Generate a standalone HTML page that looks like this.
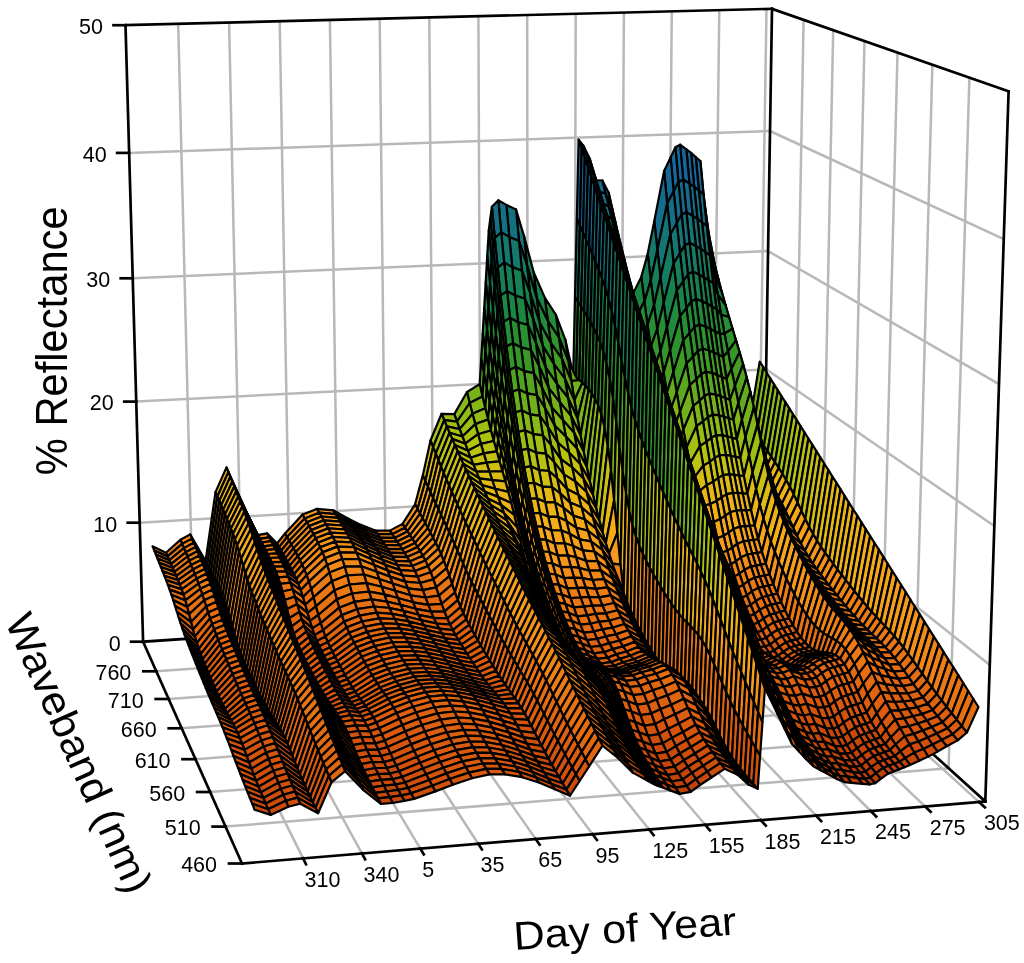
<!DOCTYPE html>
<html><head><meta charset="utf-8"><style>
html,body{margin:0;padding:0;background:#fff;}
svg{display:block}
.g{stroke:#b8b8b8;stroke-width:2.5}
.k{stroke:#000;stroke-width:2.7;stroke-linecap:square}
path{stroke:#000;stroke-width:2.2;stroke-linejoin:round}
.t{font-family:"Liberation Sans",Arial,sans-serif;font-size:21.5px;fill:#000}
.T{font-family:"Liberation Sans",Arial,sans-serif;font-size:100px;fill:#000}
.c0{fill:#7eb619}.c1{fill:#cfbf11}.c2{fill:#bec30f}.c3{fill:#7bb419}.c4{fill:#359727}.c5{fill:#18824c}.c6{fill:#147675}.c7{fill:#146b93}.c8{fill:#146998}.c9{fill:#14689a}.c10{fill:#14689b}.c11{fill:#14679d}.c12{fill:#14689c}.c13{fill:#146997}.c14{fill:#146e8c}.c15{fill:#14796c}.c16{fill:#178053}.c17{fill:#1b8643}.c18{fill:#1c8642}.c19{fill:#18824d}.c20{fill:#14796b}.c21{fill:#147084}.c22{fill:#146c91}.c23{fill:#146999}.c24{fill:#1466a0}.c25{fill:#1465a3}.c26{fill:#2a9032}.c27{fill:#4ba123}.c28{fill:#2e932d}.c29{fill:#248c39}.c30{fill:#198348}.c31{fill:#157b63}.c32{fill:#147479}.c33{fill:#147280}.c34{fill:#147184}.c35{fill:#14727e}.c36{fill:#147576}.c37{fill:#177f56}.c38{fill:#1c8643}.c39{fill:#298f33}.c40{fill:#3b9a26}.c41{fill:#5da91f}.c42{fill:#79b31a}.c43{fill:#87b917}.c44{fill:#9cbf13}.c45{fill:#a7c012}.c46{fill:#d6bd12}.c47{fill:#f5ac19}.c48{fill:#f5961c}.c49{fill:#ef8316}.c50{fill:#ed7f15}.c51{fill:#ef8517}.c52{fill:#f28e19}.c53{fill:#f6981c}.c54{fill:#f69b1b}.c55{fill:#f69b1c}.c56{fill:#f4921a}.c57{fill:#ee8015}.c58{fill:#f69e1b}.c59{fill:#eab615}.c60{fill:#e8b715}.c61{fill:#f6a11b}.c62{fill:#f08617}.c63{fill:#ed7e15}.c64{fill:#ec7a14}.c65{fill:#83b718}.c66{fill:#d4be12}.c67{fill:#c5c110}.c68{fill:#409c25}.c69{fill:#1b8544}.c70{fill:#157a66}.c71{fill:#14727f}.c72{fill:#146f87}.c73{fill:#146f8a}.c74{fill:#146d8f}.c75{fill:#146e8d}.c76{fill:#147086}.c77{fill:#147577}.c78{fill:#177f57}.c79{fill:#1d8741}.c80{fill:#278e36}.c81{fill:#268d37}.c82{fill:#167d5e}.c83{fill:#14737b}.c84{fill:#146f89}.c85{fill:#146a96}.c86{fill:#157a68}.c87{fill:#2b9131}.c88{fill:#5ea91f}.c89{fill:#429d25}.c90{fill:#2f942c}.c91{fill:#238c39}.c92{fill:#18824e}.c93{fill:#14786f}.c94{fill:#157969}.c95{fill:#167c61}.c96{fill:#278e35}.c97{fill:#329628}.c98{fill:#4fa322}.c99{fill:#6daf1c}.c100{fill:#85b817}.c101{fill:#91bc15}.c102{fill:#a3c012}.c103{fill:#adc111}.c104{fill:#dcbc13}.c105{fill:#f5aa19}.c106{fill:#f5941b}.c107{fill:#ef8216}.c108{fill:#ef8417}.c109{fill:#f28d19}.c110{fill:#f6971c}.c111{fill:#f69a1c}.c112{fill:#ee7f15}.c113{fill:#f69d1b}.c114{fill:#ebb516}.c115{fill:#e9b715}.c116{fill:#f6a01b}.c117{fill:#f08517}.c118{fill:#ed7d15}.c119{fill:#eb7a14}.c120{fill:#d9bc12}.c121{fill:#cbc011}.c122{fill:#8bba16}.c123{fill:#20893e}.c124{fill:#147772}.c125{fill:#14747a}.c126{fill:#147771}.c127{fill:#157c62}.c128{fill:#288f34}.c129{fill:#319529}.c130{fill:#2f942b}.c131{fill:#147673}.c132{fill:#147181}.c133{fill:#146b92}.c134{fill:#14699a}.c135{fill:#157b64}.c136{fill:#2c9130}.c137{fill:#70b01c}.c138{fill:#5ca820}.c139{fill:#439e25}.c140{fill:#2e932c}.c141{fill:#20893d}.c142{fill:#178055}.c143{fill:#177f58}.c144{fill:#178054}.c145{fill:#329629}.c146{fill:#49a023}.c147{fill:#62ab1e}.c148{fill:#7cb519}.c149{fill:#92bc15}.c150{fill:#a9c012}.c151{fill:#b3c210}.c152{fill:#e2ba13}.c153{fill:#f5a81a}.c154{fill:#f4931b}.c155{fill:#ee8216}.c156{fill:#ef8416}.c157{fill:#f28c19}.c158{fill:#f4911a}.c159{fill:#ee8116}.c160{fill:#f69c1b}.c161{fill:#ecb416}.c162{fill:#f69f1b}.c163{fill:#ed7c14}.c164{fill:#eb7914}.c165{fill:#ddbb13}.c166{fill:#d2be12}.c167{fill:#93bd15}.c168{fill:#55a621}.c169{fill:#258d38}.c170{fill:#198349}.c171{fill:#167d5c}.c172{fill:#167d5f}.c173{fill:#167e5b}.c174{fill:#349728}.c175{fill:#4aa123}.c176{fill:#419d25}.c177{fill:#2d932e}.c178{fill:#198447}.c179{fill:#146d8d}.c180{fill:#146b94}.c181{fill:#2d922e}.c182{fill:#76b21a}.c183{fill:#73b11b}.c184{fill:#2c922f}.c185{fill:#218a3d}.c186{fill:#228a3b}.c187{fill:#5faa1f}.c188{fill:#74b21b}.c189{fill:#8aba16}.c190{fill:#9ebf13}.c191{fill:#afc111}.c192{fill:#b9c210}.c193{fill:#e6b914}.c194{fill:#f5a61a}.c195{fill:#f5961b}.c196{fill:#f6991c}.c197{fill:#f3901a}.c198{fill:#edb316}.c199{fill:#ed7d14}.c200{fill:#ec7b14}.c201{fill:#ea7813}.c202{fill:#90bc15}.c203{fill:#d8bc12}.c204{fill:#9bbf13}.c205{fill:#19834a}.c206{fill:#18814f}.c207{fill:#198446}.c208{fill:#63ab1e}.c209{fill:#57a621}.c210{fill:#399927}.c211{fill:#1f883f}.c212{fill:#167c60}.c213{fill:#147478}.c214{fill:#146a97}.c215{fill:#167d5d}.c216{fill:#89b917}.c217{fill:#3e9b26}.c218{fill:#299033}.c219{fill:#4da223}.c220{fill:#63ac1e}.c221{fill:#84b818}.c222{fill:#98be14}.c223{fill:#abc111}.c224{fill:#b2c210}.c225{fill:#b5c210}.c226{fill:#f5a41a}.c227{fill:#f38f1a}.c228{fill:#ec7c14}.c229{fill:#f18b18}.c230{fill:#f5951b}.c231{fill:#eeb217}.c232{fill:#ea7713}.c233{fill:#94bd14}.c234{fill:#debb13}.c235{fill:#a4c012}.c236{fill:#69ae1d}.c237{fill:#248c38}.c238{fill:#238b3a}.c239{fill:#228a3c}.c240{fill:#258d37}.c241{fill:#68ad1d}.c242{fill:#7ab41a}.c243{fill:#6baf1d}.c244{fill:#14796a}.c245{fill:#146c90}.c246{fill:#177e59}.c247{fill:#81b718}.c248{fill:#9fbf13}.c249{fill:#88b917}.c250{fill:#59a720}.c251{fill:#339628}.c252{fill:#389927}.c253{fill:#66ad1e}.c254{fill:#86b817}.c255{fill:#b8c210}.c256{fill:#bcc30f}.c257{fill:#bbc30f}.c258{fill:#c4c210}.c259{fill:#f5a21a}.c260{fill:#f18a18}.c261{fill:#f38e19}.c262{fill:#efb117}.c263{fill:#99be14}.c264{fill:#e4b914}.c265{fill:#acc111}.c266{fill:#72b11b}.c267{fill:#30952a}.c268{fill:#30942b}.c269{fill:#2d932d}.c270{fill:#31952a}.c271{fill:#3f9c25}.c272{fill:#7fb619}.c273{fill:#8fbb15}.c274{fill:#7eb519}.c275{fill:#2b9130}.c276{fill:#18814e}.c277{fill:#146e8a}.c278{fill:#177f55}.c279{fill:#b6c210}.c280{fill:#9dbf13}.c281{fill:#71b11b}.c282{fill:#5ca920}.c283{fill:#55a521}.c284{fill:#53a521}.c285{fill:#8fbc15}.c286{fill:#a5c012}.c287{fill:#c3c210}.c288{fill:#c6c110}.c289{fill:#c1c20f}.c290{fill:#c9c010}.c291{fill:#ecb316}.c292{fill:#f18918}.c293{fill:#f0b017}.c294{fill:#e97613}.c295{fill:#e8b815}.c296{fill:#369827}.c297{fill:#459e24}.c298{fill:#48a024}.c299{fill:#439d25}.c300{fill:#5aa820}.c301{fill:#7db519}.c302{fill:#6caf1c}.c303{fill:#167e5a}.c304{fill:#147085}.c305{fill:#147182}.c306{fill:#188151}.c307{fill:#8ebb16}.c308{fill:#b4c210}.c309{fill:#a0bf13}.c310{fill:#6fb01c}.c311{fill:#6aae1d}.c312{fill:#75b21b}.c313{fill:#80b618}.c314{fill:#a6c012}.c315{fill:#c7c110}.c316{fill:#cebf11}.c317{fill:#f18818}.c318{fill:#f1b018}.c319{fill:#e97513}.c320{fill:#ebb416}.c321{fill:#bdc30f}.c322{fill:#4ca223}.c323{fill:#5ba820}.c324{fill:#5eaa1f}.c325{fill:#65ac1e}.c326{fill:#3d9b26}.c327{fill:#1e8840}.c328{fill:#147770}.c329{fill:#14737d}.c330{fill:#3c9a26}.c331{fill:#97be14}.c332{fill:#dfbb13}.c333{fill:#c8c010}.c334{fill:#b7c210}.c335{fill:#8dbb16}.c336{fill:#82b718}.c337{fill:#81b618}.c338{fill:#8cba16}.c339{fill:#96be14}.c340{fill:#c0c30f}.c341{fill:#d1be11}.c342{fill:#d8bd12}.c343{fill:#ccc011}.c344{fill:#f08817}.c345{fill:#f08717}.c346{fill:#f2ae18}.c347{fill:#e87413}.c348{fill:#76b31a}.c349{fill:#78b31a}.c350{fill:#c2c210}.c351{fill:#d0be11}.c352{fill:#15796a}.c353{fill:#147578}.c354{fill:#469f24}.c355{fill:#eab515}.c356{fill:#dbbc13}.c357{fill:#d2be11}.c358{fill:#e3ba14}.c359{fill:#f2af18}.c360{fill:#f3911a}.c361{fill:#f3ad18}.c362{fill:#e87313}.c363{fill:#aec111}.c364{fill:#f0b117}.c365{fill:#9abf13}.c366{fill:#67ad1d}.c367{fill:#c2c20f}.c368{fill:#d7bd12}.c369{fill:#58a720}.c370{fill:#288e35}.c371{fill:#1a8545}.c372{fill:#14737c}.c373{fill:#54a521}.c374{fill:#cdbf11}.c375{fill:#b1c111}.c376{fill:#e5b914}.c377{fill:#f4ad19}.c378{fill:#f28b18}.c379{fill:#f38f19}.c380{fill:#f3ae18}.c381{fill:#e77212}.c382{fill:#a8c012}.c383{fill:#e7b814}.c384{fill:#1e883f}.c385{fill:#68ae1d}.c386{fill:#e1ba13}.c387{fill:#cac010}.c388{fill:#cac011}.c389{fill:#dabc13}.c390{fill:#f5ab19}.c391{fill:#e77312}.c392{fill:#e67012}.c393{fill:#bac30f}.c394{fill:#87b817}.c395{fill:#b0c111}.c396{fill:#c8c110}.c397{fill:#c4c110}.c398{fill:#157b65}.c399{fill:#f5a31a}.c400{fill:#f4ac19}.c401{fill:#f1af18}.c402{fill:#e7b914}.c403{fill:#f5a919}.c404{fill:#e66f12}.c405{fill:#f08818}.c406{fill:#f5a71a}.c407{fill:#e77112}.c408{fill:#e56e12}.c409{fill:#c0c20f}.c410{fill:#e0ba13}.c411{fill:#188150}.c412{fill:#14786d}.c413{fill:#e56f12}.c414{fill:#eb7814}.c415{fill:#e36b11}.c416{fill:#e46d11}.c417{fill:#f5a51a}.c418{fill:#e46c11}.c419{fill:#b2c111}.c420{fill:#e0bb13}.c421{fill:#f6a21b}.c422{fill:#449e24}.c423{fill:#18834a}.c424{fill:#157a67}.c425{fill:#e36a11}.c426{fill:#e16710}.c427{fill:#e26911}.c428{fill:#e46b11}.c429{fill:#e9b615}.c430{fill:#60aa1f}.c431{fill:#e16610}.c432{fill:#e87513}.c433{fill:#df6210}.c434{fill:#e06510}.c435{fill:#efb217}.c436{fill:#dabc12}.c437{fill:#188152}.c438{fill:#f4931a}.c439{fill:#df6310}.c440{fill:#dd5f0f}.c441{fill:#e16810}.c442{fill:#64ac1e}.c443{fill:#e56d12}.c444{fill:#de610f}.c445{fill:#e06410}.c446{fill:#e26811}.c447{fill:#db5c0e}.c448{fill:#dd600f}.c449{fill:#e06610}.c450{fill:#df6410}.c451{fill:#da5a0e}.c452{fill:#dc5e0f}.c453{fill:#de620f}.c454{fill:#e2ba14}.c455{fill:#ee8016}.c456{fill:#77b31a}.c457{fill:#299032}.c458{fill:#d9590e}.c459{fill:#dc5d0f}.c460{fill:#a1bf13}.c461{fill:#d8580d}.c462{fill:#50a322}.c463{fill:#258c38}.c464{fill:#aac111}.c465{fill:#d7570d}.c466{fill:#da5b0e}.c467{fill:#db5b0e}.c468{fill:#e67112}.c469{fill:#e26a11}.c470{fill:#228b3b}.c471{fill:#f28b19}.c472{fill:#d6560d}.c473{fill:#268e36}.c474{fill:#319629}.c475{fill:#bac210}.c476{fill:#4ca123}.c477{fill:#3a9926}.c478{fill:#d5550d}.c479{fill:#d3530c}.c480{fill:#d8580e}.c481{fill:#95be14}.c482{fill:#d2520c}.c483{fill:#de600f}.c484{fill:#d4540c}.c485{fill:#4aa023}.c486{fill:#3a9a26}.c487{fill:#d1510b}.c488{fill:#dcbb13}.c489{fill:#d0500b}.c490{fill:#dc5f0f}.c491{fill:#db5d0e}.c492{fill:#9abe14}.c493{fill:#4ea222}.c494{fill:#a2bf13}.c495{fill:#ccbf11}.c496{fill:#ea7613}.c497{fill:#f4941b}.c498{fill:#d5bd12}.c499{fill:#d4bd12}.c500{fill:#d1510c}.c501{fill:#cd4d0a}.c502{fill:#f5971c}.c503{fill:#cc4c0a}.c504{fill:#ce4e0b}.c505{fill:#cb4b0a}.c506{fill:#c84809}.c507{fill:#c94909}.c508{fill:#cf4f0b}.c509{fill:#cd4d0b}.c510{fill:#ca4a0a}.c511{fill:#c74709}.c512{fill:#c44408}.c513{fill:#c14208}.c514{fill:#c54508}.c515{fill:#c64608}.c516{fill:#c14308}.c517{fill:#be4108}.c518{fill:#c24308}.c519{fill:#c34408}.c520{fill:#c64609}.c521{fill:#bf4208}.c522{fill:#bc4007}.c523{fill:#bd4007}.c524{fill:#c04208}.c525{fill:#c34308}.c526{fill:#be4107}.c527{fill:#bb3f07}.c528{fill:#bb4007}.c529{fill:#ba3f07}.c530{fill:#b93e07}.c531{fill:#bf4108}
</style></head><body>
<svg width="1024" height="963" viewBox="0 0 1024 963">
<rect width="1024" height="963" fill="#fff"/>
<line class="g" x1="193.6" y1="638.3" x2="178.2" y2="23.9"/>
<line class="g" x1="303.1" y1="858.4" x2="193.6" y2="638.3"/>
<line class="g" x1="242.3" y1="635.0" x2="229.1" y2="22.6"/>
<line class="g" x1="361.9" y1="853.4" x2="242.3" y2="635.0"/>
<line class="g" x1="290.6" y1="631.7" x2="279.7" y2="21.3"/>
<line class="g" x1="420.3" y1="848.6" x2="290.6" y2="631.7"/>
<line class="g" x1="338.7" y1="628.4" x2="329.9" y2="20.0"/>
<line class="g" x1="478.2" y1="843.7" x2="338.7" y2="628.4"/>
<line class="g" x1="386.4" y1="625.2" x2="379.7" y2="18.8"/>
<line class="g" x1="535.6" y1="838.9" x2="386.4" y2="625.2"/>
<line class="g" x1="433.8" y1="622.0" x2="429.3" y2="17.5"/>
<line class="g" x1="592.6" y1="834.2" x2="433.8" y2="622.0"/>
<line class="g" x1="480.9" y1="618.8" x2="478.4" y2="16.2"/>
<line class="g" x1="649.1" y1="829.5" x2="480.9" y2="618.8"/>
<line class="g" x1="527.7" y1="615.7" x2="527.2" y2="15.0"/>
<line class="g" x1="705.2" y1="824.8" x2="527.7" y2="615.7"/>
<line class="g" x1="574.2" y1="612.5" x2="575.7" y2="13.8"/>
<line class="g" x1="760.8" y1="820.2" x2="574.2" y2="612.5"/>
<line class="g" x1="620.3" y1="609.4" x2="623.9" y2="12.6"/>
<line class="g" x1="816.0" y1="815.5" x2="620.3" y2="609.4"/>
<line class="g" x1="666.2" y1="606.3" x2="671.8" y2="11.3"/>
<line class="g" x1="870.7" y1="811.0" x2="666.2" y2="606.3"/>
<line class="g" x1="711.8" y1="603.2" x2="719.3" y2="10.1"/>
<line class="g" x1="925.0" y1="806.4" x2="711.8" y2="603.2"/>
<line class="g" x1="757.1" y1="600.1" x2="766.5" y2="8.9"/>
<line class="g" x1="978.9" y1="801.9" x2="757.1" y2="600.1"/>
<line class="g" x1="948.6" y1="768.2" x2="969.4" y2="77.6"/>
<line class="g" x1="913.9" y1="736.8" x2="932.4" y2="64.7"/>
<line class="g" x1="881.0" y1="707.1" x2="897.5" y2="52.5"/>
<line class="g" x1="849.9" y1="679.0" x2="864.5" y2="41.0"/>
<line class="g" x1="820.4" y1="652.3" x2="833.2" y2="30.1"/>
<line class="g" x1="792.4" y1="626.9" x2="803.6" y2="19.8"/>
<line class="g" x1="225.6" y1="826.6" x2="948.6" y2="768.2"/>
<line class="g" x1="210.1" y1="792.0" x2="913.9" y2="736.8"/>
<line class="g" x1="195.5" y1="759.2" x2="881.0" y2="707.1"/>
<line class="g" x1="181.7" y1="728.3" x2="849.9" y2="679.0"/>
<line class="g" x1="168.7" y1="699.0" x2="820.4" y2="652.3"/>
<line class="g" x1="156.3" y1="671.3" x2="792.4" y2="626.9"/>
<line class="g" x1="139.7" y1="522.7" x2="764.2" y2="485.5"/>
<line class="g" x1="989.8" y1="665.1" x2="764.2" y2="485.5"/>
<line class="g" x1="136.2" y1="401.6" x2="766.1" y2="369.3"/>
<line class="g" x1="994.3" y1="526.0" x2="766.1" y2="369.3"/>
<line class="g" x1="132.7" y1="278.3" x2="768.1" y2="251.1"/>
<line class="g" x1="999.0" y1="384.1" x2="768.1" y2="251.1"/>
<line class="g" x1="129.1" y1="152.9" x2="770.0" y2="131.0"/>
<line class="g" x1="1003.8" y1="239.2" x2="770.0" y2="131.0"/>
<line class="k" x1="143.1" y1="641.7" x2="125.5" y2="25.2"/>
<line class="k" x1="125.5" y1="25.2" x2="772.0" y2="8.8"/>
<line class="k" x1="772.0" y1="8.8" x2="1008.6" y2="91.3"/>
<line class="k" x1="1008.6" y1="91.3" x2="985.3" y2="801.4"/>
<line class="k" x1="762.4" y1="599.8" x2="772.0" y2="8.8"/>
<line class="k" x1="242.0" y1="863.5" x2="985.3" y2="801.4"/>
<line class="k" x1="242.0" y1="863.5" x2="143.1" y2="641.7"/>
<line class="k" x1="143.1" y1="641.7" x2="762.4" y2="599.8"/>
<line class="k" x1="985.3" y1="801.4" x2="762.4" y2="599.8"/>
<path class="c0" d="M753.1 429.6L763.3 367.2L759.7 361.6L749.5 424.1Z"/>
<path class="c1" d="M745.2 443.4L753.1 429.6L749.5 424.1L741.7 437.3Z"/>
<path class="c2" d="M736.4 418.5L745.2 443.4L741.7 437.3L732.9 411.4Z"/>
<path class="c3" d="M729.3 372.8L736.4 418.5L732.9 411.4L725.8 363.9Z"/>
<path class="c4" d="M722.2 324.5L729.3 372.8L725.8 363.9L718.8 313.5Z"/>
<path class="c5" d="M715.2 267.0L722.2 324.5L718.8 313.5L711.8 253.5Z"/>
<path class="c6" d="M707.8 228.9L715.2 267.0L711.8 253.5L704.6 204.5Z"/>
<path class="c7" d="M703.5 194.4L707.8 228.9L704.6 204.5L700.4 161.1Z"/>
<path class="c8" d="M698.9 190.7L703.5 194.4L700.4 161.1L695.7 157.0Z"/>
<path class="c9" d="M694.2 186.9L698.9 190.7L695.7 157.0L691.1 152.9Z"/>
<path class="c10" d="M689.5 183.6L694.2 186.9L691.1 152.9L686.4 149.4Z"/>
<path class="c11" d="M683.2 179.5L689.5 183.6L686.4 149.4L680.1 144.7Z"/>
<path class="c11" d="M678.5 182.1L683.2 179.5L680.1 144.7L675.4 147.3Z"/>
<path class="c12" d="M673.7 191.3L678.5 182.1L675.4 147.3L670.6 157.4Z"/>
<path class="c13" d="M667.2 203.6L673.7 191.3L670.6 157.4L664.1 170.9Z"/>
<path class="c14" d="M657.4 249.9L667.2 203.6L664.1 170.9L654.3 221.0Z"/>
<path class="c15" d="M650.8 280.4L657.4 249.9L654.3 221.0L647.7 253.8Z"/>
<path class="c16" d="M644.4 301.6L650.8 280.4L647.7 253.8L641.3 276.9Z"/>
<path class="c17" d="M636.4 316.1L644.4 301.6L641.3 276.9L633.3 292.9Z"/>
<path class="c18" d="M630.2 300.9L636.4 316.1L633.3 292.9L627.1 280.0Z"/>
<path class="c19" d="M624.0 285.5L630.2 300.9L627.1 280.0L620.9 267.0Z"/>
<path class="c20" d="M618.0 240.7L624.0 285.5L620.9 267.0L614.8 223.8Z"/>
<path class="c21" d="M611.8 206.7L618.0 240.7L614.8 223.8L608.6 192.4Z"/>
<path class="c22" d="M605.5 193.6L611.8 206.7L608.6 192.4L602.4 180.5Z"/>
<path class="c7" d="M599.1 191.9L605.5 193.6L602.4 180.5L596.0 180.3Z"/>
<path class="c23" d="M592.8 169.0L599.1 191.9L596.0 180.3L589.7 158.5Z"/>
<path class="c24" d="M586.5 154.9L592.8 169.0L589.7 158.5L583.4 145.7Z"/>
<path class="c25" d="M581.7 148.8L586.5 154.9L583.4 145.7L578.6 139.7Z"/>
<path class="c12" d="M579.9 225.8L581.7 148.8L578.6 139.7L576.8 218.8Z"/>
<path class="c20" d="M578.0 301.9L579.9 225.8L576.8 218.8L575.0 297.1Z"/>
<path class="c26" d="M576.2 377.2L578.0 301.9L575.0 297.1L573.2 374.6Z"/>
<path class="c27" d="M568.4 361.0L576.2 377.2L573.2 374.6L565.4 339.8Z"/>
<path class="c28" d="M558.9 337.3L568.4 361.0L565.4 339.8L555.9 314.8Z"/>
<path class="c29" d="M547.8 320.9L558.9 337.3L555.9 314.8L544.8 297.6Z"/>
<path class="c30" d="M536.7 298.1L547.8 320.9L544.8 297.6L533.7 272.2Z"/>
<path class="c31" d="M527.0 265.3L536.7 298.1L533.7 272.2L524.1 236.2Z"/>
<path class="c32" d="M519.0 241.0L527.0 265.3L524.1 236.2L516.0 209.4Z"/>
<path class="c33" d="M509.3 236.9L519.0 241.0L516.0 209.4L506.4 204.9Z"/>
<path class="c34" d="M501.2 232.4L509.3 236.9L506.4 204.9L498.3 200.3Z"/>
<path class="c34" d="M494.8 238.1L501.2 232.4L498.3 200.3L491.9 206.7Z"/>
<path class="c35" d="M493.2 248.9L494.8 238.1L491.9 206.7L490.3 218.4Z"/>
<path class="c36" d="M491.7 259.6L493.2 248.9L490.3 218.4L488.8 230.1Z"/>
<path class="c20" d="M490.1 283.7L491.7 259.6L488.8 230.1L487.2 256.2Z"/>
<path class="c37" d="M488.6 307.7L490.1 283.7L487.2 256.2L485.7 282.2Z"/>
<path class="c38" d="M487.1 329.7L488.6 307.7L485.7 282.2L484.2 308.1Z"/>
<path class="c39" d="M485.5 351.7L487.1 329.7L484.2 308.1L482.7 333.5Z"/>
<path class="c40" d="M484.0 373.9L485.5 351.7L482.7 333.5L481.2 358.9Z"/>
<path class="c41" d="M482.5 396.4L484.0 373.9L481.2 358.9L479.7 384.1Z"/>
<path class="c42" d="M469.7 403.0L482.5 396.4L479.7 384.1L467.0 392.0Z"/>
<path class="c43" d="M457.0 421.7L469.7 403.0L467.0 392.0L454.3 414.1Z"/>
<path class="c44" d="M444.2 420.1L457.0 421.7L454.3 414.1L441.5 413.8Z"/>
<path class="c45" d="M433.1 447.1L444.2 420.1L441.5 413.8L430.5 440.5Z"/>
<path class="c46" d="M425.4 481.1L433.1 447.1L430.5 440.5L422.8 475.4Z"/>
<path class="c47" d="M417.6 509.0L425.4 481.1L422.8 475.4L415.1 504.3Z"/>
<path class="c48" d="M405.0 527.7L417.6 509.0L415.1 504.3L402.5 523.9Z"/>
<path class="c49" d="M392.2 534.2L405.0 527.7L402.5 523.9L389.8 530.6Z"/>
<path class="c50" d="M377.7 534.0L392.2 534.2L389.8 530.6L375.3 530.5Z"/>
<path class="c51" d="M363.2 528.4L377.7 534.0L375.3 530.5L360.8 524.9Z"/>
<path class="c52" d="M350.2 522.0L363.2 528.4L360.8 524.9L347.9 518.4Z"/>
<path class="c53" d="M335.5 514.1L350.2 522.0L347.9 518.4L333.2 510.3Z"/>
<path class="c54" d="M319.2 512.7L335.5 514.1L333.2 510.3L317.0 508.9Z"/>
<path class="c55" d="M304.7 518.4L319.2 512.7L317.0 508.9L302.6 514.5Z"/>
<path class="c56" d="M287.1 537.1L304.7 518.4L302.6 514.5L285.0 533.5Z"/>
<path class="c50" d="M279.1 547.1L287.1 537.1L285.0 533.5L277.1 543.4Z"/>
<path class="c57" d="M269.2 537.3L279.1 547.1L277.1 543.4L267.1 533.3Z"/>
<path class="c49" d="M259.4 538.8L269.2 537.3L267.1 533.3L257.4 535.1Z"/>
<path class="c58" d="M244.0 506.8L259.4 538.8L257.4 535.1L242.0 502.6Z"/>
<path class="c59" d="M228.4 472.1L244.0 506.8L242.0 502.6L226.5 467.4Z"/>
<path class="c60" d="M217.4 496.5L228.4 472.1L226.5 467.4L215.5 492.1Z"/>
<path class="c61" d="M207.4 564.6L217.4 496.5L215.5 492.1L205.6 561.0Z"/>
<path class="c57" d="M192.0 538.6L207.4 564.6L205.6 561.0L190.2 534.4Z"/>
<path class="c62" d="M182.2 543.9L192.0 538.6L190.2 534.4L180.4 539.8Z"/>
<path class="c63" d="M167.6 556.4L182.2 543.9L180.4 539.8L165.9 552.7Z"/>
<path class="c64" d="M154.2 550.4L167.6 556.4L165.9 552.7L152.5 546.3Z"/>
<path class="c65" d="M756.7 435.0L766.9 373.0L763.3 367.2L753.1 429.6Z"/>
<path class="c66" d="M748.8 449.3L756.7 435.0L753.1 429.6L745.2 443.4Z"/>
<path class="c67" d="M739.9 425.5L748.8 449.3L745.2 443.4L736.4 418.5Z"/>
<path class="c65" d="M732.8 381.5L739.9 425.5L736.4 418.5L729.3 372.8Z"/>
<path class="c68" d="M725.7 335.1L732.8 381.5L729.3 372.8L722.2 324.5Z"/>
<path class="c69" d="M718.6 280.1L725.7 335.1L722.2 324.5L715.2 267.0Z"/>
<path class="c70" d="M711.1 252.1L718.6 280.1L715.2 267.0L707.8 228.9Z"/>
<path class="c71" d="M706.7 225.8L711.1 252.1L707.8 228.9L703.5 194.4Z"/>
<path class="c72" d="M702.0 222.3L706.7 225.8L703.5 194.4L698.9 190.7Z"/>
<path class="c73" d="M697.4 218.8L702.0 222.3L698.9 190.7L694.2 186.9Z"/>
<path class="c14" d="M692.7 215.9L697.4 218.8L694.2 186.9L689.5 183.6Z"/>
<path class="c74" d="M686.4 212.2L692.7 215.9L689.5 183.6L683.2 179.5Z"/>
<path class="c74" d="M681.6 214.7L686.4 212.2L683.2 179.5L678.5 182.1Z"/>
<path class="c75" d="M676.8 223.2L681.6 214.7L678.5 182.1L673.7 191.3Z"/>
<path class="c76" d="M670.4 234.3L676.8 223.2L673.7 191.3L667.2 203.6Z"/>
<path class="c77" d="M660.5 277.3L670.4 234.3L667.2 203.6L657.4 249.9Z"/>
<path class="c78" d="M654.0 305.4L660.5 277.3L657.4 249.9L650.8 280.4Z"/>
<path class="c79" d="M647.5 324.9L654.0 305.4L650.8 280.4L644.4 301.6Z"/>
<path class="c80" d="M639.6 338.0L647.5 324.9L644.4 301.6L636.4 316.1Z"/>
<path class="c81" d="M633.4 320.8L639.6 338.0L636.4 316.1L630.2 300.9Z"/>
<path class="c79" d="M627.2 303.1L633.4 320.8L630.2 300.9L624.0 285.5Z"/>
<path class="c82" d="M621.1 257.0L627.2 303.1L624.0 285.5L618.0 240.7Z"/>
<path class="c83" d="M615.0 220.6L621.1 257.0L618.0 240.7L611.8 206.7Z"/>
<path class="c84" d="M608.7 206.5L615.0 220.6L611.8 206.7L605.5 193.6Z"/>
<path class="c75" d="M602.3 203.3L608.7 206.5L605.5 193.6L599.1 191.9Z"/>
<path class="c85" d="M596.0 179.5L602.3 203.3L599.1 191.9L592.8 169.0Z"/>
<path class="c11" d="M589.6 164.2L596.0 179.5L592.8 169.0L586.5 154.9Z"/>
<path class="c24" d="M584.8 158.0L589.6 164.2L586.5 154.9L581.7 148.8Z"/>
<path class="c23" d="M583.0 232.8L584.8 158.0L581.7 148.8L579.9 225.8Z"/>
<path class="c86" d="M581.1 306.8L583.0 232.8L579.9 225.8L578.0 301.9Z"/>
<path class="c87" d="M579.3 380.0L581.1 306.8L578.0 301.9L576.2 377.2Z"/>
<path class="c88" d="M571.4 381.1L579.3 380.0L576.2 377.2L568.4 361.0Z"/>
<path class="c89" d="M561.9 358.6L571.4 381.1L568.4 361.0L558.9 337.3Z"/>
<path class="c90" d="M550.8 343.0L561.9 358.6L558.9 337.3L547.8 320.9Z"/>
<path class="c91" d="M539.6 322.5L550.8 343.0L547.8 320.9L536.7 298.1Z"/>
<path class="c92" d="M530.0 292.7L539.6 322.5L536.7 298.1L527.0 265.3Z"/>
<path class="c31" d="M521.9 270.7L530.0 292.7L527.0 265.3L519.0 241.0Z"/>
<path class="c20" d="M512.3 267.1L521.9 270.7L519.0 241.0L509.3 236.9Z"/>
<path class="c93" d="M504.2 262.7L512.3 267.1L509.3 236.9L501.2 232.4Z"/>
<path class="c93" d="M497.7 267.7L504.2 262.7L501.2 232.4L494.8 238.1Z"/>
<path class="c94" d="M496.1 277.6L497.7 267.7L494.8 238.1L493.2 248.9Z"/>
<path class="c95" d="M494.6 287.5L496.1 277.6L493.2 248.9L491.7 259.6Z"/>
<path class="c37" d="M493.0 309.7L494.6 287.5L491.7 259.6L490.1 283.7Z"/>
<path class="c17" d="M491.5 331.8L493.0 309.7L490.1 283.7L488.6 307.7Z"/>
<path class="c96" d="M489.9 350.2L491.5 331.8L488.6 307.7L487.1 329.7Z"/>
<path class="c97" d="M488.4 368.9L489.9 350.2L487.1 329.7L485.5 351.7Z"/>
<path class="c98" d="M486.8 388.2L488.4 368.9L485.5 351.7L484.0 373.9Z"/>
<path class="c99" d="M485.3 408.2L486.8 388.2L484.0 373.9L482.5 396.4Z"/>
<path class="c100" d="M472.5 413.7L485.3 408.2L482.5 396.4L469.7 403.0Z"/>
<path class="c101" d="M459.7 429.1L472.5 413.7L469.7 403.0L457.0 421.7Z"/>
<path class="c102" d="M446.8 426.4L459.7 429.1L457.0 421.7L444.2 420.1Z"/>
<path class="c103" d="M435.8 453.7L446.8 426.4L444.2 420.1L433.1 447.1Z"/>
<path class="c104" d="M428.0 486.9L435.8 453.7L433.1 447.1L425.4 481.1Z"/>
<path class="c105" d="M420.1 513.7L428.0 486.9L425.4 481.1L417.6 509.0Z"/>
<path class="c106" d="M407.4 531.4L420.1 513.7L417.6 509.0L405.0 527.7Z"/>
<path class="c107" d="M394.6 537.9L407.4 531.4L405.0 527.7L392.2 534.2Z"/>
<path class="c63" d="M380.1 537.7L394.6 537.9L392.2 534.2L377.7 534.0Z"/>
<path class="c108" d="M365.5 532.1L380.1 537.7L377.7 534.0L363.2 528.4Z"/>
<path class="c109" d="M352.5 525.7L365.5 532.1L363.2 528.4L350.2 522.0Z"/>
<path class="c110" d="M337.8 517.8L352.5 525.7L350.2 522.0L335.5 514.1Z"/>
<path class="c55" d="M321.5 516.5L337.8 517.8L335.5 514.1L319.2 512.7Z"/>
<path class="c111" d="M306.9 522.2L321.5 516.5L319.2 512.7L304.7 518.4Z"/>
<path class="c56" d="M289.2 540.8L306.9 522.2L304.7 518.4L287.1 537.1Z"/>
<path class="c50" d="M281.2 550.7L289.2 540.8L287.1 537.1L279.1 547.1Z"/>
<path class="c112" d="M271.2 541.2L281.2 550.7L279.1 547.1L269.2 537.3Z"/>
<path class="c107" d="M261.4 542.5L271.2 541.2L269.2 537.3L259.4 538.8Z"/>
<path class="c113" d="M245.9 511.0L261.4 542.5L259.4 538.8L244.0 506.8Z"/>
<path class="c114" d="M230.3 476.9L245.9 511.0L244.0 506.8L228.4 472.1Z"/>
<path class="c115" d="M219.3 500.9L230.3 476.9L228.4 472.1L217.4 496.5Z"/>
<path class="c116" d="M209.3 568.2L219.3 500.9L217.4 496.5L207.4 564.6Z"/>
<path class="c50" d="M193.8 542.7L209.3 568.2L207.4 564.6L192.0 538.6Z"/>
<path class="c117" d="M183.9 548.1L193.8 542.7L192.0 538.6L182.2 543.9Z"/>
<path class="c118" d="M169.3 560.2L183.9 548.1L182.2 543.9L167.6 556.4Z"/>
<path class="c119" d="M155.9 554.5L169.3 560.2L167.6 556.4L154.2 550.4Z"/>
<path class="c43" d="M760.3 440.5L770.5 378.7L766.9 373.0L756.7 435.0Z"/>
<path class="c120" d="M752.3 455.2L760.3 440.5L756.7 435.0L748.8 449.3Z"/>
<path class="c121" d="M743.4 432.4L752.3 455.2L748.8 449.3L739.9 425.5Z"/>
<path class="c122" d="M736.3 390.0L743.4 432.4L739.9 425.5L732.8 381.5Z"/>
<path class="c27" d="M729.1 345.5L736.3 390.0L732.8 381.5L725.7 335.1Z"/>
<path class="c123" d="M722.0 292.7L729.1 345.5L725.7 335.1L718.6 280.1Z"/>
<path class="c78" d="M714.4 274.1L722.0 292.7L718.6 280.1L711.1 252.1Z"/>
<path class="c15" d="M709.9 255.3L714.4 274.1L711.1 252.1L706.7 225.8Z"/>
<path class="c124" d="M705.3 252.1L709.9 255.3L706.7 225.8L702.0 222.3Z"/>
<path class="c6" d="M700.6 248.9L705.3 252.1L702.0 222.3L697.4 218.8Z"/>
<path class="c77" d="M695.9 246.1L700.6 248.9L697.4 218.8L692.7 215.9Z"/>
<path class="c32" d="M689.6 242.9L695.9 246.1L692.7 215.9L686.4 212.2Z"/>
<path class="c125" d="M684.8 245.4L689.6 242.9L686.4 212.2L681.6 214.7Z"/>
<path class="c77" d="M680.0 253.2L684.8 245.4L681.6 214.7L676.8 223.2Z"/>
<path class="c126" d="M673.6 263.3L680.0 253.2L676.8 223.2L670.4 234.3Z"/>
<path class="c127" d="M663.7 303.1L673.6 263.3L670.4 234.3L660.5 277.3Z"/>
<path class="c17" d="M657.2 329.1L663.7 303.1L660.5 277.3L654.0 305.4Z"/>
<path class="c128" d="M650.7 347.0L657.2 329.1L654.0 305.4L647.5 324.9Z"/>
<path class="c129" d="M642.7 358.8L650.7 347.0L647.5 324.9L639.6 338.0Z"/>
<path class="c130" d="M636.5 339.7L642.7 358.8L639.6 338.0L633.4 320.8Z"/>
<path class="c81" d="M630.3 320.0L636.5 339.7L633.4 320.8L627.2 303.1Z"/>
<path class="c16" d="M624.3 272.8L630.3 320.0L627.2 303.1L621.1 257.0Z"/>
<path class="c131" d="M618.1 234.1L624.3 272.8L621.1 257.0L615.0 220.6Z"/>
<path class="c132" d="M611.8 219.1L618.1 234.1L615.0 220.6L608.7 206.5Z"/>
<path class="c76" d="M605.4 214.5L611.8 219.1L608.7 206.5L602.3 203.3Z"/>
<path class="c133" d="M599.1 189.9L605.4 214.5L602.3 203.3L596.0 179.5Z"/>
<path class="c134" d="M592.8 173.5L599.1 189.9L596.0 179.5L589.6 164.2Z"/>
<path class="c11" d="M588.0 167.3L592.8 173.5L589.6 164.2L584.8 158.0Z"/>
<path class="c85" d="M586.1 239.9L588.0 167.3L584.8 158.0L583.0 232.8Z"/>
<path class="c135" d="M584.2 311.8L586.1 239.9L583.0 232.8L581.1 306.8Z"/>
<path class="c136" d="M582.4 382.9L584.2 311.8L581.1 306.8L579.3 380.0Z"/>
<path class="c137" d="M574.4 400.2L582.4 382.9L579.3 380.0L571.4 381.1Z"/>
<path class="c138" d="M564.9 378.7L574.4 400.2L571.4 381.1L561.9 358.6Z"/>
<path class="c139" d="M553.8 363.9L564.9 378.7L561.9 358.6L550.8 343.0Z"/>
<path class="c140" d="M542.6 345.5L553.8 363.9L550.8 343.0L539.6 322.5Z"/>
<path class="c141" d="M533.0 318.5L542.6 345.5L539.6 322.5L530.0 292.7Z"/>
<path class="c92" d="M524.9 298.7L533.0 318.5L530.0 292.7L521.9 270.7Z"/>
<path class="c142" d="M515.2 295.5L524.9 298.7L521.9 270.7L512.3 267.1Z"/>
<path class="c143" d="M507.1 291.2L515.2 295.5L512.3 267.1L504.2 262.7Z"/>
<path class="c143" d="M500.6 295.6L507.1 291.2L504.2 262.7L497.7 267.7Z"/>
<path class="c144" d="M499.1 304.7L500.6 295.6L497.7 267.7L496.1 277.6Z"/>
<path class="c5" d="M497.5 313.8L499.1 304.7L496.1 277.6L494.6 287.5Z"/>
<path class="c38" d="M495.9 334.2L497.5 313.8L494.6 287.5L493.0 309.7Z"/>
<path class="c96" d="M494.3 354.6L495.9 334.2L493.0 309.7L491.5 331.8Z"/>
<path class="c145" d="M492.8 369.6L494.3 354.6L491.5 331.8L489.9 350.2Z"/>
<path class="c146" d="M491.2 385.3L492.8 369.6L489.9 350.2L488.4 368.9Z"/>
<path class="c147" d="M489.7 402.0L491.2 385.3L488.4 368.9L486.8 388.2Z"/>
<path class="c148" d="M488.1 419.5L489.7 402.0L486.8 388.2L485.3 408.2Z"/>
<path class="c149" d="M475.3 424.1L488.1 419.5L485.3 408.2L472.5 413.7Z"/>
<path class="c44" d="M462.4 436.5L475.3 424.1L472.5 413.7L459.7 429.1Z"/>
<path class="c150" d="M449.5 432.7L462.4 436.5L459.7 429.1L446.8 426.4Z"/>
<path class="c151" d="M438.4 460.2L449.5 432.7L446.8 426.4L435.8 453.7Z"/>
<path class="c152" d="M430.6 492.5L438.4 460.2L435.8 453.7L428.0 486.9Z"/>
<path class="c153" d="M422.7 518.5L430.6 492.5L428.0 486.9L420.1 513.7Z"/>
<path class="c154" d="M410.0 535.2L422.7 518.5L420.1 513.7L407.4 531.4Z"/>
<path class="c155" d="M397.1 541.6L410.0 535.2L407.4 531.4L394.6 537.9Z"/>
<path class="c63" d="M382.5 541.3L397.1 541.6L394.6 537.9L380.1 537.7Z"/>
<path class="c156" d="M367.9 535.7L382.5 541.3L380.1 537.7L365.5 532.1Z"/>
<path class="c157" d="M354.8 529.4L367.9 535.7L365.5 532.1L352.5 525.7Z"/>
<path class="c48" d="M340.0 521.6L354.8 529.4L352.5 525.7L337.8 517.8Z"/>
<path class="c111" d="M323.7 520.4L340.0 521.6L337.8 517.8L321.5 516.5Z"/>
<path class="c111" d="M309.0 526.1L323.7 520.4L321.5 516.5L306.9 522.2Z"/>
<path class="c158" d="M291.3 544.5L309.0 526.1L306.9 522.2L289.2 540.8Z"/>
<path class="c63" d="M283.3 554.4L291.3 544.5L289.2 540.8L281.2 550.7Z"/>
<path class="c50" d="M273.3 545.2L283.3 554.4L281.2 550.7L271.2 541.2Z"/>
<path class="c159" d="M263.4 546.3L273.3 545.2L271.2 541.2L261.4 542.5Z"/>
<path class="c160" d="M247.9 515.3L263.4 546.3L261.4 542.5L245.9 511.0Z"/>
<path class="c161" d="M232.3 481.8L247.9 515.3L245.9 511.0L230.3 476.9Z"/>
<path class="c59" d="M221.2 505.4L232.3 481.8L230.3 476.9L219.3 500.9Z"/>
<path class="c162" d="M211.1 571.9L221.2 505.4L219.3 500.9L209.3 568.2Z"/>
<path class="c63" d="M195.6 547.0L211.1 571.9L209.3 568.2L193.8 542.7Z"/>
<path class="c156" d="M185.7 552.3L195.6 547.0L193.8 542.7L183.9 548.1Z"/>
<path class="c163" d="M171.0 564.1L185.7 552.3L183.9 548.1L169.3 560.2Z"/>
<path class="c164" d="M157.5 558.6L171.0 564.1L169.3 560.2L155.9 554.5Z"/>
<path class="c122" d="M763.9 445.9L774.2 384.5L770.5 378.7L760.3 440.5Z"/>
<path class="c165" d="M755.9 461.0L763.9 445.9L760.3 440.5L752.3 455.2Z"/>
<path class="c166" d="M747.0 439.2L755.9 461.0L752.3 455.2L743.4 432.4Z"/>
<path class="c167" d="M739.8 398.3L747.0 439.2L743.4 432.4L736.3 390.0Z"/>
<path class="c168" d="M732.6 355.6L739.8 398.3L736.3 390.0L729.1 345.5Z"/>
<path class="c169" d="M725.5 305.0L732.6 355.6L729.1 345.5L722.0 292.7Z"/>
<path class="c170" d="M717.8 294.9L725.5 305.0L722.0 292.7L714.4 274.1Z"/>
<path class="c78" d="M713.2 283.1L717.8 294.9L714.4 274.1L709.9 255.3Z"/>
<path class="c171" d="M708.5 280.2L713.2 283.1L709.9 255.3L705.3 252.1Z"/>
<path class="c172" d="M703.8 277.2L708.5 280.2L705.3 252.1L700.6 248.9Z"/>
<path class="c95" d="M699.1 274.6L703.8 277.2L700.6 248.9L695.9 246.1Z"/>
<path class="c135" d="M692.8 271.8L699.1 274.6L695.9 246.1L689.6 242.9Z"/>
<path class="c135" d="M688.0 274.3L692.8 271.8L689.6 242.9L684.8 245.4Z"/>
<path class="c95" d="M683.2 281.5L688.0 274.3L684.8 245.4L680.0 253.2Z"/>
<path class="c173" d="M676.8 290.6L683.2 281.5L680.0 253.2L673.6 263.3Z"/>
<path class="c19" d="M666.9 327.4L676.8 290.6L673.6 263.3L663.7 303.1Z"/>
<path class="c96" d="M660.4 351.5L666.9 327.4L663.7 303.1L657.2 329.1Z"/>
<path class="c174" d="M653.9 367.8L660.4 351.5L657.2 329.1L650.7 347.0Z"/>
<path class="c175" d="M645.9 378.5L653.9 367.8L650.7 347.0L642.7 358.8Z"/>
<path class="c176" d="M639.7 357.7L645.9 378.5L642.7 358.8L636.5 339.7Z"/>
<path class="c177" d="M633.5 336.2L639.7 357.7L636.5 339.7L630.3 320.0Z"/>
<path class="c178" d="M627.5 287.9L633.5 336.2L630.3 320.0L624.3 272.8Z"/>
<path class="c94" d="M621.4 247.3L627.5 287.9L624.3 272.8L618.1 234.1Z"/>
<path class="c32" d="M615.0 231.5L621.4 247.3L618.1 234.1L611.8 219.1Z"/>
<path class="c71" d="M608.6 225.7L615.0 231.5L611.8 219.1L605.4 214.5Z"/>
<path class="c179" d="M602.3 200.2L608.6 225.7L605.4 214.5L599.1 189.9Z"/>
<path class="c85" d="M595.9 182.9L602.3 200.2L599.1 189.9L592.8 173.5Z"/>
<path class="c9" d="M591.1 176.6L595.9 182.9L592.8 173.5L588.0 167.3Z"/>
<path class="c180" d="M589.2 247.1L591.1 176.6L588.0 167.3L586.1 239.9Z"/>
<path class="c95" d="M587.4 316.9L589.2 247.1L586.1 239.9L584.2 311.8Z"/>
<path class="c181" d="M585.5 386.1L587.4 316.9L584.2 311.8L582.4 382.9Z"/>
<path class="c182" d="M577.5 418.3L585.5 386.1L582.4 382.9L574.4 400.2Z"/>
<path class="c183" d="M568.0 397.7L577.5 418.3L574.4 400.2L564.9 378.7Z"/>
<path class="c138" d="M556.8 383.7L568.0 397.7L564.9 378.7L553.8 363.9Z"/>
<path class="c139" d="M545.6 367.3L556.8 383.7L553.8 363.9L542.6 345.5Z"/>
<path class="c184" d="M535.9 342.8L545.6 367.3L542.6 345.5L533.0 318.5Z"/>
<path class="c185" d="M527.9 325.0L535.9 342.8L533.0 318.5L524.9 298.7Z"/>
<path class="c79" d="M518.1 322.2L527.9 325.0L524.9 298.7L515.2 295.5Z"/>
<path class="c69" d="M510.0 318.0L518.1 322.2L515.2 295.5L507.1 291.2Z"/>
<path class="c69" d="M503.6 321.9L510.0 318.0L507.1 291.2L500.6 295.6Z"/>
<path class="c79" d="M502.0 330.2L503.6 321.9L500.6 295.6L499.1 304.7Z"/>
<path class="c186" d="M500.4 338.5L502.0 330.2L499.1 304.7L497.5 313.8Z"/>
<path class="c128" d="M498.8 357.3L500.4 338.5L497.5 313.8L495.9 334.2Z"/>
<path class="c97" d="M497.2 376.0L498.8 357.3L495.9 334.2L494.3 354.6Z"/>
<path class="c27" d="M495.7 388.0L497.2 376.0L494.3 354.6L492.8 369.6Z"/>
<path class="c187" d="M494.1 400.9L495.7 388.0L492.8 369.6L491.2 385.3Z"/>
<path class="c188" d="M492.5 415.1L494.1 400.9L491.2 385.3L489.7 402.0Z"/>
<path class="c189" d="M490.9 430.5L492.5 415.1L489.7 402.0L488.1 419.5Z"/>
<path class="c190" d="M478.1 434.2L490.9 430.5L488.1 419.5L475.3 424.1Z"/>
<path class="c45" d="M465.2 443.7L478.1 434.2L475.3 424.1L462.4 436.5Z"/>
<path class="c191" d="M452.2 438.9L465.2 443.7L462.4 436.5L449.5 432.7Z"/>
<path class="c192" d="M441.0 466.7L452.2 438.9L449.5 432.7L438.4 460.2Z"/>
<path class="c193" d="M433.2 498.2L441.0 466.7L438.4 460.2L430.6 492.5Z"/>
<path class="c194" d="M425.3 523.3L433.2 498.2L430.6 492.5L422.7 518.5Z"/>
<path class="c158" d="M412.5 539.1L425.3 523.3L422.7 518.5L410.0 535.2Z"/>
<path class="c159" d="M399.6 545.3L412.5 539.1L410.0 535.2L397.1 541.6Z"/>
<path class="c118" d="M385.0 545.0L399.6 545.3L397.1 541.6L382.5 541.3Z"/>
<path class="c49" d="M370.3 539.5L385.0 545.0L382.5 541.3L367.9 535.7Z"/>
<path class="c157" d="M357.2 533.2L370.3 539.5L367.9 535.7L354.8 529.4Z"/>
<path class="c195" d="M342.3 525.5L357.2 533.2L354.8 529.4L340.0 521.6Z"/>
<path class="c111" d="M325.9 524.4L342.3 525.5L340.0 521.6L323.7 520.4Z"/>
<path class="c196" d="M311.2 530.1L325.9 524.4L323.7 520.4L309.0 526.1Z"/>
<path class="c197" d="M293.5 548.3L311.2 530.1L309.0 526.1L291.3 544.5Z"/>
<path class="c118" d="M285.4 558.1L293.5 548.3L291.3 544.5L283.3 554.4Z"/>
<path class="c63" d="M275.3 549.2L285.4 558.1L283.3 554.4L273.3 545.2Z"/>
<path class="c159" d="M265.5 550.1L275.3 549.2L273.3 545.2L263.4 546.3Z"/>
<path class="c54" d="M249.9 519.6L265.5 550.1L263.4 546.3L247.9 515.3Z"/>
<path class="c198" d="M234.3 486.6L249.9 519.6L247.9 515.3L232.3 481.8Z"/>
<path class="c114" d="M223.1 509.9L234.3 486.6L232.3 481.8L221.2 505.4Z"/>
<path class="c58" d="M213.0 575.6L223.1 509.9L221.2 505.4L211.1 571.9Z"/>
<path class="c199" d="M197.4 551.2L213.0 575.6L211.1 571.9L195.6 547.0Z"/>
<path class="c49" d="M187.5 556.5L197.4 551.2L195.6 547.0L185.7 552.3Z"/>
<path class="c200" d="M172.7 568.0L187.5 556.5L185.7 552.3L171.0 564.1Z"/>
<path class="c201" d="M159.2 562.8L172.7 568.0L171.0 564.1L157.5 558.6Z"/>
<path class="c202" d="M767.6 451.3L777.9 390.4L774.2 384.5L763.9 445.9Z"/>
<path class="c152" d="M759.6 466.8L767.6 451.3L763.9 445.9L755.9 461.0Z"/>
<path class="c203" d="M750.6 445.9L759.6 466.8L755.9 461.0L747.0 439.2Z"/>
<path class="c204" d="M743.4 406.5L750.6 445.9L747.0 439.2L739.8 398.3Z"/>
<path class="c187" d="M736.2 365.5L743.4 406.5L739.8 398.3L732.6 355.6Z"/>
<path class="c26" d="M729.0 317.0L736.2 365.5L732.6 355.6L725.5 305.0Z"/>
<path class="c123" d="M721.1 314.7L729.0 317.0L725.5 305.0L717.8 294.9Z"/>
<path class="c69" d="M716.5 309.2L721.1 314.7L717.8 294.9L713.2 283.1Z"/>
<path class="c178" d="M711.8 306.5L716.5 309.2L713.2 283.1L708.5 280.2Z"/>
<path class="c205" d="M707.1 303.8L711.8 306.5L708.5 280.2L703.8 277.2Z"/>
<path class="c5" d="M702.3 301.4L707.1 303.8L703.8 277.2L699.1 274.6Z"/>
<path class="c206" d="M696.0 299.0L702.3 301.4L699.1 274.6L692.8 271.8Z"/>
<path class="c206" d="M691.2 301.5L696.0 299.0L692.8 271.8L688.0 274.3Z"/>
<path class="c5" d="M686.4 308.1L691.2 301.5L688.0 274.3L683.2 281.5Z"/>
<path class="c207" d="M680.0 316.2L686.4 308.1L683.2 281.5L676.8 290.6Z"/>
<path class="c185" d="M670.1 350.4L680.0 316.2L676.8 290.6L666.9 327.4Z"/>
<path class="c97" d="M663.6 372.6L670.1 350.4L666.9 327.4L660.4 351.5Z"/>
<path class="c98" d="M657.1 387.6L663.6 372.6L660.4 351.5L653.9 367.8Z"/>
<path class="c208" d="M649.1 397.1L657.1 387.6L653.9 367.8L645.9 378.5Z"/>
<path class="c209" d="M643.0 374.8L649.1 397.1L645.9 378.5L639.7 357.7Z"/>
<path class="c210" d="M636.8 351.7L643.0 374.8L639.7 357.7L633.5 336.2Z"/>
<path class="c211" d="M630.7 302.6L636.8 351.7L633.5 336.2L627.5 287.9Z"/>
<path class="c212" d="M624.6 260.3L630.7 302.6L627.5 287.9L621.4 247.3Z"/>
<path class="c124" d="M618.2 243.7L624.6 260.3L621.4 247.3L615.0 231.5Z"/>
<path class="c213" d="M611.8 236.7L618.2 243.7L615.0 231.5L608.6 225.7Z"/>
<path class="c72" d="M605.5 210.6L611.8 236.7L608.6 225.7L602.3 200.2Z"/>
<path class="c7" d="M599.1 192.3L605.5 210.6L602.3 200.2L595.9 182.9Z"/>
<path class="c214" d="M594.3 186.0L599.1 192.3L595.9 182.9L591.1 176.6Z"/>
<path class="c22" d="M592.4 254.5L594.3 186.0L591.1 176.6L589.2 247.1Z"/>
<path class="c215" d="M590.5 322.3L592.4 254.5L589.2 247.1L587.4 316.9Z"/>
<path class="c28" d="M588.7 389.6L590.5 322.3L587.4 316.9L585.5 386.1Z"/>
<path class="c3" d="M580.5 435.3L588.7 389.6L585.5 386.1L577.5 418.3Z"/>
<path class="c216" d="M571.0 415.7L580.5 435.3L577.5 418.3L568.0 397.7Z"/>
<path class="c183" d="M559.8 402.3L571.0 415.7L568.0 397.7L556.8 383.7Z"/>
<path class="c41" d="M548.6 387.8L559.8 402.3L556.8 383.7L545.6 367.3Z"/>
<path class="c217" d="M538.9 365.8L548.6 387.8L545.6 367.3L535.9 342.8Z"/>
<path class="c181" d="M530.8 349.9L538.9 365.8L535.9 342.8L527.9 325.0Z"/>
<path class="c218" d="M521.1 347.4L530.8 349.9L527.9 325.0L518.1 322.2Z"/>
<path class="c96" d="M513.0 343.2L521.1 347.4L518.1 322.2L510.0 318.0Z"/>
<path class="c96" d="M506.5 346.6L513.0 343.2L510.0 318.0L503.6 321.9Z"/>
<path class="c218" d="M504.9 354.2L506.5 346.6L503.6 321.9L502.0 330.2Z"/>
<path class="c177" d="M503.3 361.8L504.9 354.2L502.0 330.2L500.4 338.5Z"/>
<path class="c174" d="M501.7 379.1L503.3 361.8L500.4 338.5L498.8 357.3Z"/>
<path class="c219" d="M500.1 396.3L501.7 379.1L498.8 357.3L497.2 376.0Z"/>
<path class="c220" d="M498.5 405.5L500.1 396.3L497.2 376.0L495.7 388.0Z"/>
<path class="c183" d="M497.0 415.8L498.5 405.5L495.7 388.0L494.1 400.9Z"/>
<path class="c221" d="M495.4 427.7L497.0 415.8L494.1 400.9L492.5 415.1Z"/>
<path class="c222" d="M493.8 441.0L495.4 427.7L492.5 415.1L490.9 430.5Z"/>
<path class="c223" d="M480.9 443.9L493.8 441.0L490.9 430.5L478.1 434.2Z"/>
<path class="c224" d="M467.9 450.8L480.9 443.9L478.1 434.2L465.2 443.7Z"/>
<path class="c225" d="M454.9 445.1L467.9 450.8L465.2 443.7L452.2 438.9Z"/>
<path class="c2" d="M443.7 473.1L454.9 445.1L452.2 438.9L441.0 466.7Z"/>
<path class="c115" d="M435.8 503.8L443.7 473.1L441.0 466.7L433.2 498.2Z"/>
<path class="c226" d="M427.9 528.1L435.8 503.8L433.2 498.2L425.3 523.3Z"/>
<path class="c227" d="M415.0 543.0L427.9 528.1L425.3 523.3L412.5 539.1Z"/>
<path class="c57" d="M402.1 549.2L415.0 543.0L412.5 539.1L399.6 545.3Z"/>
<path class="c228" d="M387.4 548.8L402.1 549.2L399.6 545.3L385.0 545.0Z"/>
<path class="c49" d="M372.7 543.2L387.4 548.8L385.0 545.0L370.3 539.5Z"/>
<path class="c229" d="M359.5 537.0L372.7 543.2L370.3 539.5L357.2 533.2Z"/>
<path class="c230" d="M344.7 529.5L359.5 537.0L357.2 533.2L342.3 525.5Z"/>
<path class="c196" d="M328.2 528.4L344.7 529.5L342.3 525.5L325.9 524.4Z"/>
<path class="c53" d="M313.5 534.1L328.2 528.4L325.9 524.4L311.2 530.1Z"/>
<path class="c227" d="M295.6 552.1L313.5 534.1L311.2 530.1L293.5 548.3Z"/>
<path class="c118" d="M287.5 561.9L295.6 552.1L293.5 548.3L285.4 558.1Z"/>
<path class="c118" d="M277.4 553.3L287.5 561.9L285.4 558.1L275.3 549.2Z"/>
<path class="c57" d="M267.5 554.0L277.4 553.3L275.3 549.2L265.5 550.1Z"/>
<path class="c111" d="M252.0 524.0L267.5 554.0L265.5 550.1L249.9 519.6Z"/>
<path class="c231" d="M236.2 491.5L252.0 524.0L249.9 519.6L234.3 486.6Z"/>
<path class="c161" d="M225.0 514.5L236.2 491.5L234.3 486.6L223.1 509.9Z"/>
<path class="c113" d="M214.8 579.4L225.0 514.5L223.1 509.9L213.0 575.6Z"/>
<path class="c228" d="M199.2 555.5L214.8 579.4L213.0 575.6L197.4 551.2Z"/>
<path class="c155" d="M189.3 560.7L199.2 555.5L197.4 551.2L187.5 556.5Z"/>
<path class="c200" d="M174.5 571.9L189.3 560.7L187.5 556.5L172.7 568.0Z"/>
<path class="c232" d="M160.9 567.0L174.5 571.9L172.7 568.0L159.2 562.8Z"/>
<path class="c233" d="M771.3 456.8L781.6 396.3L777.9 390.4L767.6 451.3Z"/>
<path class="c193" d="M763.2 472.5L771.3 456.8L767.6 451.3L759.6 466.8Z"/>
<path class="c234" d="M754.2 452.5L763.2 472.5L759.6 466.8L750.6 445.9Z"/>
<path class="c235" d="M747.0 414.6L754.2 452.5L750.6 445.9L743.4 406.5Z"/>
<path class="c236" d="M739.7 375.3L747.0 414.6L743.4 406.5L736.2 365.5Z"/>
<path class="c140" d="M732.5 328.7L739.7 375.3L736.2 365.5L729.0 317.0Z"/>
<path class="c128" d="M724.5 333.6L732.5 328.7L729.0 317.0L721.1 314.7Z"/>
<path class="c81" d="M719.8 333.9L724.5 333.6L721.1 314.7L716.5 309.2Z"/>
<path class="c237" d="M715.1 331.4L719.8 333.9L716.5 309.2L711.8 306.5Z"/>
<path class="c238" d="M710.3 328.9L715.1 331.4L711.8 306.5L707.1 303.8Z"/>
<path class="c239" d="M705.6 326.7L710.3 328.9L707.1 303.8L702.3 301.4Z"/>
<path class="c141" d="M699.3 324.6L705.6 326.7L702.3 301.4L696.0 299.0Z"/>
<path class="c141" d="M694.5 327.1L699.3 324.6L696.0 299.0L691.2 301.5Z"/>
<path class="c186" d="M689.7 333.1L694.5 327.1L691.2 301.5L686.4 308.1Z"/>
<path class="c240" d="M683.2 340.5L689.7 333.1L686.4 308.1L680.0 316.2Z"/>
<path class="c184" d="M673.4 372.1L683.2 340.5L680.0 316.2L670.1 350.4Z"/>
<path class="c219" d="M666.9 392.6L673.4 372.1L670.1 350.4L663.6 372.6Z"/>
<path class="c241" d="M660.4 406.2L666.9 392.6L663.6 372.6L657.1 387.6Z"/>
<path class="c242" d="M652.4 414.7L660.4 406.2L657.1 387.6L649.1 397.1Z"/>
<path class="c243" d="M646.2 391.1L652.4 414.7L649.1 397.1L643.0 374.8Z"/>
<path class="c27" d="M640.0 366.5L646.2 391.1L643.0 374.8L636.8 351.7Z"/>
<path class="c169" d="M634.0 316.7L640.0 366.5L636.8 351.7L630.7 302.6Z"/>
<path class="c78" d="M627.8 272.9L634.0 316.7L630.7 302.6L624.6 260.3Z"/>
<path class="c244" d="M621.5 255.7L627.8 272.9L624.6 260.3L618.2 243.7Z"/>
<path class="c124" d="M615.1 247.6L621.5 255.7L618.2 243.7L611.8 236.7Z"/>
<path class="c132" d="M608.7 220.9L615.1 247.6L611.8 236.7L605.5 210.6Z"/>
<path class="c245" d="M602.3 201.8L608.7 220.9L605.5 210.6L599.1 192.3Z"/>
<path class="c180" d="M597.5 195.4L602.3 201.8L599.1 192.3L594.3 186.0Z"/>
<path class="c14" d="M595.6 262.1L597.5 195.4L594.3 186.0L592.4 254.5Z"/>
<path class="c246" d="M593.7 328.2L595.6 262.1L592.4 254.5L590.5 322.3Z"/>
<path class="c130" d="M591.8 393.7L593.7 328.2L590.5 322.3L588.7 389.6Z"/>
<path class="c247" d="M583.6 451.5L591.8 393.7L588.7 389.6L580.5 435.3Z"/>
<path class="c248" d="M574.1 432.7L583.6 451.5L580.5 435.3L571.0 415.7Z"/>
<path class="c249" d="M562.8 420.0L574.1 432.7L571.0 415.7L559.8 402.3Z"/>
<path class="c188" d="M551.6 407.2L562.8 420.0L559.8 402.3L548.6 387.8Z"/>
<path class="c250" d="M541.9 387.4L551.6 407.2L548.6 387.8L538.9 365.8Z"/>
<path class="c176" d="M533.8 373.2L541.9 387.4L538.9 365.8L530.8 349.9Z"/>
<path class="c210" d="M524.1 371.1L533.8 373.2L530.8 349.9L521.1 347.4Z"/>
<path class="c251" d="M515.9 367.0L524.1 371.1L521.1 347.4L513.0 343.2Z"/>
<path class="c97" d="M509.4 369.9L515.9 367.0L513.0 343.2L506.5 346.6Z"/>
<path class="c252" d="M507.8 376.9L509.4 369.9L506.5 346.6L504.9 354.2Z"/>
<path class="c89" d="M506.2 383.8L507.8 376.9L504.9 354.2L503.3 361.8Z"/>
<path class="c98" d="M504.6 399.7L506.2 383.8L503.3 361.8L501.7 379.1Z"/>
<path class="c253" d="M503.0 415.5L504.6 399.7L501.7 379.1L500.1 396.3Z"/>
<path class="c242" d="M501.4 422.1L503.0 415.5L500.1 396.3L498.5 405.5Z"/>
<path class="c254" d="M499.8 430.1L501.4 422.1L498.5 405.5L497.0 415.8Z"/>
<path class="c233" d="M498.2 439.8L499.8 430.1L497.0 415.8L495.4 427.7Z"/>
<path class="c45" d="M496.7 451.3L498.2 439.8L495.4 427.7L493.8 441.0Z"/>
<path class="c255" d="M483.7 453.4L496.7 451.3L493.8 441.0L480.9 443.9Z"/>
<path class="c256" d="M470.7 457.8L483.7 453.4L480.9 443.9L467.9 450.8Z"/>
<path class="c257" d="M457.6 451.3L470.7 457.8L467.9 450.8L454.9 445.1Z"/>
<path class="c258" d="M446.4 479.4L457.6 451.3L454.9 445.1L443.7 473.1Z"/>
<path class="c114" d="M438.5 509.5L446.4 479.4L443.7 473.1L435.8 503.8Z"/>
<path class="c259" d="M430.5 532.9L438.5 509.5L435.8 503.8L427.9 528.1Z"/>
<path class="c52" d="M417.6 547.1L430.5 532.9L427.9 528.1L415.0 543.0Z"/>
<path class="c50" d="M404.6 553.1L417.6 547.1L415.0 543.0L402.1 549.2Z"/>
<path class="c228" d="M389.9 552.6L404.6 553.1L402.1 549.2L387.4 548.8Z"/>
<path class="c155" d="M375.1 547.1L389.9 552.6L387.4 548.8L372.7 543.2Z"/>
<path class="c260" d="M361.9 540.9L375.1 547.1L372.7 543.2L359.5 537.0Z"/>
<path class="c106" d="M347.0 533.5L361.9 540.9L359.5 537.0L344.7 529.5Z"/>
<path class="c53" d="M330.5 532.6L347.0 533.5L344.7 529.5L328.2 528.4Z"/>
<path class="c110" d="M315.7 538.3L330.5 532.6L328.2 528.4L313.5 534.1Z"/>
<path class="c261" d="M297.8 556.1L315.7 538.3L313.5 534.1L295.6 552.1Z"/>
<path class="c228" d="M289.6 565.8L297.8 556.1L295.6 552.1L287.5 561.9Z"/>
<path class="c228" d="M279.5 557.5L289.6 565.8L287.5 561.9L277.4 553.3Z"/>
<path class="c50" d="M269.6 558.0L279.5 557.5L277.4 553.3L267.5 554.0Z"/>
<path class="c111" d="M254.0 528.6L269.6 558.0L267.5 554.0L252.0 524.0Z"/>
<path class="c262" d="M238.2 496.5L254.0 528.6L252.0 524.0L236.2 491.5Z"/>
<path class="c198" d="M227.0 519.1L238.2 496.5L236.2 491.5L225.0 514.5Z"/>
<path class="c160" d="M216.7 583.3L227.0 519.1L225.0 514.5L214.8 579.4Z"/>
<path class="c200" d="M201.1 559.9L216.7 583.3L214.8 579.4L199.2 555.5Z"/>
<path class="c159" d="M191.1 565.1L201.1 559.9L199.2 555.5L189.3 560.7Z"/>
<path class="c119" d="M176.2 576.0L191.1 565.1L189.3 560.7L174.5 571.9Z"/>
<path class="c232" d="M162.6 571.3L176.2 576.0L174.5 571.9L160.9 567.0Z"/>
<path class="c263" d="M775.0 462.3L785.4 402.2L781.6 396.3L771.3 456.8Z"/>
<path class="c60" d="M766.9 478.3L775.0 462.3L771.3 456.8L763.2 472.5Z"/>
<path class="c264" d="M757.8 459.2L766.9 478.3L763.2 472.5L754.2 452.5Z"/>
<path class="c265" d="M750.6 422.8L757.8 459.2L754.2 452.5L747.0 414.6Z"/>
<path class="c266" d="M743.3 385.0L750.6 422.8L747.0 414.6L739.7 375.3Z"/>
<path class="c174" d="M736.0 340.4L743.3 385.0L739.7 375.3L732.5 328.7Z"/>
<path class="c28" d="M728.0 351.6L736.0 340.4L732.5 328.7L724.5 333.6Z"/>
<path class="c267" d="M723.1 357.1L728.0 351.6L724.5 333.6L719.8 333.9Z"/>
<path class="c268" d="M718.4 354.8L723.1 357.1L719.8 333.9L715.1 331.4Z"/>
<path class="c140" d="M713.7 352.5L718.4 354.8L715.1 331.4L710.3 328.9Z"/>
<path class="c181" d="M708.9 350.5L713.7 352.5L710.3 328.9L705.6 326.7Z"/>
<path class="c184" d="M702.6 348.8L708.9 350.5L705.6 326.7L699.3 324.6Z"/>
<path class="c184" d="M697.8 351.3L702.6 348.8L699.3 324.6L694.5 327.1Z"/>
<path class="c269" d="M693.0 356.8L697.8 351.3L694.5 327.1L689.7 333.1Z"/>
<path class="c270" d="M686.5 363.4L693.0 356.8L689.7 333.1L683.2 340.5Z"/>
<path class="c271" d="M676.7 392.5L686.5 363.4L683.2 340.5L673.4 372.1Z"/>
<path class="c253" d="M670.1 411.5L676.7 392.5L673.4 372.1L666.9 392.6Z"/>
<path class="c272" d="M663.7 423.8L670.1 411.5L666.9 392.6L660.4 406.2Z"/>
<path class="c273" d="M655.6 431.4L663.7 423.8L660.4 406.2L652.4 414.7Z"/>
<path class="c274" d="M649.5 406.6L655.6 431.4L652.4 414.7L646.2 391.1Z"/>
<path class="c138" d="M643.3 380.7L649.5 406.6L646.2 391.1L640.0 366.5Z"/>
<path class="c275" d="M637.2 330.4L643.3 380.7L640.0 366.5L634.0 316.7Z"/>
<path class="c276" d="M631.1 285.3L637.2 330.4L634.0 316.7L627.8 272.9Z"/>
<path class="c127" d="M624.7 267.5L631.1 285.3L627.8 272.9L621.5 255.7Z"/>
<path class="c20" d="M618.3 258.4L624.7 267.5L621.5 255.7L615.1 247.6Z"/>
<path class="c83" d="M612.0 231.2L618.3 258.4L615.1 247.6L608.7 220.9Z"/>
<path class="c277" d="M605.6 211.4L612.0 231.2L608.7 220.9L602.3 201.8Z"/>
<path class="c22" d="M600.7 204.9L605.6 211.4L602.3 201.8L597.5 195.4Z"/>
<path class="c72" d="M598.8 270.1L600.7 204.9L597.5 195.4L595.6 262.1Z"/>
<path class="c278" d="M596.9 334.8L598.8 270.1L595.6 262.1L593.7 328.2Z"/>
<path class="c129" d="M595.0 398.9L596.9 334.8L593.7 328.2L591.8 393.7Z"/>
<path class="c43" d="M586.7 466.8L595.0 398.9L591.8 393.7L583.6 451.5Z"/>
<path class="c279" d="M577.1 448.8L586.7 466.8L583.6 451.5L574.1 432.7Z"/>
<path class="c280" d="M565.9 436.6L577.1 448.8L574.1 432.7L562.8 420.0Z"/>
<path class="c189" d="M554.6 425.5L565.9 436.6L562.8 420.0L551.6 407.2Z"/>
<path class="c281" d="M544.9 407.8L554.6 425.5L551.6 407.2L541.9 387.4Z"/>
<path class="c282" d="M536.8 395.2L544.9 407.8L541.9 387.4L533.8 373.2Z"/>
<path class="c283" d="M527.1 393.4L536.8 395.2L533.8 373.2L524.1 371.1Z"/>
<path class="c98" d="M518.9 389.4L527.1 393.4L524.1 371.1L515.9 367.0Z"/>
<path class="c98" d="M512.4 391.8L518.9 389.4L515.9 367.0L509.4 369.9Z"/>
<path class="c284" d="M510.8 398.2L512.4 391.8L509.4 369.9L507.8 376.9Z"/>
<path class="c41" d="M509.2 404.5L510.8 398.2L507.8 376.9L506.2 383.8Z"/>
<path class="c236" d="M507.6 419.1L509.2 404.5L506.2 383.8L504.6 399.7Z"/>
<path class="c274" d="M506.0 433.6L507.6 419.1L504.6 399.7L503.0 415.5Z"/>
<path class="c285" d="M504.4 437.8L506.0 433.6L503.0 415.5L501.4 422.1Z"/>
<path class="c263" d="M502.7 443.8L504.4 437.8L501.4 422.1L499.8 430.1Z"/>
<path class="c286" d="M501.1 451.6L502.7 443.8L499.8 430.1L498.2 439.8Z"/>
<path class="c225" d="M499.5 461.3L501.1 451.6L498.2 439.8L496.7 451.3Z"/>
<path class="c287" d="M486.5 462.6L499.5 461.3L496.7 451.3L483.7 453.4Z"/>
<path class="c288" d="M473.5 464.8L486.5 462.6L483.7 453.4L470.7 457.8Z"/>
<path class="c289" d="M460.4 457.4L473.5 464.8L470.7 457.8L457.6 451.3Z"/>
<path class="c290" d="M449.1 485.7L460.4 457.4L457.6 451.3L446.4 479.4Z"/>
<path class="c291" d="M441.1 515.1L449.1 485.7L446.4 479.4L438.5 509.5Z"/>
<path class="c116" d="M433.1 537.9L441.1 515.1L438.5 509.5L430.5 532.9Z"/>
<path class="c157" d="M420.2 551.3L433.1 537.9L430.5 532.9L417.6 547.1Z"/>
<path class="c63" d="M407.1 557.1L420.2 551.3L417.6 547.1L404.6 553.1Z"/>
<path class="c200" d="M392.4 556.6L407.1 557.1L404.6 553.1L389.9 552.6Z"/>
<path class="c159" d="M377.5 551.1L392.4 556.6L389.9 552.6L375.1 547.1Z"/>
<path class="c292" d="M364.3 545.0L377.5 551.1L375.1 547.1L361.9 540.9Z"/>
<path class="c154" d="M349.3 537.8L364.3 545.0L361.9 540.9L347.0 533.5Z"/>
<path class="c110" d="M332.8 536.9L349.3 537.8L347.0 533.5L330.5 532.6Z"/>
<path class="c195" d="M317.9 542.7L332.8 536.9L330.5 532.6L315.7 538.3Z"/>
<path class="c109" d="M299.9 560.3L317.9 542.7L315.7 538.3L297.8 556.1Z"/>
<path class="c200" d="M291.8 569.9L299.9 560.3L297.8 556.1L289.6 565.8Z"/>
<path class="c200" d="M281.7 561.9L291.8 569.9L289.6 565.8L279.5 557.5Z"/>
<path class="c63" d="M271.7 562.2L281.7 561.9L279.5 557.5L269.6 558.0Z"/>
<path class="c196" d="M256.0 533.2L271.7 562.2L269.6 558.0L254.0 528.6Z"/>
<path class="c293" d="M240.2 501.6L256.0 533.2L254.0 528.6L238.2 496.5Z"/>
<path class="c231" d="M228.9 523.9L240.2 501.6L238.2 496.5L227.0 519.1Z"/>
<path class="c55" d="M218.6 587.4L228.9 523.9L227.0 519.1L216.7 583.3Z"/>
<path class="c119" d="M202.9 564.3L218.6 587.4L216.7 583.3L201.1 559.9Z"/>
<path class="c50" d="M192.9 569.5L202.9 564.3L201.1 559.9L191.1 565.1Z"/>
<path class="c164" d="M178.0 580.2L192.9 569.5L191.1 565.1L176.2 576.0Z"/>
<path class="c294" d="M164.3 575.7L178.0 580.2L176.2 576.0L162.6 571.3Z"/>
<path class="c190" d="M778.7 468.0L789.2 408.1L785.4 402.2L775.0 462.3Z"/>
<path class="c59" d="M770.6 484.3L778.7 468.0L775.0 462.3L766.9 478.3Z"/>
<path class="c295" d="M761.5 466.0L770.6 484.3L766.9 478.3L757.8 459.2Z"/>
<path class="c225" d="M754.2 431.0L761.5 466.0L757.8 459.2L750.6 422.8Z"/>
<path class="c3" d="M746.9 394.8L754.2 431.0L750.6 422.8L743.3 385.0Z"/>
<path class="c68" d="M739.6 352.2L746.9 394.8L743.3 385.0L736.0 340.4Z"/>
<path class="c296" d="M731.4 369.1L739.6 352.2L736.0 340.4L728.0 351.6Z"/>
<path class="c297" d="M726.5 379.0L731.4 369.1L728.0 351.6L723.1 357.1Z"/>
<path class="c298" d="M721.8 377.0L726.5 379.0L723.1 357.1L718.4 354.8Z"/>
<path class="c297" d="M717.0 374.9L721.8 377.0L718.4 354.8L713.7 352.5Z"/>
<path class="c89" d="M712.3 373.1L717.0 374.9L713.7 352.5L708.9 350.5Z"/>
<path class="c271" d="M705.9 371.7L712.3 373.1L708.9 350.5L702.6 348.8Z"/>
<path class="c271" d="M701.1 374.2L705.9 371.7L702.6 348.8L697.8 351.3Z"/>
<path class="c299" d="M696.3 379.3L701.1 374.2L697.8 351.3L693.0 356.8Z"/>
<path class="c175" d="M689.8 385.2L696.3 379.3L693.0 356.8L686.5 363.4Z"/>
<path class="c300" d="M680.0 411.8L689.8 385.2L686.5 363.4L676.7 392.5Z"/>
<path class="c301" d="M673.4 429.3L680.0 411.8L676.7 392.5L670.1 411.5Z"/>
<path class="c233" d="M667.0 440.5L673.4 429.3L670.1 411.5L663.7 423.8Z"/>
<path class="c286" d="M658.9 447.1L667.0 440.5L663.7 423.8L655.6 431.4Z"/>
<path class="c202" d="M652.8 421.3L658.9 447.1L655.6 431.4L649.5 406.6Z"/>
<path class="c302" d="M646.6 394.3L652.8 421.3L649.5 406.6L643.3 380.7Z"/>
<path class="c129" d="M640.5 343.6L646.6 394.3L643.3 380.7L637.2 330.4Z"/>
<path class="c207" d="M634.4 297.5L640.5 343.6L637.2 330.4L631.1 285.3Z"/>
<path class="c303" d="M628.0 279.2L634.4 297.5L631.1 285.3L624.7 267.5Z"/>
<path class="c135" d="M621.6 269.1L628.0 279.2L624.7 267.5L618.3 258.4Z"/>
<path class="c36" d="M615.2 241.4L621.6 269.1L618.3 258.4L612.0 231.2Z"/>
<path class="c304" d="M608.8 221.0L615.2 241.4L612.0 231.2L605.6 211.4Z"/>
<path class="c14" d="M603.9 214.4L608.8 221.0L605.6 211.4L600.7 204.9Z"/>
<path class="c305" d="M602.0 278.7L603.9 214.4L600.7 204.9L598.8 270.1Z"/>
<path class="c306" d="M600.1 342.4L602.0 278.7L598.8 270.1L596.9 334.8Z"/>
<path class="c174" d="M598.2 405.6L600.1 342.4L596.9 334.8L595.0 398.9Z"/>
<path class="c307" d="M589.8 481.3L598.2 405.6L595.0 398.9L586.7 466.8Z"/>
<path class="c121" d="M580.2 464.0L589.8 481.3L586.7 466.8L577.1 448.8Z"/>
<path class="c308" d="M569.0 452.4L580.2 464.0L577.1 448.8L565.9 436.6Z"/>
<path class="c309" d="M557.7 442.7L569.0 452.4L565.9 436.6L554.6 425.5Z"/>
<path class="c249" d="M547.9 427.0L557.7 442.7L554.6 425.5L544.9 407.8Z"/>
<path class="c182" d="M539.8 415.9L547.9 427.0L544.9 407.8L536.8 395.2Z"/>
<path class="c310" d="M530.1 414.4L539.8 415.9L536.8 395.2L527.1 393.4Z"/>
<path class="c311" d="M521.9 410.4L530.1 414.4L527.1 393.4L518.9 389.4Z"/>
<path class="c236" d="M515.4 412.5L521.9 410.4L518.9 389.4L512.4 391.8Z"/>
<path class="c99" d="M513.7 418.3L515.4 412.5L512.4 391.8L510.8 398.2Z"/>
<path class="c312" d="M512.1 424.0L513.7 418.3L510.8 398.2L509.2 404.5Z"/>
<path class="c313" d="M510.5 437.4L512.1 424.0L509.2 404.5L507.6 419.1Z"/>
<path class="c233" d="M508.9 450.7L510.5 437.4L507.6 419.1L506.0 433.6Z"/>
<path class="c314" d="M507.3 452.9L508.9 450.7L506.0 433.6L504.4 437.8Z"/>
<path class="c103" d="M505.7 457.0L507.3 452.9L504.4 437.8L502.7 443.8Z"/>
<path class="c279" d="M504.0 463.1L505.7 457.0L502.7 443.8L501.1 451.6Z"/>
<path class="c287" d="M502.4 471.3L504.0 463.1L501.1 451.6L499.5 461.3Z"/>
<path class="c1" d="M489.4 471.5L502.4 471.3L499.5 461.3L486.5 462.6Z"/>
<path class="c1" d="M476.3 471.6L489.4 471.5L486.5 462.6L473.5 464.8Z"/>
<path class="c315" d="M463.1 463.6L476.3 471.6L473.5 464.8L460.4 457.4Z"/>
<path class="c316" d="M451.8 492.0L463.1 463.6L460.4 457.4L449.1 485.7Z"/>
<path class="c231" d="M443.8 520.8L451.8 492.0L449.1 485.7L441.1 515.1Z"/>
<path class="c162" d="M435.8 543.1L443.8 520.8L441.1 515.1L433.1 537.9Z"/>
<path class="c260" d="M422.8 555.8L435.8 543.1L433.1 537.9L420.2 551.3Z"/>
<path class="c118" d="M409.7 561.4L422.8 555.8L420.2 551.3L407.1 557.1Z"/>
<path class="c64" d="M394.9 560.8L409.7 561.4L407.1 557.1L392.4 556.6Z"/>
<path class="c57" d="M380.0 555.3L394.9 560.8L392.4 556.6L377.5 551.1Z"/>
<path class="c317" d="M366.7 549.4L380.0 555.3L377.5 551.1L364.3 545.0Z"/>
<path class="c56" d="M351.7 542.3L366.7 549.4L364.3 545.0L349.3 537.8Z"/>
<path class="c195" d="M335.1 541.6L351.7 542.3L349.3 537.8L332.8 536.9Z"/>
<path class="c230" d="M320.2 547.3L335.1 541.6L332.8 536.9L317.9 542.7Z"/>
<path class="c157" d="M302.1 564.8L320.2 547.3L317.9 542.7L299.9 560.3Z"/>
<path class="c64" d="M294.0 574.3L302.1 564.8L299.9 560.3L291.8 569.9Z"/>
<path class="c119" d="M283.8 566.4L294.0 574.3L291.8 569.9L281.7 561.9Z"/>
<path class="c199" d="M273.8 566.7L283.8 566.4L281.7 561.9L271.7 562.2Z"/>
<path class="c110" d="M258.1 538.1L273.8 566.7L271.7 562.2L256.0 533.2Z"/>
<path class="c318" d="M242.3 506.8L258.1 538.1L256.0 533.2L240.2 501.6Z"/>
<path class="c262" d="M230.9 528.8L242.3 506.8L240.2 501.6L228.9 523.9Z"/>
<path class="c111" d="M220.5 591.6L230.9 528.8L228.9 523.9L218.6 587.4Z"/>
<path class="c164" d="M204.8 568.9L220.5 591.6L218.6 587.4L202.9 564.3Z"/>
<path class="c63" d="M194.8 574.0L204.8 568.9L202.9 564.3L192.9 569.5Z"/>
<path class="c201" d="M179.8 584.6L194.8 574.0L192.9 569.5L178.0 580.2Z"/>
<path class="c319" d="M166.1 580.1L179.8 584.6L178.0 580.2L164.3 575.7Z"/>
<path class="c102" d="M782.5 474.0L793.0 414.1L789.2 408.1L778.7 468.0Z"/>
<path class="c320" d="M774.3 490.4L782.5 474.0L778.7 468.0L770.6 484.3Z"/>
<path class="c59" d="M765.2 473.0L774.3 490.4L770.6 484.3L761.5 466.0Z"/>
<path class="c321" d="M757.8 439.6L765.2 473.0L761.5 466.0L754.2 431.0Z"/>
<path class="c100" d="M750.5 405.1L757.8 439.6L754.2 431.0L746.9 394.8Z"/>
<path class="c322" d="M743.1 364.4L750.5 405.1L746.9 394.8L739.6 352.2Z"/>
<path class="c297" d="M734.9 386.0L743.1 364.4L739.6 352.2L731.4 369.1Z"/>
<path class="c300" d="M729.9 399.9L734.9 386.0L731.4 369.1L726.5 379.0Z"/>
<path class="c208" d="M725.2 398.0L729.9 399.9L726.5 379.0L721.8 377.0Z"/>
<path class="c187" d="M720.4 396.2L725.2 398.0L721.8 377.0L717.0 374.9Z"/>
<path class="c41" d="M715.7 394.6L720.4 396.2L717.0 374.9L712.3 373.1Z"/>
<path class="c300" d="M709.3 393.6L715.7 394.6L712.3 373.1L705.9 371.7Z"/>
<path class="c323" d="M704.5 396.1L709.3 393.6L705.9 371.7L701.1 374.2Z"/>
<path class="c324" d="M699.6 400.8L704.5 396.1L701.1 374.2L696.3 379.3Z"/>
<path class="c325" d="M693.2 406.0L699.6 400.8L696.3 379.3L689.8 385.2Z"/>
<path class="c183" d="M683.3 430.0L693.2 406.0L689.8 385.2L680.0 411.8Z"/>
<path class="c167" d="M676.8 446.1L683.3 430.0L680.0 411.8L673.4 429.3Z"/>
<path class="c265" d="M670.3 456.3L676.8 446.1L673.4 429.3L667.0 440.5Z"/>
<path class="c256" d="M662.2 462.1L670.3 456.3L667.0 440.5L658.9 447.1Z"/>
<path class="c102" d="M656.1 435.4L662.2 462.1L658.9 447.1L652.8 421.3Z"/>
<path class="c3" d="M649.9 407.4L656.1 435.4L652.8 421.3L646.6 394.3Z"/>
<path class="c326" d="M643.8 356.4L649.9 407.4L646.6 394.3L640.5 343.6Z"/>
<path class="c327" d="M637.7 309.4L643.8 356.4L640.5 343.6L634.4 297.5Z"/>
<path class="c16" d="M631.3 290.6L637.7 309.4L634.4 297.5L628.0 279.2Z"/>
<path class="c215" d="M624.9 279.8L631.3 290.6L628.0 279.2L621.6 269.1Z"/>
<path class="c328" d="M618.5 251.7L624.9 279.8L621.6 269.1L615.2 241.4Z"/>
<path class="c33" d="M612.1 230.7L618.5 251.7L615.2 241.4L608.8 221.0Z"/>
<path class="c72" d="M607.2 224.0L612.1 230.7L608.8 221.0L603.9 214.4Z"/>
<path class="c329" d="M605.3 288.2L607.2 224.0L603.9 214.4L602.0 278.7Z"/>
<path class="c5" d="M603.3 351.9L605.3 288.2L602.0 278.7L600.1 342.4Z"/>
<path class="c330" d="M601.4 415.0L603.3 351.9L600.1 342.4L598.2 405.6Z"/>
<path class="c331" d="M593.0 495.0L601.4 415.0L598.2 405.6L589.8 481.3Z"/>
<path class="c332" d="M583.4 478.4L593.0 495.0L589.8 481.3L580.2 464.0Z"/>
<path class="c333" d="M572.1 467.3L583.4 478.4L580.2 464.0L569.0 452.4Z"/>
<path class="c334" d="M560.7 459.0L572.1 467.3L569.0 452.4L557.7 442.7Z"/>
<path class="c248" d="M551.0 445.1L560.7 459.0L557.7 442.7L547.9 427.0Z"/>
<path class="c335" d="M542.9 435.4L551.0 445.1L547.9 427.0L539.8 415.9Z"/>
<path class="c43" d="M533.1 434.1L542.9 435.4L539.8 415.9L530.1 414.4Z"/>
<path class="c336" d="M524.9 430.2L533.1 434.1L530.1 414.4L521.9 410.4Z"/>
<path class="c337" d="M518.3 431.9L524.9 430.2L521.9 410.4L515.4 412.5Z"/>
<path class="c100" d="M516.7 437.2L518.3 431.9L515.4 412.5L513.7 418.3Z"/>
<path class="c338" d="M515.1 442.4L516.7 437.2L513.7 418.3L512.1 424.0Z"/>
<path class="c339" d="M513.5 454.6L515.1 442.4L512.1 424.0L510.5 437.4Z"/>
<path class="c223" d="M511.8 466.8L513.5 454.6L510.5 437.4L508.9 450.7Z"/>
<path class="c256" d="M510.2 467.3L511.8 466.8L508.9 450.7L507.3 452.9Z"/>
<path class="c340" d="M508.6 469.9L510.2 467.3L507.3 452.9L505.7 457.0Z"/>
<path class="c288" d="M507.0 474.6L508.6 469.9L505.7 457.0L504.0 463.1Z"/>
<path class="c341" d="M505.3 481.4L507.0 474.6L504.0 463.1L502.4 471.3Z"/>
<path class="c120" d="M492.2 480.2L505.3 481.4L502.4 471.3L489.4 471.5Z"/>
<path class="c342" d="M479.1 478.4L492.2 480.2L489.4 471.5L476.3 471.6Z"/>
<path class="c343" d="M465.9 469.7L479.1 478.4L476.3 471.6L463.1 463.6Z"/>
<path class="c66" d="M454.6 498.2L465.9 469.7L463.1 463.6L451.8 492.0Z"/>
<path class="c293" d="M446.5 526.5L454.6 498.2L451.8 492.0L443.8 520.8Z"/>
<path class="c113" d="M438.5 548.5L446.5 526.5L443.8 520.8L435.8 543.1Z"/>
<path class="c344" d="M425.4 560.6L438.5 548.5L435.8 543.1L422.8 555.8Z"/>
<path class="c228" d="M412.3 566.0L425.4 560.6L422.8 555.8L409.7 561.4Z"/>
<path class="c164" d="M397.4 565.2L412.3 566.0L409.7 561.4L394.9 560.8Z"/>
<path class="c50" d="M382.5 559.9L397.4 565.2L394.9 560.8L380.0 555.3Z"/>
<path class="c345" d="M369.1 554.0L382.5 559.9L380.0 555.3L366.7 549.4Z"/>
<path class="c197" d="M354.1 547.2L369.1 554.0L366.7 549.4L351.7 542.3Z"/>
<path class="c106" d="M337.4 546.6L354.1 547.2L351.7 542.3L335.1 541.6Z"/>
<path class="c154" d="M322.5 552.4L337.4 546.6L335.1 541.6L320.2 547.3Z"/>
<path class="c260" d="M304.4 569.7L322.5 552.4L320.2 547.3L302.1 564.8Z"/>
<path class="c164" d="M296.2 579.0L304.4 569.7L302.1 564.8L294.0 574.3Z"/>
<path class="c164" d="M286.0 571.3L296.2 579.0L294.0 574.3L283.8 566.4Z"/>
<path class="c200" d="M275.9 571.7L286.0 571.3L283.8 566.4L273.8 566.7Z"/>
<path class="c230" d="M260.2 543.2L275.9 571.7L273.8 566.7L258.1 538.1Z"/>
<path class="c346" d="M244.3 512.1L260.2 543.2L258.1 538.1L242.3 506.8Z"/>
<path class="c293" d="M232.9 534.0L244.3 512.1L242.3 506.8L230.9 528.8Z"/>
<path class="c196" d="M222.5 596.2L232.9 534.0L230.9 528.8L220.5 591.6Z"/>
<path class="c201" d="M206.7 573.6L222.5 596.2L220.5 591.6L204.8 568.9Z"/>
<path class="c199" d="M196.6 578.7L206.7 573.6L204.8 568.9L194.8 574.0Z"/>
<path class="c232" d="M181.6 589.4L196.6 578.7L194.8 574.0L179.8 584.6Z"/>
<path class="c347" d="M167.8 584.7L181.6 589.4L179.8 584.6L166.1 580.1Z"/>
<path class="c150" d="M786.2 480.3L796.8 420.1L793.0 414.1L782.5 474.0Z"/>
<path class="c198" d="M778.1 496.8L786.2 480.3L782.5 474.0L774.3 490.4Z"/>
<path class="c198" d="M768.9 480.5L778.1 496.8L774.3 490.4L765.2 473.0Z"/>
<path class="c288" d="M761.5 448.7L768.9 480.5L765.2 473.0L757.8 439.6Z"/>
<path class="c273" d="M754.1 416.0L761.5 448.7L757.8 439.6L750.5 405.1Z"/>
<path class="c250" d="M746.7 377.5L754.1 416.0L750.5 405.1L743.1 364.4Z"/>
<path class="c284" d="M738.4 402.9L746.7 377.5L743.1 364.4L734.9 386.0Z"/>
<path class="c310" d="M733.4 419.8L738.4 402.9L734.9 386.0L729.9 399.9Z"/>
<path class="c3" d="M728.6 418.3L733.4 419.8L729.9 399.9L725.2 398.0Z"/>
<path class="c42" d="M723.8 416.7L728.6 418.3L725.2 398.0L720.4 396.2Z"/>
<path class="c348" d="M719.1 415.3L723.8 416.7L720.4 396.2L715.7 394.6Z"/>
<path class="c188" d="M712.7 414.7L719.1 415.3L715.7 394.6L709.3 393.6Z"/>
<path class="c312" d="M707.8 417.2L712.7 414.7L709.3 393.6L704.5 396.1Z"/>
<path class="c349" d="M703.0 421.5L707.8 417.2L704.5 396.1L699.6 400.8Z"/>
<path class="c274" d="M696.5 426.2L703.0 421.5L699.6 400.8L693.2 406.0Z"/>
<path class="c122" d="M686.7 447.2L696.5 426.2L693.2 406.0L683.3 430.0Z"/>
<path class="c223" d="M680.1 462.0L686.7 447.2L683.3 430.0L676.8 446.1Z"/>
<path class="c350" d="M673.6 471.2L680.1 462.0L676.8 446.1L670.3 456.3Z"/>
<path class="c351" d="M665.6 476.2L673.6 471.2L670.3 456.3L662.2 462.1Z"/>
<path class="c225" d="M659.4 448.8L665.6 476.2L662.2 462.1L656.1 435.4Z"/>
<path class="c216" d="M653.2 420.0L659.4 448.8L656.1 435.4L649.9 407.4Z"/>
<path class="c27" d="M647.1 368.9L653.2 420.0L649.9 407.4L643.8 356.4Z"/>
<path class="c238" d="M641.0 321.1L647.1 368.9L643.8 356.4L637.7 309.4Z"/>
<path class="c5" d="M634.6 302.0L641.0 321.1L637.7 309.4L631.3 290.6Z"/>
<path class="c37" d="M628.2 290.3L634.6 302.0L631.3 290.6L624.9 279.8Z"/>
<path class="c352" d="M621.8 261.9L628.2 290.3L624.9 279.8L618.5 251.7Z"/>
<path class="c125" d="M615.4 240.4L621.8 261.9L618.5 251.7L612.1 230.7Z"/>
<path class="c305" d="M610.5 233.7L615.4 240.4L612.1 230.7L607.2 224.0Z"/>
<path class="c353" d="M608.5 299.0L610.5 233.7L607.2 224.0L605.3 288.2Z"/>
<path class="c207" d="M606.5 363.8L608.5 299.0L605.3 288.2L603.3 351.9Z"/>
<path class="c354" d="M604.6 428.1L606.5 363.8L603.3 351.9L601.4 415.0Z"/>
<path class="c235" d="M596.1 508.1L604.6 428.1L601.4 415.0L593.0 495.0Z"/>
<path class="c355" d="M586.5 492.0L596.1 508.1L593.0 495.0L583.4 478.4Z"/>
<path class="c356" d="M575.2 481.4L586.5 492.0L583.4 478.4L572.1 467.3Z"/>
<path class="c343" d="M563.8 474.4L575.2 481.4L572.1 467.3L560.7 459.0Z"/>
<path class="c334" d="M554.1 462.1L563.8 474.4L560.7 459.0L551.0 445.1Z"/>
<path class="c286" d="M545.9 453.7L554.1 462.1L551.0 445.1L542.9 435.4Z"/>
<path class="c248" d="M536.1 452.7L545.9 453.7L542.9 435.4L533.1 434.1Z"/>
<path class="c263" d="M527.9 448.8L536.1 452.7L533.1 434.1L524.9 430.2Z"/>
<path class="c222" d="M521.3 450.2L527.9 448.8L524.9 430.2L518.3 431.9Z"/>
<path class="c44" d="M519.7 454.9L521.3 450.2L518.3 431.9L516.7 437.2Z"/>
<path class="c235" d="M518.1 459.7L519.7 454.9L516.7 437.2L515.1 442.4Z"/>
<path class="c191" d="M516.4 470.9L518.1 459.7L515.1 442.4L513.5 454.6Z"/>
<path class="c350" d="M514.8 482.0L516.4 470.9L513.5 454.6L511.8 466.8Z"/>
<path class="c341" d="M513.2 481.3L514.8 482.0L511.8 466.8L510.2 467.3Z"/>
<path class="c357" d="M511.5 482.6L513.2 481.3L510.2 467.3L508.6 469.9Z"/>
<path class="c46" d="M509.9 486.1L511.5 482.6L508.6 469.9L507.0 474.6Z"/>
<path class="c234" d="M508.3 491.9L509.9 486.1L507.0 474.6L505.3 481.4Z"/>
<path class="c358" d="M495.1 488.7L508.3 491.9L505.3 481.4L492.2 480.2Z"/>
<path class="c234" d="M482.0 485.1L495.1 488.7L492.2 480.2L479.1 478.4Z"/>
<path class="c341" d="M468.7 475.8L482.0 485.1L479.1 478.4L465.9 469.7Z"/>
<path class="c120" d="M457.3 504.3L468.7 475.8L465.9 469.7L454.6 498.2Z"/>
<path class="c359" d="M449.2 532.3L457.3 504.3L454.6 498.2L446.5 526.5Z"/>
<path class="c111" d="M441.1 554.5L449.2 532.3L446.5 526.5L438.5 548.5Z"/>
<path class="c51" d="M428.0 566.1L441.1 554.5L438.5 548.5L425.4 560.6Z"/>
<path class="c119" d="M414.9 571.0L428.0 566.1L425.4 560.6L412.3 566.0Z"/>
<path class="c201" d="M400.0 570.1L414.9 571.0L412.3 566.0L397.4 565.2Z"/>
<path class="c118" d="M385.0 564.8L400.0 570.1L397.4 565.2L382.5 559.9Z"/>
<path class="c117" d="M371.6 559.2L385.0 564.8L382.5 559.9L369.1 554.0Z"/>
<path class="c261" d="M356.5 552.7L371.6 559.2L369.1 554.0L354.1 547.2Z"/>
<path class="c56" d="M339.8 552.4L356.5 552.7L354.1 547.2L337.4 546.6Z"/>
<path class="c360" d="M324.8 558.2L339.8 552.4L337.4 546.6L322.5 552.4Z"/>
<path class="c344" d="M306.6 575.2L324.8 558.2L322.5 552.4L304.4 569.7Z"/>
<path class="c201" d="M298.4 584.2L306.6 575.2L304.4 569.7L296.2 579.0Z"/>
<path class="c201" d="M288.1 576.6L298.4 584.2L296.2 579.0L286.0 571.3Z"/>
<path class="c119" d="M278.0 577.3L288.1 576.6L286.0 571.3L275.9 571.7Z"/>
<path class="c154" d="M262.3 548.9L278.0 577.3L275.9 571.7L260.2 543.2Z"/>
<path class="c361" d="M246.4 517.6L262.3 548.9L260.2 543.2L244.3 512.1Z"/>
<path class="c359" d="M234.9 539.5L246.4 517.6L244.3 512.1L232.9 534.0Z"/>
<path class="c110" d="M224.4 601.2L234.9 539.5L232.9 534.0L222.5 596.2Z"/>
<path class="c232" d="M208.6 578.6L224.4 601.2L222.5 596.2L206.7 573.6Z"/>
<path class="c200" d="M198.5 583.6L208.6 578.6L206.7 573.6L196.6 578.7Z"/>
<path class="c294" d="M183.4 594.6L198.5 583.6L196.6 578.7L181.6 589.4Z"/>
<path class="c362" d="M169.6 589.6L183.4 594.6L181.6 589.4L167.8 584.7Z"/>
<path class="c363" d="M790.0 487.1L800.6 426.2L796.8 420.1L786.2 480.3Z"/>
<path class="c364" d="M781.8 503.8L790.0 487.1L786.2 480.3L778.1 496.8Z"/>
<path class="c262" d="M772.6 488.5L781.8 503.8L778.1 496.8L768.9 480.5Z"/>
<path class="c351" d="M765.2 458.6L772.6 488.5L768.9 480.5L761.5 448.7Z"/>
<path class="c365" d="M757.7 427.8L765.2 458.6L761.5 448.7L754.1 416.0Z"/>
<path class="c366" d="M750.3 391.7L757.7 427.8L754.1 416.0L746.7 377.5Z"/>
<path class="c220" d="M741.9 419.9L750.3 391.7L746.7 377.5L738.4 402.9Z"/>
<path class="c65" d="M736.8 439.1L741.9 419.9L738.4 402.9L733.4 419.8Z"/>
<path class="c167" d="M732.0 437.8L736.8 439.1L733.4 419.8L728.6 418.3Z"/>
<path class="c101" d="M727.3 436.5L732.0 437.8L728.6 418.3L723.8 416.7Z"/>
<path class="c307" d="M722.5 435.4L727.3 436.5L723.8 416.7L719.1 415.3Z"/>
<path class="c335" d="M716.1 435.2L722.5 435.4L719.1 415.3L712.7 414.7Z"/>
<path class="c335" d="M711.2 437.8L716.1 435.2L712.7 414.7L707.8 417.2Z"/>
<path class="c101" d="M706.4 441.8L711.2 437.8L707.8 417.2L703.0 421.5Z"/>
<path class="c331" d="M699.9 446.0L706.4 441.8L703.0 421.5L696.5 426.2Z"/>
<path class="c235" d="M690.1 463.4L699.9 446.0L696.5 426.2L686.7 447.2Z"/>
<path class="c367" d="M683.5 477.0L690.1 463.4L686.7 447.2L680.1 462.0Z"/>
<path class="c368" d="M677.0 485.3L683.5 477.0L680.1 462.0L673.6 471.2Z"/>
<path class="c358" d="M668.9 489.6L677.0 485.3L673.6 471.2L665.6 476.2Z"/>
<path class="c288" d="M662.8 461.6L668.9 489.6L665.6 476.2L659.4 448.8Z"/>
<path class="c331" d="M656.6 432.1L662.8 461.6L659.4 448.8L653.2 420.0Z"/>
<path class="c369" d="M650.5 380.9L656.6 432.1L653.2 420.0L647.1 368.9Z"/>
<path class="c370" d="M644.4 332.5L650.5 380.9L647.1 368.9L641.0 321.1Z"/>
<path class="c371" d="M638.0 313.1L644.4 332.5L641.0 321.1L634.6 302.0Z"/>
<path class="c206" d="M631.5 300.8L638.0 313.1L634.6 302.0L628.2 290.3Z"/>
<path class="c31" d="M625.1 272.2L631.5 300.8L628.2 290.3L621.8 261.9Z"/>
<path class="c6" d="M618.7 250.2L625.1 272.2L621.8 261.9L615.4 240.4Z"/>
<path class="c372" d="M613.8 243.4L618.7 250.2L615.4 240.4L610.5 233.7Z"/>
<path class="c124" d="M611.8 311.7L613.8 243.4L610.5 233.7L608.5 299.0Z"/>
<path class="c327" d="M609.8 379.3L611.8 311.7L608.5 299.0L606.5 363.8Z"/>
<path class="c373" d="M607.8 446.3L609.8 379.3L606.5 363.8L604.6 428.1Z"/>
<path class="c225" d="M599.3 520.4L607.8 446.3L604.6 428.1L596.1 508.1Z"/>
<path class="c293" d="M589.7 504.9L599.3 520.4L596.1 508.1L586.5 492.0Z"/>
<path class="c115" d="M578.3 494.7L589.7 504.9L586.5 492.0L575.2 481.4Z"/>
<path class="c332" d="M566.9 488.9L578.3 494.7L575.2 481.4L563.8 474.4Z"/>
<path class="c374" d="M557.1 478.2L566.9 488.9L563.8 474.4L554.1 462.1Z"/>
<path class="c2" d="M548.9 471.0L557.1 478.2L554.1 462.1L545.9 453.7Z"/>
<path class="c255" d="M539.1 470.2L548.9 471.0L545.9 453.7L536.1 452.7Z"/>
<path class="c224" d="M530.9 466.3L539.1 470.2L536.1 452.7L527.9 448.8Z"/>
<path class="c375" d="M524.3 467.4L530.9 466.3L527.9 448.8L521.3 450.2Z"/>
<path class="c308" d="M522.7 471.7L524.3 467.4L521.3 450.2L519.7 454.9Z"/>
<path class="c257" d="M521.0 476.0L522.7 471.7L519.7 454.9L518.1 459.7Z"/>
<path class="c67" d="M519.4 486.2L521.0 476.0L518.1 459.7L516.4 470.9Z"/>
<path class="c368" d="M517.8 496.4L519.4 486.2L516.4 470.9L514.8 482.0Z"/>
<path class="c358" d="M516.1 494.9L517.8 496.4L514.8 482.0L513.2 481.3Z"/>
<path class="c358" d="M514.5 495.4L516.1 494.9L513.2 481.3L511.5 482.6Z"/>
<path class="c376" d="M512.9 498.1L514.5 495.4L511.5 482.6L509.9 486.1Z"/>
<path class="c60" d="M511.2 503.0L512.9 498.1L509.9 486.1L508.3 491.9Z"/>
<path class="c115" d="M498.0 496.9L511.2 503.0L508.3 491.9L495.1 488.7Z"/>
<path class="c376" d="M484.8 491.8L498.0 496.9L495.1 488.7L482.0 485.1Z"/>
<path class="c368" d="M471.5 481.9L484.8 491.8L482.0 485.1L468.7 475.8Z"/>
<path class="c234" d="M460.1 510.5L471.5 481.9L468.7 475.8L457.3 504.3Z"/>
<path class="c377" d="M452.0 538.3L460.1 510.5L457.3 504.3L449.2 532.3Z"/>
<path class="c53" d="M443.9 561.0L452.0 538.3L449.2 532.3L441.1 554.5Z"/>
<path class="c155" d="M430.7 572.3L443.9 561.0L441.1 554.5L428.0 566.1Z"/>
<path class="c201" d="M417.5 576.7L430.7 572.3L428.0 566.1L414.9 571.0Z"/>
<path class="c232" d="M402.5 575.5L417.5 576.7L414.9 571.0L400.0 570.1Z"/>
<path class="c200" d="M387.5 570.4L402.5 575.5L400.0 570.1L385.0 564.8Z"/>
<path class="c49" d="M374.1 565.0L387.5 570.4L385.0 564.8L371.6 559.2Z"/>
<path class="c378" d="M359.0 559.1L374.1 565.0L371.6 559.2L356.5 552.7Z"/>
<path class="c379" d="M342.2 559.0L359.0 559.1L356.5 552.7L339.8 552.4Z"/>
<path class="c52" d="M327.1 564.9L342.2 559.0L339.8 552.4L324.8 558.2Z"/>
<path class="c51" d="M308.9 581.6L327.1 564.9L324.8 558.2L306.6 575.2Z"/>
<path class="c294" d="M300.6 590.2L308.9 581.6L306.6 575.2L298.4 584.2Z"/>
<path class="c294" d="M290.4 582.6L300.6 590.2L298.4 584.2L288.1 576.6Z"/>
<path class="c232" d="M280.2 583.9L290.4 582.6L288.1 576.6L278.0 577.3Z"/>
<path class="c197" d="M264.4 555.1L280.2 583.9L278.0 577.3L262.3 548.9Z"/>
<path class="c47" d="M248.5 523.4L264.4 555.1L262.3 548.9L246.4 517.6Z"/>
<path class="c380" d="M237.0 545.4L248.5 523.4L246.4 517.6L234.9 539.5Z"/>
<path class="c106" d="M226.4 606.9L237.0 545.4L234.9 539.5L224.4 601.2Z"/>
<path class="c319" d="M210.5 583.9L226.4 606.9L224.4 601.2L208.6 578.6Z"/>
<path class="c119" d="M200.4 588.8L210.5 583.9L208.6 578.6L198.5 583.6Z"/>
<path class="c347" d="M185.3 600.4L200.4 588.8L198.5 583.6L183.4 594.6Z"/>
<path class="c381" d="M171.4 594.7L185.3 600.4L183.4 594.6L169.6 589.6Z"/>
<path class="c308" d="M793.8 494.6L804.5 432.3L800.6 426.2L790.0 487.1Z"/>
<path class="c359" d="M785.6 511.3L793.8 494.6L790.0 487.1L781.8 503.8Z"/>
<path class="c346" d="M776.3 497.3L785.6 511.3L781.8 503.8L772.6 488.5Z"/>
<path class="c356" d="M768.9 469.4L776.3 497.3L772.6 488.5L765.2 458.6Z"/>
<path class="c150" d="M761.4 440.9L768.9 469.4L765.2 458.6L757.7 427.8Z"/>
<path class="c348" d="M753.9 407.4L761.4 440.9L757.7 427.8L750.3 391.7Z"/>
<path class="c188" d="M745.4 437.2L753.9 407.4L750.3 391.7L741.9 419.9Z"/>
<path class="c222" d="M740.3 457.9L745.4 437.2L741.9 419.9L736.8 439.1Z"/>
<path class="c363" d="M735.5 456.9L740.3 457.9L736.8 439.1L732.0 437.8Z"/>
<path class="c223" d="M730.7 455.9L735.5 456.9L732.0 437.8L727.3 436.5Z"/>
<path class="c150" d="M725.9 455.0L730.7 455.9L727.3 436.5L722.5 435.4Z"/>
<path class="c382" d="M719.5 455.3L725.9 455.0L722.5 435.4L716.1 435.2Z"/>
<path class="c150" d="M714.7 458.1L719.5 455.3L716.1 435.2L711.2 437.8Z"/>
<path class="c103" d="M709.8 461.9L714.7 458.1L711.2 437.8L706.4 441.8Z"/>
<path class="c151" d="M703.3 465.7L709.8 461.9L706.4 441.8L699.9 446.0Z"/>
<path class="c2" d="M693.5 478.6L703.3 465.7L699.9 446.0L690.1 463.4Z"/>
<path class="c368" d="M686.9 491.2L693.5 478.6L690.1 463.4L683.5 477.0Z"/>
<path class="c383" d="M680.4 498.7L686.9 491.2L683.5 477.0L677.0 485.3Z"/>
<path class="c161" d="M672.3 502.3L680.4 498.7L677.0 485.3L668.9 489.6Z"/>
<path class="c46" d="M666.1 473.8L672.3 502.3L668.9 489.6L662.8 461.6Z"/>
<path class="c314" d="M659.9 443.8L666.1 473.8L662.8 461.6L656.6 432.1Z"/>
<path class="c325" d="M653.9 392.7L659.9 443.8L656.6 432.1L650.5 380.9Z"/>
<path class="c184" d="M647.7 343.9L653.9 392.7L650.5 380.9L644.4 332.5Z"/>
<path class="c384" d="M641.3 324.2L647.7 343.9L644.4 332.5L638.0 313.1Z"/>
<path class="c170" d="M634.9 311.2L641.3 324.2L638.0 313.1L631.5 300.8Z"/>
<path class="c215" d="M628.5 282.4L634.9 311.2L631.5 300.8L625.1 272.2Z"/>
<path class="c328" d="M622.0 260.1L628.5 282.4L625.1 272.2L618.7 250.2Z"/>
<path class="c77" d="M617.1 253.1L622.0 260.1L618.7 250.2L613.8 243.4Z"/>
<path class="c15" d="M615.0 326.4L617.1 253.1L613.8 243.4L611.8 311.7Z"/>
<path class="c29" d="M613.0 398.9L615.0 326.4L611.8 311.7L609.8 379.3Z"/>
<path class="c385" d="M611.0 470.6L613.0 398.9L609.8 379.3L607.8 446.3Z"/>
<path class="c374" d="M602.5 532.1L611.0 470.6L607.8 446.3L599.3 520.4Z"/>
<path class="c105" d="M592.8 517.1L602.5 532.1L599.3 520.4L589.7 504.9Z"/>
<path class="c262" d="M581.5 507.3L592.8 517.1L589.7 504.9L578.3 494.7Z"/>
<path class="c355" d="M570.0 502.6L581.5 507.3L578.3 494.7L566.9 488.9Z"/>
<path class="c386" d="M560.2 493.4L570.0 502.6L566.9 488.9L557.1 478.2Z"/>
<path class="c66" d="M552.0 487.2L560.2 493.4L557.1 478.2L548.9 471.0Z"/>
<path class="c1" d="M542.2 486.6L552.0 487.2L548.9 471.0L539.1 470.2Z"/>
<path class="c387" d="M533.9 482.8L542.2 486.6L539.1 470.2L530.9 466.3Z"/>
<path class="c333" d="M527.3 483.5L533.9 482.8L530.9 466.3L524.3 467.4Z"/>
<path class="c388" d="M525.7 487.5L527.3 483.5L524.3 467.4L522.7 471.7Z"/>
<path class="c341" d="M524.0 491.4L525.7 487.5L522.7 471.7L521.0 476.0Z"/>
<path class="c389" d="M522.4 500.7L524.0 491.4L521.0 476.0L519.4 486.2Z"/>
<path class="c295" d="M520.8 510.0L522.4 500.7L519.4 486.2L517.8 496.4Z"/>
<path class="c320" d="M519.1 508.2L520.8 510.0L517.8 496.4L516.1 494.9Z"/>
<path class="c114" d="M517.5 508.4L519.1 508.2L516.1 494.9L514.5 495.4Z"/>
<path class="c161" d="M515.8 510.6L517.5 508.4L514.5 495.4L512.9 498.1Z"/>
<path class="c198" d="M514.2 514.9L515.8 510.6L512.9 498.1L511.2 503.0Z"/>
<path class="c161" d="M501.0 505.0L514.2 514.9L511.2 503.0L498.0 496.9Z"/>
<path class="c60" d="M487.7 498.4L501.0 505.0L498.0 496.9L484.8 491.8Z"/>
<path class="c104" d="M474.4 488.0L487.7 498.4L484.8 491.8L471.5 481.9Z"/>
<path class="c358" d="M462.9 516.6L474.4 488.0L471.5 481.9L460.1 510.5Z"/>
<path class="c390" d="M454.7 544.5L462.9 516.6L460.1 510.5L452.0 538.3Z"/>
<path class="c230" d="M446.6 568.2L454.7 544.5L452.0 538.3L443.9 561.0Z"/>
<path class="c63" d="M433.4 579.4L446.6 568.2L443.9 561.0L430.7 572.3Z"/>
<path class="c319" d="M420.1 583.0L433.4 579.4L430.7 572.3L417.5 576.7Z"/>
<path class="c319" d="M405.1 581.6L420.1 583.0L417.5 576.7L402.5 575.5Z"/>
<path class="c164" d="M390.0 576.6L405.1 581.6L402.5 575.5L387.5 570.4Z"/>
<path class="c57" d="M376.6 571.7L390.0 576.6L387.5 570.4L374.1 565.0Z"/>
<path class="c344" d="M361.4 566.3L376.6 571.7L374.1 565.0L359.0 559.1Z"/>
<path class="c229" d="M344.6 566.7L361.4 566.3L359.0 559.1L342.2 559.0Z"/>
<path class="c292" d="M329.5 572.5L344.6 566.7L342.2 559.0L327.1 564.9Z"/>
<path class="c159" d="M311.2 589.0L329.5 572.5L327.1 564.9L308.9 581.6Z"/>
<path class="c362" d="M302.9 597.1L311.2 589.0L308.9 581.6L300.6 590.2Z"/>
<path class="c362" d="M292.6 589.3L302.9 597.1L300.6 590.2L290.4 582.6Z"/>
<path class="c319" d="M282.5 591.5L292.6 589.3L290.4 582.6L280.2 583.9Z"/>
<path class="c109" d="M266.6 562.1L282.5 591.5L280.2 583.9L264.4 555.1Z"/>
<path class="c105" d="M250.6 529.6L266.6 562.1L264.4 555.1L248.5 523.4Z"/>
<path class="c47" d="M239.0 551.8L250.6 529.6L248.5 523.4L237.0 545.4Z"/>
<path class="c158" d="M228.4 613.3L239.0 551.8L237.0 545.4L226.4 606.9Z"/>
<path class="c362" d="M212.5 589.6L228.4 613.3L226.4 606.9L210.5 583.9Z"/>
<path class="c201" d="M202.3 594.4L212.5 589.6L210.5 583.9L200.4 588.8Z"/>
<path class="c391" d="M187.1 607.0L202.3 594.4L200.4 588.8L185.3 600.4Z"/>
<path class="c392" d="M173.2 600.1L187.1 607.0L185.3 600.4L171.4 594.7Z"/>
<path class="c393" d="M797.6 502.7L808.4 438.5L804.5 432.3L793.8 494.6Z"/>
<path class="c47" d="M789.4 519.4L797.6 502.7L793.8 494.6L785.6 511.3Z"/>
<path class="c390" d="M780.1 506.8L789.4 519.4L785.6 511.3L776.3 497.3Z"/>
<path class="c383" d="M772.5 481.2L780.1 506.8L776.3 497.3L768.9 469.4Z"/>
<path class="c192" d="M765.0 455.1L772.5 481.2L768.9 469.4L761.4 440.9Z"/>
<path class="c249" d="M757.5 424.5L765.0 455.1L761.4 440.9L753.9 407.4Z"/>
<path class="c394" d="M749.0 454.9L757.5 424.5L753.9 407.4L745.4 437.2Z"/>
<path class="c395" d="M743.8 476.1L749.0 454.9L745.4 437.2L740.3 457.9Z"/>
<path class="c396" d="M739.0 475.5L743.8 476.1L740.3 457.9L735.5 456.9Z"/>
<path class="c288" d="M734.2 474.8L739.0 475.5L735.5 456.9L730.7 455.9Z"/>
<path class="c397" d="M729.4 474.3L734.2 474.8L730.7 455.9L725.9 455.0Z"/>
<path class="c258" d="M723.0 475.1L729.4 474.3L725.9 455.0L719.5 455.3Z"/>
<path class="c67" d="M718.1 478.1L723.0 475.1L719.5 455.3L714.7 458.1Z"/>
<path class="c290" d="M713.2 481.7L718.1 478.1L714.7 458.1L709.8 461.9Z"/>
<path class="c1" d="M706.7 485.1L713.2 481.7L709.8 461.9L703.3 465.7Z"/>
<path class="c368" d="M697.0 493.1L706.7 485.1L703.3 465.7L693.5 478.6Z"/>
<path class="c295" d="M690.4 504.7L697.0 493.1L693.5 478.6L686.9 491.2Z"/>
<path class="c231" d="M683.9 511.3L690.4 504.7L686.9 491.2L680.4 498.7Z"/>
<path class="c359" d="M675.8 514.4L683.9 511.3L680.4 498.7L672.3 502.3Z"/>
<path class="c376" d="M669.6 485.4L675.8 514.4L672.3 502.3L666.1 473.8Z"/>
<path class="c308" d="M663.3 455.0L669.6 485.4L666.1 473.8L659.9 443.8Z"/>
<path class="c281" d="M657.3 404.1L663.3 455.0L659.9 443.8L653.9 392.7Z"/>
<path class="c267" d="M651.1 355.0L657.3 404.1L653.9 392.7L647.7 343.9Z"/>
<path class="c238" d="M644.7 335.2L651.1 355.0L647.7 343.9L641.3 324.2Z"/>
<path class="c17" d="M638.2 321.6L644.7 335.2L641.3 324.2L634.9 311.2Z"/>
<path class="c78" d="M631.8 292.6L638.2 321.6L634.9 311.2L628.5 282.4Z"/>
<path class="c352" d="M625.4 270.0L631.8 292.6L628.5 282.4L622.0 260.1Z"/>
<path class="c124" d="M620.4 263.0L625.4 270.0L622.0 260.1L617.1 253.1Z"/>
<path class="c398" d="M618.3 343.0L620.4 263.0L617.1 253.1L615.0 326.4Z"/>
<path class="c87" d="M616.2 422.1L618.3 343.0L615.0 326.4L613.0 398.9Z"/>
<path class="c336" d="M614.1 500.4L616.2 422.1L613.0 398.9L611.0 470.6Z"/>
<path class="c60" d="M605.8 543.2L614.1 500.4L611.0 470.6L602.5 532.1Z"/>
<path class="c399" d="M596.0 528.7L605.8 543.2L602.5 532.1L592.8 517.1Z"/>
<path class="c400" d="M584.6 519.3L596.0 528.7L592.8 517.1L581.5 507.3Z"/>
<path class="c293" d="M573.2 515.6L584.6 519.3L581.5 507.3L570.0 502.6Z"/>
<path class="c320" d="M563.3 507.6L573.2 515.6L570.0 502.6L560.2 493.4Z"/>
<path class="c383" d="M555.1 502.5L563.3 507.6L560.2 493.4L552.0 487.2Z"/>
<path class="c376" d="M545.2 502.1L555.1 502.5L552.0 487.2L542.2 486.6Z"/>
<path class="c332" d="M537.0 498.4L545.2 502.1L542.2 486.6L533.9 482.8Z"/>
<path class="c165" d="M530.4 498.8L537.0 498.4L533.9 482.8L527.3 483.5Z"/>
<path class="c332" d="M528.7 502.3L530.4 498.8L527.3 483.5L525.7 487.5Z"/>
<path class="c376" d="M527.1 505.9L528.7 502.3L525.7 487.5L524.0 491.4Z"/>
<path class="c115" d="M525.4 514.4L527.1 505.9L524.0 491.4L522.4 500.7Z"/>
<path class="c231" d="M523.8 522.8L525.4 514.4L522.4 500.7L520.8 510.0Z"/>
<path class="c359" d="M522.1 521.3L523.8 522.8L520.8 510.0L519.1 508.2Z"/>
<path class="c401" d="M520.5 521.5L522.1 521.3L519.1 508.2L517.5 508.4Z"/>
<path class="c359" d="M518.8 523.6L520.5 521.5L517.5 508.4L515.8 510.6Z"/>
<path class="c380" d="M517.2 527.5L518.8 523.6L515.8 510.6L514.2 514.9Z"/>
<path class="c293" d="M503.9 512.9L517.2 527.5L514.2 514.9L501.0 505.0Z"/>
<path class="c355" d="M490.6 504.9L503.9 512.9L501.0 505.0L487.7 498.4Z"/>
<path class="c386" d="M477.2 494.1L490.6 504.9L487.7 498.4L474.4 488.0Z"/>
<path class="c402" d="M465.7 522.7L477.2 494.1L474.4 488.0L462.9 516.6Z"/>
<path class="c403" d="M457.5 550.9L465.7 522.7L462.9 516.6L454.7 544.5Z"/>
<path class="c158" d="M449.4 576.1L457.5 550.9L454.7 544.5L446.6 568.2Z"/>
<path class="c119" d="M436.1 587.3L449.4 576.1L446.6 568.2L433.4 579.4Z"/>
<path class="c381" d="M422.8 590.1L436.1 587.3L433.4 579.4L420.1 583.0Z"/>
<path class="c381" d="M407.7 588.3L422.8 590.1L420.1 583.0L405.1 581.6Z"/>
<path class="c232" d="M392.6 583.5L407.7 588.3L405.1 581.6L390.0 576.6Z"/>
<path class="c228" d="M379.1 579.0L392.6 583.5L390.0 576.6L376.6 571.7Z"/>
<path class="c49" d="M363.9 574.5L379.1 579.0L376.6 571.7L361.4 566.3Z"/>
<path class="c117" d="M347.1 575.3L363.9 574.5L361.4 566.3L344.6 566.7Z"/>
<path class="c156" d="M331.9 581.2L347.1 575.3L344.6 566.7L329.5 572.5Z"/>
<path class="c200" d="M313.5 597.4L331.9 581.2L329.5 572.5L311.2 589.0Z"/>
<path class="c404" d="M305.2 604.8L313.5 597.4L311.2 589.0L302.9 597.1Z"/>
<path class="c392" d="M294.9 596.6L305.2 604.8L302.9 597.1L292.6 589.3Z"/>
<path class="c381" d="M284.7 600.0L294.9 596.6L292.6 589.3L282.5 591.5Z"/>
<path class="c405" d="M268.8 569.7L284.7 600.0L282.5 591.5L266.6 562.1Z"/>
<path class="c406" d="M252.7 536.0L268.8 569.7L266.6 562.1L250.6 529.6Z"/>
<path class="c105" d="M241.1 558.7L252.7 536.0L250.6 529.6L239.0 551.8Z"/>
<path class="c109" d="M230.5 620.3L241.1 558.7L239.0 551.8L228.4 613.3Z"/>
<path class="c407" d="M214.4 595.6L230.5 620.3L228.4 613.3L212.5 589.6Z"/>
<path class="c294" d="M204.2 600.3L214.4 595.6L212.5 589.6L202.3 594.4Z"/>
<path class="c392" d="M189.1 614.3L204.2 600.3L202.3 594.4L187.1 607.0Z"/>
<path class="c408" d="M175.0 605.9L189.1 614.3L187.1 607.0L173.2 600.1Z"/>
<path class="c409" d="M801.5 511.1L812.3 444.7L808.4 438.5L797.6 502.7Z"/>
<path class="c153" d="M793.2 527.8L801.5 511.1L797.6 502.7L789.4 519.4Z"/>
<path class="c194" d="M783.8 516.6L793.2 527.8L789.4 519.4L780.1 506.8Z"/>
<path class="c161" d="M776.2 493.4L783.8 516.6L780.1 506.8L772.5 481.2Z"/>
<path class="c121" d="M768.6 469.9L776.2 493.4L772.5 481.2L765.0 455.1Z"/>
<path class="c204" d="M761.0 442.2L768.6 469.9L765.0 455.1L757.5 424.5Z"/>
<path class="c204" d="M752.5 472.4L761.0 442.2L757.5 424.5L749.0 454.9Z"/>
<path class="c333" d="M747.4 493.6L752.5 472.4L749.0 454.9L743.8 476.1Z"/>
<path class="c386" d="M742.6 493.3L747.4 493.6L743.8 476.1L739.0 475.5Z"/>
<path class="c332" d="M737.7 493.0L742.6 493.3L739.0 475.5L734.2 474.8Z"/>
<path class="c234" d="M732.9 492.9L737.7 493.0L734.2 474.8L729.4 474.3Z"/>
<path class="c234" d="M726.4 494.3L732.9 492.9L729.4 474.3L723.0 475.1Z"/>
<path class="c410" d="M721.6 497.5L726.4 494.3L723.0 475.1L718.1 478.1Z"/>
<path class="c376" d="M716.7 500.9L721.6 497.5L718.1 478.1L713.2 481.7Z"/>
<path class="c383" d="M710.2 504.0L716.7 500.9L713.2 481.7L706.7 485.1Z"/>
<path class="c59" d="M700.4 506.7L710.2 504.0L706.7 485.1L697.0 493.1Z"/>
<path class="c231" d="M693.9 517.4L700.4 506.7L697.0 493.1L690.4 504.7Z"/>
<path class="c377" d="M687.3 523.3L693.9 517.4L690.4 504.7L683.9 511.3Z"/>
<path class="c403" d="M679.2 525.8L687.3 523.3L683.9 511.3L675.8 514.4Z"/>
<path class="c114" d="M673.0 496.6L679.2 525.8L675.8 514.4L669.6 485.4Z"/>
<path class="c367" d="M666.8 465.9L673.0 496.6L669.6 485.4L663.3 455.0Z"/>
<path class="c148" d="M660.7 415.2L666.8 465.9L663.3 455.0L657.3 404.1Z"/>
<path class="c210" d="M654.6 366.0L660.7 415.2L657.3 404.1L651.1 355.0Z"/>
<path class="c96" d="M648.1 346.0L654.6 366.0L651.1 355.0L644.7 335.2Z"/>
<path class="c211" d="M641.6 332.0L648.1 346.0L644.7 335.2L638.2 321.6Z"/>
<path class="c411" d="M635.2 302.9L641.6 332.0L638.2 321.6L631.8 292.6Z"/>
<path class="c135" d="M628.7 280.0L635.2 302.9L631.8 292.6L625.4 270.0Z"/>
<path class="c412" d="M623.8 272.9L628.7 280.0L625.4 270.0L620.4 263.0Z"/>
<path class="c215" d="M621.6 360.7L623.8 272.9L620.4 263.0L618.3 343.0Z"/>
<path class="c174" d="M619.4 447.4L621.6 360.7L618.3 343.0L616.2 422.1Z"/>
<path class="c102" d="M617.3 533.0L619.4 447.4L616.2 422.1L614.1 500.4Z"/>
<path class="c390" d="M609.0 553.7L617.3 533.0L614.1 500.4L605.8 543.2Z"/>
<path class="c113" d="M599.3 539.7L609.0 553.7L605.8 543.2L596.0 528.7Z"/>
<path class="c194" d="M587.8 530.6L599.3 539.7L596.0 528.7L584.6 519.3Z"/>
<path class="c105" d="M576.3 527.8L587.8 530.6L584.6 519.3L573.2 515.6Z"/>
<path class="c359" d="M566.5 521.1L576.3 527.8L573.2 515.6L563.3 507.6Z"/>
<path class="c231" d="M558.2 516.9L566.5 521.1L563.3 507.6L555.1 502.5Z"/>
<path class="c198" d="M548.3 516.7L558.2 516.9L555.1 502.5L545.2 502.1Z"/>
<path class="c114" d="M540.0 513.0L548.3 516.7L545.2 502.1L537.0 498.4Z"/>
<path class="c355" d="M533.4 513.2L540.0 513.0L537.0 498.4L530.4 498.8Z"/>
<path class="c114" d="M531.8 516.4L533.4 513.2L530.4 498.8L528.7 502.3Z"/>
<path class="c198" d="M530.1 519.6L531.8 516.4L528.7 502.3L527.1 505.9Z"/>
<path class="c262" d="M528.5 527.3L530.1 519.6L527.1 505.9L525.4 514.4Z"/>
<path class="c377" d="M526.8 535.0L528.5 527.3L525.4 514.4L523.8 522.8Z"/>
<path class="c403" d="M525.1 534.0L526.8 535.0L523.8 522.8L522.1 521.3Z"/>
<path class="c403" d="M523.5 534.6L525.1 534.0L522.1 521.3L520.5 521.5Z"/>
<path class="c153" d="M521.8 536.7L523.5 534.6L520.5 521.5L518.8 523.6Z"/>
<path class="c194" d="M520.2 540.4L521.8 536.7L518.8 523.6L517.2 527.5Z"/>
<path class="c361" d="M506.9 520.6L520.2 540.4L517.2 527.5L503.9 512.9Z"/>
<path class="c198" d="M493.5 511.4L506.9 520.6L503.9 512.9L490.6 504.9Z"/>
<path class="c193" d="M480.1 500.2L493.5 511.4L490.6 504.9L477.2 494.1Z"/>
<path class="c60" d="M468.5 528.7L480.1 500.2L477.2 494.1L465.7 522.7Z"/>
<path class="c194" d="M460.3 557.4L468.5 528.7L465.7 522.7L457.5 550.9Z"/>
<path class="c109" d="M452.1 584.3L460.3 557.4L457.5 550.9L449.4 576.1Z"/>
<path class="c294" d="M438.9 595.7L452.1 584.3L449.4 576.1L436.1 587.3Z"/>
<path class="c408" d="M425.5 597.5L438.9 595.7L436.1 587.3L422.8 590.1Z"/>
<path class="c413" d="M410.4 595.3L425.5 597.5L422.8 590.1L407.7 588.3Z"/>
<path class="c362" d="M395.2 590.8L410.4 595.3L407.7 588.3L392.6 583.5Z"/>
<path class="c414" d="M381.7 586.8L395.2 590.8L392.6 583.5L379.1 579.0Z"/>
<path class="c63" d="M366.5 583.1L381.7 586.8L379.1 579.0L363.9 574.5Z"/>
<path class="c50" d="M349.5 584.5L366.5 583.1L363.9 574.5L347.1 575.3Z"/>
<path class="c63" d="M334.4 590.3L349.5 584.5L347.1 575.3L331.9 581.2Z"/>
<path class="c232" d="M315.9 606.3L334.4 590.3L331.9 581.2L313.5 597.4Z"/>
<path class="c415" d="M307.5 612.9L315.9 606.3L313.5 597.4L305.2 604.8Z"/>
<path class="c416" d="M297.1 604.3L307.5 612.9L305.2 604.8L294.9 596.6Z"/>
<path class="c408" d="M287.0 609.1L297.1 604.3L294.9 596.6L284.7 600.0Z"/>
<path class="c49" d="M271.0 577.7L287.0 609.1L284.7 600.0L268.8 569.7Z"/>
<path class="c417" d="M254.8 542.6L271.0 577.7L268.8 569.7L252.7 536.0Z"/>
<path class="c406" d="M243.2 565.9L254.8 542.6L252.7 536.0L241.1 558.7Z"/>
<path class="c292" d="M232.5 627.8L243.2 565.9L241.1 558.7L230.5 620.3Z"/>
<path class="c413" d="M216.4 601.8L232.5 627.8L230.5 620.3L214.4 595.6Z"/>
<path class="c347" d="M206.2 606.4L216.4 601.8L214.4 595.6L204.2 600.3Z"/>
<path class="c408" d="M191.0 622.0L206.2 606.4L204.2 600.3L189.1 614.3Z"/>
<path class="c418" d="M176.9 611.8L191.0 622.0L189.1 614.3L175.0 605.9Z"/>
<path class="c315" d="M805.3 519.3L816.3 450.9L812.3 444.7L801.5 511.1Z"/>
<path class="c226" d="M797.0 536.0L805.3 519.3L801.5 511.1L793.2 527.8Z"/>
<path class="c61" d="M787.6 526.2L797.0 536.0L793.2 527.8L783.8 516.6Z"/>
<path class="c318" d="M780.0 505.3L787.6 526.2L783.8 516.6L776.2 493.4Z"/>
<path class="c165" d="M772.3 484.2L780.0 505.3L776.2 493.4L768.6 469.9Z"/>
<path class="c419" d="M764.7 459.4L772.3 484.2L768.6 469.9L761.0 442.2Z"/>
<path class="c151" d="M756.1 489.1L764.7 459.4L761.0 442.2L752.5 472.4Z"/>
<path class="c420" d="M751.0 510.2L756.1 489.1L752.5 472.4L747.4 493.6Z"/>
<path class="c198" d="M746.1 510.2L751.0 510.2L747.4 493.6L742.6 493.3Z"/>
<path class="c198" d="M741.3 510.3L746.1 510.2L742.6 493.3L737.7 493.0Z"/>
<path class="c291" d="M736.4 510.5L741.3 510.3L737.7 493.0L732.9 492.9Z"/>
<path class="c198" d="M730.0 512.3L736.4 510.5L732.9 492.9L726.4 494.3Z"/>
<path class="c231" d="M725.1 515.8L730.0 512.3L726.4 494.3L721.6 497.5Z"/>
<path class="c262" d="M720.2 519.0L725.1 515.8L721.6 497.5L716.7 500.9Z"/>
<path class="c401" d="M713.7 521.9L720.2 519.0L716.7 500.9L710.2 504.0Z"/>
<path class="c346" d="M704.0 519.6L713.7 521.9L710.2 504.0L700.4 506.7Z"/>
<path class="c400" d="M697.4 529.4L704.0 519.6L700.4 506.7L693.9 517.4Z"/>
<path class="c417" d="M690.8 534.7L697.4 529.4L693.9 517.4L687.3 523.3Z"/>
<path class="c421" d="M682.7 536.6L690.8 534.7L687.3 523.3L679.2 525.8Z"/>
<path class="c293" d="M676.5 507.3L682.7 536.6L679.2 525.8L673.0 496.6Z"/>
<path class="c316" d="M670.2 476.4L676.5 507.3L673.0 496.6L666.8 465.9Z"/>
<path class="c43" d="M664.1 426.0L670.2 476.4L666.8 465.9L660.7 415.2Z"/>
<path class="c422" d="M658.0 376.8L664.1 426.0L660.7 415.2L654.6 366.0Z"/>
<path class="c275" d="M651.6 356.8L658.0 376.8L654.6 366.0L648.1 346.0Z"/>
<path class="c238" d="M645.1 342.3L651.6 356.8L648.1 346.0L641.6 332.0Z"/>
<path class="c423" d="M638.6 313.1L645.1 342.3L641.6 332.0L635.2 302.9Z"/>
<path class="c82" d="M632.1 290.0L638.6 313.1L635.2 302.9L628.7 280.0Z"/>
<path class="c424" d="M627.2 282.9L632.1 290.0L628.7 280.0L623.8 272.9Z"/>
<path class="c37" d="M624.9 378.0L627.2 282.9L623.8 272.9L621.6 360.7Z"/>
<path class="c27" d="M622.7 472.0L624.9 378.0L621.6 360.7L619.4 447.4Z"/>
<path class="c290" d="M620.5 564.7L622.7 472.0L619.4 447.4L617.3 533.0Z"/>
<path class="c53" d="M612.3 563.7L620.5 564.7L617.3 533.0L609.0 553.7Z"/>
<path class="c195" d="M602.5 550.1L612.3 563.7L609.0 553.7L599.3 539.7Z"/>
<path class="c162" d="M591.0 541.3L602.5 550.1L599.3 539.7L587.8 530.6Z"/>
<path class="c399" d="M579.5 539.4L591.0 541.3L587.8 530.6L576.3 527.8Z"/>
<path class="c153" d="M569.6 533.8L579.5 539.4L576.3 527.8L566.5 521.1Z"/>
<path class="c47" d="M561.4 530.5L569.6 533.8L566.5 521.1L558.2 516.9Z"/>
<path class="c377" d="M551.4 530.4L561.4 530.5L558.2 516.9L548.3 516.7Z"/>
<path class="c359" d="M543.1 526.7L551.4 530.4L548.3 516.7L540.0 513.0Z"/>
<path class="c318" d="M536.5 526.7L543.1 526.7L540.0 513.0L533.4 513.2Z"/>
<path class="c401" d="M534.8 529.6L536.5 526.7L533.4 513.2L531.8 516.4Z"/>
<path class="c380" d="M533.2 532.4L534.8 529.6L531.8 516.4L530.1 519.6Z"/>
<path class="c390" d="M531.5 539.5L533.2 532.4L530.1 519.6L528.5 527.3Z"/>
<path class="c417" d="M529.8 546.5L531.5 539.5L528.5 527.3L526.8 535.0Z"/>
<path class="c61" d="M528.2 546.2L529.8 546.5L526.8 535.0L525.1 534.0Z"/>
<path class="c61" d="M526.5 547.1L528.2 546.2L525.1 534.0L523.5 534.6Z"/>
<path class="c61" d="M524.9 549.3L526.5 547.1L523.5 534.6L521.8 536.7Z"/>
<path class="c162" d="M523.2 553.0L524.9 549.3L521.8 536.7L520.2 540.4Z"/>
<path class="c403" d="M509.8 528.1L523.2 553.0L520.2 540.4L506.9 520.6Z"/>
<path class="c262" d="M496.4 517.9L509.8 528.1L506.9 520.6L493.5 511.4Z"/>
<path class="c60" d="M483.0 506.3L496.4 517.9L493.5 511.4L480.1 500.2Z"/>
<path class="c355" d="M471.4 534.8L483.0 506.3L480.1 500.2L468.5 528.7Z"/>
<path class="c226" d="M463.2 563.8L471.4 534.8L468.5 528.7L460.3 557.4Z"/>
<path class="c292" d="M454.9 592.5L463.2 563.8L460.3 557.4L452.1 584.3Z"/>
<path class="c407" d="M441.6 603.9L454.9 592.5L452.1 584.3L438.9 595.7Z"/>
<path class="c425" d="M428.2 604.8L441.6 603.9L438.9 595.7L425.5 597.5Z"/>
<path class="c418" d="M413.0 602.3L428.2 604.8L425.5 597.5L410.4 595.3Z"/>
<path class="c392" d="M397.8 598.0L413.0 602.3L410.4 595.3L395.2 590.8Z"/>
<path class="c319" d="M384.3 594.4L397.8 598.0L395.2 590.8L381.7 586.8Z"/>
<path class="c164" d="M369.0 591.6L384.3 594.4L381.7 586.8L366.5 583.1Z"/>
<path class="c164" d="M352.0 593.5L369.0 591.6L366.5 583.1L349.5 584.5Z"/>
<path class="c201" d="M336.8 599.4L352.0 593.5L349.5 584.5L334.4 590.3Z"/>
<path class="c381" d="M318.3 615.0L336.8 599.4L334.4 590.3L315.9 606.3Z"/>
<path class="c426" d="M309.8 620.9L318.3 615.0L315.9 606.3L307.5 612.9Z"/>
<path class="c427" d="M299.4 612.0L309.8 620.9L307.5 612.9L297.1 604.3Z"/>
<path class="c425" d="M289.3 618.0L299.4 612.0L297.1 604.3L287.0 609.1Z"/>
<path class="c118" d="M273.2 585.6L289.3 618.0L287.0 609.1L271.0 577.7Z"/>
<path class="c421" d="M257.0 549.2L273.2 585.6L271.0 577.7L254.8 542.6Z"/>
<path class="c417" d="M245.4 573.0L257.0 549.2L254.8 542.6L243.2 565.9Z"/>
<path class="c51" d="M234.6 635.1L245.4 573.0L243.2 565.9L232.5 627.8Z"/>
<path class="c418" d="M218.4 608.0L234.6 635.1L232.5 627.8L216.4 601.8Z"/>
<path class="c407" d="M208.1 612.5L218.4 608.0L216.4 601.8L206.2 606.4Z"/>
<path class="c428" d="M192.9 629.5L208.1 612.5L206.2 606.4L191.0 622.0Z"/>
<path class="c427" d="M178.7 617.7L192.9 629.5L191.0 622.0L176.9 611.8Z"/>
<path class="c374" d="M809.2 527.1L820.2 457.2L816.3 450.9L805.3 519.3Z"/>
<path class="c116" d="M800.9 543.8L809.2 527.1L805.3 519.3L797.0 536.0Z"/>
<path class="c160" d="M791.4 535.2L800.9 543.8L797.0 536.0L787.6 526.2Z"/>
<path class="c390" d="M783.7 516.3L791.4 535.2L787.6 526.2L780.0 505.3Z"/>
<path class="c429" d="M776.0 497.4L783.7 516.3L780.0 505.3L772.3 484.2Z"/>
<path class="c315" d="M768.3 475.1L776.0 497.4L772.3 484.2L764.7 459.4Z"/>
<path class="c290" d="M759.8 504.5L768.3 475.1L764.7 459.4L756.1 489.1Z"/>
<path class="c161" d="M754.6 525.5L759.8 504.5L756.1 489.1L751.0 510.2Z"/>
<path class="c47" d="M749.7 525.8L754.6 525.5L751.0 510.2L746.1 510.2Z"/>
<path class="c47" d="M744.9 526.2L749.7 525.8L746.1 510.2L741.3 510.3Z"/>
<path class="c47" d="M740.0 526.6L744.9 526.2L741.3 510.3L736.4 510.5Z"/>
<path class="c47" d="M733.5 529.0L740.0 526.6L736.4 510.5L730.0 512.3Z"/>
<path class="c105" d="M728.6 532.6L733.5 529.0L730.0 512.3L725.1 515.8Z"/>
<path class="c406" d="M723.7 535.7L728.6 532.6L725.1 515.8L720.2 519.0Z"/>
<path class="c417" d="M717.2 538.3L723.7 535.7L720.2 519.0L713.7 521.9Z"/>
<path class="c194" d="M707.5 531.9L717.2 538.3L713.7 521.9L704.0 519.6Z"/>
<path class="c417" d="M700.9 540.9L707.5 531.9L704.0 519.6L697.4 529.4Z"/>
<path class="c58" d="M694.3 545.5L700.9 540.9L697.4 529.4L690.8 534.7Z"/>
<path class="c54" d="M686.2 547.0L694.3 545.5L690.8 534.7L682.7 536.6Z"/>
<path class="c400" d="M680.0 517.5L686.2 547.0L682.7 536.6L676.5 507.3Z"/>
<path class="c389" d="M673.7 486.5L680.0 517.5L676.5 507.3L670.2 476.4Z"/>
<path class="c101" d="M667.6 436.6L673.7 486.5L670.2 476.4L664.1 426.0Z"/>
<path class="c98" d="M661.5 387.5L667.6 436.6L664.1 426.0L658.0 376.8Z"/>
<path class="c90" d="M655.0 367.4L661.5 387.5L658.0 376.8L651.6 356.8Z"/>
<path class="c96" d="M648.5 352.5L655.0 367.4L651.6 356.8L645.1 342.3Z"/>
<path class="c371" d="M642.1 323.4L648.5 352.5L645.1 342.3L638.6 313.1Z"/>
<path class="c143" d="M635.5 300.1L642.1 323.4L638.6 313.1L632.1 290.0Z"/>
<path class="c95" d="M630.6 292.9L635.5 300.1L632.1 290.0L627.2 282.9Z"/>
<path class="c206" d="M628.3 394.0L630.6 292.9L627.2 282.9L624.9 378.0Z"/>
<path class="c430" d="M626.0 493.7L628.3 394.0L624.9 378.0L622.7 472.0Z"/>
<path class="c115" d="M623.7 592.0L626.0 493.7L622.7 472.0L620.5 564.7Z"/>
<path class="c63" d="M615.6 573.2L623.7 592.0L620.5 564.7L612.3 563.7Z"/>
<path class="c52" d="M605.8 560.0L615.6 573.2L612.3 563.7L602.5 550.1Z"/>
<path class="c111" d="M594.3 551.5L605.8 560.0L602.5 550.1L591.0 541.3Z"/>
<path class="c113" d="M582.7 550.4L594.3 551.5L591.0 541.3L579.5 539.4Z"/>
<path class="c61" d="M572.8 545.8L582.7 550.4L579.5 539.4L569.6 533.8Z"/>
<path class="c226" d="M564.5 543.3L572.8 545.8L569.6 533.8L561.4 530.5Z"/>
<path class="c194" d="M554.5 543.4L564.5 543.3L561.4 530.5L551.4 530.4Z"/>
<path class="c153" d="M546.2 539.7L554.5 543.4L551.4 530.4L543.1 526.7Z"/>
<path class="c403" d="M539.6 539.4L546.2 539.7L543.1 526.7L536.5 526.7Z"/>
<path class="c403" d="M537.9 542.0L539.6 539.4L536.5 526.7L534.8 529.6Z"/>
<path class="c406" d="M536.2 544.6L537.9 542.0L534.8 529.6L533.2 532.4Z"/>
<path class="c226" d="M534.6 551.0L536.2 544.6L533.2 532.4L531.5 539.5Z"/>
<path class="c58" d="M532.9 557.4L534.6 551.0L531.5 539.5L529.8 546.5Z"/>
<path class="c111" d="M531.2 557.5L532.9 557.4L529.8 546.5L528.2 546.2Z"/>
<path class="c111" d="M529.6 558.7L531.2 557.5L528.2 546.2L526.5 547.1Z"/>
<path class="c196" d="M527.9 561.0L529.6 558.7L526.5 547.1L524.9 549.3Z"/>
<path class="c110" d="M526.2 564.5L527.9 561.0L524.9 549.3L523.2 553.0Z"/>
<path class="c417" d="M512.8 535.5L526.2 564.5L523.2 553.0L509.8 528.1Z"/>
<path class="c318" d="M499.4 524.3L512.8 535.5L509.8 528.1L496.4 517.9Z"/>
<path class="c59" d="M485.9 512.4L499.4 524.3L496.4 517.9L483.0 506.3Z"/>
<path class="c161" d="M474.3 540.8L485.9 512.4L483.0 506.3L471.4 534.8Z"/>
<path class="c421" d="M466.0 570.1L474.3 540.8L471.4 534.8L463.2 563.8Z"/>
<path class="c51" d="M457.8 600.1L466.0 570.1L463.2 563.8L454.9 592.5Z"/>
<path class="c416" d="M444.4 611.6L457.8 600.1L454.9 592.5L441.6 603.9Z"/>
<path class="c431" d="M430.9 611.7L444.4 611.6L441.6 603.9L428.2 604.8Z"/>
<path class="c427" d="M415.7 608.8L430.9 611.7L428.2 604.8L413.0 602.3Z"/>
<path class="c416" d="M400.4 604.7L415.7 608.8L413.0 602.3L397.8 598.0Z"/>
<path class="c407" d="M386.8 601.6L400.4 604.7L397.8 598.0L384.3 594.4Z"/>
<path class="c432" d="M371.5 599.4L386.8 601.6L384.3 594.4L369.0 591.6Z"/>
<path class="c319" d="M354.5 601.9L371.5 599.4L369.0 591.6L352.0 593.5Z"/>
<path class="c362" d="M339.2 607.7L354.5 601.9L352.0 593.5L336.8 599.4Z"/>
<path class="c416" d="M320.7 623.1L339.2 607.7L336.8 599.4L318.3 615.0Z"/>
<path class="c433" d="M312.2 628.4L320.7 623.1L318.3 615.0L309.8 620.9Z"/>
<path class="c434" d="M301.7 619.1L312.2 628.4L309.8 620.9L299.4 612.0Z"/>
<path class="c431" d="M291.6 626.3L301.7 619.1L299.4 612.0L289.3 618.0Z"/>
<path class="c164" d="M275.4 593.1L291.6 626.3L289.3 618.0L273.2 585.6Z"/>
<path class="c162" d="M259.1 555.6L275.4 593.1L273.2 585.6L257.0 549.2Z"/>
<path class="c421" d="M247.5 579.9L259.1 555.6L257.0 549.2L245.4 573.0Z"/>
<path class="c159" d="M236.7 642.0L247.5 579.9L245.4 573.0L234.6 635.1Z"/>
<path class="c425" d="M220.4 614.0L236.7 642.0L234.6 635.1L218.4 608.0Z"/>
<path class="c404" d="M210.1 618.4L220.4 614.0L218.4 608.0L208.1 612.5Z"/>
<path class="c427" d="M194.9 636.6L210.1 618.4L208.1 612.5L192.9 629.5Z"/>
<path class="c426" d="M180.6 623.5L194.9 636.6L192.9 629.5L178.7 617.7Z"/>
<path class="c166" d="M813.2 534.3L824.2 463.5L820.2 457.2L809.2 527.1Z"/>
<path class="c160" d="M804.8 550.9L813.2 534.3L809.2 527.1L800.9 543.8Z"/>
<path class="c110" d="M795.3 543.4L804.8 550.9L800.9 543.8L791.4 535.2Z"/>
<path class="c417" d="M787.6 526.2L795.3 543.4L791.4 535.2L783.7 516.3Z"/>
<path class="c435" d="M779.8 509.1L787.6 526.2L783.7 516.3L776.0 497.4Z"/>
<path class="c436" d="M772.0 488.9L779.8 509.1L776.0 497.4L768.3 475.1Z"/>
<path class="c165" d="M763.4 518.4L772.0 488.9L768.3 475.1L759.8 504.5Z"/>
<path class="c380" d="M758.2 539.4L763.4 518.4L759.8 504.5L754.6 525.5Z"/>
<path class="c259" d="M753.4 540.0L758.2 539.4L754.6 525.5L749.7 525.8Z"/>
<path class="c421" d="M748.5 540.6L753.4 540.0L749.7 525.8L744.9 526.2Z"/>
<path class="c421" d="M743.6 541.3L748.5 540.6L744.9 526.2L740.0 526.6Z"/>
<path class="c61" d="M737.1 544.0L743.6 541.3L740.0 526.6L733.5 529.0Z"/>
<path class="c162" d="M732.2 547.7L737.1 544.0L733.5 529.0L728.6 532.6Z"/>
<path class="c113" d="M727.3 550.7L732.2 547.7L728.6 532.6L723.7 535.7Z"/>
<path class="c55" d="M720.7 553.0L727.3 550.7L723.7 535.7L717.2 538.3Z"/>
<path class="c58" d="M711.1 543.4L720.7 553.0L717.2 538.3L707.5 531.9Z"/>
<path class="c58" d="M704.4 551.7L711.1 543.4L707.5 531.9L700.9 540.9Z"/>
<path class="c53" d="M697.9 555.8L704.4 551.7L700.9 540.9L694.3 545.5Z"/>
<path class="c106" d="M689.7 556.8L697.9 555.8L694.3 545.5L686.2 547.0Z"/>
<path class="c406" d="M683.5 527.3L689.7 556.8L686.2 547.0L680.0 517.5Z"/>
<path class="c193" d="M677.2 496.3L683.5 527.3L680.0 517.5L673.7 486.5Z"/>
<path class="c44" d="M671.1 447.0L677.2 496.3L673.7 486.5L667.6 436.6Z"/>
<path class="c250" d="M665.0 398.1L671.1 447.0L667.6 436.6L661.5 387.5Z"/>
<path class="c4" d="M658.5 378.0L665.0 398.1L661.5 387.5L655.0 367.4Z"/>
<path class="c87" d="M652.0 362.8L658.5 378.0L655.0 367.4L648.5 352.5Z"/>
<path class="c327" d="M645.5 333.7L652.0 362.8L648.5 352.5L642.1 323.4Z"/>
<path class="c437" d="M639.0 310.3L645.5 333.7L642.1 323.4L635.5 300.1Z"/>
<path class="c173" d="M634.0 303.0L639.0 310.3L635.5 300.1L630.6 292.9Z"/>
<path class="c30" d="M631.6 408.0L634.0 303.0L630.6 292.9L628.3 394.0Z"/>
<path class="c266" d="M629.3 511.5L631.6 408.0L628.3 394.0L626.0 493.7Z"/>
<path class="c377" d="M627.0 613.5L629.3 511.5L626.0 493.7L623.7 592.0Z"/>
<path class="c432" d="M618.9 582.3L627.0 613.5L623.7 592.0L615.6 573.2Z"/>
<path class="c62" d="M609.1 569.4L618.9 582.3L615.6 573.2L605.8 560.0Z"/>
<path class="c56" d="M597.5 561.1L609.1 569.4L605.8 560.0L594.3 551.5Z"/>
<path class="c110" d="M585.9 560.8L597.5 561.1L594.3 551.5L582.7 550.4Z"/>
<path class="c111" d="M576.0 557.2L585.9 560.8L582.7 550.4L572.8 545.8Z"/>
<path class="c113" d="M567.7 555.4L576.0 557.2L572.8 545.8L564.5 543.3Z"/>
<path class="c58" d="M557.7 555.6L567.7 555.4L564.5 543.3L554.5 543.4Z"/>
<path class="c61" d="M549.3 552.0L557.7 555.6L554.5 543.4L546.2 539.7Z"/>
<path class="c421" d="M542.7 551.5L549.3 552.0L546.2 539.7L539.6 539.4Z"/>
<path class="c421" d="M541.0 553.8L542.7 551.5L539.6 539.4L537.9 542.0Z"/>
<path class="c116" d="M539.3 556.1L541.0 553.8L537.9 542.0L536.2 544.6Z"/>
<path class="c113" d="M537.7 561.9L539.3 556.1L536.2 544.6L534.6 551.0Z"/>
<path class="c53" d="M536.0 567.7L537.7 561.9L534.6 551.0L532.9 557.4Z"/>
<path class="c438" d="M534.3 568.1L536.0 567.7L532.9 557.4L531.2 557.5Z"/>
<path class="c56" d="M532.6 569.3L534.3 568.1L531.2 557.5L529.6 558.7Z"/>
<path class="c360" d="M531.0 571.5L532.6 569.3L529.6 558.7L527.9 561.0Z"/>
<path class="c52" d="M529.3 574.7L531.0 571.5L527.9 561.0L526.2 564.5Z"/>
<path class="c61" d="M515.9 542.8L529.3 574.7L526.2 564.5L512.8 535.5Z"/>
<path class="c380" d="M502.4 530.7L515.9 542.8L512.8 535.5L499.4 524.3Z"/>
<path class="c320" d="M488.9 518.6L502.4 530.7L499.4 524.3L485.9 512.4Z"/>
<path class="c231" d="M477.2 546.9L488.9 518.6L485.9 512.4L474.3 540.8Z"/>
<path class="c116" d="M468.8 576.2L477.2 546.9L474.3 540.8L466.0 570.1Z"/>
<path class="c159" d="M460.6 607.1L468.8 576.2L466.0 570.1L457.8 600.1Z"/>
<path class="c425" d="M447.2 618.5L460.6 607.1L457.8 600.1L444.4 611.6Z"/>
<path class="c439" d="M433.6 617.9L447.2 618.5L444.4 611.6L430.9 611.7Z"/>
<path class="c431" d="M418.4 614.8L433.6 617.9L430.9 611.7L415.7 608.8Z"/>
<path class="c425" d="M403.1 610.8L418.4 614.8L415.7 608.8L400.4 604.7Z"/>
<path class="c408" d="M389.4 608.0L403.1 610.8L400.4 604.7L386.8 601.6Z"/>
<path class="c407" d="M374.1 606.5L389.4 608.0L386.8 601.6L371.5 599.4Z"/>
<path class="c407" d="M357.0 609.2L374.1 606.5L371.5 599.4L354.5 601.9Z"/>
<path class="c404" d="M341.7 615.1L357.0 609.2L354.5 601.9L339.2 607.7Z"/>
<path class="c427" d="M323.0 630.2L341.7 615.1L339.2 607.7L320.7 623.1Z"/>
<path class="c440" d="M314.5 635.1L323.0 630.2L320.7 623.1L312.2 628.4Z"/>
<path class="c433" d="M304.0 625.7L314.5 635.1L312.2 628.4L301.7 619.1Z"/>
<path class="c439" d="M293.8 633.6L304.0 625.7L301.7 619.1L291.6 626.3Z"/>
<path class="c319" d="M277.7 599.9L293.8 633.6L291.6 626.3L275.4 593.1Z"/>
<path class="c113" d="M261.3 561.8L277.7 599.9L275.4 593.1L259.1 555.6Z"/>
<path class="c116" d="M249.6 586.3L261.3 561.8L259.1 555.6L247.5 579.9Z"/>
<path class="c118" d="M238.8 648.2L249.6 586.3L247.5 579.9L236.7 642.0Z"/>
<path class="c441" d="M222.5 619.7L238.8 648.2L236.7 642.0L220.4 614.0Z"/>
<path class="c416" d="M212.1 624.0L222.5 619.7L220.4 614.0L210.1 618.4Z"/>
<path class="c426" d="M196.8 643.1L212.1 624.0L210.1 618.4L194.9 636.6Z"/>
<path class="c434" d="M182.5 628.9L196.8 643.1L194.9 636.6L180.6 623.5Z"/>
<path class="c342" d="M817.1 541.0L828.3 469.9L824.2 463.5L813.2 534.3Z"/>
<path class="c196" d="M808.8 557.4L817.1 541.0L813.2 534.3L804.8 550.9Z"/>
<path class="c56" d="M799.2 550.7L808.8 557.4L804.8 550.9L795.3 543.4Z"/>
<path class="c116" d="M791.4 535.0L799.2 550.7L795.3 543.4L787.6 526.2Z"/>
<path class="c361" d="M783.6 519.4L791.4 535.0L787.6 526.2L779.8 509.1Z"/>
<path class="c383" d="M775.8 501.0L783.6 519.4L779.8 509.1L772.0 488.9Z"/>
<path class="c115" d="M767.2 530.7L775.8 501.0L772.0 488.9L763.4 518.4Z"/>
<path class="c194" d="M761.9 552.1L767.2 530.7L763.4 518.4L758.2 539.4Z"/>
<path class="c111" d="M757.1 552.9L761.9 552.1L758.2 539.4L753.4 540.0Z"/>
<path class="c196" d="M752.2 553.7L757.1 552.9L753.4 540.0L748.5 540.6Z"/>
<path class="c196" d="M747.3 554.5L752.2 553.7L748.5 540.6L743.6 541.3Z"/>
<path class="c53" d="M740.7 557.5L747.3 554.5L743.6 541.3L737.1 544.0Z"/>
<path class="c230" d="M735.8 561.4L740.7 557.5L737.1 544.0L732.2 547.7Z"/>
<path class="c158" d="M730.9 564.2L735.8 561.4L732.2 547.7L727.3 550.7Z"/>
<path class="c379" d="M724.3 566.3L730.9 564.2L727.3 550.7L720.7 553.0Z"/>
<path class="c48" d="M714.7 554.4L724.3 566.3L720.7 553.0L711.1 543.4Z"/>
<path class="c110" d="M708.0 562.0L714.7 554.4L711.1 543.4L704.4 551.7Z"/>
<path class="c197" d="M701.5 565.6L708.0 562.0L704.4 551.7L697.9 555.8Z"/>
<path class="c157" d="M693.3 566.1L701.5 565.6L697.9 555.8L689.7 556.8Z"/>
<path class="c421" d="M687.0 536.8L693.3 566.1L689.7 556.8L683.5 527.3Z"/>
<path class="c59" d="M680.8 505.9L687.0 536.8L683.5 527.3L677.2 496.3Z"/>
<path class="c382" d="M674.6 457.1L680.8 505.9L677.2 496.3L671.1 447.0Z"/>
<path class="c442" d="M668.5 408.6L674.6 457.1L671.1 447.0L665.0 398.1Z"/>
<path class="c271" d="M662.0 388.5L668.5 408.6L665.0 398.1L658.5 378.0Z"/>
<path class="c90" d="M655.4 373.0L662.0 388.5L658.5 378.0L652.0 362.8Z"/>
<path class="c186" d="M649.0 344.0L655.4 373.0L652.0 362.8L645.5 333.7Z"/>
<path class="c5" d="M642.4 320.6L649.0 344.0L645.5 333.7L639.0 310.3Z"/>
<path class="c142" d="M637.4 313.1L642.4 320.6L639.0 310.3L634.0 303.0Z"/>
<path class="c38" d="M635.0 420.2L637.4 313.1L634.0 303.0L631.6 408.0Z"/>
<path class="c337" d="M632.6 525.6L635.0 420.2L631.6 408.0L629.3 511.5Z"/>
<path class="c421" d="M630.3 629.5L632.6 525.6L629.3 511.5L627.0 613.5Z"/>
<path class="c443" d="M622.3 591.0L630.3 629.5L627.0 613.5L618.9 582.3Z"/>
<path class="c112" d="M612.4 578.3L622.3 591.0L618.9 582.3L609.1 569.4Z"/>
<path class="c378" d="M600.8 570.3L612.4 578.3L609.1 569.4L597.5 561.1Z"/>
<path class="c379" d="M589.2 570.7L600.8 570.3L597.5 561.1L585.9 560.8Z"/>
<path class="c154" d="M579.2 567.9L589.2 570.7L585.9 560.8L576.0 557.2Z"/>
<path class="c195" d="M570.9 566.8L579.2 567.9L576.0 557.2L567.7 555.4Z"/>
<path class="c110" d="M560.8 567.1L570.9 566.8L567.7 555.4L557.7 555.6Z"/>
<path class="c111" d="M552.5 563.5L560.8 567.1L557.7 555.6L549.3 552.0Z"/>
<path class="c55" d="M545.8 562.9L552.5 563.5L549.3 552.0L542.7 551.5Z"/>
<path class="c55" d="M544.1 564.9L545.8 562.9L542.7 551.5L541.0 553.8Z"/>
<path class="c196" d="M542.4 567.0L544.1 564.9L541.0 553.8L539.3 556.1Z"/>
<path class="c195" d="M540.8 572.3L542.4 567.0L539.3 556.1L537.7 561.9Z"/>
<path class="c197" d="M539.1 577.5L540.8 572.3L537.7 561.9L536.0 567.7Z"/>
<path class="c229" d="M537.4 577.8L539.1 577.5L536.0 567.7L534.3 568.1Z"/>
<path class="c260" d="M535.7 578.9L537.4 577.8L534.3 568.1L532.6 569.3Z"/>
<path class="c292" d="M534.0 580.9L535.7 578.9L532.6 569.3L531.0 571.5Z"/>
<path class="c62" d="M532.4 583.8L534.0 580.9L531.0 571.5L529.3 574.7Z"/>
<path class="c58" d="M518.9 550.0L532.4 583.8L529.3 574.7L515.9 542.8Z"/>
<path class="c47" d="M505.4 537.1L518.9 550.0L515.9 542.8L502.4 530.7Z"/>
<path class="c198" d="M491.8 524.7L505.4 537.1L502.4 530.7L488.9 518.6Z"/>
<path class="c262" d="M480.1 552.9L491.8 524.7L488.9 518.6L477.2 546.9Z"/>
<path class="c113" d="M471.7 582.2L480.1 552.9L477.2 546.9L468.8 576.2Z"/>
<path class="c63" d="M463.4 613.5L471.7 582.2L468.8 576.2L460.6 607.1Z"/>
<path class="c426" d="M450.0 624.6L463.4 613.5L460.6 607.1L447.2 618.5Z"/>
<path class="c444" d="M436.4 623.5L450.0 624.6L447.2 618.5L433.6 617.9Z"/>
<path class="c445" d="M421.1 620.2L436.4 623.5L433.6 617.9L418.4 614.8Z"/>
<path class="c446" d="M405.7 616.3L421.1 620.2L418.4 614.8L403.1 610.8Z"/>
<path class="c418" d="M392.0 613.8L405.7 616.3L403.1 610.8L389.4 608.0Z"/>
<path class="c408" d="M376.6 612.7L392.0 613.8L389.4 608.0L374.1 606.5Z"/>
<path class="c408" d="M359.5 615.7L376.6 612.7L374.1 606.5L357.0 609.2Z"/>
<path class="c418" d="M344.1 621.6L359.5 615.7L357.0 609.2L341.7 615.1Z"/>
<path class="c431" d="M325.4 636.5L344.1 621.6L341.7 615.1L323.0 630.2Z"/>
<path class="c447" d="M316.9 641.0L325.4 636.5L323.0 630.2L314.5 635.1Z"/>
<path class="c448" d="M306.4 631.6L316.9 641.0L314.5 635.1L304.0 625.7Z"/>
<path class="c444" d="M296.1 639.9L306.4 631.6L304.0 625.7L293.8 633.6Z"/>
<path class="c391" d="M279.9 606.2L296.1 639.9L293.8 633.6L277.7 599.9Z"/>
<path class="c111" d="M263.5 567.8L279.9 606.2L277.7 599.9L261.3 561.8Z"/>
<path class="c58" d="M251.8 592.3L263.5 567.8L261.3 561.8L249.6 586.3Z"/>
<path class="c64" d="M240.8 653.9L251.8 592.3L249.6 586.3L238.8 648.2Z"/>
<path class="c449" d="M224.5 625.1L240.8 653.9L238.8 648.2L222.5 619.7Z"/>
<path class="c418" d="M214.1 629.3L224.5 625.1L222.5 619.7L212.1 624.0Z"/>
<path class="c434" d="M198.8 648.9L214.1 629.3L212.1 624.0L196.8 643.1Z"/>
<path class="c439" d="M184.3 634.2L198.8 648.9L196.8 643.1L182.5 628.9Z"/>
<path class="c165" d="M821.1 547.1L832.3 476.3L828.3 469.9L817.1 541.0Z"/>
<path class="c230" d="M812.7 563.5L821.1 547.1L817.1 541.0L808.8 557.4Z"/>
<path class="c52" d="M803.1 557.5L812.7 563.5L808.8 557.4L799.2 550.7Z"/>
<path class="c160" d="M795.3 543.0L803.1 557.5L799.2 550.7L791.4 535.0Z"/>
<path class="c403" d="M787.5 528.6L795.3 543.0L791.4 535.0L783.6 519.4Z"/>
<path class="c291" d="M779.6 511.6L787.5 528.6L783.6 519.4L775.8 501.0Z"/>
<path class="c231" d="M770.9 541.8L779.6 511.6L775.8 501.0L767.2 530.7Z"/>
<path class="c162" d="M765.7 563.7L770.9 541.8L767.2 530.7L761.9 552.1Z"/>
<path class="c227" d="M760.8 564.6L765.7 563.7L761.9 552.1L757.1 552.9Z"/>
<path class="c379" d="M755.9 565.6L760.8 564.6L757.1 552.9L752.2 553.7Z"/>
<path class="c261" d="M751.0 566.6L755.9 565.6L752.2 553.7L747.3 554.5Z"/>
<path class="c109" d="M744.4 569.8L751.0 566.6L747.3 554.5L740.7 557.5Z"/>
<path class="c260" d="M739.5 573.7L744.4 569.8L740.7 557.5L735.8 561.4Z"/>
<path class="c62" d="M734.5 576.4L739.5 573.7L735.8 561.4L730.9 564.2Z"/>
<path class="c49" d="M728.0 578.2L734.5 576.4L730.9 564.2L724.3 566.3Z"/>
<path class="c109" d="M718.3 564.8L728.0 578.2L724.3 566.3L714.7 554.4Z"/>
<path class="c379" d="M711.7 571.8L718.3 564.8L714.7 554.4L708.0 562.0Z"/>
<path class="c405" d="M705.1 574.9L711.7 571.8L708.0 562.0L701.5 565.6Z"/>
<path class="c51" d="M696.8 575.1L705.1 574.9L701.5 565.6L693.3 566.1Z"/>
<path class="c113" d="M690.6 545.9L696.8 575.1L693.3 566.1L687.0 536.8Z"/>
<path class="c231" d="M684.3 515.1L690.6 545.9L687.0 536.8L680.8 505.9Z"/>
<path class="c151" d="M678.2 467.1L684.3 515.1L680.8 505.9L674.6 457.1Z"/>
<path class="c99" d="M672.0 419.0L678.2 467.1L674.6 457.1L668.5 408.6Z"/>
<path class="c146" d="M665.5 399.0L672.0 419.0L668.5 408.6L662.0 388.5Z"/>
<path class="c251" d="M658.9 383.2L665.5 399.0L662.0 388.5L655.4 373.0Z"/>
<path class="c81" d="M652.5 354.4L658.9 383.2L655.4 373.0L649.0 344.0Z"/>
<path class="c207" d="M645.9 330.9L652.5 354.4L649.0 344.0L642.4 320.6Z"/>
<path class="c206" d="M640.9 323.3L645.9 330.9L642.4 320.6L637.4 313.1Z"/>
<path class="c123" d="M638.5 430.9L640.9 323.3L637.4 313.1L635.0 420.2Z"/>
<path class="c335" d="M636.0 536.9L638.5 430.9L635.0 420.2L632.6 525.6Z"/>
<path class="c196" d="M633.6 641.3L636.0 536.9L632.6 525.6L630.3 629.5Z"/>
<path class="c441" d="M625.6 599.2L633.6 641.3L630.3 629.5L622.3 591.0Z"/>
<path class="c119" d="M615.7 586.9L625.6 599.2L622.3 591.0L612.4 578.3Z"/>
<path class="c51" d="M604.1 579.1L615.7 586.9L612.4 578.3L600.8 570.3Z"/>
<path class="c344" d="M592.5 580.0L604.1 579.1L600.8 570.3L589.2 570.7Z"/>
<path class="c260" d="M582.4 578.1L592.5 580.0L589.2 570.7L579.2 567.9Z"/>
<path class="c109" d="M574.1 577.6L582.4 578.1L579.2 567.9L570.9 566.8Z"/>
<path class="c109" d="M564.0 578.0L574.1 577.6L570.9 566.8L560.8 567.1Z"/>
<path class="c158" d="M555.6 574.5L564.0 578.0L560.8 567.1L552.5 563.5Z"/>
<path class="c154" d="M548.9 573.6L555.6 574.5L552.5 563.5L545.8 562.9Z"/>
<path class="c154" d="M547.2 575.5L548.9 573.6L545.8 562.9L544.1 564.9Z"/>
<path class="c158" d="M545.6 577.3L547.2 575.5L544.1 564.9L542.4 567.0Z"/>
<path class="c52" d="M543.9 582.1L545.6 577.3L542.4 567.0L540.8 572.3Z"/>
<path class="c405" d="M542.2 586.9L543.9 582.1L540.8 572.3L539.1 577.5Z"/>
<path class="c49" d="M540.5 586.9L542.2 586.9L539.1 577.5L537.4 577.8Z"/>
<path class="c49" d="M538.8 587.7L540.5 586.9L537.4 577.8L535.7 578.9Z"/>
<path class="c155" d="M537.2 589.4L538.8 587.7L535.7 578.9L534.0 580.9Z"/>
<path class="c50" d="M535.5 591.9L537.2 589.4L534.0 580.9L532.4 583.8Z"/>
<path class="c111" d="M522.0 557.1L535.5 591.9L532.4 583.8L518.9 550.0Z"/>
<path class="c105" d="M508.4 543.5L522.0 557.1L518.9 550.0L505.4 537.1Z"/>
<path class="c262" d="M494.8 530.8L508.4 543.5L505.4 537.1L491.8 524.7Z"/>
<path class="c318" d="M483.0 558.9L494.8 530.8L491.8 524.7L480.1 552.9Z"/>
<path class="c54" d="M474.6 588.0L483.0 558.9L480.1 552.9L471.7 582.2Z"/>
<path class="c200" d="M466.3 619.3L474.6 588.0L471.7 582.2L463.4 613.5Z"/>
<path class="c434" d="M452.8 630.1L466.3 619.3L463.4 613.5L450.0 624.6Z"/>
<path class="c440" d="M439.2 628.6L452.8 630.1L450.0 624.6L436.4 623.5Z"/>
<path class="c439" d="M423.8 625.2L439.2 628.6L436.4 623.5L421.1 620.2Z"/>
<path class="c426" d="M408.4 621.4L423.8 625.2L421.1 620.2L405.7 616.3Z"/>
<path class="c425" d="M394.7 619.0L408.4 621.4L405.7 616.3L392.0 613.8Z"/>
<path class="c418" d="M379.2 618.3L394.7 619.0L392.0 613.8L376.6 612.7Z"/>
<path class="c418" d="M362.0 621.5L379.2 618.3L376.6 612.7L359.5 615.7Z"/>
<path class="c425" d="M346.6 627.4L362.0 621.5L359.5 615.7L344.1 621.6Z"/>
<path class="c450" d="M327.8 642.1L346.6 627.4L344.1 621.6L325.4 636.5Z"/>
<path class="c451" d="M319.2 646.3L327.8 642.1L325.4 636.5L316.9 641.0Z"/>
<path class="c452" d="M308.7 637.1L319.2 646.3L316.9 641.0L306.4 631.6Z"/>
<path class="c440" d="M298.4 645.6L308.7 637.1L306.4 631.6L296.1 639.9Z"/>
<path class="c392" d="M282.2 611.9L298.4 645.6L296.1 639.9L279.9 606.2Z"/>
<path class="c196" d="M265.7 573.6L282.2 611.9L279.9 606.2L263.5 567.8Z"/>
<path class="c160" d="M253.9 598.0L265.7 573.6L263.5 567.8L251.8 592.3Z"/>
<path class="c164" d="M242.9 659.0L253.9 598.0L251.8 592.3L240.8 653.9Z"/>
<path class="c445" d="M226.5 630.3L242.9 659.0L240.8 653.9L224.5 625.1Z"/>
<path class="c425" d="M216.1 634.5L226.5 630.3L224.5 625.1L214.1 629.3Z"/>
<path class="c450" d="M200.7 654.2L216.1 634.5L214.1 629.3L198.8 648.9Z"/>
<path class="c453" d="M186.2 639.3L200.7 654.2L198.8 648.9L184.3 634.2Z"/>
<path class="c454" d="M825.2 553.0L836.4 482.7L832.3 476.3L821.1 547.1Z"/>
<path class="c56" d="M816.8 569.2L825.2 553.0L821.1 547.1L812.7 563.5Z"/>
<path class="c260" d="M807.1 563.8L816.8 569.2L812.7 563.5L803.1 557.5Z"/>
<path class="c196" d="M799.3 550.3L807.1 563.8L803.1 557.5L795.3 543.0Z"/>
<path class="c417" d="M791.4 537.0L799.3 550.3L795.3 543.0L787.5 528.6Z"/>
<path class="c318" d="M783.5 521.2L791.4 537.0L787.5 528.6L779.6 511.6Z"/>
<path class="c380" d="M774.8 552.0L783.5 521.2L779.6 511.6L770.9 541.8Z"/>
<path class="c196" d="M769.5 574.4L774.8 552.0L770.9 541.8L765.7 563.7Z"/>
<path class="c62" d="M764.6 575.5L769.5 574.4L765.7 563.7L760.8 564.6Z"/>
<path class="c117" d="M759.6 576.5L764.6 575.5L760.8 564.6L755.9 565.6Z"/>
<path class="c108" d="M754.7 577.6L759.6 576.5L755.9 565.6L751.0 566.6Z"/>
<path class="c49" d="M748.1 581.0L754.7 577.6L751.0 566.6L744.4 569.8Z"/>
<path class="c112" d="M743.2 585.0L748.1 581.0L744.4 569.8L739.5 573.7Z"/>
<path class="c228" d="M738.2 587.5L743.2 585.0L739.5 573.7L734.5 576.4Z"/>
<path class="c119" d="M731.6 589.1L738.2 587.5L734.5 576.4L728.0 578.2Z"/>
<path class="c108" d="M722.0 574.7L731.6 589.1L728.0 578.2L718.3 564.8Z"/>
<path class="c345" d="M715.3 581.1L722.0 574.7L718.3 564.8L711.7 571.8Z"/>
<path class="c455" d="M708.7 583.8L715.3 581.1L711.7 571.8L705.1 574.9Z"/>
<path class="c50" d="M700.5 583.6L708.7 583.8L705.1 574.9L696.8 575.1Z"/>
<path class="c53" d="M694.2 554.7L700.5 583.6L696.8 575.1L690.6 545.9Z"/>
<path class="c401" d="M687.9 524.2L694.2 554.7L690.6 545.9L684.3 515.1Z"/>
<path class="c321" d="M681.8 476.9L687.9 524.2L684.3 515.1L678.2 467.1Z"/>
<path class="c456" d="M675.6 429.3L681.8 476.9L678.2 467.1L672.0 419.0Z"/>
<path class="c284" d="M669.0 409.5L675.6 429.3L672.0 419.0L665.5 399.0Z"/>
<path class="c326" d="M662.5 393.4L669.0 409.5L665.5 399.0L658.9 383.2Z"/>
<path class="c457" d="M656.0 364.7L662.5 393.4L658.9 383.2L652.5 354.4Z"/>
<path class="c79" d="M649.4 341.2L656.0 364.7L652.5 354.4L645.9 330.9Z"/>
<path class="c170" d="M644.4 333.6L649.4 341.2L645.9 330.9L640.9 323.3Z"/>
<path class="c91" d="M641.9 440.7L644.4 333.6L640.9 323.3L638.5 430.9Z"/>
<path class="c331" d="M639.5 546.2L641.9 440.7L638.5 430.9L636.0 536.9Z"/>
<path class="c158" d="M637.0 650.1L639.5 546.2L636.0 536.9L633.6 641.3Z"/>
<path class="c439" d="M629.0 607.1L637.0 650.1L633.6 641.3L625.6 599.2Z"/>
<path class="c319" d="M619.1 595.0L629.0 607.1L625.6 599.2L615.7 586.9Z"/>
<path class="c50" d="M607.5 587.4L619.1 595.0L615.7 586.9L604.1 579.1Z"/>
<path class="c159" d="M595.8 588.9L607.5 587.4L604.1 579.1L592.5 580.0Z"/>
<path class="c49" d="M585.7 587.7L595.8 588.9L592.5 580.0L582.4 578.1Z"/>
<path class="c108" d="M577.3 587.8L585.7 587.7L582.4 578.1L574.1 577.6Z"/>
<path class="c51" d="M567.2 588.4L577.3 587.8L574.1 577.6L564.0 578.0Z"/>
<path class="c292" d="M558.8 584.8L567.2 588.4L564.0 578.0L555.6 574.5Z"/>
<path class="c229" d="M552.1 583.8L558.8 584.8L555.6 574.5L548.9 573.6Z"/>
<path class="c229" d="M550.4 585.4L552.1 583.8L548.9 573.6L547.2 575.5Z"/>
<path class="c292" d="M548.7 587.1L550.4 585.4L547.2 575.5L545.6 577.3Z"/>
<path class="c62" d="M547.0 591.4L548.7 587.1L545.6 577.3L543.9 582.1Z"/>
<path class="c159" d="M545.3 595.7L547.0 591.4L543.9 582.1L542.2 586.9Z"/>
<path class="c118" d="M543.6 595.4L545.3 595.7L542.2 586.9L540.5 586.9Z"/>
<path class="c199" d="M542.0 595.9L543.6 595.4L540.5 586.9L538.8 587.7Z"/>
<path class="c228" d="M540.3 597.2L542.0 595.9L538.8 587.7L537.2 589.4Z"/>
<path class="c64" d="M538.6 599.3L540.3 597.2L537.2 589.4L535.5 591.9Z"/>
<path class="c110" d="M525.0 564.0L538.6 599.3L535.5 591.9L522.0 557.1Z"/>
<path class="c406" d="M511.4 549.8L525.0 564.0L522.0 557.1L508.4 543.5Z"/>
<path class="c293" d="M497.8 537.0L511.4 549.8L508.4 543.5L494.8 530.8Z"/>
<path class="c380" d="M485.9 565.0L497.8 537.0L494.8 530.8L483.0 558.9Z"/>
<path class="c196" d="M477.5 593.7L485.9 565.0L483.0 558.9L474.6 588.0Z"/>
<path class="c164" d="M469.2 624.9L477.5 593.7L474.6 588.0L466.3 619.3Z"/>
<path class="c439" d="M455.6 635.2L469.2 624.9L466.3 619.3L452.8 630.1Z"/>
<path class="c452" d="M441.9 633.5L455.6 635.2L452.8 630.1L439.2 628.6Z"/>
<path class="c453" d="M426.5 629.9L441.9 633.5L439.2 628.6L423.8 625.2Z"/>
<path class="c449" d="M411.1 626.2L426.5 629.9L423.8 625.2L408.4 621.4Z"/>
<path class="c427" d="M397.3 623.9L411.1 626.2L408.4 621.4L394.7 619.0Z"/>
<path class="c415" d="M381.8 623.4L397.3 623.9L394.7 619.0L379.2 618.3Z"/>
<path class="c415" d="M364.6 626.8L381.8 623.4L379.2 618.3L362.0 621.5Z"/>
<path class="c446" d="M349.1 632.7L364.6 626.8L362.0 621.5L346.6 627.4Z"/>
<path class="c453" d="M330.2 647.2L349.1 632.7L346.6 627.4L327.8 642.1Z"/>
<path class="c458" d="M321.6 651.2L330.2 647.2L327.8 642.1L319.2 646.3Z"/>
<path class="c459" d="M311.0 642.2L321.6 651.2L319.2 646.3L308.7 637.1Z"/>
<path class="c459" d="M300.7 650.8L311.0 642.2L308.7 637.1L298.4 645.6Z"/>
<path class="c413" d="M284.4 617.4L300.7 650.8L298.4 645.6L282.2 611.9Z"/>
<path class="c48" d="M267.9 579.3L284.4 617.4L282.2 611.9L265.7 573.6Z"/>
<path class="c111" d="M256.1 603.4L267.9 579.3L265.7 573.6L253.9 598.0Z"/>
<path class="c232" d="M245.0 663.8L256.1 603.4L253.9 598.0L242.9 659.0Z"/>
<path class="c439" d="M228.6 635.3L245.0 663.8L242.9 659.0L226.5 630.3Z"/>
<path class="c427" d="M218.1 639.5L228.6 635.3L226.5 630.3L216.1 634.5Z"/>
<path class="c439" d="M202.6 659.2L218.1 639.5L216.1 634.5L200.7 654.2Z"/>
<path class="c444" d="M188.1 644.2L202.6 659.2L200.7 654.2L186.2 639.3Z"/>
<path class="c402" d="M829.3 558.6L840.5 489.2L836.4 482.7L825.2 553.0Z"/>
<path class="c227" d="M820.8 574.7L829.3 558.6L825.2 553.0L816.8 569.2Z"/>
<path class="c345" d="M811.1 569.9L820.8 574.7L816.8 569.2L807.1 563.8Z"/>
<path class="c230" d="M803.2 557.3L811.1 569.9L807.1 563.8L799.3 550.3Z"/>
<path class="c61" d="M795.3 544.9L803.2 557.3L799.3 550.3L791.4 537.0Z"/>
<path class="c377" d="M787.4 530.1L795.3 544.9L791.4 537.0L783.5 521.2Z"/>
<path class="c105" d="M778.6 561.5L787.4 530.1L783.5 521.2L774.8 552.0Z"/>
<path class="c158" d="M773.3 584.4L778.6 561.5L774.8 552.0L769.5 574.4Z"/>
<path class="c63" d="M768.4 585.5L773.3 584.4L769.5 574.4L764.6 575.5Z"/>
<path class="c199" d="M763.4 586.6L768.4 585.5L764.6 575.5L759.6 576.5Z"/>
<path class="c228" d="M758.5 587.8L763.4 586.6L759.6 576.5L754.7 577.6Z"/>
<path class="c64" d="M751.9 591.4L758.5 587.8L754.7 577.6L748.1 581.0Z"/>
<path class="c201" d="M746.9 595.4L751.9 591.4L748.1 581.0L743.2 585.0Z"/>
<path class="c319" d="M741.9 597.8L746.9 595.4L743.2 585.0L738.2 587.5Z"/>
<path class="c362" d="M735.3 599.2L741.9 597.8L738.2 587.5L731.6 589.1Z"/>
<path class="c199" d="M725.7 584.1L735.3 599.2L731.6 589.1L722.0 574.7Z"/>
<path class="c57" d="M719.0 590.0L725.7 584.1L722.0 574.7L715.3 581.1Z"/>
<path class="c64" d="M712.4 592.3L719.0 590.0L715.3 581.1L708.7 583.8Z"/>
<path class="c164" d="M704.1 591.8L712.4 592.3L708.7 583.8L700.5 583.6Z"/>
<path class="c438" d="M697.8 563.2L704.1 591.8L700.5 583.6L694.2 554.7Z"/>
<path class="c47" d="M691.5 533.0L697.8 563.2L694.2 554.7L687.9 524.2Z"/>
<path class="c396" d="M685.3 486.5L691.5 533.0L687.9 524.2L681.8 476.9Z"/>
<path class="c313" d="M679.1 439.6L685.3 486.5L681.8 476.9L675.6 429.3Z"/>
<path class="c41" d="M672.6 419.8L679.1 439.6L675.6 429.3L669.0 409.5Z"/>
<path class="c354" d="M666.0 403.6L672.6 419.8L669.0 409.5L662.5 393.4Z"/>
<path class="c181" d="M659.5 375.1L666.0 403.6L662.5 393.4L656.0 364.7Z"/>
<path class="c185" d="M652.9 351.7L659.5 375.1L656.0 364.7L649.4 341.2Z"/>
<path class="c69" d="M647.9 344.0L652.9 351.7L649.4 341.2L644.4 333.6Z"/>
<path class="c96" d="M645.4 449.8L647.9 344.0L644.4 333.6L641.9 440.7Z"/>
<path class="c460" d="M642.9 554.1L645.4 449.8L641.9 440.7L639.5 546.2Z"/>
<path class="c378" d="M640.5 656.9L642.9 554.1L639.5 546.2L637.0 650.1Z"/>
<path class="c440" d="M632.5 614.7L640.5 656.9L637.0 650.1L629.0 607.1Z"/>
<path class="c407" d="M622.5 602.8L632.5 614.7L629.0 607.1L619.1 595.0Z"/>
<path class="c119" d="M610.8 595.4L622.5 602.8L619.1 595.0L607.5 587.4Z"/>
<path class="c200" d="M599.1 597.4L610.8 595.4L607.5 587.4L595.8 588.9Z"/>
<path class="c228" d="M589.0 596.9L599.1 597.4L595.8 588.9L585.7 587.7Z"/>
<path class="c118" d="M580.6 597.5L589.0 596.9L585.7 587.7L577.3 587.8Z"/>
<path class="c118" d="M570.5 598.1L580.6 597.5L577.3 587.8L567.2 588.4Z"/>
<path class="c159" d="M562.0 594.6L570.5 598.1L567.2 588.4L558.8 584.8Z"/>
<path class="c49" d="M555.3 593.5L562.0 594.6L558.8 584.8L552.1 583.8Z"/>
<path class="c49" d="M553.6 594.9L555.3 593.5L552.1 583.8L550.4 585.4Z"/>
<path class="c155" d="M551.9 596.4L553.6 594.9L550.4 585.4L548.7 587.1Z"/>
<path class="c50" d="M550.2 600.3L551.9 596.4L548.7 587.1L547.0 591.4Z"/>
<path class="c64" d="M548.5 604.2L550.2 600.3L547.0 591.4L545.3 595.7Z"/>
<path class="c201" d="M546.8 603.5L548.5 604.2L545.3 595.7L543.6 595.4Z"/>
<path class="c201" d="M545.1 603.6L546.8 603.5L543.6 595.4L542.0 595.9Z"/>
<path class="c201" d="M543.4 604.5L545.1 603.6L542.0 595.9L540.3 597.2Z"/>
<path class="c232" d="M541.7 606.2L543.4 604.5L540.3 597.2L538.6 599.3Z"/>
<path class="c154" d="M528.1 570.9L541.7 606.2L538.6 599.3L525.0 564.0Z"/>
<path class="c417" d="M514.5 556.2L528.1 570.9L525.0 564.0L511.4 549.8Z"/>
<path class="c346" d="M500.8 543.2L514.5 556.2L511.4 549.8L497.8 537.0Z"/>
<path class="c377" d="M488.9 571.0L500.8 543.2L497.8 537.0L485.9 565.0Z"/>
<path class="c110" d="M480.5 599.3L488.9 571.0L485.9 565.0L477.5 593.7Z"/>
<path class="c232" d="M472.1 630.2L480.5 599.3L477.5 593.7L469.2 624.9Z"/>
<path class="c444" d="M458.4 640.0L472.1 630.2L469.2 624.9L455.6 635.2Z"/>
<path class="c459" d="M444.7 638.1L458.4 640.0L455.6 635.2L441.9 633.5Z"/>
<path class="c444" d="M429.3 634.4L444.7 638.1L441.9 633.5L426.5 629.9Z"/>
<path class="c434" d="M413.8 630.7L429.3 634.4L426.5 629.9L411.1 626.2Z"/>
<path class="c446" d="M399.9 628.6L413.8 630.7L411.1 626.2L397.3 623.9Z"/>
<path class="c425" d="M384.4 628.3L399.9 628.6L397.3 623.9L381.8 623.4Z"/>
<path class="c427" d="M367.1 631.9L384.4 628.3L381.8 623.4L364.6 626.8Z"/>
<path class="c426" d="M351.5 637.8L367.1 631.9L364.6 626.8L349.1 632.7Z"/>
<path class="c444" d="M332.6 652.0L351.5 637.8L349.1 632.7L330.2 647.2Z"/>
<path class="c461" d="M324.0 655.9L332.6 652.0L330.2 647.2L321.6 651.2Z"/>
<path class="c447" d="M313.4 647.1L324.0 655.9L321.6 651.2L311.0 642.2Z"/>
<path class="c447" d="M303.0 655.7L313.4 647.1L311.0 642.2L300.7 650.8Z"/>
<path class="c443" d="M286.7 622.7L303.0 655.7L300.7 650.8L284.4 617.4Z"/>
<path class="c106" d="M270.1 585.0L286.7 622.7L284.4 617.4L267.9 579.3Z"/>
<path class="c53" d="M258.2 608.8L270.1 585.0L267.9 579.3L256.1 603.4Z"/>
<path class="c294" d="M247.1 668.4L258.2 608.8L256.1 603.4L245.0 663.8Z"/>
<path class="c453" d="M230.6 640.3L247.1 668.4L245.0 663.8L228.6 635.3Z"/>
<path class="c446" d="M220.1 644.4L230.6 640.3L228.6 635.3L218.1 639.5Z"/>
<path class="c453" d="M204.6 664.0L220.1 644.4L218.1 639.5L202.6 659.2Z"/>
<path class="c448" d="M190.0 649.1L204.6 664.0L202.6 659.2L188.1 644.2Z"/>
<path class="c60" d="M833.4 564.1L844.7 495.8L840.5 489.2L829.3 558.6Z"/>
<path class="c109" d="M824.9 580.1L833.4 564.1L829.3 558.6L820.8 574.7Z"/>
<path class="c156" d="M815.2 575.7L824.9 580.1L820.8 574.7L811.1 569.9Z"/>
<path class="c158" d="M807.2 563.9L815.2 575.7L811.1 569.9L803.2 557.3Z"/>
<path class="c113" d="M799.3 552.4L807.2 563.9L803.2 557.3L795.3 544.9Z"/>
<path class="c403" d="M791.3 538.5L799.3 552.4L795.3 544.9L787.4 530.1Z"/>
<path class="c194" d="M782.5 570.3L791.3 538.5L787.4 530.1L778.6 561.5Z"/>
<path class="c260" d="M777.2 593.6L782.5 570.3L778.6 561.5L773.3 584.4Z"/>
<path class="c232" d="M772.2 594.8L777.2 593.6L773.3 584.4L768.4 585.5Z"/>
<path class="c232" d="M767.3 596.0L772.2 594.8L768.4 585.5L763.4 586.6Z"/>
<path class="c294" d="M762.3 597.3L767.3 596.0L763.4 586.6L758.5 587.8Z"/>
<path class="c432" d="M755.7 601.0L762.3 597.3L758.5 587.8L751.9 591.4Z"/>
<path class="c381" d="M750.7 605.0L755.7 601.0L751.9 591.4L746.9 595.4Z"/>
<path class="c413" d="M745.7 607.3L750.7 605.0L746.9 595.4L741.9 597.8Z"/>
<path class="c416" d="M739.1 608.5L745.7 607.3L741.9 597.8L735.3 599.2Z"/>
<path class="c232" d="M729.4 593.1L739.1 608.5L735.3 599.2L725.7 584.1Z"/>
<path class="c164" d="M722.7 598.6L729.4 593.1L725.7 584.1L719.0 590.0Z"/>
<path class="c294" d="M716.1 600.4L722.7 598.6L719.0 590.0L712.4 592.3Z"/>
<path class="c319" d="M707.8 599.6L716.1 600.4L712.4 592.3L704.1 591.8Z"/>
<path class="c109" d="M701.5 571.4L707.8 599.6L704.1 591.8L697.8 563.2Z"/>
<path class="c153" d="M695.2 541.6L701.5 571.4L697.8 563.2L691.5 533.0Z"/>
<path class="c341" d="M689.0 495.9L695.2 541.6L691.5 533.0L685.3 486.5Z"/>
<path class="c189" d="M682.7 449.8L689.0 495.9L685.3 486.5L679.1 439.6Z"/>
<path class="c366" d="M676.2 430.2L682.7 449.8L679.1 439.6L672.6 419.8Z"/>
<path class="c462" d="M669.6 413.8L676.2 430.2L672.6 419.8L666.0 403.6Z"/>
<path class="c270" d="M663.1 385.6L669.6 413.8L666.0 403.6L659.5 375.1Z"/>
<path class="c463" d="M656.5 362.2L663.1 385.6L659.5 375.1L652.9 351.7Z"/>
<path class="c211" d="M651.5 354.4L656.5 362.2L652.9 351.7L647.9 344.0Z"/>
<path class="c87" d="M648.9 458.6L651.5 354.4L647.9 344.0L645.4 449.8Z"/>
<path class="c464" d="M646.4 561.3L648.9 458.6L645.4 449.8L642.9 554.1Z"/>
<path class="c62" d="M644.0 662.6L646.4 561.3L642.9 554.1L640.5 656.9Z"/>
<path class="c447" d="M635.9 622.0L644.0 662.6L640.5 656.9L632.5 614.7Z"/>
<path class="c408" d="M625.9 610.3L635.9 622.0L632.5 614.7L622.5 602.8Z"/>
<path class="c294" d="M614.2 603.0L625.9 610.3L622.5 602.8L610.8 595.4Z"/>
<path class="c232" d="M602.4 605.5L614.2 603.0L610.8 595.4L599.1 597.4Z"/>
<path class="c232" d="M592.3 605.6L602.4 605.5L599.1 597.4L589.0 596.9Z"/>
<path class="c232" d="M583.9 606.7L592.3 605.6L589.0 596.9L580.6 597.5Z"/>
<path class="c232" d="M573.7 607.4L583.9 606.7L580.6 597.5L570.5 598.1Z"/>
<path class="c119" d="M565.3 603.9L573.7 607.4L570.5 598.1L562.0 594.6Z"/>
<path class="c228" d="M558.5 602.6L565.3 603.9L562.0 594.6L555.3 593.5Z"/>
<path class="c228" d="M556.8 603.9L558.5 602.6L555.3 593.5L553.6 594.9Z"/>
<path class="c200" d="M555.1 605.2L556.8 603.9L553.6 594.9L551.9 596.4Z"/>
<path class="c164" d="M553.4 608.7L555.1 605.2L551.9 596.4L550.2 600.3Z"/>
<path class="c294" d="M551.7 612.3L553.4 608.7L550.2 600.3L548.5 604.2Z"/>
<path class="c347" d="M550.0 611.2L551.7 612.3L548.5 604.2L546.8 603.5Z"/>
<path class="c347" d="M548.3 610.9L550.0 611.2L546.8 603.5L545.1 603.6Z"/>
<path class="c347" d="M546.6 611.4L548.3 610.9L545.1 603.6L543.4 604.5Z"/>
<path class="c347" d="M544.9 612.8L546.6 611.4L543.4 604.5L541.7 606.2Z"/>
<path class="c227" d="M531.3 577.7L544.9 612.8L541.7 606.2L528.1 570.9Z"/>
<path class="c259" d="M517.6 562.5L531.3 577.7L528.1 570.9L514.5 556.2Z"/>
<path class="c377" d="M503.8 549.4L517.6 562.5L514.5 556.2L500.8 543.2Z"/>
<path class="c390" d="M491.9 577.1L503.8 549.4L500.8 543.2L488.9 571.0Z"/>
<path class="c230" d="M483.4 605.0L491.9 577.1L488.9 571.0L480.5 599.3Z"/>
<path class="c294" d="M475.0 635.4L483.4 605.0L480.5 599.3L472.1 630.2Z"/>
<path class="c448" d="M461.3 644.7L475.0 635.4L472.1 630.2L458.4 640.0Z"/>
<path class="c447" d="M447.6 642.6L461.3 644.7L458.4 640.0L444.7 638.1Z"/>
<path class="c448" d="M432.0 638.9L447.6 642.6L444.7 638.1L429.3 634.4Z"/>
<path class="c445" d="M416.5 635.2L432.0 638.9L429.3 634.4L413.8 630.7Z"/>
<path class="c426" d="M402.6 633.2L416.5 635.2L413.8 630.7L399.9 628.6Z"/>
<path class="c427" d="M387.0 633.0L402.6 633.2L399.9 628.6L384.4 628.3Z"/>
<path class="c446" d="M369.7 636.7L387.0 633.0L384.4 628.3L367.1 631.9Z"/>
<path class="c449" d="M354.0 642.6L369.7 636.7L367.1 631.9L351.5 637.8Z"/>
<path class="c448" d="M335.0 656.7L354.0 642.6L351.5 637.8L332.6 652.0Z"/>
<path class="c465" d="M326.4 660.5L335.0 656.7L332.6 652.0L324.0 655.9Z"/>
<path class="c466" d="M315.7 652.0L326.4 660.5L324.0 655.9L313.4 647.1Z"/>
<path class="c467" d="M305.3 660.4L315.7 652.0L313.4 647.1L303.0 655.7Z"/>
<path class="c418" d="M288.9 627.9L305.3 660.4L303.0 655.7L286.7 622.7Z"/>
<path class="c56" d="M272.3 590.6L288.9 627.9L286.7 622.7L270.1 585.0Z"/>
<path class="c48" d="M260.4 614.1L272.3 590.6L270.1 585.0L258.2 608.8Z"/>
<path class="c347" d="M249.2 672.9L260.4 614.1L258.2 608.8L247.1 668.4Z"/>
<path class="c444" d="M232.7 645.3L249.2 672.9L247.1 668.4L230.6 640.3Z"/>
<path class="c426" d="M222.1 649.4L232.7 645.3L230.6 640.3L220.1 644.4Z"/>
<path class="c444" d="M206.6 668.7L222.1 649.4L220.1 644.4L204.6 664.0Z"/>
<path class="c440" d="M191.9 653.9L206.6 668.7L204.6 664.0L190.0 649.1Z"/>
<path class="c355" d="M837.5 569.6L848.8 502.3L844.7 495.8L833.4 564.1Z"/>
<path class="c260" d="M829.0 585.4L837.5 569.6L833.4 564.1L824.9 580.1Z"/>
<path class="c159" d="M819.3 581.5L829.0 585.4L824.9 580.1L815.2 575.7Z"/>
<path class="c109" d="M811.3 570.4L819.3 581.5L815.2 575.7L807.2 563.9Z"/>
<path class="c111" d="M803.3 559.6L811.3 570.4L807.2 563.9L799.3 552.4Z"/>
<path class="c417" d="M795.3 546.6L803.3 559.6L799.3 552.4L791.3 538.5Z"/>
<path class="c421" d="M786.4 578.8L795.3 546.6L791.3 538.5L782.5 570.3Z"/>
<path class="c156" d="M781.1 602.3L786.4 578.8L782.5 570.3L777.2 593.6Z"/>
<path class="c381" d="M776.1 603.6L781.1 602.3L777.2 593.6L772.2 594.8Z"/>
<path class="c381" d="M771.1 604.9L776.1 603.6L772.2 594.8L767.3 596.0Z"/>
<path class="c468" d="M766.2 606.2L771.1 604.9L767.3 596.0L762.3 597.3Z"/>
<path class="c404" d="M759.5 610.0L766.2 606.2L762.3 597.3L755.7 601.0Z"/>
<path class="c418" d="M754.5 614.0L759.5 610.0L755.7 601.0L750.7 605.0Z"/>
<path class="c469" d="M749.5 616.2L754.5 614.0L750.7 605.0L745.7 607.3Z"/>
<path class="c446" d="M742.9 617.2L749.5 616.2L745.7 607.3L739.1 608.5Z"/>
<path class="c381" d="M733.1 601.7L742.9 617.2L739.1 608.5L729.4 593.1Z"/>
<path class="c319" d="M726.4 606.7L733.1 601.7L729.4 593.1L722.7 598.6Z"/>
<path class="c407" d="M719.8 608.2L726.4 606.7L722.7 598.6L716.1 600.4Z"/>
<path class="c407" d="M711.5 607.1L719.8 608.2L716.1 600.4L707.8 599.6Z"/>
<path class="c344" d="M705.2 579.3L711.5 607.1L707.8 599.6L701.5 571.4Z"/>
<path class="c226" d="M698.8 550.0L705.2 579.3L701.5 571.4L695.2 541.6Z"/>
<path class="c356" d="M692.6 505.3L698.8 550.0L695.2 541.6L689.0 495.9Z"/>
<path class="c167" d="M686.4 459.9L692.6 505.3L689.0 495.9L682.7 449.8Z"/>
<path class="c137" d="M679.8 440.5L686.4 459.9L682.7 449.8L676.2 430.2Z"/>
<path class="c250" d="M673.2 424.0L679.8 440.5L676.2 430.2L669.6 413.8Z"/>
<path class="c252" d="M666.7 396.0L673.2 424.0L669.6 413.8L663.1 385.6Z"/>
<path class="c128" d="M660.1 372.7L666.7 396.0L663.1 385.6L656.5 362.2Z"/>
<path class="c470" d="M655.0 364.9L660.1 372.7L656.5 362.2L651.5 354.4Z"/>
<path class="c28" d="M652.5 467.2L655.0 364.9L651.5 354.4L648.9 458.6Z"/>
<path class="c224" d="M649.9 568.0L652.5 467.2L648.9 458.6L646.4 561.3Z"/>
<path class="c49" d="M647.5 667.5L649.9 568.0L646.4 561.3L644.0 662.6Z"/>
<path class="c451" d="M639.4 628.9L647.5 667.5L644.0 662.6L635.9 622.0Z"/>
<path class="c415" d="M629.4 617.5L639.4 628.9L635.9 622.0L625.9 610.3Z"/>
<path class="c391" d="M617.6 610.3L629.4 617.5L625.9 610.3L614.2 603.0Z"/>
<path class="c347" d="M605.8 613.3L617.6 610.3L614.2 603.0L602.4 605.5Z"/>
<path class="c362" d="M595.6 613.9L605.8 613.3L602.4 605.5L592.3 605.6Z"/>
<path class="c362" d="M587.2 615.4L595.6 613.9L592.3 605.6L583.9 606.7Z"/>
<path class="c391" d="M577.0 616.3L587.2 615.4L583.9 606.7L573.7 607.4Z"/>
<path class="c319" d="M568.5 612.7L577.0 616.3L573.7 607.4L565.3 603.9Z"/>
<path class="c232" d="M561.7 611.4L568.5 612.7L565.3 603.9L558.5 602.6Z"/>
<path class="c232" d="M560.0 612.5L561.7 611.4L558.5 602.6L556.8 603.9Z"/>
<path class="c294" d="M558.3 613.6L560.0 612.5L556.8 603.9L555.1 605.2Z"/>
<path class="c319" d="M556.6 616.8L558.3 613.6L555.1 605.2L553.4 608.7Z"/>
<path class="c381" d="M554.9 620.0L556.6 616.8L553.4 608.7L551.7 612.3Z"/>
<path class="c468" d="M553.2 618.6L554.9 620.0L551.7 612.3L550.0 611.2Z"/>
<path class="c407" d="M551.5 617.9L553.2 618.6L550.0 611.2L548.3 610.9Z"/>
<path class="c407" d="M549.8 618.1L551.5 617.9L548.3 610.9L546.6 611.4Z"/>
<path class="c468" d="M548.1 619.1L549.8 618.1L546.6 611.4L544.9 612.8Z"/>
<path class="c471" d="M534.4 584.4L548.1 619.1L544.9 612.8L531.3 577.7Z"/>
<path class="c116" d="M520.7 568.8L534.4 584.4L531.3 577.7L517.6 562.5Z"/>
<path class="c390" d="M506.9 555.6L520.7 568.8L517.6 562.5L503.8 549.4Z"/>
<path class="c403" d="M494.9 583.1L506.9 555.6L503.8 549.4L491.9 577.1Z"/>
<path class="c56" d="M486.4 610.6L494.9 583.1L491.9 577.1L483.4 605.0Z"/>
<path class="c347" d="M477.9 640.6L486.4 610.6L483.4 605.0L475.0 635.4Z"/>
<path class="c440" d="M464.2 649.3L477.9 640.6L475.0 635.4L461.3 644.7Z"/>
<path class="c447" d="M450.4 647.0L464.2 649.3L461.3 644.7L447.6 642.6Z"/>
<path class="c440" d="M434.8 643.2L450.4 647.0L447.6 642.6L432.0 638.9Z"/>
<path class="c450" d="M419.2 639.6L434.8 643.2L432.0 638.9L416.5 635.2Z"/>
<path class="c431" d="M405.3 637.7L419.2 639.6L416.5 635.2L402.6 633.2Z"/>
<path class="c446" d="M389.6 637.6L405.3 637.7L402.6 633.2L387.0 633.0Z"/>
<path class="c441" d="M372.2 641.4L389.6 637.6L387.0 633.0L369.7 636.7Z"/>
<path class="c434" d="M356.6 647.4L372.2 641.4L369.7 636.7L354.0 642.6Z"/>
<path class="c440" d="M337.5 661.2L356.6 647.4L354.0 642.6L335.0 656.7Z"/>
<path class="c472" d="M328.8 665.0L337.5 661.2L335.0 656.7L326.4 660.5Z"/>
<path class="c451" d="M318.1 656.8L328.8 665.0L326.4 660.5L315.7 652.0Z"/>
<path class="c451" d="M307.7 665.0L318.1 656.8L315.7 652.0L305.3 660.4Z"/>
<path class="c415" d="M291.2 633.0L307.7 665.0L305.3 660.4L288.9 627.9Z"/>
<path class="c197" d="M274.6 596.2L291.2 633.0L288.9 627.9L272.3 590.6Z"/>
<path class="c106" d="M262.6 619.4L274.6 596.2L272.3 590.6L260.4 614.1Z"/>
<path class="c362" d="M251.4 677.4L262.6 619.4L260.4 614.1L249.2 672.9Z"/>
<path class="c444" d="M234.8 650.2L251.4 677.4L249.2 672.9L232.7 645.3Z"/>
<path class="c449" d="M224.2 654.3L234.8 650.2L232.7 645.3L222.1 649.4Z"/>
<path class="c448" d="M208.5 673.3L224.2 654.3L222.1 649.4L206.6 668.7Z"/>
<path class="c452" d="M193.9 658.8L208.5 673.3L206.6 668.7L191.9 653.9Z"/>
<path class="c161" d="M841.7 575.0L853.0 509.0L848.8 502.3L837.5 569.6Z"/>
<path class="c317" d="M833.2 590.6L841.7 575.0L837.5 569.6L829.0 585.4Z"/>
<path class="c50" d="M823.4 587.2L833.2 590.6L829.0 585.4L819.3 581.5Z"/>
<path class="c260" d="M815.3 576.8L823.4 587.2L819.3 581.5L811.3 570.4Z"/>
<path class="c110" d="M807.3 566.7L815.3 576.8L811.3 570.4L803.3 559.6Z"/>
<path class="c421" d="M799.3 554.5L807.3 566.7L803.3 559.6L795.3 546.6Z"/>
<path class="c58" d="M790.4 586.8L799.3 554.5L795.3 546.6L786.4 578.8Z"/>
<path class="c63" d="M785.0 610.5L790.4 586.8L786.4 578.8L781.1 602.3Z"/>
<path class="c408" d="M780.0 611.9L785.0 610.5L781.1 602.3L776.1 603.6Z"/>
<path class="c416" d="M775.0 613.2L780.0 611.9L776.1 603.6L771.1 604.9Z"/>
<path class="c418" d="M770.0 614.6L775.0 613.2L771.1 604.9L766.2 606.2Z"/>
<path class="c415" d="M763.4 618.5L770.0 614.6L766.2 606.2L759.5 610.0Z"/>
<path class="c441" d="M758.3 622.5L763.4 618.5L759.5 610.0L754.5 614.0Z"/>
<path class="c434" d="M753.3 624.6L758.3 622.5L754.5 614.0L749.5 616.2Z"/>
<path class="c450" d="M746.7 625.4L753.3 624.6L749.5 616.2L742.9 617.2Z"/>
<path class="c408" d="M736.9 609.9L746.7 625.4L742.9 617.2L733.1 601.7Z"/>
<path class="c468" d="M730.2 614.5L736.9 609.9L733.1 601.7L726.4 606.7Z"/>
<path class="c443" d="M723.5 615.7L730.2 614.5L726.4 606.7L719.8 608.2Z"/>
<path class="c408" d="M715.2 614.4L723.5 615.7L719.8 608.2L711.5 607.1Z"/>
<path class="c49" d="M708.9 587.1L715.2 614.4L711.5 607.1L705.2 579.3Z"/>
<path class="c61" d="M702.5 558.2L708.9 587.1L705.2 579.3L698.8 550.0Z"/>
<path class="c264" d="M696.3 514.5L702.5 558.2L698.8 550.0L692.6 505.3Z"/>
<path class="c280" d="M690.0 470.0L696.3 514.5L692.6 505.3L686.4 459.9Z"/>
<path class="c242" d="M683.5 450.9L690.0 470.0L686.4 459.9L679.8 440.5Z"/>
<path class="c208" d="M676.8 434.2L683.5 450.9L679.8 440.5L673.2 424.0Z"/>
<path class="c89" d="M670.3 406.5L676.8 434.2L673.2 424.0L666.7 396.0Z"/>
<path class="c184" d="M663.7 383.4L670.3 406.5L666.7 396.0L660.1 372.7Z"/>
<path class="c473" d="M658.6 375.4L663.7 383.4L660.1 372.7L655.0 364.9Z"/>
<path class="c474" d="M656.0 475.7L658.6 375.4L655.0 364.9L652.5 467.2Z"/>
<path class="c475" d="M653.5 574.5L656.0 475.7L652.5 467.2L649.9 568.0Z"/>
<path class="c57" d="M651.0 671.9L653.5 574.5L649.9 568.0L647.5 667.5Z"/>
<path class="c465" d="M642.9 635.6L651.0 671.9L647.5 667.5L639.4 628.9Z"/>
<path class="c441" d="M632.8 624.3L642.9 635.6L639.4 628.9L629.4 617.5Z"/>
<path class="c404" d="M621.1 617.3L632.8 624.3L629.4 617.5L617.6 610.3Z"/>
<path class="c468" d="M609.2 620.7L621.1 617.3L617.6 610.3L605.8 613.3Z"/>
<path class="c404" d="M599.0 621.8L609.2 620.7L605.8 613.3L595.6 613.9Z"/>
<path class="c413" d="M590.5 623.7L599.0 621.8L595.6 613.9L587.2 615.4Z"/>
<path class="c408" d="M580.3 624.6L590.5 623.7L587.2 615.4L577.0 616.3Z"/>
<path class="c468" d="M571.8 621.1L580.3 624.6L577.0 616.3L568.5 612.7Z"/>
<path class="c362" d="M565.0 619.6L571.8 621.1L568.5 612.7L561.7 611.4Z"/>
<path class="c362" d="M563.2 620.6L565.0 619.6L561.7 611.4L560.0 612.5Z"/>
<path class="c381" d="M561.5 621.6L563.2 620.6L560.0 612.5L558.3 613.6Z"/>
<path class="c407" d="M559.8 624.5L561.5 621.6L558.3 613.6L556.6 616.8Z"/>
<path class="c408" d="M558.1 627.4L559.8 624.5L556.6 616.8L554.9 620.0Z"/>
<path class="c443" d="M556.4 625.6L558.1 627.4L554.9 620.0L553.2 618.6Z"/>
<path class="c408" d="M554.7 624.6L556.4 625.6L553.2 618.6L551.5 617.9Z"/>
<path class="c408" d="M553.0 624.5L554.7 624.6L551.5 617.9L549.8 618.1Z"/>
<path class="c408" d="M551.3 625.2L553.0 624.5L549.8 618.1L548.1 619.1Z"/>
<path class="c405" d="M537.6 591.1L551.3 625.2L548.1 619.1L534.4 584.4Z"/>
<path class="c58" d="M523.8 575.1L537.6 591.1L534.4 584.4L520.7 568.8Z"/>
<path class="c403" d="M510.0 561.8L523.8 575.1L520.7 568.8L506.9 555.6Z"/>
<path class="c406" d="M498.0 589.2L510.0 561.8L506.9 555.6L494.9 583.1Z"/>
<path class="c227" d="M489.4 616.2L498.0 589.2L494.9 583.1L486.4 610.6Z"/>
<path class="c391" d="M480.9 645.7L489.4 616.2L486.4 610.6L477.9 640.6Z"/>
<path class="c452" d="M467.1 653.9L480.9 645.7L477.9 640.6L464.2 649.3Z"/>
<path class="c467" d="M453.3 651.5L467.1 653.9L464.2 649.3L450.4 647.0Z"/>
<path class="c440" d="M437.6 647.6L453.3 651.5L450.4 647.0L434.8 643.2Z"/>
<path class="c439" d="M422.0 644.0L437.6 647.6L434.8 643.2L419.2 639.6Z"/>
<path class="c449" d="M408.0 642.1L422.0 644.0L419.2 639.6L405.3 637.7Z"/>
<path class="c426" d="M392.3 642.2L408.0 642.1L405.3 637.7L389.6 637.6Z"/>
<path class="c426" d="M374.8 646.1L392.3 642.2L389.6 637.6L372.2 641.4Z"/>
<path class="c445" d="M359.1 652.1L374.8 646.1L372.2 641.4L356.6 647.4Z"/>
<path class="c452" d="M339.9 665.7L359.1 652.1L356.6 647.4L337.5 661.2Z"/>
<path class="c472" d="M331.2 669.4L339.9 665.7L337.5 661.2L328.8 665.0Z"/>
<path class="c458" d="M320.5 661.5L331.2 669.4L328.8 665.0L318.1 656.8Z"/>
<path class="c451" d="M310.0 669.5L320.5 661.5L318.1 656.8L307.7 665.0Z"/>
<path class="c425" d="M293.5 638.1L310.0 669.5L307.7 665.0L291.2 633.0Z"/>
<path class="c52" d="M276.9 601.9L293.5 638.1L291.2 633.0L274.6 596.2Z"/>
<path class="c56" d="M264.8 624.6L276.9 601.9L274.6 596.2L262.6 619.4Z"/>
<path class="c381" d="M253.5 681.8L264.8 624.6L262.6 619.4L251.4 677.4Z"/>
<path class="c448" d="M236.9 655.2L253.5 681.8L251.4 677.4L234.8 650.2Z"/>
<path class="c434" d="M226.2 659.2L236.9 655.2L234.8 650.2L224.2 654.3Z"/>
<path class="c440" d="M210.5 677.9L226.2 659.2L224.2 654.3L208.5 673.3Z"/>
<path class="c452" d="M195.8 663.7L210.5 677.9L208.5 673.3L193.9 658.8Z"/>
<path class="c231" d="M845.9 580.4L857.3 515.6L853.0 509.0L841.7 575.0Z"/>
<path class="c62" d="M837.3 595.8L845.9 580.4L841.7 575.0L833.2 590.6Z"/>
<path class="c228" d="M827.5 592.8L837.3 595.8L833.2 590.6L823.4 587.2Z"/>
<path class="c345" d="M819.4 583.0L827.5 592.8L823.4 587.2L815.3 576.8Z"/>
<path class="c154" d="M811.4 573.6L819.4 583.0L815.3 576.8L807.3 566.7Z"/>
<path class="c58" d="M803.3 562.2L811.4 573.6L807.3 566.7L799.3 554.5Z"/>
<path class="c111" d="M794.4 594.5L803.3 562.2L799.3 554.5L790.4 586.8Z"/>
<path class="c119" d="M789.0 618.2L794.4 594.5L790.4 586.8L785.0 610.5Z"/>
<path class="c425" d="M784.0 619.6L789.0 618.2L785.0 610.5L780.0 611.9Z"/>
<path class="c427" d="M779.0 621.0L784.0 619.6L780.0 611.9L775.0 613.2Z"/>
<path class="c446" d="M774.0 622.4L779.0 621.0L775.0 613.2L770.0 614.6Z"/>
<path class="c426" d="M767.3 626.4L774.0 622.4L770.0 614.6L763.4 618.5Z"/>
<path class="c450" d="M762.2 630.5L767.3 626.4L763.4 618.5L758.3 622.5Z"/>
<path class="c444" d="M757.2 632.4L762.2 630.5L758.3 622.5L753.3 624.6Z"/>
<path class="c448" d="M750.5 633.1L757.2 632.4L753.3 624.6L746.7 625.4Z"/>
<path class="c425" d="M740.8 617.7L750.5 633.1L746.7 625.4L736.9 609.9Z"/>
<path class="c416" d="M734.0 622.0L740.8 617.7L736.9 609.9L730.2 614.5Z"/>
<path class="c425" d="M727.3 622.9L734.0 622.0L730.2 614.5L723.5 615.7Z"/>
<path class="c415" d="M719.0 621.3L727.3 622.9L723.5 615.7L715.2 614.4Z"/>
<path class="c63" d="M712.6 594.5L719.0 621.3L715.2 614.4L708.9 587.1Z"/>
<path class="c113" d="M706.2 566.3L712.6 594.5L708.9 587.1L702.5 558.2Z"/>
<path class="c115" d="M700.0 523.6L706.2 566.3L702.5 558.2L696.3 514.5Z"/>
<path class="c45" d="M693.7 480.0L700.0 523.6L696.3 514.5L690.0 470.0Z"/>
<path class="c65" d="M687.1 461.2L693.7 480.0L690.0 470.0L683.5 450.9Z"/>
<path class="c302" d="M680.5 444.4L687.1 461.2L683.5 450.9L676.8 434.2Z"/>
<path class="c476" d="M673.9 417.1L680.5 444.4L676.8 434.2L670.3 406.5Z"/>
<path class="c268" d="M667.3 394.1L673.9 417.1L670.3 406.5L663.7 383.4Z"/>
<path class="c26" d="M662.2 386.0L667.3 394.1L663.7 383.4L658.6 375.4Z"/>
<path class="c477" d="M659.6 484.1L662.2 386.0L658.6 375.4L656.0 475.7Z"/>
<path class="c289" d="M657.1 580.7L659.6 484.1L656.0 475.7L653.5 574.5Z"/>
<path class="c118" d="M654.6 676.1L657.1 580.7L653.5 574.5L651.0 671.9Z"/>
<path class="c478" d="M646.4 642.1L654.6 676.1L651.0 671.9L642.9 635.6Z"/>
<path class="c434" d="M636.3 630.9L646.4 642.1L642.9 635.6L632.8 624.3Z"/>
<path class="c416" d="M624.5 624.0L636.3 630.9L632.8 624.3L621.1 617.3Z"/>
<path class="c408" d="M612.6 627.7L624.5 624.0L621.1 617.3L609.2 620.7Z"/>
<path class="c418" d="M602.4 629.3L612.6 627.7L609.2 620.7L599.0 621.8Z"/>
<path class="c415" d="M593.8 631.6L602.4 629.3L599.0 621.8L590.5 623.7Z"/>
<path class="c425" d="M583.6 632.6L593.8 631.6L590.5 623.7L580.3 624.6Z"/>
<path class="c416" d="M575.1 629.1L583.6 632.6L580.3 624.6L571.8 621.1Z"/>
<path class="c413" d="M568.2 627.5L575.1 629.1L571.8 621.1L565.0 619.6Z"/>
<path class="c404" d="M566.5 628.3L568.2 627.5L565.0 619.6L563.2 620.6Z"/>
<path class="c408" d="M564.8 629.2L566.5 628.3L563.2 620.6L561.5 621.6Z"/>
<path class="c443" d="M563.1 631.8L564.8 629.2L561.5 621.6L559.8 624.5Z"/>
<path class="c415" d="M561.4 634.4L563.1 631.8L559.8 624.5L558.1 627.4Z"/>
<path class="c425" d="M559.6 632.4L561.4 634.4L558.1 627.4L556.4 625.6Z"/>
<path class="c418" d="M557.9 631.1L559.6 632.4L556.4 625.6L554.7 624.6Z"/>
<path class="c418" d="M556.2 630.7L557.9 631.1L554.7 624.6L553.0 624.5Z"/>
<path class="c418" d="M554.5 631.1L556.2 630.7L553.0 624.5L551.3 625.2Z"/>
<path class="c51" d="M540.8 597.7L554.5 631.1L551.3 625.2L537.6 591.1Z"/>
<path class="c54" d="M527.0 581.5L540.8 597.7L537.6 591.1L523.8 575.1Z"/>
<path class="c406" d="M513.1 568.1L527.0 581.5L523.8 575.1L510.0 561.8Z"/>
<path class="c417" d="M501.0 595.3L513.1 568.1L510.0 561.8L498.0 589.2Z"/>
<path class="c157" d="M492.4 621.8L501.0 595.3L498.0 589.2L489.4 616.2Z"/>
<path class="c407" d="M483.9 650.8L492.4 621.8L489.4 616.2L480.9 645.7Z"/>
<path class="c459" d="M470.0 658.5L483.9 650.8L480.9 645.7L467.1 653.9Z"/>
<path class="c451" d="M456.1 655.9L470.0 658.5L467.1 653.9L453.3 651.5Z"/>
<path class="c452" d="M440.5 651.9L456.1 655.9L453.3 651.5L437.6 647.6Z"/>
<path class="c439" d="M424.7 648.4L440.5 651.9L437.6 647.6L422.0 644.0Z"/>
<path class="c434" d="M410.7 646.6L424.7 648.4L422.0 644.0L408.0 642.1Z"/>
<path class="c426" d="M394.9 646.8L410.7 646.6L408.0 642.1L392.3 642.2Z"/>
<path class="c431" d="M377.4 650.8L394.9 646.8L392.3 642.2L374.8 646.1Z"/>
<path class="c439" d="M361.6 656.8L377.4 650.8L374.8 646.1L359.1 652.1Z"/>
<path class="c452" d="M342.4 670.2L361.6 656.8L359.1 652.1L339.9 665.7Z"/>
<path class="c478" d="M333.6 673.8L342.4 670.2L339.9 665.7L331.2 669.4Z"/>
<path class="c458" d="M322.9 666.3L333.6 673.8L331.2 669.4L320.5 661.5Z"/>
<path class="c458" d="M312.4 674.0L322.9 666.3L320.5 661.5L310.0 669.5Z"/>
<path class="c427" d="M295.9 643.2L312.4 674.0L310.0 669.5L293.5 638.1Z"/>
<path class="c157" d="M279.1 607.6L295.9 643.2L293.5 638.1L276.9 601.9Z"/>
<path class="c197" d="M267.0 629.9L279.1 607.6L276.9 601.9L264.8 624.6Z"/>
<path class="c407" d="M255.6 686.2L267.0 629.9L264.8 624.6L253.5 681.8Z"/>
<path class="c440" d="M239.0 660.2L255.6 686.2L253.5 681.8L236.9 655.2Z"/>
<path class="c445" d="M228.3 664.1L239.0 660.2L236.9 655.2L226.2 659.2Z"/>
<path class="c452" d="M212.5 682.5L228.3 664.1L226.2 659.2L210.5 677.9Z"/>
<path class="c459" d="M197.8 668.6L212.5 682.5L210.5 677.9L195.8 663.7Z"/>
<path class="c364" d="M850.1 585.8L861.5 522.4L857.3 515.6L845.9 580.4Z"/>
<path class="c156" d="M841.5 601.0L850.1 585.8L845.9 580.4L837.3 595.8Z"/>
<path class="c64" d="M831.7 598.3L841.5 601.0L837.3 595.8L827.5 592.8Z"/>
<path class="c156" d="M823.6 589.2L831.7 598.3L827.5 592.8L819.4 583.0Z"/>
<path class="c227" d="M815.5 580.4L823.6 589.2L819.4 583.0L811.4 573.6Z"/>
<path class="c55" d="M807.3 569.7L815.5 580.4L811.4 573.6L803.3 562.2Z"/>
<path class="c110" d="M798.4 601.8L807.3 569.7L803.3 562.2L794.4 594.5Z"/>
<path class="c294" d="M793.0 625.4L798.4 601.8L794.4 594.5L789.0 618.2Z"/>
<path class="c431" d="M788.0 626.8L793.0 625.4L789.0 618.2L784.0 619.6Z"/>
<path class="c449" d="M782.9 628.3L788.0 626.8L784.0 619.6L779.0 621.0Z"/>
<path class="c434" d="M777.9 629.7L782.9 628.3L779.0 621.0L774.0 622.4Z"/>
<path class="c439" d="M771.2 633.8L777.9 629.7L774.0 622.4L767.3 626.4Z"/>
<path class="c448" d="M766.1 637.9L771.2 633.8L767.3 626.4L762.2 630.5Z"/>
<path class="c459" d="M761.1 639.7L766.1 637.9L762.2 630.5L757.2 632.4Z"/>
<path class="c447" d="M754.4 640.3L761.1 639.7L757.2 632.4L750.5 633.1Z"/>
<path class="c431" d="M744.6 625.1L754.4 640.3L750.5 633.1L740.8 617.7Z"/>
<path class="c427" d="M737.8 629.0L744.6 625.1L740.8 617.7L734.0 622.0Z"/>
<path class="c426" d="M731.1 629.7L737.8 629.0L734.0 622.0L727.3 622.9Z"/>
<path class="c446" d="M722.8 627.9L731.1 629.7L727.3 622.9L719.0 621.3Z"/>
<path class="c64" d="M716.4 601.8L722.8 627.9L719.0 621.3L712.6 594.5Z"/>
<path class="c196" d="M710.0 574.1L716.4 601.8L712.6 594.5L706.2 566.3Z"/>
<path class="c161" d="M703.7 532.6L710.0 574.1L706.2 566.3L700.0 523.6Z"/>
<path class="c375" d="M697.4 490.0L703.7 532.6L700.0 523.6L693.7 480.0Z"/>
<path class="c338" d="M690.8 471.4L697.4 490.0L693.7 480.0L687.1 461.2Z"/>
<path class="c312" d="M684.1 454.6L690.8 471.4L687.1 461.2L680.5 444.4Z"/>
<path class="c283" d="M677.6 427.7L684.1 454.6L680.5 444.4L673.9 417.1Z"/>
<path class="c296" d="M670.9 404.9L677.6 427.7L673.9 417.1L667.3 394.1Z"/>
<path class="c28" d="M665.8 396.7L670.9 404.9L667.3 394.1L662.2 386.0Z"/>
<path class="c299" d="M663.2 492.4L665.8 396.7L662.2 386.0L659.6 484.1Z"/>
<path class="c333" d="M660.7 586.9L663.2 492.4L659.6 484.1L657.1 580.7Z"/>
<path class="c200" d="M658.2 680.1L660.7 586.9L657.1 580.7L654.6 676.1Z"/>
<path class="c479" d="M650.0 648.2L658.2 680.1L654.6 676.1L646.4 642.1Z"/>
<path class="c439" d="M639.9 637.1L650.0 648.2L646.4 642.1L636.3 630.9Z"/>
<path class="c425" d="M628.0 630.3L639.9 637.1L636.3 630.9L624.5 624.0Z"/>
<path class="c415" d="M616.0 634.4L628.0 630.3L624.5 624.0L612.6 627.7Z"/>
<path class="c427" d="M605.8 636.4L616.0 634.4L612.6 627.7L602.4 629.3Z"/>
<path class="c446" d="M597.2 639.0L605.8 636.4L602.4 629.3L593.8 631.6Z"/>
<path class="c426" d="M586.9 640.1L597.2 639.0L593.8 631.6L583.6 632.6Z"/>
<path class="c427" d="M578.4 636.6L586.9 640.1L583.6 632.6L575.1 629.1Z"/>
<path class="c415" d="M571.5 634.9L578.4 636.6L575.1 629.1L568.2 627.5Z"/>
<path class="c418" d="M569.8 635.6L571.5 634.9L568.2 627.5L566.5 628.3Z"/>
<path class="c415" d="M568.1 636.3L569.8 635.6L566.5 628.3L564.8 629.2Z"/>
<path class="c425" d="M566.4 638.7L568.1 636.3L564.8 629.2L563.1 631.8Z"/>
<path class="c446" d="M564.6 641.1L566.4 638.7L563.1 631.8L561.4 634.4Z"/>
<path class="c446" d="M562.9 638.8L564.6 641.1L561.4 634.4L559.6 632.4Z"/>
<path class="c427" d="M561.2 637.4L562.9 638.8L559.6 632.4L557.9 631.1Z"/>
<path class="c425" d="M559.5 636.7L561.2 637.4L557.9 631.1L556.2 630.7Z"/>
<path class="c425" d="M557.8 636.9L559.5 636.7L556.2 630.7L554.5 631.1Z"/>
<path class="c155" d="M544.0 604.2L557.8 636.9L554.5 631.1L540.8 597.7Z"/>
<path class="c196" d="M530.1 587.8L544.0 604.2L540.8 597.7L527.0 581.5Z"/>
<path class="c417" d="M516.2 574.4L530.1 587.8L527.0 581.5L513.1 568.1Z"/>
<path class="c399" d="M504.1 601.3L516.2 574.4L513.1 568.1L501.0 595.3Z"/>
<path class="c260" d="M495.5 627.4L504.1 601.3L501.0 595.3L492.4 621.8Z"/>
<path class="c392" d="M486.9 655.9L495.5 627.4L492.4 621.8L483.9 650.8Z"/>
<path class="c447" d="M473.0 663.0L486.9 655.9L483.9 650.8L470.0 658.5Z"/>
<path class="c451" d="M459.0 660.3L473.0 663.0L470.0 658.5L456.1 655.9Z"/>
<path class="c452" d="M443.3 656.3L459.0 660.3L456.1 655.9L440.5 651.9Z"/>
<path class="c453" d="M427.5 652.7L443.3 656.3L440.5 651.9L424.7 648.4Z"/>
<path class="c434" d="M413.5 651.0L427.5 652.7L424.7 648.4L410.7 646.6Z"/>
<path class="c431" d="M397.6 651.4L413.5 651.0L410.7 646.6L394.9 646.8Z"/>
<path class="c449" d="M380.0 655.4L397.6 651.4L394.9 646.8L377.4 650.8Z"/>
<path class="c439" d="M364.2 661.5L380.0 655.4L377.4 650.8L361.6 656.8Z"/>
<path class="c459" d="M344.9 674.7L364.2 661.5L361.6 656.8L342.4 670.2Z"/>
<path class="c478" d="M336.1 678.2L344.9 674.7L342.4 670.2L333.6 673.8Z"/>
<path class="c461" d="M325.3 671.0L336.1 678.2L333.6 673.8L322.9 666.3Z"/>
<path class="c480" d="M314.8 678.5L325.3 671.0L322.9 666.3L312.4 674.0Z"/>
<path class="c446" d="M298.2 648.3L314.8 678.5L312.4 674.0L295.9 643.2Z"/>
<path class="c260" d="M281.4 613.3L298.2 648.3L295.9 643.2L279.1 607.6Z"/>
<path class="c261" d="M269.3 635.2L281.4 613.3L279.1 607.6L267.0 629.9Z"/>
<path class="c392" d="M257.8 690.6L269.3 635.2L267.0 629.9L255.6 686.2Z"/>
<path class="c452" d="M241.1 665.1L257.8 690.6L255.6 686.2L239.0 660.2Z"/>
<path class="c439" d="M230.4 669.1L241.1 665.1L239.0 660.2L228.3 664.1Z"/>
<path class="c452" d="M214.6 687.1L230.4 669.1L228.3 664.1L212.5 682.5Z"/>
<path class="c447" d="M199.8 673.5L214.6 687.1L212.5 682.5L197.8 668.6Z"/>
<path class="c401" d="M854.4 591.2L865.8 529.1L861.5 522.4L850.1 585.8Z"/>
<path class="c155" d="M845.8 606.1L854.4 591.2L850.1 585.8L841.5 601.0Z"/>
<path class="c164" d="M835.9 603.8L845.8 606.1L841.5 601.0L831.7 598.3Z"/>
<path class="c159" d="M827.7 595.3L835.9 603.8L831.7 598.3L823.6 589.2Z"/>
<path class="c157" d="M819.6 587.1L827.7 595.3L823.6 589.2L815.5 580.4Z"/>
<path class="c53" d="M811.4 577.0L819.6 587.1L815.5 580.4L807.3 569.7Z"/>
<path class="c56" d="M802.5 608.6L811.4 577.0L807.3 569.7L798.4 601.8Z"/>
<path class="c362" d="M797.0 632.0L802.5 608.6L798.4 601.8L793.0 625.4Z"/>
<path class="c439" d="M792.0 633.5L797.0 632.0L793.0 625.4L788.0 626.8Z"/>
<path class="c439" d="M787.0 634.9L792.0 633.5L788.0 626.8L782.9 628.3Z"/>
<path class="c453" d="M781.9 636.4L787.0 634.9L782.9 628.3L777.9 629.7Z"/>
<path class="c448" d="M775.2 640.5L781.9 636.4L777.9 629.7L771.2 633.8Z"/>
<path class="c459" d="M770.1 644.6L775.2 640.5L771.2 633.8L766.1 637.9Z"/>
<path class="c451" d="M765.0 646.5L770.1 644.6L766.1 637.9L761.1 639.7Z"/>
<path class="c458" d="M758.3 647.0L765.0 646.5L761.1 639.7L754.4 640.3Z"/>
<path class="c439" d="M748.5 632.1L758.3 647.0L754.4 640.3L744.6 625.1Z"/>
<path class="c431" d="M741.7 635.7L748.5 632.1L744.6 625.1L737.8 629.0Z"/>
<path class="c450" d="M735.0 636.1L741.7 635.7L737.8 629.0L731.1 629.7Z"/>
<path class="c434" d="M726.6 634.1L735.0 636.1L731.1 629.7L722.8 627.9Z"/>
<path class="c232" d="M720.2 608.7L726.6 634.1L722.8 627.9L716.4 601.8Z"/>
<path class="c230" d="M713.8 581.8L720.2 608.7L716.4 601.8L710.0 574.1Z"/>
<path class="c262" d="M707.5 541.4L713.8 581.8L710.0 574.1L703.7 532.6Z"/>
<path class="c257" d="M701.1 499.9L707.5 541.4L703.7 532.6L697.4 490.0Z"/>
<path class="c481" d="M694.5 481.7L701.1 499.9L697.4 490.0L690.8 471.4Z"/>
<path class="c0" d="M687.8 464.9L694.5 481.7L690.8 471.4L684.1 454.6Z"/>
<path class="c187" d="M681.2 438.3L687.8 464.9L684.1 454.6L677.6 427.7Z"/>
<path class="c68" d="M674.6 415.7L681.2 438.3L677.6 427.7L670.9 404.9Z"/>
<path class="c474" d="M669.5 407.5L674.6 415.7L670.9 404.9L665.8 396.7Z"/>
<path class="c476" d="M666.9 500.8L669.5 407.5L665.8 396.7L663.2 492.4Z"/>
<path class="c1" d="M664.3 592.9L666.9 500.8L663.2 492.4L660.7 586.9Z"/>
<path class="c164" d="M661.8 683.8L664.3 592.9L660.7 586.9L658.2 680.1Z"/>
<path class="c482" d="M653.6 654.0L661.8 683.8L658.2 680.1L650.0 648.2Z"/>
<path class="c483" d="M643.4 643.0L653.6 654.0L650.0 648.2L639.9 637.1Z"/>
<path class="c446" d="M631.5 636.3L643.4 643.0L639.9 637.1L628.0 630.3Z"/>
<path class="c427" d="M619.5 640.7L631.5 636.3L628.0 630.3L616.0 634.4Z"/>
<path class="c431" d="M609.2 643.1L619.5 640.7L616.0 634.4L605.8 636.4Z"/>
<path class="c434" d="M600.6 645.9L609.2 643.1L605.8 636.4L597.2 639.0Z"/>
<path class="c450" d="M590.3 647.0L600.6 645.9L597.2 639.0L586.9 640.1Z"/>
<path class="c431" d="M581.7 643.5L590.3 647.0L586.9 640.1L578.4 636.6Z"/>
<path class="c446" d="M574.8 641.8L581.7 643.5L578.4 636.6L571.5 634.9Z"/>
<path class="c427" d="M573.1 642.4L574.8 641.8L571.5 634.9L569.8 635.6Z"/>
<path class="c446" d="M571.4 643.0L573.1 642.4L569.8 635.6L568.1 636.3Z"/>
<path class="c426" d="M569.7 645.2L571.4 643.0L568.1 636.3L566.4 638.7Z"/>
<path class="c434" d="M567.9 647.3L569.7 645.2L566.4 638.7L564.6 641.1Z"/>
<path class="c449" d="M566.2 644.9L567.9 647.3L564.6 641.1L562.9 638.8Z"/>
<path class="c426" d="M564.5 643.3L566.2 644.9L562.9 638.8L561.2 637.4Z"/>
<path class="c446" d="M562.8 642.5L564.5 643.3L561.2 637.4L559.5 636.7Z"/>
<path class="c446" d="M561.0 642.5L562.8 642.5L559.5 636.7L557.8 636.9Z"/>
<path class="c50" d="M547.2 610.6L561.0 642.5L557.8 636.9L544.0 604.2Z"/>
<path class="c110" d="M533.3 594.1L547.2 610.6L544.0 604.2L530.1 587.8Z"/>
<path class="c399" d="M519.4 580.7L533.3 594.1L530.1 587.8L516.2 574.4Z"/>
<path class="c61" d="M507.2 607.4L519.4 580.7L516.2 574.4L504.1 601.3Z"/>
<path class="c345" d="M498.5 633.1L507.2 607.4L504.1 601.3L495.5 627.4Z"/>
<path class="c408" d="M489.9 660.9L498.5 633.1L495.5 627.4L486.9 655.9Z"/>
<path class="c467" d="M476.0 667.5L489.9 660.9L486.9 655.9L473.0 663.0Z"/>
<path class="c451" d="M462.0 664.6L476.0 667.5L473.0 663.0L459.0 660.3Z"/>
<path class="c452" d="M446.2 660.6L462.0 664.6L459.0 660.3L443.3 656.3Z"/>
<path class="c453" d="M430.3 657.0L446.2 660.6L443.3 656.3L427.5 652.7Z"/>
<path class="c445" d="M416.2 655.4L430.3 657.0L427.5 652.7L413.5 651.0Z"/>
<path class="c434" d="M400.3 655.9L416.2 655.4L413.5 651.0L397.6 651.4Z"/>
<path class="c434" d="M382.7 660.0L400.3 655.9L397.6 651.4L380.0 655.4Z"/>
<path class="c453" d="M366.8 666.1L382.7 660.0L380.0 655.4L364.2 661.5Z"/>
<path class="c447" d="M347.4 679.1L366.8 666.1L364.2 661.5L344.9 674.7Z"/>
<path class="c484" d="M338.6 682.5L347.4 679.1L344.9 674.7L336.1 678.2Z"/>
<path class="c461" d="M327.8 675.7L338.6 682.5L336.1 678.2L325.3 671.0Z"/>
<path class="c461" d="M317.2 683.0L327.8 675.7L325.3 671.0L314.8 678.5Z"/>
<path class="c426" d="M300.6 653.4L317.2 683.0L314.8 678.5L298.2 648.3Z"/>
<path class="c405" d="M283.8 619.0L300.6 653.4L298.2 648.3L281.4 613.3Z"/>
<path class="c157" d="M271.5 640.5L283.8 619.0L281.4 613.3L269.3 635.2Z"/>
<path class="c404" d="M260.0 694.9L271.5 640.5L269.3 635.2L257.8 690.6Z"/>
<path class="c452" d="M243.3 670.1L260.0 694.9L257.8 690.6L241.1 665.1Z"/>
<path class="c433" d="M232.5 674.0L243.3 670.1L241.1 665.1L230.4 669.1Z"/>
<path class="c459" d="M216.6 691.6L232.5 674.0L230.4 669.1L214.6 687.1Z"/>
<path class="c467" d="M201.8 678.4L216.6 691.6L214.6 687.1L199.8 673.5Z"/>
<path class="c380" d="M858.7 596.5L870.1 535.9L865.8 529.1L854.4 591.2Z"/>
<path class="c57" d="M850.1 611.2L858.7 596.5L854.4 591.2L845.8 606.1Z"/>
<path class="c232" d="M840.1 609.2L850.1 611.2L845.8 606.1L835.9 603.8Z"/>
<path class="c50" d="M831.9 601.2L840.1 609.2L835.9 603.8L827.7 595.3Z"/>
<path class="c317" d="M823.7 593.6L831.9 601.2L827.7 595.3L819.6 587.1Z"/>
<path class="c106" d="M815.6 584.1L823.7 593.6L819.6 587.1L811.4 577.0Z"/>
<path class="c261" d="M806.6 615.0L815.6 584.1L811.4 577.0L802.5 608.6Z"/>
<path class="c392" d="M801.1 637.9L806.6 615.0L802.5 608.6L797.0 632.0Z"/>
<path class="c444" d="M796.1 639.4L801.1 637.9L797.0 632.0L792.0 633.5Z"/>
<path class="c448" d="M791.0 640.9L796.1 639.4L792.0 633.5L787.0 634.9Z"/>
<path class="c440" d="M786.0 642.4L791.0 640.9L787.0 634.9L781.9 636.4Z"/>
<path class="c452" d="M779.2 646.6L786.0 642.4L781.9 636.4L775.2 640.5Z"/>
<path class="c451" d="M774.1 650.7L779.2 646.6L775.2 640.5L770.1 644.6Z"/>
<path class="c461" d="M769.0 652.5L774.1 650.7L770.1 644.6L765.0 646.5Z"/>
<path class="c465" d="M762.3 652.9L769.0 652.5L765.0 646.5L758.3 647.0Z"/>
<path class="c444" d="M752.4 638.5L762.3 652.9L758.3 647.0L748.5 632.1Z"/>
<path class="c450" d="M745.6 641.8L752.4 638.5L748.5 632.1L741.7 635.7Z"/>
<path class="c453" d="M738.9 642.1L745.6 641.8L741.7 635.7L735.0 636.1Z"/>
<path class="c439" d="M730.4 639.9L738.9 642.1L735.0 636.1L726.6 634.1Z"/>
<path class="c319" d="M724.0 615.2L730.4 639.9L726.6 634.1L720.2 608.7Z"/>
<path class="c158" d="M717.6 589.2L724.0 615.2L720.2 608.7L713.8 581.8Z"/>
<path class="c359" d="M711.3 550.0L717.6 589.2L713.8 581.8L707.5 541.4Z"/>
<path class="c67" d="M704.9 509.8L711.3 550.0L707.5 541.4L701.1 499.9Z"/>
<path class="c309" d="M698.3 491.9L704.9 509.8L701.1 499.9L694.5 481.7Z"/>
<path class="c249" d="M691.6 475.1L698.3 491.9L694.5 481.7L687.8 464.9Z"/>
<path class="c385" d="M685.0 448.9L691.6 475.1L687.8 464.9L681.2 438.3Z"/>
<path class="c485" d="M678.3 426.6L685.0 448.9L681.2 438.3L674.6 415.7Z"/>
<path class="c486" d="M673.2 418.3L678.3 426.6L674.6 415.7L669.5 407.5Z"/>
<path class="c283" d="M670.5 509.1L673.2 418.3L669.5 407.5L666.9 500.8Z"/>
<path class="c46" d="M668.0 598.7L670.5 509.1L666.9 500.8L664.3 592.9Z"/>
<path class="c201" d="M665.4 687.2L668.0 598.7L664.3 592.9L661.8 683.8Z"/>
<path class="c487" d="M657.2 659.3L665.4 687.2L661.8 683.8L653.6 654.0Z"/>
<path class="c440" d="M647.0 648.4L657.2 659.3L653.6 654.0L643.4 643.0Z"/>
<path class="c431" d="M635.1 641.8L647.0 648.4L643.4 643.0L631.5 636.3Z"/>
<path class="c426" d="M623.0 646.4L635.1 641.8L631.5 636.3L619.5 640.7Z"/>
<path class="c445" d="M612.7 649.1L623.0 646.4L619.5 640.7L609.2 643.1Z"/>
<path class="c439" d="M604.1 652.2L612.7 649.1L609.2 643.1L600.6 645.9Z"/>
<path class="c444" d="M593.7 653.4L604.1 652.2L600.6 645.9L590.3 647.0Z"/>
<path class="c450" d="M585.1 649.9L593.7 653.4L590.3 647.0L581.7 643.5Z"/>
<path class="c449" d="M578.2 648.0L585.1 649.9L581.7 643.5L574.8 641.8Z"/>
<path class="c431" d="M576.5 648.6L578.2 648.0L574.8 641.8L573.1 642.4Z"/>
<path class="c449" d="M574.7 649.1L576.5 648.6L573.1 642.4L571.4 643.0Z"/>
<path class="c434" d="M573.0 651.1L574.7 649.1L571.4 643.0L569.7 645.2Z"/>
<path class="c439" d="M571.3 653.1L573.0 651.1L569.7 645.2L567.9 647.3Z"/>
<path class="c450" d="M569.5 650.6L571.3 653.1L567.9 647.3L566.2 644.9Z"/>
<path class="c434" d="M567.8 648.8L569.5 650.6L566.2 644.9L564.5 643.3Z"/>
<path class="c431" d="M566.1 647.9L567.8 648.8L564.5 643.3L562.8 642.5Z"/>
<path class="c426" d="M564.3 647.7L566.1 647.9L562.8 642.5L561.0 642.5Z"/>
<path class="c228" d="M550.5 616.9L564.3 647.7L561.0 642.5L547.2 610.6Z"/>
<path class="c106" d="M536.5 600.4L550.5 616.9L547.2 610.6L533.3 594.1Z"/>
<path class="c61" d="M522.5 587.0L536.5 600.4L533.3 594.1L519.4 580.7Z"/>
<path class="c162" d="M510.3 613.5L522.5 587.0L519.4 580.7L507.2 607.4Z"/>
<path class="c51" d="M501.6 638.7L510.3 613.5L507.2 607.4L498.5 633.1Z"/>
<path class="c416" d="M493.0 665.9L501.6 638.7L498.5 633.1L489.9 660.9Z"/>
<path class="c451" d="M479.0 671.9L493.0 665.9L489.9 660.9L476.0 667.5Z"/>
<path class="c458" d="M464.9 668.9L479.0 671.9L476.0 667.5L462.0 664.6Z"/>
<path class="c459" d="M449.1 664.8L464.9 668.9L462.0 664.6L446.2 660.6Z"/>
<path class="c444" d="M433.2 661.3L449.1 664.8L446.2 660.6L430.3 657.0Z"/>
<path class="c450" d="M419.0 659.7L433.2 661.3L430.3 657.0L416.2 655.4Z"/>
<path class="c434" d="M403.1 660.3L419.0 659.7L416.2 655.4L400.3 655.9Z"/>
<path class="c445" d="M385.4 664.6L403.1 660.3L400.3 655.9L382.7 660.0Z"/>
<path class="c453" d="M369.4 670.7L385.4 664.6L382.7 660.0L366.8 666.1Z"/>
<path class="c447" d="M350.0 683.4L369.4 670.7L366.8 666.1L347.4 679.1Z"/>
<path class="c484" d="M341.1 686.8L350.0 683.4L347.4 679.1L338.6 682.5Z"/>
<path class="c465" d="M330.2 680.4L341.1 686.8L338.6 682.5L327.8 675.7Z"/>
<path class="c465" d="M319.6 687.3L330.2 680.4L327.8 675.7L317.2 683.0Z"/>
<path class="c426" d="M302.9 658.4L319.6 687.3L317.2 683.0L300.6 653.4Z"/>
<path class="c62" d="M286.1 624.7L302.9 658.4L300.6 653.4L283.8 619.0Z"/>
<path class="c260" d="M273.8 645.8L286.1 624.7L283.8 619.0L271.5 640.5Z"/>
<path class="c408" d="M262.2 699.2L273.8 645.8L271.5 640.5L260.0 694.9Z"/>
<path class="c459" d="M245.4 675.1L262.2 699.2L260.0 694.9L243.3 670.1Z"/>
<path class="c453" d="M234.6 679.0L245.4 675.1L243.3 670.1L232.5 674.0Z"/>
<path class="c447" d="M218.6 696.1L234.6 679.0L232.5 674.0L216.6 691.6Z"/>
<path class="c466" d="M203.8 683.3L218.6 696.1L216.6 691.6L201.8 678.4Z"/>
<path class="c47" d="M863.0 601.7L874.5 542.8L870.1 535.9L858.7 596.5Z"/>
<path class="c63" d="M854.4 616.1L863.0 601.7L858.7 596.5L850.1 611.2Z"/>
<path class="c294" d="M844.4 614.4L854.4 616.1L850.1 611.2L840.1 609.2Z"/>
<path class="c228" d="M836.2 607.0L844.4 614.4L840.1 609.2L831.9 601.2Z"/>
<path class="c117" d="M827.9 599.8L836.2 607.0L831.9 601.2L823.7 593.6Z"/>
<path class="c197" d="M819.7 590.9L827.9 599.8L823.7 593.6L815.6 584.1Z"/>
<path class="c260" d="M810.7 620.8L819.7 590.9L815.6 584.1L806.6 615.0Z"/>
<path class="c408" d="M805.3 642.9L810.7 620.8L806.6 615.0L801.1 637.9Z"/>
<path class="c440" d="M800.2 644.5L805.3 642.9L801.1 637.9L796.1 639.4Z"/>
<path class="c452" d="M795.1 646.0L800.2 644.5L796.1 639.4L791.0 640.9Z"/>
<path class="c459" d="M790.0 647.5L795.1 646.0L791.0 640.9L786.0 642.4Z"/>
<path class="c447" d="M783.2 651.7L790.0 647.5L786.0 642.4L779.2 646.6Z"/>
<path class="c458" d="M778.1 655.8L783.2 651.7L779.2 646.6L774.1 650.7Z"/>
<path class="c472" d="M773.0 657.6L778.1 655.8L774.1 650.7L769.0 652.5Z"/>
<path class="c478" d="M766.3 657.9L773.0 657.6L769.0 652.5L762.3 652.9Z"/>
<path class="c440" d="M756.4 644.2L766.3 657.9L762.3 652.9L752.4 638.5Z"/>
<path class="c444" d="M749.6 647.3L756.4 644.2L752.4 638.5L745.6 641.8Z"/>
<path class="c448" d="M742.8 647.4L749.6 647.3L745.6 641.8L738.9 642.1Z"/>
<path class="c453" d="M734.3 645.1L742.8 647.4L738.9 642.1L730.4 639.9Z"/>
<path class="c381" d="M727.9 621.3L734.3 645.1L730.4 639.9L724.0 615.2Z"/>
<path class="c109" d="M721.4 596.2L727.9 621.3L724.0 615.2L717.6 589.2Z"/>
<path class="c47" d="M715.1 558.4L721.4 596.2L717.6 589.2L711.3 550.0Z"/>
<path class="c1" d="M708.7 519.5L715.1 558.4L711.3 550.0L704.9 509.8Z"/>
<path class="c464" d="M702.0 502.0L708.7 519.5L704.9 509.8L698.3 491.9Z"/>
<path class="c202" d="M695.3 485.3L702.0 502.0L698.3 491.9L691.6 475.1Z"/>
<path class="c266" d="M688.7 459.6L695.3 485.3L691.6 475.1L685.0 448.9Z"/>
<path class="c373" d="M682.0 437.6L688.7 459.6L685.0 448.9L678.3 426.6Z"/>
<path class="c422" d="M676.9 429.2L682.0 437.6L678.3 426.6L673.2 418.3Z"/>
<path class="c88" d="M674.2 517.3L676.9 429.2L673.2 418.3L670.5 509.1Z"/>
<path class="c488" d="M671.7 604.2L674.2 517.3L670.5 509.1L668.0 598.7Z"/>
<path class="c232" d="M669.1 690.1L671.7 604.2L668.0 598.7L665.4 687.2Z"/>
<path class="c489" d="M660.8 664.1L669.1 690.1L665.4 687.2L657.2 659.3Z"/>
<path class="c452" d="M650.6 653.3L660.8 664.1L657.2 659.3L647.0 648.4Z"/>
<path class="c434" d="M638.6 646.7L650.6 653.3L647.0 648.4L635.1 641.8Z"/>
<path class="c449" d="M626.5 651.5L638.6 646.7L635.1 641.8L623.0 646.4Z"/>
<path class="c439" d="M616.2 654.4L626.5 651.5L623.0 646.4L612.7 649.1Z"/>
<path class="c444" d="M607.5 657.7L616.2 654.4L612.7 649.1L604.1 652.2Z"/>
<path class="c440" d="M597.1 658.9L607.5 657.7L604.1 652.2L593.7 653.4Z"/>
<path class="c453" d="M588.5 655.4L597.1 658.9L593.7 653.4L585.1 649.9Z"/>
<path class="c450" d="M581.6 653.5L588.5 655.4L585.1 649.9L578.2 648.0Z"/>
<path class="c445" d="M579.8 654.0L581.6 653.5L578.2 648.0L576.5 648.6Z"/>
<path class="c450" d="M578.1 654.5L579.8 654.0L576.5 648.6L574.7 649.1Z"/>
<path class="c439" d="M576.3 656.3L578.1 654.5L574.7 649.1L573.0 651.1Z"/>
<path class="c453" d="M574.6 658.2L576.3 656.3L573.0 651.1L571.3 653.1Z"/>
<path class="c433" d="M572.9 655.7L574.6 658.2L571.3 653.1L569.5 650.6Z"/>
<path class="c445" d="M571.1 653.9L572.9 655.7L569.5 650.6L567.8 648.8Z"/>
<path class="c434" d="M569.4 652.9L571.1 653.9L567.8 648.8L566.1 647.9Z"/>
<path class="c449" d="M567.7 652.7L569.4 652.9L566.1 647.9L564.3 647.7Z"/>
<path class="c119" d="M553.8 623.0L567.7 652.7L564.3 647.7L550.5 616.9Z"/>
<path class="c158" d="M539.8 606.6L553.8 623.0L550.5 616.9L536.5 600.4Z"/>
<path class="c162" d="M525.7 593.3L539.8 606.6L536.5 600.4L522.5 587.0Z"/>
<path class="c113" d="M513.5 619.6L525.7 593.3L522.5 587.0L510.3 613.5Z"/>
<path class="c107" d="M504.7 644.2L513.5 619.6L510.3 613.5L501.6 638.7Z"/>
<path class="c415" d="M496.0 670.8L504.7 644.2L501.6 638.7L493.0 665.9Z"/>
<path class="c458" d="M482.0 676.3L496.0 670.8L493.0 665.9L479.0 671.9Z"/>
<path class="c458" d="M467.9 673.1L482.0 676.3L479.0 671.9L464.9 668.9Z"/>
<path class="c459" d="M452.0 669.0L467.9 673.1L464.9 668.9L449.1 664.8Z"/>
<path class="c444" d="M436.0 665.5L452.0 669.0L449.1 664.8L433.2 661.3Z"/>
<path class="c450" d="M421.8 663.9L436.0 665.5L433.2 661.3L419.0 659.7Z"/>
<path class="c434" d="M405.8 664.7L421.8 663.9L419.0 659.7L403.1 660.3Z"/>
<path class="c450" d="M388.0 669.0L405.8 664.7L403.1 660.3L385.4 664.6Z"/>
<path class="c444" d="M372.0 675.1L388.0 669.0L385.4 664.6L369.4 670.7Z"/>
<path class="c447" d="M352.5 687.6L372.0 675.1L369.4 670.7L350.0 683.4Z"/>
<path class="c484" d="M343.6 691.0L352.5 687.6L350.0 683.4L341.1 686.8Z"/>
<path class="c465" d="M332.7 685.0L343.6 691.0L341.1 686.8L330.2 680.4Z"/>
<path class="c465" d="M322.0 691.6L332.7 685.0L330.2 680.4L319.6 687.3Z"/>
<path class="c449" d="M305.3 663.4L322.0 691.6L319.6 687.3L302.9 658.4Z"/>
<path class="c108" d="M288.5 630.5L305.3 663.4L302.9 658.4L286.1 624.7Z"/>
<path class="c317" d="M276.1 651.1L288.5 630.5L286.1 624.7L273.8 645.8Z"/>
<path class="c443" d="M264.4 703.3L276.1 651.1L273.8 645.8L262.2 699.2Z"/>
<path class="c447" d="M247.6 680.1L264.4 703.3L262.2 699.2L245.4 675.1Z"/>
<path class="c444" d="M236.7 684.0L247.6 680.1L245.4 675.1L234.6 679.0Z"/>
<path class="c447" d="M220.7 700.5L236.7 684.0L234.6 679.0L218.6 696.1Z"/>
<path class="c451" d="M205.8 688.2L220.7 700.5L218.6 696.1L203.8 683.3Z"/>
<path class="c105" d="M867.4 606.9L878.9 549.7L874.5 542.8L863.0 601.7Z"/>
<path class="c228" d="M858.7 620.9L867.4 606.9L863.0 601.7L854.4 616.1Z"/>
<path class="c432" d="M848.7 619.4L858.7 620.9L854.4 616.1L844.4 614.4Z"/>
<path class="c64" d="M840.4 612.4L848.7 619.4L844.4 614.4L836.2 607.0Z"/>
<path class="c49" d="M832.2 605.7L840.4 612.4L836.2 607.0L827.9 599.8Z"/>
<path class="c109" d="M823.9 597.2L832.2 605.7L827.9 599.8L819.7 590.9Z"/>
<path class="c345" d="M814.9 625.8L823.9 597.2L819.7 590.9L810.7 620.8Z"/>
<path class="c416" d="M809.4 646.9L814.9 625.8L810.7 620.8L805.3 642.9Z"/>
<path class="c490" d="M804.4 648.5L809.4 646.9L805.3 642.9L800.2 644.5Z"/>
<path class="c452" d="M799.3 650.0L804.4 648.5L800.2 644.5L795.1 646.0Z"/>
<path class="c491" d="M794.2 651.6L799.3 650.0L795.1 646.0L790.0 647.5Z"/>
<path class="c467" d="M787.4 655.8L794.2 651.6L790.0 647.5L783.2 651.7Z"/>
<path class="c461" d="M782.2 659.9L787.4 655.8L783.2 651.7L778.1 655.8Z"/>
<path class="c478" d="M777.1 661.6L782.2 659.9L778.1 655.8L773.0 657.6Z"/>
<path class="c484" d="M770.3 661.9L777.1 661.6L773.0 657.6L766.3 657.9Z"/>
<path class="c452" d="M760.4 649.0L770.3 661.9L766.3 657.9L756.4 644.2Z"/>
<path class="c448" d="M753.5 652.0L760.4 649.0L756.4 644.2L749.6 647.3Z"/>
<path class="c440" d="M746.8 652.0L753.5 652.0L749.6 647.3L742.8 647.4Z"/>
<path class="c444" d="M738.3 649.6L746.8 652.0L742.8 647.4L734.3 645.1Z"/>
<path class="c468" d="M731.8 626.8L738.3 649.6L734.3 645.1L727.9 621.3Z"/>
<path class="c260" d="M725.3 602.7L731.8 626.8L727.9 621.3L721.4 596.2Z"/>
<path class="c403" d="M718.9 566.4L725.3 602.7L721.4 596.2L715.1 558.4Z"/>
<path class="c342" d="M712.5 529.0L718.9 566.4L715.1 558.4L708.7 519.5Z"/>
<path class="c308" d="M705.8 512.0L712.5 529.0L708.7 519.5L702.0 502.0Z"/>
<path class="c492" d="M699.1 495.5L705.8 512.0L702.0 502.0L695.3 485.3Z"/>
<path class="c3" d="M692.4 470.3L699.1 495.5L695.3 485.3L688.7 459.6Z"/>
<path class="c88" d="M685.7 448.7L692.4 470.3L688.7 459.6L682.0 437.6Z"/>
<path class="c493" d="M680.6 440.2L685.7 448.7L682.0 437.6L676.9 429.2Z"/>
<path class="c366" d="M678.0 525.3L680.6 440.2L676.9 429.2L674.2 517.3Z"/>
<path class="c358" d="M675.4 609.4L678.0 525.3L674.2 517.3L671.7 604.2Z"/>
<path class="c294" d="M672.9 692.5L675.4 609.4L671.7 604.2L669.1 690.1Z"/>
<path class="c489" d="M664.5 668.2L672.9 692.5L669.1 690.1L660.8 664.1Z"/>
<path class="c459" d="M654.3 657.4L664.5 668.2L660.8 664.1L650.6 653.3Z"/>
<path class="c445" d="M642.2 650.8L654.3 657.4L650.6 653.3L638.6 646.7Z"/>
<path class="c434" d="M630.1 655.8L642.2 650.8L638.6 646.7L626.5 651.5Z"/>
<path class="c453" d="M619.7 658.9L630.1 655.8L626.5 651.5L616.2 654.4Z"/>
<path class="c448" d="M611.0 662.2L619.7 658.9L616.2 654.4L607.5 657.7Z"/>
<path class="c452" d="M600.6 663.5L611.0 662.2L607.5 657.7L597.1 658.9Z"/>
<path class="c448" d="M591.9 660.0L600.6 663.5L597.1 658.9L588.5 655.4Z"/>
<path class="c439" d="M585.0 658.1L591.9 660.0L588.5 655.4L581.6 653.5Z"/>
<path class="c439" d="M583.2 658.5L585.0 658.1L581.6 653.5L579.8 654.0Z"/>
<path class="c439" d="M581.5 659.0L583.2 658.5L579.8 654.0L578.1 654.5Z"/>
<path class="c433" d="M579.7 660.7L581.5 659.0L578.1 654.5L576.3 656.3Z"/>
<path class="c444" d="M578.0 662.5L579.7 660.7L576.3 656.3L574.6 658.2Z"/>
<path class="c444" d="M576.2 660.1L578.0 662.5L574.6 658.2L572.9 655.7Z"/>
<path class="c439" d="M574.5 658.3L576.2 660.1L572.9 655.7L571.1 653.9Z"/>
<path class="c445" d="M572.8 657.4L574.5 658.3L571.1 653.9L569.4 652.9Z"/>
<path class="c434" d="M571.0 657.2L572.8 657.4L569.4 652.9L567.7 652.7Z"/>
<path class="c414" d="M557.1 628.9L571.0 657.2L567.7 652.7L553.8 623.0Z"/>
<path class="c261" d="M543.1 612.7L557.1 628.9L553.8 623.0L539.8 606.6Z"/>
<path class="c113" d="M529.0 599.6L543.1 612.7L539.8 606.6L525.7 593.3Z"/>
<path class="c55" d="M516.6 625.6L529.0 599.6L525.7 593.3L513.5 619.6Z"/>
<path class="c57" d="M507.9 649.8L516.6 625.6L513.5 619.6L504.7 644.2Z"/>
<path class="c425" d="M499.1 675.7L507.9 649.8L504.7 644.2L496.0 670.8Z"/>
<path class="c458" d="M485.0 680.5L499.1 675.7L496.0 670.8L482.0 676.3Z"/>
<path class="c458" d="M470.9 677.2L485.0 680.5L482.0 676.3L467.9 673.1Z"/>
<path class="c459" d="M454.9 673.0L470.9 677.2L467.9 673.1L452.0 669.0Z"/>
<path class="c444" d="M438.9 669.5L454.9 673.0L452.0 669.0L436.0 665.5Z"/>
<path class="c450" d="M424.6 668.0L438.9 669.5L436.0 665.5L421.8 663.9Z"/>
<path class="c445" d="M408.6 668.9L424.6 668.0L421.8 663.9L405.8 664.7Z"/>
<path class="c450" d="M390.7 673.3L408.6 668.9L405.8 664.7L388.0 669.0Z"/>
<path class="c444" d="M374.7 679.4L390.7 673.3L388.0 669.0L372.0 675.1Z"/>
<path class="c467" d="M355.1 691.6L374.7 679.4L372.0 675.1L352.5 687.6Z"/>
<path class="c484" d="M346.1 694.9L355.1 691.6L352.5 687.6L343.6 691.0Z"/>
<path class="c472" d="M335.2 689.5L346.1 694.9L343.6 691.0L332.7 685.0Z"/>
<path class="c472" d="M324.5 695.6L335.2 689.5L332.7 685.0L322.0 691.6Z"/>
<path class="c434" d="M307.7 668.4L324.5 695.6L322.0 691.6L305.3 663.4Z"/>
<path class="c107" d="M290.8 636.3L307.7 668.4L305.3 663.4L288.5 630.5Z"/>
<path class="c62" d="M278.4 656.4L290.8 636.3L288.5 630.5L276.1 651.1Z"/>
<path class="c416" d="M266.7 707.3L278.4 656.4L276.1 651.1L264.4 703.3Z"/>
<path class="c447" d="M249.8 685.1L266.7 707.3L264.4 703.3L247.6 680.1Z"/>
<path class="c448" d="M238.9 688.9L249.8 685.1L247.6 680.1L236.7 684.0Z"/>
<path class="c467" d="M222.8 704.8L238.9 688.9L236.7 684.0L220.7 700.5Z"/>
<path class="c451" d="M207.8 693.1L222.8 704.8L220.7 700.5L205.8 688.2Z"/>
<path class="c406" d="M871.8 611.9L883.3 556.7L878.9 549.7L867.4 606.9Z"/>
<path class="c200" d="M863.1 625.5L871.8 611.9L867.4 606.9L858.7 620.9Z"/>
<path class="c362" d="M853.0 624.2L863.1 625.5L858.7 620.9L848.7 619.4Z"/>
<path class="c164" d="M844.8 617.6L853.0 624.2L848.7 619.4L840.4 612.4Z"/>
<path class="c57" d="M836.5 611.2L844.8 617.6L840.4 612.4L832.2 605.7Z"/>
<path class="c260" d="M828.2 603.1L836.5 611.2L832.2 605.7L823.9 597.2Z"/>
<path class="c51" d="M819.2 629.9L828.2 603.1L823.9 597.2L814.9 625.8Z"/>
<path class="c418" d="M813.7 649.8L819.2 629.9L814.9 625.8L809.4 646.9Z"/>
<path class="c440" d="M808.6 651.3L813.7 649.8L809.4 646.9L804.4 648.5Z"/>
<path class="c452" d="M803.5 652.8L808.6 651.3L804.4 648.5L799.3 650.0Z"/>
<path class="c459" d="M798.4 654.4L803.5 652.8L799.3 650.0L794.2 651.6Z"/>
<path class="c447" d="M791.5 658.6L798.4 654.4L794.2 651.6L787.4 655.8Z"/>
<path class="c480" d="M786.4 662.8L791.5 658.6L787.4 655.8L782.2 659.9Z"/>
<path class="c472" d="M781.2 664.5L786.4 662.8L782.2 659.9L777.1 661.6Z"/>
<path class="c478" d="M774.4 664.8L781.2 664.5L777.1 661.6L770.3 661.9Z"/>
<path class="c459" d="M764.4 652.9L774.4 664.8L770.3 661.9L760.4 649.0Z"/>
<path class="c440" d="M757.6 655.9L764.4 652.9L760.4 649.0L753.5 652.0Z"/>
<path class="c452" d="M750.8 655.8L757.6 655.9L753.5 652.0L746.8 652.0Z"/>
<path class="c448" d="M742.3 653.4L750.8 655.8L746.8 652.0L738.3 649.6Z"/>
<path class="c392" d="M735.7 631.7L742.3 653.4L738.3 649.6L731.8 626.8Z"/>
<path class="c345" d="M729.2 608.8L735.7 631.7L731.8 626.8L725.3 602.7Z"/>
<path class="c194" d="M722.8 574.1L729.2 608.8L725.3 602.7L718.9 566.4Z"/>
<path class="c410" d="M716.4 538.4L722.8 574.1L718.9 566.4L712.5 529.0Z"/>
<path class="c2" d="M709.6 521.9L716.4 538.4L712.5 529.0L705.8 512.0Z"/>
<path class="c235" d="M702.9 505.6L709.6 521.9L705.8 512.0L699.1 495.5Z"/>
<path class="c221" d="M696.2 481.0L702.9 505.6L699.1 495.5L692.4 470.3Z"/>
<path class="c366" d="M689.5 459.8L696.2 481.0L692.4 470.3L685.7 448.7Z"/>
<path class="c369" d="M684.3 451.2L689.5 459.8L685.7 448.7L680.6 440.2Z"/>
<path class="c137" d="M681.7 533.1L684.3 451.2L680.6 440.2L678.0 525.3Z"/>
<path class="c383" d="M679.2 614.1L681.7 533.1L678.0 525.3L675.4 609.4Z"/>
<path class="c319" d="M676.6 694.1L679.2 614.1L675.4 609.4L672.9 692.5Z"/>
<path class="c487" d="M668.2 671.6L676.6 694.1L672.9 692.5L664.5 668.2Z"/>
<path class="c459" d="M657.9 660.8L668.2 671.6L664.5 668.2L654.3 657.4Z"/>
<path class="c445" d="M645.9 654.2L657.9 660.8L654.3 657.4L642.2 650.8Z"/>
<path class="c434" d="M633.7 659.2L645.9 654.2L642.2 650.8L630.1 655.8Z"/>
<path class="c453" d="M623.3 662.3L633.7 659.2L630.1 655.8L619.7 658.9Z"/>
<path class="c448" d="M614.5 665.8L623.3 662.3L619.7 658.9L611.0 662.2Z"/>
<path class="c452" d="M604.1 667.0L614.5 665.8L611.0 662.2L600.6 663.5Z"/>
<path class="c448" d="M595.4 663.5L604.1 667.0L600.6 663.5L591.9 660.0Z"/>
<path class="c439" d="M588.4 661.6L595.4 663.5L591.9 660.0L585.0 658.1Z"/>
<path class="c439" d="M586.7 662.0L588.4 661.6L585.0 658.1L583.2 658.5Z"/>
<path class="c439" d="M584.9 662.4L586.7 662.0L583.2 658.5L581.5 659.0Z"/>
<path class="c433" d="M583.1 664.2L584.9 662.4L581.5 659.0L579.7 660.7Z"/>
<path class="c444" d="M581.4 665.9L583.1 664.2L579.7 660.7L578.0 662.5Z"/>
<path class="c444" d="M579.6 663.7L581.4 665.9L578.0 662.5L576.2 660.1Z"/>
<path class="c439" d="M577.9 662.1L579.6 663.7L576.2 660.1L574.5 658.3Z"/>
<path class="c450" d="M576.2 661.3L577.9 662.1L574.5 658.3L572.8 657.4Z"/>
<path class="c445" d="M574.4 661.2L576.2 661.3L572.8 657.4L571.0 657.2Z"/>
<path class="c232" d="M560.4 634.5L574.4 661.2L571.0 657.2L557.1 628.9Z"/>
<path class="c157" d="M546.3 618.8L560.4 634.5L557.1 628.9L543.1 612.7Z"/>
<path class="c55" d="M532.2 605.9L546.3 618.8L543.1 612.7L529.0 599.6Z"/>
<path class="c196" d="M519.8 631.5L532.2 605.9L529.0 599.6L516.6 625.6Z"/>
<path class="c63" d="M511.0 655.2L519.8 631.5L516.6 625.6L507.9 649.8Z"/>
<path class="c427" d="M502.2 680.3L511.0 655.2L507.9 649.8L499.1 675.7Z"/>
<path class="c480" d="M488.1 684.5L502.2 680.3L499.1 675.7L485.0 680.5Z"/>
<path class="c458" d="M473.9 681.1L488.1 684.5L485.0 680.5L470.9 677.2Z"/>
<path class="c459" d="M457.9 676.9L473.9 681.1L470.9 677.2L454.9 673.0Z"/>
<path class="c444" d="M441.8 673.4L457.9 676.9L454.9 673.0L438.9 669.5Z"/>
<path class="c450" d="M427.5 672.0L441.8 673.4L438.9 669.5L424.6 668.0Z"/>
<path class="c445" d="M411.4 672.9L427.5 672.0L424.6 668.0L408.6 668.9Z"/>
<path class="c450" d="M393.5 677.4L411.4 672.9L408.6 668.9L390.7 673.3Z"/>
<path class="c444" d="M377.3 683.5L393.5 677.4L390.7 673.3L374.7 679.4Z"/>
<path class="c467" d="M357.6 695.4L377.3 683.5L374.7 679.4L355.1 691.6Z"/>
<path class="c484" d="M348.7 698.7L357.6 695.4L355.1 691.6L346.1 694.9Z"/>
<path class="c472" d="M337.7 693.9L348.7 698.7L346.1 694.9L335.2 689.5Z"/>
<path class="c472" d="M326.9 699.4L337.7 693.9L335.2 689.5L324.5 695.6Z"/>
<path class="c434" d="M310.2 673.2L326.9 699.4L324.5 695.6L307.7 668.4Z"/>
<path class="c159" d="M293.2 642.0L310.2 673.2L307.7 668.4L290.8 636.3Z"/>
<path class="c108" d="M280.8 661.6L293.2 642.0L290.8 636.3L278.4 656.4Z"/>
<path class="c418" d="M268.9 711.1L280.8 661.6L278.4 656.4L266.7 707.3Z"/>
<path class="c467" d="M252.0 690.0L268.9 711.1L266.7 707.3L249.8 685.1Z"/>
<path class="c440" d="M241.1 693.8L252.0 690.0L249.8 685.1L238.9 688.9Z"/>
<path class="c466" d="M224.9 708.9L241.1 693.8L238.9 688.9L222.8 704.8Z"/>
<path class="c458" d="M209.9 697.9L224.9 708.9L222.8 704.8L207.8 693.1Z"/>
<path class="c417" d="M876.3 616.8L887.7 563.7L883.3 556.7L871.8 611.9Z"/>
<path class="c119" d="M867.5 629.9L876.3 616.8L871.8 611.9L863.1 625.5Z"/>
<path class="c391" d="M857.4 628.8L867.5 629.9L863.1 625.5L853.0 624.2Z"/>
<path class="c201" d="M849.1 622.5L857.4 628.8L853.0 624.2L844.8 617.6Z"/>
<path class="c63" d="M840.8 616.4L849.1 622.5L844.8 617.6L836.5 611.2Z"/>
<path class="c405" d="M832.5 608.5L840.8 616.4L836.5 611.2L828.2 603.1Z"/>
<path class="c49" d="M823.5 633.2L832.5 608.5L828.2 603.1L819.2 629.9Z"/>
<path class="c416" d="M818.0 651.5L823.5 633.2L819.2 629.9L813.7 649.8Z"/>
<path class="c444" d="M812.9 653.0L818.0 651.5L813.7 649.8L808.6 651.3Z"/>
<path class="c448" d="M807.7 654.5L812.9 653.0L808.6 651.3L803.5 652.8Z"/>
<path class="c440" d="M802.6 656.0L807.7 654.5L803.5 652.8L798.4 654.4Z"/>
<path class="c459" d="M795.7 660.3L802.6 656.0L798.4 654.4L791.5 658.6Z"/>
<path class="c451" d="M790.6 664.4L795.7 660.3L791.5 658.6L786.4 662.8Z"/>
<path class="c465" d="M785.4 666.1L790.6 664.4L786.4 662.8L781.2 664.5Z"/>
<path class="c472" d="M778.6 666.5L785.4 666.1L781.2 664.5L774.4 664.8Z"/>
<path class="c452" d="M768.5 655.9L778.6 666.5L774.4 664.8L764.4 652.9Z"/>
<path class="c448" d="M761.7 658.8L768.5 655.9L764.4 652.9L757.6 655.9Z"/>
<path class="c440" d="M754.8 658.7L761.7 658.8L757.6 655.9L750.8 655.8Z"/>
<path class="c444" d="M746.3 656.3L754.8 658.7L750.8 655.8L742.3 653.4Z"/>
<path class="c404" d="M739.7 635.9L746.3 656.3L742.3 653.4L735.7 631.7Z"/>
<path class="c51" d="M733.1 614.4L739.7 635.9L735.7 631.7L729.2 608.8Z"/>
<path class="c399" d="M726.7 581.4L733.1 614.4L729.2 608.8L722.8 574.1Z"/>
<path class="c383" d="M720.2 547.5L726.7 581.4L722.8 574.1L716.4 538.4Z"/>
<path class="c396" d="M713.5 531.7L720.2 547.5L716.4 538.4L709.6 521.9Z"/>
<path class="c363" d="M706.7 515.6L713.5 531.7L709.6 521.9L702.9 505.6Z"/>
<path class="c335" d="M700.0 491.7L706.7 515.6L702.9 505.6L696.2 481.0Z"/>
<path class="c281" d="M693.3 471.0L700.0 491.7L696.2 481.0L689.5 459.8Z"/>
<path class="c147" d="M688.1 462.4L693.3 471.0L689.5 459.8L684.3 451.2Z"/>
<path class="c42" d="M685.5 540.8L688.1 462.4L684.3 451.2L681.7 533.1Z"/>
<path class="c115" d="M682.9 618.4L685.5 540.8L681.7 533.1L679.2 614.1Z"/>
<path class="c319" d="M680.4 695.1L682.9 618.4L679.2 614.1L676.6 694.1Z"/>
<path class="c482" d="M672.0 674.3L680.4 695.1L676.6 694.1L668.2 671.6Z"/>
<path class="c452" d="M661.7 663.4L672.0 674.3L668.2 671.6L657.9 660.8Z"/>
<path class="c434" d="M649.6 656.7L661.7 663.4L657.9 660.8L645.9 654.2Z"/>
<path class="c431" d="M637.3 661.7L649.6 656.7L645.9 654.2L633.7 659.2Z"/>
<path class="c439" d="M626.9 664.8L637.3 661.7L633.7 659.2L623.3 662.3Z"/>
<path class="c444" d="M618.1 668.3L626.9 664.8L623.3 662.3L614.5 665.8Z"/>
<path class="c440" d="M607.6 669.5L618.1 668.3L614.5 665.8L604.1 667.0Z"/>
<path class="c444" d="M598.9 666.0L607.6 669.5L604.1 667.0L595.4 663.5Z"/>
<path class="c450" d="M591.9 664.1L598.9 666.0L595.4 663.5L588.4 661.6Z"/>
<path class="c445" d="M590.1 664.5L591.9 664.1L588.4 661.6L586.7 662.0Z"/>
<path class="c450" d="M588.4 665.0L590.1 664.5L586.7 662.0L584.9 662.4Z"/>
<path class="c439" d="M586.6 666.7L588.4 665.0L584.9 662.4L583.1 664.2Z"/>
<path class="c453" d="M584.8 668.5L586.6 666.7L583.1 664.2L581.4 665.9Z"/>
<path class="c453" d="M583.1 666.6L584.8 668.5L581.4 665.9L579.6 663.7Z"/>
<path class="c450" d="M581.3 665.3L583.1 666.6L579.6 663.7L577.9 662.1Z"/>
<path class="c445" d="M579.6 664.6L581.3 665.3L577.9 662.1L576.2 661.3Z"/>
<path class="c434" d="M577.8 664.7L579.6 664.6L576.2 661.3L574.4 661.2Z"/>
<path class="c294" d="M563.8 639.8L577.8 664.7L574.4 661.2L560.4 634.5Z"/>
<path class="c260" d="M549.7 624.7L563.8 639.8L560.4 634.5L546.3 618.8Z"/>
<path class="c196" d="M535.5 612.1L549.7 624.7L546.3 618.8L532.2 605.9Z"/>
<path class="c48" d="M523.1 637.4L535.5 612.1L532.2 605.9L519.8 631.5Z"/>
<path class="c228" d="M514.2 660.6L523.1 637.4L519.8 631.5L511.0 655.2Z"/>
<path class="c446" d="M505.4 684.9L514.2 660.6L511.0 655.2L502.2 680.3Z"/>
<path class="c461" d="M491.2 688.3L505.4 684.9L502.2 680.3L488.1 684.5Z"/>
<path class="c458" d="M476.9 684.9L491.2 688.3L488.1 684.5L473.9 681.1Z"/>
<path class="c459" d="M460.8 680.6L476.9 684.9L473.9 681.1L457.9 676.9Z"/>
<path class="c444" d="M444.7 677.1L460.8 680.6L457.9 676.9L441.8 673.4Z"/>
<path class="c450" d="M430.4 675.7L444.7 677.1L441.8 673.4L427.5 672.0Z"/>
<path class="c445" d="M414.2 676.7L430.4 675.7L427.5 672.0L411.4 672.9Z"/>
<path class="c450" d="M396.2 681.3L414.2 676.7L411.4 672.9L393.5 677.4Z"/>
<path class="c444" d="M380.0 687.5L396.2 681.3L393.5 677.4L377.3 683.5Z"/>
<path class="c467" d="M360.2 699.0L380.0 687.5L377.3 683.5L357.6 695.4Z"/>
<path class="c478" d="M351.2 702.3L360.2 699.0L357.6 695.4L348.7 698.7Z"/>
<path class="c472" d="M340.3 698.1L351.2 702.3L348.7 698.7L337.7 693.9Z"/>
<path class="c472" d="M329.4 703.1L340.3 698.1L337.7 693.9L326.9 699.4Z"/>
<path class="c445" d="M312.6 677.9L329.4 703.1L326.9 699.4L310.2 673.2Z"/>
<path class="c50" d="M295.6 647.8L312.6 677.9L310.2 673.2L293.2 642.0Z"/>
<path class="c49" d="M283.1 666.7L295.6 647.8L293.2 642.0L280.8 661.6Z"/>
<path class="c415" d="M271.2 714.7L283.1 666.7L280.8 661.6L268.9 711.1Z"/>
<path class="c466" d="M254.2 694.8L271.2 714.7L268.9 711.1L252.0 690.0Z"/>
<path class="c440" d="M243.2 698.6L254.2 694.8L252.0 690.0L241.1 693.8Z"/>
<path class="c451" d="M227.0 712.8L243.2 698.6L241.1 693.8L224.9 708.9Z"/>
<path class="c458" d="M211.9 702.7L227.0 712.8L224.9 708.9L209.9 697.9Z"/>
<path class="c399" d="M880.7 621.5L892.2 570.8L887.7 563.7L876.3 616.8Z"/>
<path class="c164" d="M872.0 634.2L880.7 621.5L876.3 616.8L867.5 629.9Z"/>
<path class="c381" d="M861.8 633.2L872.0 634.2L867.5 629.9L857.4 628.8Z"/>
<path class="c232" d="M853.5 627.2L861.8 633.2L857.4 628.8L849.1 622.5Z"/>
<path class="c118" d="M845.1 621.3L853.5 627.2L849.1 622.5L840.8 616.4Z"/>
<path class="c62" d="M836.8 613.6L845.1 621.3L840.8 616.4L832.5 608.5Z"/>
<path class="c155" d="M827.8 635.9L836.8 613.6L832.5 608.5L823.5 633.2Z"/>
<path class="c408" d="M822.3 652.2L827.8 635.9L823.5 633.2L818.0 651.5Z"/>
<path class="c439" d="M817.2 653.7L822.3 652.2L818.0 651.5L812.9 653.0Z"/>
<path class="c453" d="M812.1 655.2L817.2 653.7L812.9 653.0L807.7 654.5Z"/>
<path class="c444" d="M806.9 656.8L812.1 655.2L807.7 654.5L802.6 656.0Z"/>
<path class="c448" d="M800.0 661.0L806.9 656.8L802.6 656.0L795.7 660.3Z"/>
<path class="c491" d="M794.8 665.1L800.0 661.0L795.7 660.3L790.6 664.4Z"/>
<path class="c451" d="M789.6 666.9L794.8 665.1L790.6 664.4L785.4 666.1Z"/>
<path class="c458" d="M782.8 667.3L789.6 666.9L785.4 666.1L778.6 666.5Z"/>
<path class="c448" d="M772.7 658.1L782.8 667.3L778.6 666.5L768.5 655.9Z"/>
<path class="c444" d="M765.8 661.1L772.7 658.1L768.5 655.9L761.7 658.8Z"/>
<path class="c448" d="M758.9 661.1L765.8 661.1L761.7 658.8L754.8 658.7Z"/>
<path class="c453" d="M750.3 658.7L758.9 661.1L754.8 658.7L746.3 656.3Z"/>
<path class="c404" d="M743.7 639.7L750.3 658.7L746.3 656.3L739.7 635.9Z"/>
<path class="c49" d="M737.1 619.6L743.7 639.7L739.7 635.9L733.1 614.4Z"/>
<path class="c61" d="M730.6 588.5L737.1 619.6L733.1 614.4L726.7 581.4Z"/>
<path class="c59" d="M724.1 556.6L730.6 588.5L726.7 581.4L720.2 547.5Z"/>
<path class="c341" d="M717.4 541.4L724.1 556.6L720.2 547.5L713.5 531.7Z"/>
<path class="c255" d="M710.6 525.7L717.4 541.4L713.5 531.7L706.7 515.6Z"/>
<path class="c331" d="M703.9 502.5L710.6 525.7L706.7 515.6L700.0 491.7Z"/>
<path class="c3" d="M697.1 482.3L703.9 502.5L700.0 491.7L693.3 471.0Z"/>
<path class="c302" d="M691.9 473.6L697.1 482.3L693.3 471.0L688.1 462.4Z"/>
<path class="c247" d="M689.3 548.3L691.9 473.6L688.1 462.4L685.5 540.8Z"/>
<path class="c114" d="M686.8 622.4L689.3 548.3L685.5 540.8L682.9 618.4Z"/>
<path class="c294" d="M684.2 695.6L686.8 622.4L682.9 618.4L680.4 695.1Z"/>
<path class="c484" d="M675.8 676.3L684.2 695.6L680.4 695.1L672.0 674.3Z"/>
<path class="c448" d="M665.4 665.3L675.8 676.3L672.0 674.3L661.7 663.4Z"/>
<path class="c426" d="M653.3 658.6L665.4 665.3L661.7 663.4L649.6 656.7Z"/>
<path class="c441" d="M641.0 663.6L653.3 658.6L649.6 656.7L637.3 661.7Z"/>
<path class="c434" d="M630.5 666.6L641.0 663.6L637.3 661.7L626.9 664.8Z"/>
<path class="c439" d="M621.7 669.9L630.5 666.6L626.9 664.8L618.1 668.3Z"/>
<path class="c444" d="M611.2 671.2L621.7 669.9L618.1 668.3L607.6 669.5Z"/>
<path class="c439" d="M602.4 667.6L611.2 671.2L607.6 669.5L598.9 666.0Z"/>
<path class="c434" d="M595.4 665.7L602.4 667.6L598.9 666.0L591.9 664.1Z"/>
<path class="c449" d="M593.6 666.2L595.4 665.7L591.9 664.1L590.1 664.5Z"/>
<path class="c449" d="M591.8 666.7L593.6 666.2L590.1 664.5L588.4 665.0Z"/>
<path class="c434" d="M590.1 668.5L591.8 666.7L588.4 665.0L586.6 666.7Z"/>
<path class="c450" d="M588.3 670.4L590.1 668.5L586.6 666.7L584.8 668.5Z"/>
<path class="c450" d="M586.5 668.8L588.3 670.4L584.8 668.5L583.1 666.6Z"/>
<path class="c434" d="M584.8 667.9L586.5 668.8L583.1 666.6L581.3 665.3Z"/>
<path class="c434" d="M583.0 667.5L584.8 667.9L581.3 665.3L579.6 664.6Z"/>
<path class="c434" d="M581.2 667.8L583.0 667.5L579.6 664.6L577.8 664.7Z"/>
<path class="c319" d="M567.2 645.0L581.2 667.8L577.8 664.7L563.8 639.8Z"/>
<path class="c345" d="M553.0 630.6L567.2 645.0L563.8 639.8L549.7 624.7Z"/>
<path class="c110" d="M538.8 618.4L553.0 630.6L549.7 624.7L535.5 612.1Z"/>
<path class="c106" d="M526.3 643.3L538.8 618.4L535.5 612.1L523.1 637.4Z"/>
<path class="c119" d="M517.4 666.0L526.3 643.3L523.1 637.4L514.2 660.6Z"/>
<path class="c426" d="M508.6 689.3L517.4 666.0L514.2 660.6L505.4 684.9Z"/>
<path class="c461" d="M494.3 692.0L508.6 689.3L505.4 684.9L491.2 688.3Z"/>
<path class="c458" d="M480.0 688.5L494.3 692.0L491.2 688.3L476.9 684.9Z"/>
<path class="c452" d="M463.8 684.2L480.0 688.5L476.9 684.9L460.8 680.6Z"/>
<path class="c453" d="M447.7 680.7L463.8 684.2L460.8 680.6L444.7 677.1Z"/>
<path class="c445" d="M433.2 679.4L447.7 680.7L444.7 677.1L430.4 675.7Z"/>
<path class="c434" d="M417.0 680.4L433.2 679.4L430.4 675.7L414.2 676.7Z"/>
<path class="c450" d="M399.0 685.1L417.0 680.4L414.2 676.7L396.2 681.3Z"/>
<path class="c444" d="M382.7 691.3L399.0 685.1L396.2 681.3L380.0 687.5Z"/>
<path class="c447" d="M362.9 702.4L382.7 691.3L380.0 687.5L360.2 699.0Z"/>
<path class="c478" d="M353.8 705.7L362.9 702.4L360.2 699.0L351.2 702.3Z"/>
<path class="c472" d="M342.8 702.2L353.8 705.7L351.2 702.3L340.3 698.1Z"/>
<path class="c472" d="M331.9 706.5L342.8 702.2L340.3 698.1L329.4 703.1Z"/>
<path class="c445" d="M315.1 682.6L331.9 706.5L329.4 703.1L312.6 677.9Z"/>
<path class="c118" d="M298.0 653.5L315.1 682.6L312.6 677.9L295.6 647.8Z"/>
<path class="c159" d="M285.5 671.8L298.0 653.5L295.6 647.8L283.1 666.7Z"/>
<path class="c415" d="M273.4 718.2L285.5 671.8L283.1 666.7L271.2 714.7Z"/>
<path class="c466" d="M256.5 699.7L273.4 718.2L271.2 714.7L254.2 694.8Z"/>
<path class="c452" d="M245.4 703.4L256.5 699.7L254.2 694.8L243.2 698.6Z"/>
<path class="c451" d="M229.1 716.6L245.4 703.4L243.2 698.6L227.0 712.8Z"/>
<path class="c458" d="M214.0 707.4L229.1 716.6L227.0 712.8L211.9 702.7Z"/>
<path class="c61" d="M885.2 626.3L896.7 577.9L892.2 570.8L880.7 621.5Z"/>
<path class="c201" d="M876.5 638.4L885.2 626.3L880.7 621.5L872.0 634.2Z"/>
<path class="c381" d="M866.3 637.6L876.5 638.4L872.0 634.2L861.8 633.2Z"/>
<path class="c294" d="M857.9 631.8L866.3 637.6L861.8 633.2L853.5 627.2Z"/>
<path class="c228" d="M849.5 626.1L857.9 631.8L853.5 627.2L845.1 621.3Z"/>
<path class="c51" d="M841.2 618.6L849.5 626.1L845.1 621.3L836.8 613.6Z"/>
<path class="c159" d="M832.2 638.2L841.2 618.6L836.8 613.6L827.8 635.9Z"/>
<path class="c392" d="M826.7 652.6L832.2 638.2L827.8 635.9L822.3 652.2Z"/>
<path class="c431" d="M821.6 654.1L826.7 652.6L822.3 652.2L817.2 653.7Z"/>
<path class="c434" d="M816.4 655.5L821.6 654.1L817.2 653.7L812.1 655.2Z"/>
<path class="c445" d="M811.3 657.1L816.4 655.5L812.1 655.2L806.9 656.8Z"/>
<path class="c439" d="M804.3 661.2L811.3 657.1L806.9 656.8L800.0 661.0Z"/>
<path class="c448" d="M799.1 665.4L804.3 661.2L800.0 661.0L794.8 665.1Z"/>
<path class="c459" d="M793.9 667.2L799.1 665.4L794.8 665.1L789.6 666.9Z"/>
<path class="c447" d="M787.0 667.7L793.9 667.2L789.6 666.9L782.8 667.3Z"/>
<path class="c444" d="M776.9 660.0L787.0 667.7L782.8 667.3L772.7 658.1Z"/>
<path class="c439" d="M769.9 663.1L776.9 660.0L772.7 658.1L765.8 661.1Z"/>
<path class="c453" d="M763.0 663.1L769.9 663.1L765.8 661.1L758.9 661.1Z"/>
<path class="c450" d="M754.4 660.7L763.0 663.1L758.9 661.1L750.3 658.7Z"/>
<path class="c392" d="M747.8 643.2L754.4 660.7L750.3 658.7L743.7 639.7Z"/>
<path class="c107" d="M741.1 624.7L747.8 643.2L743.7 639.7L737.1 619.6Z"/>
<path class="c162" d="M734.6 595.5L741.1 624.7L737.1 619.6L730.6 588.5Z"/>
<path class="c198" d="M728.1 565.6L734.6 595.5L730.6 588.5L724.1 556.6Z"/>
<path class="c389" d="M721.3 551.1L728.1 565.6L724.1 556.6L717.4 541.4Z"/>
<path class="c350" d="M714.5 535.7L721.3 551.1L717.4 541.4L710.6 525.7Z"/>
<path class="c494" d="M707.7 513.2L714.5 535.7L710.6 525.7L703.9 502.5Z"/>
<path class="c100" d="M700.9 493.6L707.7 513.2L703.9 502.5L697.1 482.3Z"/>
<path class="c348" d="M695.7 484.8L700.9 493.6L697.1 482.3L691.9 473.6Z"/>
<path class="c189" d="M693.2 555.9L695.7 484.8L691.9 473.6L689.3 548.3Z"/>
<path class="c291" d="M690.6 626.2L693.2 555.9L689.3 548.3L686.8 622.4Z"/>
<path class="c232" d="M688.1 695.9L690.6 626.2L686.8 622.4L684.2 695.6Z"/>
<path class="c472" d="M679.6 678.1L688.1 695.9L684.2 695.6L675.8 676.3Z"/>
<path class="c453" d="M669.2 667.0L679.6 678.1L675.8 676.3L665.4 665.3Z"/>
<path class="c427" d="M657.0 660.3L669.2 667.0L665.4 665.3L653.3 658.6Z"/>
<path class="c425" d="M644.7 665.1L657.0 660.3L653.3 658.6L641.0 663.6Z"/>
<path class="c426" d="M634.1 668.0L644.7 665.1L641.0 663.6L630.5 666.6Z"/>
<path class="c434" d="M625.3 671.2L634.1 668.0L630.5 666.6L621.7 669.9Z"/>
<path class="c439" d="M614.7 672.5L625.3 671.2L621.7 669.9L611.2 671.2Z"/>
<path class="c434" d="M605.9 668.9L614.7 672.5L611.2 671.2L602.4 667.6Z"/>
<path class="c441" d="M598.9 667.0L605.9 668.9L602.4 667.6L595.4 665.7Z"/>
<path class="c446" d="M597.1 667.6L598.9 667.0L595.4 665.7L593.6 666.2Z"/>
<path class="c446" d="M595.3 668.1L597.1 667.6L593.6 666.2L591.8 666.7Z"/>
<path class="c426" d="M593.6 670.0L595.3 668.1L591.8 666.7L590.1 668.5Z"/>
<path class="c449" d="M591.8 672.0L593.6 670.0L590.1 668.5L588.3 670.4Z"/>
<path class="c434" d="M590.0 670.8L591.8 672.0L588.3 670.4L586.5 668.8Z"/>
<path class="c431" d="M588.3 670.2L590.0 670.8L586.5 668.8L584.8 667.9Z"/>
<path class="c431" d="M586.5 670.2L588.3 670.2L584.8 667.9L583.0 667.5Z"/>
<path class="c431" d="M584.7 670.8L586.5 670.2L583.0 667.5L581.2 667.8Z"/>
<path class="c432" d="M570.6 650.1L584.7 670.8L581.2 667.8L567.2 645.0Z"/>
<path class="c117" d="M556.4 636.5L570.6 650.1L567.2 645.0L553.0 630.6Z"/>
<path class="c106" d="M542.1 624.6L556.4 636.5L553.0 630.6L538.8 618.4Z"/>
<path class="c158" d="M529.6 649.1L542.1 624.6L538.8 618.4L526.3 643.3Z"/>
<path class="c414" d="M520.6 671.3L529.6 649.1L526.3 643.3L517.4 666.0Z"/>
<path class="c431" d="M511.7 693.8L520.6 671.3L517.4 666.0L508.6 689.3Z"/>
<path class="c461" d="M497.4 695.7L511.7 693.8L508.6 689.3L494.3 692.0Z"/>
<path class="c451" d="M483.1 692.1L497.4 695.7L494.3 692.0L480.0 688.5Z"/>
<path class="c452" d="M466.9 687.7L483.1 692.1L480.0 688.5L463.8 684.2Z"/>
<path class="c453" d="M450.6 684.3L466.9 687.7L463.8 684.2L447.7 680.7Z"/>
<path class="c434" d="M436.2 683.0L450.6 684.3L447.7 680.7L433.2 679.4Z"/>
<path class="c434" d="M419.9 684.1L436.2 683.0L433.2 679.4L417.0 680.4Z"/>
<path class="c445" d="M401.7 688.8L419.9 684.1L417.0 680.4L399.0 685.1Z"/>
<path class="c444" d="M385.4 695.0L401.7 688.8L399.0 685.1L382.7 691.3Z"/>
<path class="c447" d="M365.5 705.8L385.4 695.0L382.7 691.3L362.9 702.4Z"/>
<path class="c472" d="M356.4 709.1L365.5 705.8L362.9 702.4L353.8 705.7Z"/>
<path class="c472" d="M345.4 706.4L356.4 709.1L353.8 705.7L342.8 702.2Z"/>
<path class="c465" d="M334.4 709.9L345.4 706.4L342.8 702.2L331.9 706.5Z"/>
<path class="c450" d="M317.6 687.3L334.4 709.9L331.9 706.5L315.1 682.6Z"/>
<path class="c228" d="M300.5 659.3L317.6 687.3L315.1 682.6L298.0 653.5Z"/>
<path class="c50" d="M287.8 676.9L300.5 659.3L298.0 653.5L285.5 671.8Z"/>
<path class="c425" d="M275.7 721.6L287.8 676.9L285.5 671.8L273.4 718.2Z"/>
<path class="c451" d="M258.7 704.5L275.7 721.6L273.4 718.2L256.5 699.7Z"/>
<path class="c452" d="M247.7 708.2L258.7 704.5L256.5 699.7L245.4 703.4Z"/>
<path class="c451" d="M231.2 720.4L247.7 708.2L245.4 703.4L229.1 716.6Z"/>
<path class="c458" d="M216.1 712.2L231.2 720.4L229.1 716.6L214.0 707.4Z"/>
<path class="c58" d="M889.8 631.2L901.2 585.0L896.7 577.9L885.2 626.3Z"/>
<path class="c232" d="M881.0 642.8L889.8 631.2L885.2 626.3L876.5 638.4Z"/>
<path class="c407" d="M870.8 642.1L881.0 642.8L876.5 638.4L866.3 637.6Z"/>
<path class="c319" d="M862.4 636.6L870.8 642.1L866.3 637.6L857.9 631.8Z"/>
<path class="c200" d="M853.9 631.1L862.4 636.6L857.9 631.8L849.5 626.1Z"/>
<path class="c49" d="M845.5 623.7L853.9 631.1L849.5 626.1L841.2 618.6Z"/>
<path class="c159" d="M836.6 640.8L845.5 623.7L841.2 618.6L832.2 638.2Z"/>
<path class="c407" d="M831.2 653.3L836.6 640.8L832.2 638.2L826.7 652.6Z"/>
<path class="c427" d="M826.0 654.7L831.2 653.3L826.7 652.6L821.6 654.1Z"/>
<path class="c446" d="M820.8 656.2L826.0 654.7L821.6 654.1L816.4 655.5Z"/>
<path class="c426" d="M815.6 657.7L820.8 656.2L816.4 655.5L811.3 657.1Z"/>
<path class="c449" d="M808.7 661.8L815.6 657.7L811.3 657.1L804.3 661.2Z"/>
<path class="c433" d="M803.4 666.0L808.7 661.8L804.3 661.2L799.1 665.4Z"/>
<path class="c448" d="M798.2 667.9L803.4 666.0L799.1 665.4L793.9 667.2Z"/>
<path class="c440" d="M791.3 668.4L798.2 667.9L793.9 667.2L787.0 667.7Z"/>
<path class="c439" d="M781.1 662.2L791.3 668.4L787.0 667.7L776.9 660.0Z"/>
<path class="c445" d="M774.1 665.4L781.1 662.2L776.9 660.0L769.9 663.1Z"/>
<path class="c439" d="M767.2 665.4L774.1 665.4L769.9 663.1L763.0 663.1Z"/>
<path class="c434" d="M758.6 663.1L767.2 665.4L763.0 663.1L754.4 660.7Z"/>
<path class="c392" d="M751.9 646.9L758.6 663.1L754.4 660.7L747.8 643.2Z"/>
<path class="c159" d="M745.2 630.0L751.9 646.9L747.8 643.2L741.1 624.7Z"/>
<path class="c113" d="M738.6 602.6L745.2 630.0L741.1 624.7L734.6 595.5Z"/>
<path class="c364" d="M732.0 574.8L738.6 602.6L734.6 595.5L728.1 565.6Z"/>
<path class="c358" d="M725.2 560.9L732.0 574.8L728.1 565.6L721.3 551.1Z"/>
<path class="c495" d="M718.4 545.9L725.2 560.9L721.3 551.1L714.5 535.7Z"/>
<path class="c265" d="M711.6 524.1L718.4 545.9L714.5 535.7L707.7 513.2Z"/>
<path class="c273" d="M704.8 505.1L711.6 524.1L707.7 513.2L700.9 493.6Z"/>
<path class="c313" d="M699.6 496.2L704.8 505.1L700.9 493.6L695.7 484.8Z"/>
<path class="c167" d="M697.0 563.6L699.6 496.2L695.7 484.8L693.2 555.9Z"/>
<path class="c231" d="M694.5 630.4L697.0 563.6L693.2 555.9L690.6 626.2Z"/>
<path class="c232" d="M692.0 696.5L694.5 630.4L690.6 626.2L688.1 695.9Z"/>
<path class="c461" d="M683.4 680.1L692.0 696.5L688.1 695.9L679.6 678.1Z"/>
<path class="c439" d="M673.0 669.0L683.4 680.1L679.6 678.1L669.2 667.0Z"/>
<path class="c415" d="M660.8 662.2L673.0 669.0L669.2 667.0L657.0 660.3Z"/>
<path class="c428" d="M648.4 666.9L660.8 662.2L657.0 660.3L644.7 665.1Z"/>
<path class="c427" d="M637.8 669.7L648.4 666.9L644.7 665.1L634.1 668.0Z"/>
<path class="c426" d="M629.0 672.8L637.8 669.7L634.1 668.0L625.3 671.2Z"/>
<path class="c434" d="M618.4 674.1L629.0 672.8L625.3 671.2L614.7 672.5Z"/>
<path class="c426" d="M609.5 670.5L618.4 674.1L614.7 672.5L605.9 668.9Z"/>
<path class="c425" d="M602.4 668.6L609.5 670.5L605.9 668.9L598.9 667.0Z"/>
<path class="c425" d="M600.7 669.2L602.4 668.6L598.9 667.0L597.1 667.6Z"/>
<path class="c425" d="M598.9 669.8L600.7 669.2L597.1 667.6L595.3 668.1Z"/>
<path class="c427" d="M597.1 671.8L598.9 669.8L595.3 668.1L593.6 670.0Z"/>
<path class="c441" d="M595.3 673.8L597.1 671.8L593.6 670.0L591.8 672.0Z"/>
<path class="c426" d="M593.5 673.1L595.3 673.8L591.8 672.0L590.0 670.8Z"/>
<path class="c426" d="M591.8 672.9L593.5 673.1L590.0 670.8L588.3 670.2Z"/>
<path class="c441" d="M590.0 673.2L591.8 672.9L588.3 670.2L586.5 670.2Z"/>
<path class="c426" d="M588.2 674.0L590.0 673.2L586.5 670.2L584.7 670.8Z"/>
<path class="c347" d="M574.0 655.3L588.2 674.0L584.7 670.8L570.6 650.1Z"/>
<path class="c49" d="M559.8 642.5L574.0 655.3L570.6 650.1L556.4 636.5Z"/>
<path class="c56" d="M545.4 631.0L559.8 642.5L556.4 636.5L542.1 624.6Z"/>
<path class="c379" d="M532.9 655.1L545.4 631.0L542.1 624.6L529.6 649.1Z"/>
<path class="c232" d="M523.9 676.8L532.9 655.1L529.6 649.1L520.6 671.3Z"/>
<path class="c434" d="M515.0 698.3L523.9 676.8L520.6 671.3L511.7 693.8Z"/>
<path class="c465" d="M500.6 699.5L515.0 698.3L511.7 693.8L497.4 695.7Z"/>
<path class="c451" d="M486.2 695.9L500.6 699.5L497.4 695.7L483.1 692.1Z"/>
<path class="c490" d="M469.9 691.4L486.2 695.9L483.1 692.1L466.9 687.7Z"/>
<path class="c439" d="M453.6 688.0L469.9 691.4L466.9 687.7L450.6 684.3Z"/>
<path class="c434" d="M439.1 686.7L453.6 688.0L450.6 684.3L436.2 683.0Z"/>
<path class="c434" d="M422.7 687.9L439.1 686.7L436.2 683.0L419.9 684.1Z"/>
<path class="c434" d="M404.5 692.7L422.7 687.9L419.9 684.1L401.7 688.8Z"/>
<path class="c453" d="M388.2 698.9L404.5 692.7L401.7 688.8L385.4 695.0Z"/>
<path class="c491" d="M368.1 709.3L388.2 698.9L385.4 695.0L365.5 705.8Z"/>
<path class="c472" d="M359.0 712.6L368.1 709.3L365.5 705.8L356.4 709.1Z"/>
<path class="c465" d="M348.0 710.6L359.0 712.6L356.4 709.1L345.4 706.4Z"/>
<path class="c465" d="M337.0 713.5L348.0 710.6L345.4 706.4L334.4 709.9Z"/>
<path class="c450" d="M320.0 692.0L337.0 713.5L334.4 709.9L317.6 687.3Z"/>
<path class="c64" d="M302.9 665.2L320.0 692.0L317.6 687.3L300.5 659.3Z"/>
<path class="c63" d="M290.2 682.1L302.9 665.2L300.5 659.3L287.8 676.9Z"/>
<path class="c425" d="M278.0 725.2L290.2 682.1L287.8 676.9L275.7 721.6Z"/>
<path class="c451" d="M261.0 709.5L278.0 725.2L275.7 721.6L258.7 704.5Z"/>
<path class="c459" d="M249.9 713.1L261.0 709.5L258.7 704.5L247.7 708.2Z"/>
<path class="c458" d="M233.3 724.3L249.9 713.1L247.7 708.2L231.2 720.4Z"/>
<path class="c480" d="M218.2 717.1L233.3 724.3L231.2 720.4L216.1 712.2Z"/>
<path class="c160" d="M894.4 636.3L905.8 592.2L901.2 585.0L889.8 631.2Z"/>
<path class="c232" d="M885.5 647.4L894.4 636.3L889.8 631.2L881.0 642.8Z"/>
<path class="c392" d="M875.3 646.9L885.5 647.4L881.0 642.8L870.8 642.1Z"/>
<path class="c319" d="M866.8 641.8L875.3 646.9L870.8 642.1L862.4 636.6Z"/>
<path class="c119" d="M858.4 636.5L866.8 641.8L862.4 636.6L853.9 631.1Z"/>
<path class="c155" d="M850.0 629.5L858.4 636.5L853.9 631.1L845.5 623.7Z"/>
<path class="c57" d="M841.0 644.3L850.0 629.5L845.5 623.7L836.6 640.8Z"/>
<path class="c381" d="M835.6 655.1L841.0 644.3L836.6 640.8L831.2 653.3Z"/>
<path class="c415" d="M830.4 656.5L835.6 655.1L831.2 653.3L826.0 654.7Z"/>
<path class="c425" d="M825.2 658.0L830.4 656.5L826.0 654.7L820.8 656.2Z"/>
<path class="c427" d="M820.0 659.4L825.2 658.0L820.8 656.2L815.6 657.7Z"/>
<path class="c441" d="M813.0 663.6L820.0 659.4L815.6 657.7L808.7 661.8Z"/>
<path class="c434" d="M807.8 667.8L813.0 663.6L808.7 661.8L803.4 666.0Z"/>
<path class="c453" d="M802.5 669.7L807.8 667.8L803.4 666.0L798.2 667.9Z"/>
<path class="c444" d="M795.6 670.2L802.5 669.7L798.2 667.9L791.3 668.4Z"/>
<path class="c434" d="M785.3 665.3L795.6 670.2L791.3 668.4L781.1 662.2Z"/>
<path class="c434" d="M778.3 668.5L785.3 665.3L781.1 662.2L774.1 665.4Z"/>
<path class="c450" d="M771.4 668.5L778.3 668.5L774.1 665.4L767.2 665.4Z"/>
<path class="c431" d="M762.7 666.2L771.4 668.5L767.2 665.4L758.6 663.1Z"/>
<path class="c468" d="M756.0 651.4L762.7 666.2L758.6 663.1L751.9 646.9Z"/>
<path class="c57" d="M749.3 635.8L756.0 651.4L751.9 646.9L745.2 630.0Z"/>
<path class="c111" d="M742.6 610.2L749.3 635.8L745.2 630.0L738.6 602.6Z"/>
<path class="c346" d="M736.0 584.2L742.6 610.2L738.6 602.6L732.0 574.8Z"/>
<path class="c60" d="M729.2 570.9L736.0 584.2L732.0 574.8L725.2 560.9Z"/>
<path class="c46" d="M722.3 556.2L729.2 570.9L725.2 560.9L718.4 545.9Z"/>
<path class="c334" d="M715.5 535.1L722.3 556.2L718.4 545.9L711.6 524.1Z"/>
<path class="c263" d="M708.7 516.6L715.5 535.1L711.6 524.1L704.8 505.1Z"/>
<path class="c189" d="M703.4 507.6L708.7 516.6L704.8 505.1L699.6 496.2Z"/>
<path class="c280" d="M700.9 571.7L703.4 507.6L699.6 496.2L697.0 563.6Z"/>
<path class="c293" d="M698.4 635.1L700.9 571.7L697.0 563.6L694.5 630.4Z"/>
<path class="c201" d="M695.9 698.1L698.4 635.1L694.5 630.4L692.0 696.5Z"/>
<path class="c451" d="M687.3 682.9L695.9 698.1L692.0 696.5L683.4 680.1Z"/>
<path class="c434" d="M676.9 671.7L687.3 682.9L683.4 680.1L673.0 669.0Z"/>
<path class="c418" d="M664.6 664.8L676.9 671.7L673.0 669.0L660.8 662.2Z"/>
<path class="c416" d="M652.2 669.6L664.6 664.8L660.8 662.2L648.4 666.9Z"/>
<path class="c425" d="M641.5 672.3L652.2 669.6L648.4 666.9L637.8 669.7Z"/>
<path class="c446" d="M632.6 675.4L641.5 672.3L637.8 669.7L629.0 672.8Z"/>
<path class="c426" d="M622.0 676.6L632.6 675.4L629.0 672.8L618.4 674.1Z"/>
<path class="c427" d="M613.1 673.1L622.0 676.6L618.4 674.1L609.5 670.5Z"/>
<path class="c415" d="M606.0 671.2L613.1 673.1L609.5 670.5L602.4 668.6Z"/>
<path class="c418" d="M604.2 671.8L606.0 671.2L602.4 668.6L600.7 669.2Z"/>
<path class="c415" d="M602.4 672.4L604.2 671.8L600.7 669.2L598.9 669.8Z"/>
<path class="c415" d="M600.7 674.5L602.4 672.4L598.9 669.8L597.1 671.8Z"/>
<path class="c427" d="M598.9 676.6L600.7 674.5L597.1 671.8L595.3 673.8Z"/>
<path class="c446" d="M597.1 676.2L598.9 676.6L595.3 673.8L593.5 673.1Z"/>
<path class="c446" d="M595.3 676.2L597.1 676.2L593.5 673.1L591.8 672.9Z"/>
<path class="c446" d="M593.5 676.8L595.3 676.2L591.8 672.9L590.0 673.2Z"/>
<path class="c446" d="M591.7 677.8L593.5 676.8L590.0 673.2L588.2 674.0Z"/>
<path class="c362" d="M577.5 660.9L591.7 677.8L588.2 674.0L574.0 655.3Z"/>
<path class="c159" d="M563.2 648.7L577.5 660.9L574.0 655.3L559.8 642.5Z"/>
<path class="c227" d="M548.8 637.5L563.2 648.7L559.8 642.5L545.4 631.0Z"/>
<path class="c157" d="M536.2 661.2L548.8 637.5L545.4 631.0L532.9 655.1Z"/>
<path class="c319" d="M527.2 682.4L536.2 661.2L532.9 655.1L523.9 676.8Z"/>
<path class="c445" d="M518.2 703.1L527.2 682.4L523.9 676.8L515.0 698.3Z"/>
<path class="c465" d="M503.8 703.7L518.2 703.1L515.0 698.3L500.6 699.5Z"/>
<path class="c451" d="M489.3 699.9L503.8 703.7L500.6 699.5L486.2 695.9Z"/>
<path class="c440" d="M473.0 695.4L489.3 699.9L486.2 695.9L469.9 691.4Z"/>
<path class="c439" d="M456.6 692.0L473.0 695.4L469.9 691.4L453.6 688.0Z"/>
<path class="c434" d="M442.0 690.7L456.6 692.0L453.6 688.0L439.1 686.7Z"/>
<path class="c449" d="M425.6 692.1L442.0 690.7L439.1 686.7L422.7 687.9Z"/>
<path class="c434" d="M407.4 696.9L425.6 692.1L422.7 687.9L404.5 692.7Z"/>
<path class="c453" d="M390.9 703.2L407.4 696.9L404.5 692.7L388.2 698.9Z"/>
<path class="c491" d="M370.8 713.2L390.9 703.2L388.2 698.9L368.1 709.3Z"/>
<path class="c465" d="M361.7 716.5L370.8 713.2L368.1 709.3L359.0 712.6Z"/>
<path class="c465" d="M350.6 715.1L361.7 716.5L359.0 712.6L348.0 710.6Z"/>
<path class="c465" d="M339.5 717.4L350.6 715.1L348.0 710.6L337.0 713.5Z"/>
<path class="c450" d="M322.6 697.0L339.5 717.4L337.0 713.5L320.0 692.0Z"/>
<path class="c164" d="M305.4 671.1L322.6 697.0L320.0 692.0L302.9 665.2Z"/>
<path class="c228" d="M292.7 687.5L305.4 671.1L302.9 665.2L290.2 682.1Z"/>
<path class="c427" d="M280.4 729.1L292.7 687.5L290.2 682.1L278.0 725.2Z"/>
<path class="c451" d="M263.3 714.5L280.4 729.1L278.0 725.2L261.0 709.5Z"/>
<path class="c491" d="M252.1 718.2L263.3 714.5L261.0 709.5L249.9 713.1Z"/>
<path class="c458" d="M235.5 728.5L252.1 718.2L249.9 713.1L233.3 724.3Z"/>
<path class="c461" d="M220.3 722.1L235.5 728.5L233.3 724.3L218.2 717.1Z"/>
<path class="c111" d="M899.0 641.8L910.4 599.5L905.8 592.2L894.4 636.3Z"/>
<path class="c294" d="M890.1 652.5L899.0 641.8L894.4 636.3L885.5 647.4Z"/>
<path class="c392" d="M879.8 652.3L890.1 652.5L885.5 647.4L875.3 646.9Z"/>
<path class="c347" d="M871.3 647.5L879.8 652.3L875.3 646.9L866.8 641.8Z"/>
<path class="c414" d="M862.8 642.7L871.3 647.5L866.8 641.8L858.4 636.5Z"/>
<path class="c112" d="M854.4 636.1L862.8 642.7L858.4 636.5L850.0 629.5Z"/>
<path class="c63" d="M845.4 649.2L854.4 636.1L850.0 629.5L841.0 644.3Z"/>
<path class="c381" d="M840.1 658.7L845.4 649.2L841.0 644.3L835.6 655.1Z"/>
<path class="c418" d="M834.8 660.1L840.1 658.7L835.6 655.1L830.4 656.5Z"/>
<path class="c415" d="M829.6 661.6L834.8 660.1L830.4 656.5L825.2 658.0Z"/>
<path class="c425" d="M824.4 663.0L829.6 661.6L825.2 658.0L820.0 659.4Z"/>
<path class="c446" d="M817.4 667.2L824.4 663.0L820.0 659.4L813.0 663.6Z"/>
<path class="c434" d="M812.1 671.4L817.4 667.2L813.0 663.6L807.8 667.8Z"/>
<path class="c439" d="M806.9 673.3L812.1 671.4L807.8 667.8L802.5 669.7Z"/>
<path class="c453" d="M799.9 673.9L806.9 673.3L802.5 669.7L795.6 670.2Z"/>
<path class="c434" d="M789.6 669.9L799.9 673.9L795.6 670.2L785.3 665.3Z"/>
<path class="c434" d="M782.5 673.0L789.6 669.9L785.3 665.3L778.3 668.5Z"/>
<path class="c450" d="M775.6 672.9L782.5 673.0L778.3 668.5L771.4 668.5Z"/>
<path class="c431" d="M766.9 670.5L775.6 672.9L771.4 668.5L762.7 666.2Z"/>
<path class="c392" d="M760.1 656.8L766.9 670.5L762.7 666.2L756.0 651.4Z"/>
<path class="c63" d="M753.3 642.4L760.1 656.8L756.0 651.4L749.3 635.8Z"/>
<path class="c53" d="M746.7 618.5L753.3 642.4L749.3 635.8L742.6 610.2Z"/>
<path class="c390" d="M740.0 594.1L746.7 618.5L742.6 610.2L736.0 584.2Z"/>
<path class="c161" d="M733.1 581.3L740.0 594.1L736.0 584.2L729.2 570.9Z"/>
<path class="c420" d="M726.3 566.8L733.1 581.3L729.2 570.9L722.3 556.2Z"/>
<path class="c350" d="M719.5 546.3L726.3 566.8L722.3 556.2L715.5 535.1Z"/>
<path class="c286" d="M712.6 528.2L719.5 546.3L715.5 535.1L708.7 516.6Z"/>
<path class="c233" d="M707.3 519.1L712.6 528.2L708.7 516.6L703.4 507.6Z"/>
<path class="c45" d="M704.8 580.2L707.3 519.1L703.4 507.6L700.9 571.7Z"/>
<path class="c359" d="M702.3 640.9L704.8 580.2L700.9 571.7L698.4 635.1Z"/>
<path class="c232" d="M699.8 701.0L702.3 640.9L698.4 635.1L695.9 698.1Z"/>
<path class="c451" d="M691.2 687.0L699.8 701.0L695.9 698.1L687.3 682.9Z"/>
<path class="c434" d="M680.7 675.7L691.2 687.0L687.3 682.9L676.9 671.7Z"/>
<path class="c418" d="M668.4 668.9L680.7 675.7L676.9 671.7L664.6 664.8Z"/>
<path class="c416" d="M655.9 673.7L668.4 668.9L664.6 664.8L652.2 669.6Z"/>
<path class="c425" d="M645.3 676.5L655.9 673.7L652.2 669.6L641.5 672.3Z"/>
<path class="c446" d="M636.3 679.6L645.3 676.5L641.5 672.3L632.6 675.4Z"/>
<path class="c426" d="M625.6 680.9L636.3 679.6L632.6 675.4L622.0 676.6Z"/>
<path class="c427" d="M616.7 677.3L625.6 680.9L622.0 676.6L613.1 673.1Z"/>
<path class="c418" d="M609.6 675.4L616.7 677.3L613.1 673.1L606.0 671.2Z"/>
<path class="c418" d="M607.8 676.0L609.6 675.4L606.0 671.2L604.2 671.8Z"/>
<path class="c418" d="M606.0 676.6L607.8 676.0L604.2 671.8L602.4 672.4Z"/>
<path class="c415" d="M604.2 678.6L606.0 676.6L602.4 672.4L600.7 674.5Z"/>
<path class="c427" d="M602.4 680.7L604.2 678.6L600.7 674.5L598.9 676.6Z"/>
<path class="c446" d="M600.6 680.5L602.4 680.7L598.9 676.6L597.1 676.2Z"/>
<path class="c446" d="M598.9 680.7L600.6 680.5L597.1 676.2L595.3 676.2Z"/>
<path class="c446" d="M597.1 681.4L598.9 680.7L595.3 676.2L593.5 676.8Z"/>
<path class="c446" d="M595.3 682.5L597.1 681.4L593.5 676.8L591.7 677.8Z"/>
<path class="c381" d="M581.0 667.0L595.3 682.5L591.7 677.8L577.5 660.9Z"/>
<path class="c50" d="M566.6 655.1L581.0 667.0L577.5 660.9L563.2 648.7Z"/>
<path class="c109" d="M552.2 644.1L566.6 655.1L563.2 648.7L548.8 637.5Z"/>
<path class="c260" d="M539.5 667.5L552.2 644.1L548.8 637.5L536.2 661.2Z"/>
<path class="c347" d="M530.5 688.2L539.5 667.5L536.2 661.2L527.2 682.4Z"/>
<path class="c439" d="M521.5 708.3L530.5 688.2L527.2 682.4L518.2 703.1Z"/>
<path class="c465" d="M507.0 708.2L521.5 708.3L518.2 703.1L503.8 703.7Z"/>
<path class="c451" d="M492.5 704.3L507.0 708.2L503.8 703.7L489.3 699.9Z"/>
<path class="c440" d="M476.1 699.8L492.5 704.3L489.3 699.9L473.0 695.4Z"/>
<path class="c439" d="M459.7 696.4L476.1 699.8L473.0 695.4L456.6 692.0Z"/>
<path class="c434" d="M445.0 695.2L459.7 696.4L456.6 692.0L442.0 690.7Z"/>
<path class="c449" d="M428.6 696.6L445.0 695.2L442.0 690.7L425.6 692.1Z"/>
<path class="c434" d="M410.2 701.5L428.6 696.6L425.6 692.1L407.4 696.9Z"/>
<path class="c453" d="M393.7 707.8L410.2 701.5L407.4 696.9L390.9 703.2Z"/>
<path class="c491" d="M373.5 717.6L393.7 707.8L390.9 703.2L370.8 713.2Z"/>
<path class="c465" d="M364.3 720.8L373.5 717.6L370.8 713.2L361.7 716.5Z"/>
<path class="c465" d="M353.2 720.0L364.3 720.8L361.7 716.5L350.6 715.1Z"/>
<path class="c465" d="M342.1 721.9L353.2 720.0L350.6 715.1L339.5 717.4Z"/>
<path class="c439" d="M325.1 702.3L342.1 721.9L339.5 717.4L322.6 697.0Z"/>
<path class="c201" d="M307.9 677.2L325.1 702.3L322.6 697.0L305.4 671.1Z"/>
<path class="c64" d="M295.1 693.1L307.9 677.2L305.4 671.1L292.7 687.5Z"/>
<path class="c427" d="M282.7 733.5L295.1 693.1L292.7 687.5L280.4 729.1Z"/>
<path class="c451" d="M265.6 719.8L282.7 733.5L280.4 729.1L263.3 714.5Z"/>
<path class="c447" d="M254.4 723.4L265.6 719.8L263.3 714.5L252.1 718.2Z"/>
<path class="c458" d="M237.7 733.2L254.4 723.4L252.1 718.2L235.5 728.5Z"/>
<path class="c461" d="M222.5 727.2L237.7 733.2L235.5 728.5L220.3 722.1Z"/>
<path class="c110" d="M903.6 647.7L915.0 606.8L910.4 599.5L899.0 641.8Z"/>
<path class="c347" d="M894.7 658.1L903.6 647.7L899.0 641.8L890.1 652.5Z"/>
<path class="c408" d="M884.4 658.2L894.7 658.1L890.1 652.5L879.8 652.3Z"/>
<path class="c381" d="M875.9 654.1L884.4 658.2L879.8 652.3L871.3 647.5Z"/>
<path class="c294" d="M867.3 649.8L875.9 654.1L871.3 647.5L862.8 642.7Z"/>
<path class="c228" d="M858.8 643.8L867.3 649.8L862.8 642.7L854.4 636.1Z"/>
<path class="c200" d="M849.9 655.8L858.8 643.8L854.4 636.1L845.4 649.2Z"/>
<path class="c407" d="M844.5 664.4L849.9 655.8L845.4 649.2L840.1 658.7Z"/>
<path class="c415" d="M839.2 665.9L844.5 664.4L840.1 658.7L834.8 660.1Z"/>
<path class="c415" d="M834.0 667.3L839.2 665.9L834.8 660.1L829.6 661.6Z"/>
<path class="c425" d="M828.8 668.8L834.0 667.3L829.6 661.6L824.4 663.0Z"/>
<path class="c446" d="M821.7 673.0L828.8 668.8L824.4 663.0L817.4 667.2Z"/>
<path class="c434" d="M816.4 677.2L821.7 673.0L817.4 667.2L812.1 671.4Z"/>
<path class="c433" d="M811.2 679.1L816.4 677.2L812.1 671.4L806.9 673.3Z"/>
<path class="c444" d="M804.2 679.7L811.2 679.1L806.9 673.3L799.9 673.9Z"/>
<path class="c445" d="M793.8 676.2L804.2 679.7L799.9 673.9L789.6 669.9Z"/>
<path class="c434" d="M786.7 679.1L793.8 676.2L789.6 669.9L782.5 673.0Z"/>
<path class="c439" d="M779.8 678.9L786.7 679.1L782.5 673.0L775.6 672.9Z"/>
<path class="c434" d="M771.1 676.4L779.8 678.9L775.6 672.9L766.9 670.5Z"/>
<path class="c413" d="M764.3 663.6L771.1 676.4L766.9 670.5L760.1 656.8Z"/>
<path class="c200" d="M757.4 650.1L764.3 663.6L760.1 656.8L753.3 642.4Z"/>
<path class="c154" d="M750.8 627.5L757.4 650.1L753.3 642.4L746.7 618.5Z"/>
<path class="c406" d="M744.0 604.5L750.8 627.5L746.7 618.5L740.0 594.1Z"/>
<path class="c364" d="M737.1 592.1L744.0 604.5L740.0 594.1L733.1 581.3Z"/>
<path class="c295" d="M730.3 577.7L737.1 592.1L733.1 581.3L726.3 566.8Z"/>
<path class="c374" d="M723.4 557.6L730.3 577.7L726.3 566.8L719.5 546.3Z"/>
<path class="c375" d="M716.5 539.9L723.4 557.6L719.5 546.3L712.6 528.2Z"/>
<path class="c309" d="M711.3 530.7L716.5 539.9L712.6 528.2L707.3 519.1Z"/>
<path class="c224" d="M708.8 589.4L711.3 530.7L707.3 519.1L704.8 580.2Z"/>
<path class="c400" d="M706.3 647.7L708.8 589.4L704.8 580.2L702.3 640.9Z"/>
<path class="c294" d="M703.8 705.6L706.3 647.7L702.3 640.9L699.8 701.0Z"/>
<path class="c451" d="M695.1 692.4L703.8 705.6L699.8 701.0L691.2 687.0Z"/>
<path class="c434" d="M684.6 681.3L695.1 692.4L691.2 687.0L680.7 675.7Z"/>
<path class="c418" d="M672.2 674.4L684.6 681.3L680.7 675.7L668.4 668.9Z"/>
<path class="c416" d="M659.7 679.4L672.2 674.4L668.4 668.9L655.9 673.7Z"/>
<path class="c425" d="M649.0 682.4L659.7 679.4L655.9 673.7L645.3 676.5Z"/>
<path class="c446" d="M640.0 685.8L649.0 682.4L645.3 676.5L636.3 679.6Z"/>
<path class="c431" d="M629.3 687.0L640.0 685.8L636.3 679.6L625.6 680.9Z"/>
<path class="c427" d="M620.4 683.4L629.3 687.0L625.6 680.9L616.7 677.3Z"/>
<path class="c415" d="M613.2 681.5L620.4 683.4L616.7 677.3L609.6 675.4Z"/>
<path class="c428" d="M611.4 682.1L613.2 681.5L609.6 675.4L607.8 676.0Z"/>
<path class="c415" d="M609.6 682.6L611.4 682.1L607.8 676.0L606.0 676.6Z"/>
<path class="c425" d="M607.8 684.5L609.6 682.6L606.0 676.6L604.2 678.6Z"/>
<path class="c427" d="M606.0 686.4L607.8 684.5L604.2 678.6L602.4 680.7Z"/>
<path class="c446" d="M604.2 686.3L606.0 686.4L602.4 680.7L600.6 680.5Z"/>
<path class="c446" d="M602.4 686.6L604.2 686.3L600.6 680.5L598.9 680.7Z"/>
<path class="c441" d="M600.6 687.2L602.4 686.6L598.9 680.7L597.1 681.4Z"/>
<path class="c426" d="M598.8 688.3L600.6 687.2L597.1 681.4L595.3 682.5Z"/>
<path class="c468" d="M584.5 673.7L598.8 688.3L595.3 682.5L581.0 667.0Z"/>
<path class="c228" d="M570.1 661.9L584.5 673.7L581.0 667.0L566.6 655.1Z"/>
<path class="c260" d="M555.6 650.9L570.1 661.9L566.6 655.1L552.2 644.1Z"/>
<path class="c345" d="M542.9 674.0L555.6 650.9L552.2 644.1L539.5 667.5Z"/>
<path class="c381" d="M533.8 694.3L542.9 674.0L539.5 667.5L530.5 688.2Z"/>
<path class="c453" d="M524.8 713.9L533.8 694.3L530.5 688.2L521.5 708.3Z"/>
<path class="c465" d="M510.2 713.3L524.8 713.9L521.5 708.3L507.0 708.2Z"/>
<path class="c451" d="M495.7 709.2L510.2 713.3L507.0 708.2L492.5 704.3Z"/>
<path class="c490" d="M479.2 704.6L495.7 709.2L492.5 704.3L476.1 699.8Z"/>
<path class="c439" d="M462.7 701.3L479.2 704.6L476.1 699.8L459.7 696.4Z"/>
<path class="c434" d="M448.0 700.2L462.7 701.3L459.7 696.4L445.0 695.2Z"/>
<path class="c434" d="M431.5 701.7L448.0 700.2L445.0 695.2L428.6 696.6Z"/>
<path class="c445" d="M413.1 706.7L431.5 701.7L428.6 696.6L410.2 701.5Z"/>
<path class="c444" d="M396.5 713.1L413.1 706.7L410.2 701.5L393.7 707.8Z"/>
<path class="c447" d="M376.3 722.6L396.5 713.1L393.7 707.8L373.5 717.6Z"/>
<path class="c465" d="M367.0 725.8L376.3 722.6L373.5 717.6L364.3 720.8Z"/>
<path class="c472" d="M355.9 725.3L367.0 725.8L364.3 720.8L353.2 720.0Z"/>
<path class="c472" d="M344.8 726.9L355.9 725.3L353.2 720.0L342.1 721.9Z"/>
<path class="c433" d="M327.7 708.0L344.8 726.9L342.1 721.9L325.1 702.3Z"/>
<path class="c496" d="M310.4 683.5L327.7 708.0L325.1 702.3L307.9 677.2Z"/>
<path class="c164" d="M297.6 699.0L310.4 683.5L307.9 677.2L295.1 693.1Z"/>
<path class="c446" d="M285.1 738.4L297.6 699.0L295.1 693.1L282.7 733.5Z"/>
<path class="c458" d="M267.9 725.3L285.1 738.4L282.7 733.5L265.6 719.8Z"/>
<path class="c467" d="M256.7 728.9L267.9 725.3L265.6 719.8L254.4 723.4Z"/>
<path class="c461" d="M239.9 738.3L256.7 728.9L254.4 723.4L237.7 733.2Z"/>
<path class="c465" d="M224.6 732.7L239.9 738.3L237.7 733.2L222.5 727.2Z"/>
<path class="c497" d="M908.2 653.9L919.7 614.2L915.0 606.8L903.6 647.7Z"/>
<path class="c391" d="M899.3 664.2L908.2 653.9L903.6 647.7L894.7 658.1Z"/>
<path class="c416" d="M889.0 664.7L899.3 664.2L894.7 658.1L884.4 658.2Z"/>
<path class="c392" d="M880.4 661.3L889.0 664.7L884.4 658.2L875.9 654.1Z"/>
<path class="c347" d="M871.8 657.7L880.4 661.3L875.9 654.1L867.3 649.8Z"/>
<path class="c164" d="M863.3 652.5L871.8 657.7L867.3 649.8L858.8 643.8Z"/>
<path class="c201" d="M854.3 664.0L863.3 652.5L858.8 643.8L849.9 655.8Z"/>
<path class="c413" d="M848.9 672.2L854.3 664.0L849.9 655.8L844.5 664.4Z"/>
<path class="c469" d="M843.6 673.7L848.9 672.2L844.5 664.4L839.2 665.9Z"/>
<path class="c427" d="M838.4 675.2L843.6 673.7L839.2 665.9L834.0 667.3Z"/>
<path class="c441" d="M833.1 676.8L838.4 675.2L834.0 667.3L828.8 668.8Z"/>
<path class="c431" d="M826.1 681.1L833.1 676.8L828.8 668.8L821.7 673.0Z"/>
<path class="c439" d="M820.7 685.3L826.1 681.1L821.7 673.0L816.4 677.2Z"/>
<path class="c448" d="M815.5 687.1L820.7 685.3L816.4 677.2L811.2 679.1Z"/>
<path class="c440" d="M808.5 687.5L815.5 687.1L811.2 679.1L804.2 679.7Z"/>
<path class="c453" d="M798.0 684.2L808.5 687.5L804.2 679.7L793.8 676.2Z"/>
<path class="c433" d="M791.0 686.9L798.0 684.2L793.8 676.2L786.7 679.1Z"/>
<path class="c444" d="M784.0 686.4L791.0 686.9L786.7 679.1L779.8 678.9Z"/>
<path class="c450" d="M775.2 683.7L784.0 686.4L779.8 678.9L771.1 676.4Z"/>
<path class="c416" d="M768.4 671.5L775.2 683.7L771.1 676.4L764.3 663.6Z"/>
<path class="c201" d="M761.6 658.8L768.4 671.5L764.3 663.6L757.4 650.1Z"/>
<path class="c52" d="M754.8 637.3L761.6 658.8L757.4 650.1L750.8 627.5Z"/>
<path class="c259" d="M748.1 615.4L754.8 637.3L750.8 627.5L744.0 604.5Z"/>
<path class="c377" d="M741.2 603.3L748.1 615.4L744.0 604.5L737.1 592.1Z"/>
<path class="c161" d="M734.3 588.8L741.2 603.3L737.1 592.1L730.3 577.7Z"/>
<path class="c120" d="M727.4 569.2L734.3 588.8L730.3 577.7L723.4 557.6Z"/>
<path class="c321" d="M720.5 551.6L727.4 569.2L723.4 557.6L716.5 539.9Z"/>
<path class="c265" d="M715.2 542.3L720.5 551.6L716.5 539.9L711.3 530.7Z"/>
<path class="c321" d="M712.7 599.2L715.2 542.3L711.3 530.7L708.8 589.4Z"/>
<path class="c403" d="M710.2 655.7L712.7 599.2L708.8 589.4L706.3 647.7Z"/>
<path class="c347" d="M707.7 711.7L710.2 655.7L706.3 647.7L703.8 705.6Z"/>
<path class="c458" d="M699.0 699.4L707.7 711.7L703.8 705.6L695.1 692.4Z"/>
<path class="c439" d="M688.5 688.3L699.0 699.4L695.1 692.4L684.6 681.3Z"/>
<path class="c425" d="M676.1 681.5L688.5 688.3L684.6 681.3L672.2 674.4Z"/>
<path class="c415" d="M663.5 686.8L676.1 681.5L672.2 674.4L659.7 679.4Z"/>
<path class="c446" d="M652.8 690.2L663.5 686.8L659.7 679.4L649.0 682.4Z"/>
<path class="c431" d="M643.8 693.8L652.8 690.2L649.0 682.4L640.0 685.8Z"/>
<path class="c445" d="M633.0 695.1L643.8 693.8L640.0 685.8L629.3 687.0Z"/>
<path class="c426" d="M624.0 691.5L633.0 695.1L629.3 687.0L620.4 683.4Z"/>
<path class="c427" d="M616.9 689.5L624.0 691.5L620.4 683.4L613.2 681.5Z"/>
<path class="c427" d="M615.1 690.0L616.9 689.5L613.2 681.5L611.4 682.1Z"/>
<path class="c427" d="M613.3 690.4L615.1 690.0L611.4 682.1L609.6 682.6Z"/>
<path class="c427" d="M611.4 692.1L613.3 690.4L609.6 682.6L607.8 684.5Z"/>
<path class="c426" d="M609.6 693.8L611.4 692.1L607.8 684.5L606.0 686.4Z"/>
<path class="c431" d="M607.8 693.6L609.6 693.8L606.0 686.4L604.2 686.3Z"/>
<path class="c431" d="M606.0 693.7L607.8 693.6L604.2 686.3L602.4 686.6Z"/>
<path class="c431" d="M604.2 694.3L606.0 693.7L602.4 686.6L600.6 687.2Z"/>
<path class="c449" d="M602.4 695.2L604.2 694.3L600.6 687.2L598.8 688.3Z"/>
<path class="c413" d="M588.0 681.0L602.4 695.2L598.8 688.3L584.5 673.7Z"/>
<path class="c119" d="M573.6 668.9L588.0 681.0L584.5 673.7L570.1 661.9Z"/>
<path class="c345" d="M559.1 657.8L573.6 668.9L570.1 661.9L555.6 650.9Z"/>
<path class="c156" d="M546.3 680.8L559.1 657.8L555.6 650.9L542.9 674.0Z"/>
<path class="c392" d="M537.2 700.7L546.3 680.8L542.9 674.0L533.8 694.3Z"/>
<path class="c448" d="M528.1 719.9L537.2 700.7L533.8 694.3L524.8 713.9Z"/>
<path class="c472" d="M513.5 718.9L528.1 719.9L524.8 713.9L510.2 713.3Z"/>
<path class="c458" d="M498.9 714.6L513.5 718.9L510.2 713.3L495.7 709.2Z"/>
<path class="c452" d="M482.4 709.9L498.9 714.6L495.7 709.2L479.2 704.6Z"/>
<path class="c453" d="M465.8 706.6L482.4 709.9L479.2 704.6L462.7 701.3Z"/>
<path class="c445" d="M451.1 705.6L465.8 706.6L462.7 701.3L448.0 700.2Z"/>
<path class="c434" d="M434.5 707.3L451.1 705.6L448.0 700.2L431.5 701.7Z"/>
<path class="c450" d="M416.0 712.5L434.5 707.3L431.5 701.7L413.1 706.7Z"/>
<path class="c448" d="M399.4 718.8L416.0 712.5L413.1 706.7L396.5 713.1Z"/>
<path class="c447" d="M379.1 728.2L399.4 718.8L396.5 713.1L376.3 722.6Z"/>
<path class="c472" d="M369.8 731.3L379.1 728.2L376.3 722.6L367.0 725.8Z"/>
<path class="c478" d="M358.6 731.0L369.8 731.3L367.0 725.8L355.9 725.3Z"/>
<path class="c472" d="M347.4 732.6L358.6 731.0L355.9 725.3L344.8 726.9Z"/>
<path class="c444" d="M330.3 714.0L347.4 732.6L344.8 726.9L327.7 708.0Z"/>
<path class="c319" d="M313.0 690.0L330.3 714.0L327.7 708.0L310.4 683.5Z"/>
<path class="c232" d="M300.0 705.1L313.0 690.0L310.4 683.5L297.6 699.0Z"/>
<path class="c426" d="M287.5 743.9L300.0 705.1L297.6 699.0L285.1 738.4Z"/>
<path class="c461" d="M270.3 731.1L287.5 743.9L285.1 738.4L267.9 725.3Z"/>
<path class="c451" d="M259.0 734.6L270.3 731.1L267.9 725.3L256.7 728.9Z"/>
<path class="c465" d="M242.2 743.9L259.0 734.6L256.7 728.9L239.9 738.3Z"/>
<path class="c472" d="M226.8 738.3L242.2 743.9L239.9 738.3L224.6 732.7Z"/>
<path class="c197" d="M912.9 660.5L924.4 621.6L919.7 614.2L908.2 653.9Z"/>
<path class="c468" d="M904.0 670.6L912.9 660.5L908.2 653.9L899.3 664.2Z"/>
<path class="c415" d="M893.6 671.7L904.0 670.6L899.3 664.2L889.0 664.7Z"/>
<path class="c416" d="M884.9 669.0L893.6 671.7L889.0 664.7L880.4 661.3Z"/>
<path class="c392" d="M876.3 666.3L884.9 669.0L880.4 661.3L871.8 657.7Z"/>
<path class="c319" d="M867.7 661.9L876.3 666.3L871.8 657.7L863.3 652.5Z"/>
<path class="c347" d="M858.7 673.4L867.7 661.9L863.3 652.5L854.3 664.0Z"/>
<path class="c415" d="M853.3 681.6L858.7 673.4L854.3 664.0L848.9 672.2Z"/>
<path class="c431" d="M848.0 683.2L853.3 681.6L848.9 672.2L843.6 673.7Z"/>
<path class="c434" d="M842.8 684.8L848.0 683.2L843.6 673.7L838.4 675.2Z"/>
<path class="c445" d="M837.5 686.4L842.8 684.8L838.4 675.2L833.1 676.8Z"/>
<path class="c439" d="M830.4 690.8L837.5 686.4L833.1 676.8L826.1 681.1Z"/>
<path class="c440" d="M825.0 695.0L830.4 690.8L826.1 681.1L820.7 685.3Z"/>
<path class="c491" d="M819.8 696.8L825.0 695.0L820.7 685.3L815.5 687.1Z"/>
<path class="c447" d="M812.7 697.1L819.8 696.8L815.5 687.1L808.5 687.5Z"/>
<path class="c490" d="M802.3 693.6L812.7 697.1L808.5 687.5L798.0 684.2Z"/>
<path class="c440" d="M795.2 695.9L802.3 693.6L798.0 684.2L791.0 686.9Z"/>
<path class="c452" d="M788.2 695.2L795.2 695.9L791.0 686.9L784.0 686.4Z"/>
<path class="c444" d="M779.4 692.2L788.2 695.2L784.0 686.4L775.2 683.7Z"/>
<path class="c427" d="M772.6 680.5L779.4 692.2L775.2 683.7L768.4 671.5Z"/>
<path class="c347" d="M765.7 668.2L772.6 680.5L768.4 671.5L761.6 658.8Z"/>
<path class="c345" d="M758.9 647.7L765.7 668.2L761.6 658.8L754.8 637.3Z"/>
<path class="c113" d="M752.2 626.7L758.9 647.7L754.8 637.3L748.1 615.4Z"/>
<path class="c153" d="M745.2 614.9L752.2 626.7L748.1 615.4L741.2 603.3Z"/>
<path class="c293" d="M738.3 600.2L745.2 614.9L741.2 603.3L734.3 588.8Z"/>
<path class="c264" d="M731.4 580.9L738.3 600.2L734.3 588.8L727.4 569.2Z"/>
<path class="c290" d="M724.5 563.4L731.4 580.9L727.4 569.2L720.5 551.6Z"/>
<path class="c334" d="M719.2 554.0L724.5 563.4L720.5 551.6L715.2 542.3Z"/>
<path class="c290" d="M716.7 609.5L719.2 554.0L715.2 542.3L712.7 599.2Z"/>
<path class="c417" d="M714.2 664.5L716.7 609.5L712.7 599.2L710.2 655.7Z"/>
<path class="c407" d="M711.7 719.1L714.2 664.5L710.2 655.7L707.7 711.7Z"/>
<path class="c465" d="M703.0 707.4L711.7 719.1L707.7 711.7L699.0 699.4Z"/>
<path class="c444" d="M692.4 696.5L703.0 707.4L699.0 699.4L688.5 688.3Z"/>
<path class="c446" d="M679.9 689.8L692.4 696.5L688.5 688.3L676.1 681.5Z"/>
<path class="c446" d="M667.3 695.4L679.9 689.8L676.1 681.5L663.5 686.8Z"/>
<path class="c434" d="M656.5 699.3L667.3 695.4L663.5 686.8L652.8 690.2Z"/>
<path class="c439" d="M647.5 703.3L656.5 699.3L652.8 690.2L643.8 693.8Z"/>
<path class="c444" d="M636.7 704.7L647.5 703.3L643.8 693.8L633.0 695.1Z"/>
<path class="c439" d="M627.7 701.1L636.7 704.7L633.0 695.1L624.0 691.5Z"/>
<path class="c449" d="M620.5 699.0L627.7 701.1L624.0 691.5L616.9 689.5Z"/>
<path class="c431" d="M618.7 699.3L620.5 699.0L616.9 689.5L615.1 690.0Z"/>
<path class="c449" d="M616.9 699.6L618.7 699.3L615.1 690.0L613.3 690.4Z"/>
<path class="c434" d="M615.1 701.0L616.9 699.6L613.3 690.4L611.4 692.1Z"/>
<path class="c445" d="M613.3 702.5L615.1 701.0L611.4 692.1L609.6 693.8Z"/>
<path class="c439" d="M611.5 702.0L613.3 702.5L609.6 693.8L607.8 693.6Z"/>
<path class="c439" d="M609.6 701.9L611.5 702.0L607.8 693.6L606.0 693.7Z"/>
<path class="c439" d="M607.8 702.2L609.6 701.9L606.0 693.7L604.2 694.3Z"/>
<path class="c439" d="M606.0 702.8L607.8 702.2L604.2 694.3L602.4 695.2Z"/>
<path class="c418" d="M591.6 688.8L606.0 702.8L602.4 695.2L588.0 681.0Z"/>
<path class="c232" d="M577.1 676.2L591.6 688.8L588.0 681.0L573.6 668.9Z"/>
<path class="c156" d="M562.5 665.0L577.1 676.2L573.6 668.9L559.1 657.8Z"/>
<path class="c159" d="M549.7 687.8L562.5 665.0L559.1 657.8L546.3 680.8Z"/>
<path class="c408" d="M540.6 707.3L549.7 687.8L546.3 680.8L537.2 700.7Z"/>
<path class="c490" d="M531.4 726.2L540.6 707.3L537.2 700.7L528.1 719.9Z"/>
<path class="c478" d="M516.8 724.9L531.4 726.2L528.1 719.9L513.5 718.9Z"/>
<path class="c480" d="M502.1 720.4L516.8 724.9L513.5 718.9L498.9 714.6Z"/>
<path class="c459" d="M485.5 715.6L502.1 720.4L498.9 714.6L482.4 709.9Z"/>
<path class="c444" d="M468.9 712.4L485.5 715.6L482.4 709.9L465.8 706.6Z"/>
<path class="c439" d="M454.2 711.5L468.9 712.4L465.8 706.6L451.1 705.6Z"/>
<path class="c450" d="M437.5 713.4L454.2 711.5L451.1 705.6L434.5 707.3Z"/>
<path class="c433" d="M419.0 718.6L437.5 713.4L434.5 707.3L416.0 712.5Z"/>
<path class="c440" d="M402.3 725.0L419.0 718.6L416.0 712.5L399.4 718.8Z"/>
<path class="c451" d="M381.8 734.3L402.3 725.0L399.4 718.8L379.1 728.2Z"/>
<path class="c478" d="M372.5 737.2L381.8 734.3L379.1 728.2L369.8 731.3Z"/>
<path class="c484" d="M361.3 737.0L372.5 737.2L369.8 731.3L358.6 731.0Z"/>
<path class="c484" d="M350.1 738.7L361.3 737.0L358.6 731.0L347.4 732.6Z"/>
<path class="c448" d="M332.9 720.3L350.1 738.7L347.4 732.6L330.3 714.0Z"/>
<path class="c362" d="M315.5 696.5L332.9 720.3L330.3 714.0L313.0 690.0Z"/>
<path class="c319" d="M302.5 711.4L315.5 696.5L313.0 690.0L300.0 705.1Z"/>
<path class="c434" d="M290.0 749.8L302.5 711.4L300.0 705.1L287.5 743.9Z"/>
<path class="c465" d="M272.7 737.0L290.0 749.8L287.5 743.9L270.3 731.1Z"/>
<path class="c458" d="M261.4 740.5L272.7 737.0L270.3 731.1L259.0 734.6Z"/>
<path class="c472" d="M244.4 749.9L261.4 740.5L259.0 734.6L242.2 743.9Z"/>
<path class="c478" d="M229.1 744.2L244.4 749.9L242.2 743.9L226.8 738.3Z"/>
<path class="c157" d="M917.6 667.2L929.1 629.1L924.4 621.6L912.9 660.5Z"/>
<path class="c408" d="M908.7 677.3L917.6 667.2L912.9 660.5L904.0 670.6Z"/>
<path class="c446" d="M898.2 678.9L908.7 677.3L904.0 670.6L893.6 671.7Z"/>
<path class="c425" d="M889.5 677.1L898.2 678.9L893.6 671.7L884.9 669.0Z"/>
<path class="c416" d="M880.8 675.3L889.5 677.1L884.9 669.0L876.3 666.3Z"/>
<path class="c392" d="M872.2 671.9L880.8 675.3L876.3 666.3L867.7 661.9Z"/>
<path class="c413" d="M863.2 683.6L872.2 671.9L867.7 661.9L858.7 673.4Z"/>
<path class="c426" d="M857.7 692.0L863.2 683.6L858.7 673.4L853.3 681.6Z"/>
<path class="c444" d="M852.4 693.6L857.7 692.0L853.3 681.6L848.0 683.2Z"/>
<path class="c448" d="M847.1 695.3L852.4 693.6L848.0 683.2L842.8 684.8Z"/>
<path class="c440" d="M841.8 697.0L847.1 695.3L842.8 684.8L837.5 686.4Z"/>
<path class="c452" d="M834.7 701.4L841.8 697.0L837.5 686.4L830.4 690.8Z"/>
<path class="c466" d="M829.4 705.7L834.7 701.4L830.4 690.8L825.0 695.0Z"/>
<path class="c461" d="M824.1 707.4L829.4 705.7L825.0 695.0L819.8 696.8Z"/>
<path class="c465" d="M817.0 707.5L824.1 707.4L819.8 696.8L812.7 697.1Z"/>
<path class="c451" d="M806.5 703.7L817.0 707.5L812.7 697.1L802.3 693.6Z"/>
<path class="c466" d="M799.4 705.6L806.5 703.7L802.3 693.6L795.2 695.9Z"/>
<path class="c451" d="M792.4 704.6L799.4 705.6L795.2 695.9L788.2 695.2Z"/>
<path class="c459" d="M783.6 701.4L792.4 704.6L788.2 695.2L779.4 692.2Z"/>
<path class="c434" d="M776.7 690.0L783.6 701.4L779.4 692.2L772.6 680.5Z"/>
<path class="c392" d="M769.8 678.1L776.7 690.0L772.6 680.5L765.7 668.2Z"/>
<path class="c159" d="M763.1 658.4L769.8 678.1L765.7 668.2L758.9 647.7Z"/>
<path class="c53" d="M756.3 638.2L763.1 658.4L758.9 647.7L752.2 626.7Z"/>
<path class="c259" d="M749.3 626.6L756.3 638.2L752.2 626.7L745.2 614.9Z"/>
<path class="c377" d="M742.4 611.8L749.3 626.6L745.2 614.9L738.3 600.2Z"/>
<path class="c59" d="M735.5 592.7L742.4 611.8L738.3 600.2L731.4 580.9Z"/>
<path class="c498" d="M728.5 575.3L735.5 592.7L731.4 580.9L724.5 563.4Z"/>
<path class="c287" d="M723.2 565.9L728.5 575.3L724.5 563.4L719.2 554.0Z"/>
<path class="c499" d="M720.7 620.0L723.2 565.9L719.2 554.0L716.7 609.5Z"/>
<path class="c116" d="M718.2 673.8L720.7 620.0L716.7 609.5L714.2 664.5Z"/>
<path class="c443" d="M715.7 727.2L718.2 673.8L714.2 664.5L711.7 719.1Z"/>
<path class="c479" d="M706.9 716.0L715.7 727.2L711.7 719.1L703.0 707.4Z"/>
<path class="c459" d="M696.3 705.3L706.9 716.0L703.0 707.4L692.4 696.5Z"/>
<path class="c445" d="M683.8 698.8L696.3 705.3L692.4 696.5L679.9 689.8Z"/>
<path class="c434" d="M671.2 704.8L683.8 698.8L679.9 689.8L667.3 695.4Z"/>
<path class="c444" d="M660.3 709.2L671.2 704.8L667.3 695.4L656.5 699.3Z"/>
<path class="c490" d="M651.3 713.6L660.3 709.2L656.5 699.3L647.5 703.3Z"/>
<path class="c447" d="M640.4 715.1L651.3 713.6L647.5 703.3L636.7 704.7Z"/>
<path class="c490" d="M631.4 711.5L640.4 715.1L636.7 704.7L627.7 701.1Z"/>
<path class="c444" d="M624.2 709.3L631.4 711.5L627.7 701.1L620.5 699.0Z"/>
<path class="c453" d="M622.4 709.5L624.2 709.3L620.5 699.0L618.7 699.3Z"/>
<path class="c444" d="M620.6 709.6L622.4 709.5L618.7 699.3L616.9 699.6Z"/>
<path class="c444" d="M618.7 710.7L620.6 709.6L616.9 699.6L615.1 701.0Z"/>
<path class="c448" d="M616.9 711.9L618.7 710.7L615.1 701.0L613.3 702.5Z"/>
<path class="c448" d="M615.1 711.1L616.9 711.9L613.3 702.5L611.5 702.0Z"/>
<path class="c448" d="M613.3 710.8L615.1 711.1L611.5 702.0L609.6 701.9Z"/>
<path class="c448" d="M611.5 710.7L613.3 710.8L609.6 701.9L607.8 702.2Z"/>
<path class="c448" d="M609.7 711.0L611.5 710.7L607.8 702.2L606.0 702.8Z"/>
<path class="c427" d="M595.2 696.9L609.7 711.0L606.0 702.8L591.6 688.8Z"/>
<path class="c432" d="M580.6 683.7L595.2 696.9L591.6 688.8L577.1 676.2Z"/>
<path class="c57" d="M566.0 672.2L580.6 683.7L577.1 676.2L562.5 665.0Z"/>
<path class="c63" d="M553.1 694.9L566.0 672.2L562.5 665.0L549.7 687.8Z"/>
<path class="c418" d="M544.0 714.0L553.1 694.9L549.7 687.8L540.6 707.3Z"/>
<path class="c491" d="M534.8 732.8L544.0 714.0L540.6 707.3L531.4 726.2Z"/>
<path class="c479" d="M520.1 731.1L534.8 732.8L531.4 726.2L516.8 724.9Z"/>
<path class="c465" d="M505.4 726.4L520.1 731.1L516.8 724.9L502.1 720.4Z"/>
<path class="c447" d="M488.8 721.6L505.4 726.4L502.1 720.4L485.5 715.6Z"/>
<path class="c448" d="M472.1 718.4L488.8 721.6L485.5 715.6L468.9 712.4Z"/>
<path class="c453" d="M457.2 717.5L472.1 718.4L468.9 712.4L454.2 711.5Z"/>
<path class="c453" d="M440.5 719.6L457.2 717.5L454.2 711.5L437.5 713.4Z"/>
<path class="c444" d="M421.9 725.0L440.5 719.6L437.5 713.4L419.0 718.6Z"/>
<path class="c452" d="M405.2 731.4L421.9 725.0L419.0 718.6L402.3 725.0Z"/>
<path class="c458" d="M384.7 740.6L405.2 731.4L402.3 725.0L381.8 734.3Z"/>
<path class="c484" d="M375.3 743.5L384.7 740.6L381.8 734.3L372.5 737.2Z"/>
<path class="c479" d="M364.0 743.2L375.3 743.5L372.5 737.2L361.3 737.0Z"/>
<path class="c479" d="M352.8 745.1L364.0 743.2L361.3 737.0L350.1 738.7Z"/>
<path class="c452" d="M335.5 726.7L352.8 745.1L350.1 738.7L332.9 720.3Z"/>
<path class="c407" d="M318.1 703.2L335.5 726.7L332.9 720.3L315.5 696.5Z"/>
<path class="c347" d="M305.1 717.9L318.1 703.2L315.5 696.5L302.5 711.4Z"/>
<path class="c450" d="M292.4 756.0L305.1 717.9L302.5 711.4L290.0 749.8Z"/>
<path class="c472" d="M275.1 743.1L292.4 756.0L290.0 749.8L272.7 737.0Z"/>
<path class="c461" d="M263.7 746.5L275.1 743.1L272.7 737.0L261.4 740.5Z"/>
<path class="c478" d="M246.7 756.2L263.7 746.5L261.4 740.5L244.4 749.9Z"/>
<path class="c484" d="M231.3 750.1L246.7 756.2L244.4 749.9L229.1 744.2Z"/>
<path class="c292" d="M922.4 674.0L933.9 636.6L929.1 629.1L917.6 667.2Z"/>
<path class="c418" d="M913.4 684.1L922.4 674.0L917.6 667.2L908.7 677.3Z"/>
<path class="c431" d="M902.9 686.2L913.4 684.1L908.7 677.3L898.2 678.9Z"/>
<path class="c426" d="M894.1 685.3L902.9 686.2L898.2 678.9L889.5 677.1Z"/>
<path class="c427" d="M885.4 684.4L894.1 685.3L889.5 677.1L880.8 675.3Z"/>
<path class="c418" d="M876.7 682.0L885.4 684.4L880.8 675.3L872.2 671.9Z"/>
<path class="c425" d="M867.6 693.9L876.7 682.0L872.2 671.9L863.2 683.6Z"/>
<path class="c444" d="M862.2 702.5L867.6 693.9L863.2 683.6L857.7 692.0Z"/>
<path class="c447" d="M856.9 704.2L862.2 702.5L857.7 692.0L852.4 693.6Z"/>
<path class="c467" d="M851.5 705.9L856.9 704.2L852.4 693.6L847.1 695.3Z"/>
<path class="c451" d="M846.2 707.7L851.5 705.9L847.1 695.3L841.8 697.0Z"/>
<path class="c480" d="M839.1 712.3L846.2 707.7L841.8 697.0L834.7 701.4Z"/>
<path class="c478" d="M833.7 716.6L839.1 712.3L834.7 701.4L829.4 705.7Z"/>
<path class="c482" d="M828.4 718.2L833.7 716.6L829.4 705.7L824.1 707.4Z"/>
<path class="c482" d="M821.3 718.1L828.4 718.2L824.1 707.4L817.0 707.5Z"/>
<path class="c478" d="M810.8 714.0L821.3 718.1L817.0 707.5L806.5 703.7Z"/>
<path class="c472" d="M803.7 715.5L810.8 714.0L806.5 703.7L799.4 705.6Z"/>
<path class="c472" d="M796.7 714.1L803.7 715.5L799.4 705.6L792.4 704.6Z"/>
<path class="c458" d="M787.9 710.6L796.7 714.1L792.4 704.6L783.6 701.4Z"/>
<path class="c444" d="M780.9 699.6L787.9 710.6L783.6 701.4L776.7 690.0Z"/>
<path class="c415" d="M774.0 688.1L780.9 699.6L776.7 690.0L769.8 678.1Z"/>
<path class="c119" d="M767.2 669.3L774.0 688.1L769.8 678.1L763.1 658.4Z"/>
<path class="c197" d="M760.4 649.8L767.2 669.3L763.1 658.4L756.3 638.2Z"/>
<path class="c113" d="M753.4 638.4L760.4 649.8L756.3 638.2L749.3 626.6Z"/>
<path class="c406" d="M746.4 623.5L753.4 638.4L749.3 626.6L742.4 611.8Z"/>
<path class="c231" d="M739.5 604.6L746.4 623.5L742.4 611.8L735.5 592.7Z"/>
<path class="c386" d="M732.6 587.3L739.5 604.6L735.5 592.7L728.5 575.3Z"/>
<path class="c1" d="M727.3 577.8L732.6 587.3L728.5 575.3L723.2 565.9Z"/>
<path class="c332" d="M724.7 630.7L727.3 577.8L723.2 565.9L720.7 620.0Z"/>
<path class="c160" d="M722.2 683.3L724.7 630.7L720.7 620.0L718.2 673.8Z"/>
<path class="c427" d="M719.7 735.4L722.2 683.3L718.2 673.8L715.7 727.2Z"/>
<path class="c489" d="M710.9 724.8L719.7 735.4L715.7 727.2L706.9 716.0Z"/>
<path class="c458" d="M700.3 714.2L710.9 724.8L706.9 716.0L696.3 705.3Z"/>
<path class="c448" d="M687.7 707.9L700.3 714.2L696.3 705.3L683.8 698.8Z"/>
<path class="c444" d="M675.0 714.3L687.7 707.9L683.8 698.8L671.2 704.8Z"/>
<path class="c459" d="M664.1 719.2L675.0 714.3L671.2 704.8L660.3 709.2Z"/>
<path class="c451" d="M655.1 724.1L664.1 719.2L660.3 709.2L651.3 713.6Z"/>
<path class="c465" d="M644.2 725.6L655.1 724.1L651.3 713.6L640.4 715.1Z"/>
<path class="c458" d="M635.1 722.1L644.2 725.6L640.4 715.1L631.4 711.5Z"/>
<path class="c447" d="M627.9 719.8L635.1 722.1L631.4 711.5L624.2 709.3Z"/>
<path class="c491" d="M626.1 719.8L627.9 719.8L624.2 709.3L622.4 709.5Z"/>
<path class="c491" d="M624.2 719.7L626.1 719.8L622.4 709.5L620.6 709.6Z"/>
<path class="c491" d="M622.4 720.6L624.2 719.7L620.6 709.6L618.7 710.7Z"/>
<path class="c447" d="M620.6 721.4L622.4 720.6L618.7 710.7L616.9 711.9Z"/>
<path class="c447" d="M618.8 720.4L620.6 721.4L616.9 711.9L615.1 711.1Z"/>
<path class="c447" d="M617.0 719.7L618.8 720.4L615.1 711.1L613.3 710.8Z"/>
<path class="c491" d="M615.1 719.3L617.0 719.7L613.3 710.8L611.5 710.7Z"/>
<path class="c491" d="M613.3 719.3L615.1 719.3L611.5 710.7L609.7 711.0Z"/>
<path class="c449" d="M598.8 705.1L613.3 719.3L609.7 711.0L595.2 696.9Z"/>
<path class="c381" d="M584.2 691.2L598.8 705.1L595.2 696.9L580.6 683.7Z"/>
<path class="c118" d="M569.5 679.5L584.2 691.2L580.6 683.7L566.0 672.2Z"/>
<path class="c200" d="M556.6 702.1L569.5 679.5L566.0 672.2L553.1 694.9Z"/>
<path class="c425" d="M547.4 720.8L556.6 702.1L553.1 694.9L544.0 714.0Z"/>
<path class="c466" d="M538.2 739.4L547.4 720.8L544.0 714.0L534.8 732.8Z"/>
<path class="c500" d="M523.5 737.4L538.2 739.4L534.8 732.8L520.1 731.1Z"/>
<path class="c472" d="M508.7 732.5L523.5 737.4L520.1 731.1L505.4 726.4Z"/>
<path class="c466" d="M492.0 727.6L508.7 732.5L505.4 726.4L488.8 721.6Z"/>
<path class="c490" d="M475.3 724.4L492.0 727.6L488.8 721.6L472.1 718.4Z"/>
<path class="c444" d="M460.4 723.7L475.3 724.4L472.1 718.4L457.2 717.5Z"/>
<path class="c444" d="M443.6 726.0L460.4 723.7L457.2 717.5L440.5 719.6Z"/>
<path class="c440" d="M424.9 731.5L443.6 726.0L440.5 719.6L421.9 725.0Z"/>
<path class="c447" d="M408.1 737.9L424.9 731.5L421.9 725.0L405.2 731.4Z"/>
<path class="c465" d="M387.5 747.1L408.1 737.9L405.2 731.4L384.7 740.6Z"/>
<path class="c482" d="M378.1 749.8L387.5 747.1L384.7 740.6L375.3 743.5Z"/>
<path class="c482" d="M366.8 749.6L378.1 749.8L375.3 743.5L364.0 743.2Z"/>
<path class="c482" d="M355.5 751.6L366.8 749.6L364.0 743.2L352.8 745.1Z"/>
<path class="c459" d="M338.2 733.3L355.5 751.6L352.8 745.1L335.5 726.7Z"/>
<path class="c392" d="M320.7 709.9L338.2 733.3L335.5 726.7L318.1 703.2Z"/>
<path class="c381" d="M307.6 724.4L320.7 709.9L318.1 703.2L305.1 717.9Z"/>
<path class="c433" d="M294.9 762.3L307.6 724.4L305.1 717.9L292.4 756.0Z"/>
<path class="c478" d="M277.5 749.2L294.9 762.3L292.4 756.0L275.1 743.1Z"/>
<path class="c465" d="M266.1 752.6L277.5 749.2L275.1 743.1L263.7 746.5Z"/>
<path class="c484" d="M249.0 762.5L266.1 752.6L263.7 746.5L246.7 756.2Z"/>
<path class="c479" d="M233.5 756.1L249.0 762.5L246.7 756.2L231.3 750.1Z"/>
<path class="c51" d="M927.2 680.8L938.7 644.2L933.9 636.6L922.4 674.0Z"/>
<path class="c425" d="M918.1 690.8L927.2 680.8L922.4 674.0L913.4 684.1Z"/>
<path class="c450" d="M907.6 693.5L918.1 690.8L913.4 684.1L902.9 686.2Z"/>
<path class="c450" d="M898.8 693.4L907.6 693.5L902.9 686.2L894.1 685.3Z"/>
<path class="c434" d="M890.0 693.3L898.8 693.4L894.1 685.3L885.4 684.4Z"/>
<path class="c426" d="M881.3 691.9L890.0 693.3L885.4 684.4L876.7 682.0Z"/>
<path class="c434" d="M872.2 703.9L881.3 691.9L876.7 682.0L867.6 693.9Z"/>
<path class="c447" d="M866.7 712.5L872.2 703.9L867.6 693.9L862.2 702.5Z"/>
<path class="c465" d="M861.3 714.3L866.7 712.5L862.2 702.5L856.9 704.2Z"/>
<path class="c472" d="M856.0 716.1L861.3 714.3L856.9 704.2L851.5 705.9Z"/>
<path class="c478" d="M850.7 717.9L856.0 716.1L851.5 705.9L846.2 707.7Z"/>
<path class="c479" d="M843.5 722.6L850.7 717.9L846.2 707.7L839.1 712.3Z"/>
<path class="c489" d="M838.1 727.0L843.5 722.6L839.1 712.3L833.7 716.6Z"/>
<path class="c501" d="M832.8 728.5L838.1 727.0L833.7 716.6L828.4 718.2Z"/>
<path class="c501" d="M825.7 728.3L832.8 728.5L828.4 718.2L821.3 718.1Z"/>
<path class="c489" d="M815.2 723.9L825.7 728.3L821.3 718.1L810.8 714.0Z"/>
<path class="c500" d="M808.0 725.0L815.2 723.9L810.8 714.0L803.7 715.5Z"/>
<path class="c482" d="M801.0 723.3L808.0 725.0L803.7 715.5L796.7 714.1Z"/>
<path class="c478" d="M792.1 719.6L801.0 723.3L796.7 714.1L787.9 710.6Z"/>
<path class="c491" d="M785.2 708.9L792.1 719.6L787.9 710.6L780.9 699.6Z"/>
<path class="c431" d="M778.3 697.9L785.2 708.9L780.9 699.6L774.0 688.1Z"/>
<path class="c432" d="M771.4 680.1L778.3 697.9L774.0 688.1L767.2 669.3Z"/>
<path class="c344" d="M764.5 661.4L771.4 680.1L767.2 669.3L760.4 649.8Z"/>
<path class="c48" d="M757.5 650.2L764.5 661.4L760.4 649.8L753.4 638.4Z"/>
<path class="c421" d="M750.6 635.1L757.5 650.2L753.4 638.4L746.4 623.5Z"/>
<path class="c380" d="M743.6 616.6L750.6 635.1L746.4 623.5L739.5 604.6Z"/>
<path class="c115" d="M736.6 599.4L743.6 616.6L739.5 604.6L732.6 587.3Z"/>
<path class="c356" d="M731.3 589.7L736.6 599.4L732.6 587.3L727.3 577.8Z"/>
<path class="c60" d="M728.8 641.3L731.3 589.7L727.3 577.8L724.7 630.7Z"/>
<path class="c502" d="M726.3 692.5L728.8 641.3L724.7 630.7L722.2 683.3Z"/>
<path class="c434" d="M723.8 743.4L726.3 692.5L722.2 683.3L719.7 735.4Z"/>
<path class="c503" d="M714.9 733.3L723.8 743.4L719.7 735.4L710.9 724.8Z"/>
<path class="c472" d="M704.2 722.9L714.9 733.3L710.9 724.8L700.3 714.2Z"/>
<path class="c491" d="M691.7 716.6L704.2 722.9L700.3 714.2L687.7 707.9Z"/>
<path class="c459" d="M678.9 723.5L691.7 716.6L687.7 707.9L675.0 714.3Z"/>
<path class="c458" d="M668.0 728.9L678.9 723.5L675.0 714.3L664.1 719.2Z"/>
<path class="c478" d="M658.9 734.1L668.0 728.9L664.1 719.2L655.1 724.1Z"/>
<path class="c482" d="M648.0 735.8L658.9 734.1L655.1 724.1L644.2 725.6Z"/>
<path class="c478" d="M638.9 732.2L648.0 735.8L644.2 725.6L635.1 722.1Z"/>
<path class="c465" d="M631.6 729.8L638.9 732.2L635.1 722.1L627.9 719.8Z"/>
<path class="c461" d="M629.8 729.7L631.6 729.8L627.9 719.8L626.1 719.8Z"/>
<path class="c461" d="M628.0 729.5L629.8 729.7L626.1 719.8L624.2 719.7Z"/>
<path class="c461" d="M626.1 730.0L628.0 729.5L624.2 719.7L622.4 720.6Z"/>
<path class="c465" d="M624.3 730.5L626.1 730.0L622.4 720.6L620.6 721.4Z"/>
<path class="c461" d="M622.5 729.3L624.3 730.5L620.6 721.4L618.8 720.4Z"/>
<path class="c458" d="M620.7 728.4L622.5 729.3L618.8 720.4L617.0 719.7Z"/>
<path class="c458" d="M618.8 727.7L620.7 728.4L617.0 719.7L615.1 719.3Z"/>
<path class="c458" d="M617.0 727.4L618.8 727.7L615.1 719.3L613.3 719.3Z"/>
<path class="c439" d="M602.4 713.1L617.0 727.4L613.3 719.3L598.8 705.1Z"/>
<path class="c413" d="M587.8 698.7L602.4 713.1L598.8 705.1L584.2 691.2Z"/>
<path class="c119" d="M573.1 686.8L587.8 698.7L584.2 691.2L569.5 679.5Z"/>
<path class="c201" d="M560.1 709.3L573.1 686.8L569.5 679.5L556.6 702.1Z"/>
<path class="c426" d="M550.9 727.6L560.1 709.3L556.6 702.1L547.4 720.8Z"/>
<path class="c458" d="M541.6 746.0L550.9 727.6L547.4 720.8L538.2 739.4Z"/>
<path class="c489" d="M526.8 743.6L541.6 746.0L538.2 739.4L523.5 737.4Z"/>
<path class="c484" d="M512.0 738.5L526.8 743.6L523.5 737.4L508.7 732.5Z"/>
<path class="c458" d="M495.2 733.5L512.0 738.5L508.7 732.5L492.0 727.6Z"/>
<path class="c459" d="M478.5 730.4L495.2 733.5L492.0 727.6L475.3 724.4Z"/>
<path class="c440" d="M463.5 729.8L478.5 730.4L475.3 724.4L460.4 723.7Z"/>
<path class="c440" d="M446.7 732.3L463.5 729.8L460.4 723.7L443.6 726.0Z"/>
<path class="c452" d="M427.9 737.9L446.7 732.3L443.6 726.0L424.9 731.5Z"/>
<path class="c451" d="M411.0 744.4L427.9 737.9L424.9 731.5L408.1 737.9Z"/>
<path class="c472" d="M390.4 753.4L411.0 744.4L408.1 737.9L387.5 747.1Z"/>
<path class="c487" d="M381.0 756.0L390.4 753.4L387.5 747.1L378.1 749.8Z"/>
<path class="c489" d="M369.6 755.8L381.0 756.0L378.1 749.8L366.8 749.6Z"/>
<path class="c489" d="M358.2 758.0L369.6 755.8L366.8 749.6L355.5 751.6Z"/>
<path class="c467" d="M340.9 739.8L358.2 758.0L355.5 751.6L338.2 733.3Z"/>
<path class="c408" d="M323.4 716.7L340.9 739.8L338.2 733.3L320.7 709.9Z"/>
<path class="c392" d="M310.2 730.9L323.4 716.7L320.7 709.9L307.6 724.4Z"/>
<path class="c444" d="M297.4 768.5L310.2 730.9L307.6 724.4L294.9 762.3Z"/>
<path class="c479" d="M280.0 755.3L297.4 768.5L294.9 762.3L277.5 749.2Z"/>
<path class="c472" d="M268.5 758.7L280.0 755.3L277.5 749.2L266.1 752.6Z"/>
<path class="c482" d="M251.4 768.7L268.5 758.7L266.1 752.6L249.0 762.5Z"/>
<path class="c482" d="M235.8 762.1L251.4 768.7L249.0 762.5L233.5 756.1Z"/>
<path class="c159" d="M932.0 687.5L943.6 651.9L938.7 644.2L927.2 680.8Z"/>
<path class="c446" d="M922.9 697.4L932.0 687.5L927.2 680.8L918.1 690.8Z"/>
<path class="c453" d="M912.3 700.5L922.9 697.4L918.1 690.8L907.6 693.5Z"/>
<path class="c444" d="M903.5 701.3L912.3 700.5L907.6 693.5L898.8 693.4Z"/>
<path class="c444" d="M894.7 702.0L903.5 701.3L898.8 693.4L890.0 693.3Z"/>
<path class="c433" d="M885.8 701.4L894.7 702.0L890.0 693.3L881.3 691.9Z"/>
<path class="c483" d="M876.7 713.3L885.8 701.4L881.3 691.9L872.2 703.9Z"/>
<path class="c461" d="M871.2 721.7L876.7 713.3L872.2 703.9L866.7 712.5Z"/>
<path class="c482" d="M865.9 723.6L871.2 721.7L866.7 712.5L861.3 714.3Z"/>
<path class="c500" d="M860.5 725.4L865.9 723.6L861.3 714.3L856.0 716.1Z"/>
<path class="c489" d="M855.2 727.3L860.5 725.4L856.0 716.1L850.7 717.9Z"/>
<path class="c504" d="M848.0 732.1L855.2 727.3L850.7 717.9L843.5 722.6Z"/>
<path class="c505" d="M842.5 736.5L848.0 732.1L843.5 722.6L838.1 727.0Z"/>
<path class="c506" d="M837.2 737.9L842.5 736.5L838.1 727.0L832.8 728.5Z"/>
<path class="c506" d="M830.1 737.6L837.2 737.9L832.8 728.5L825.7 728.3Z"/>
<path class="c505" d="M819.5 733.1L830.1 737.6L825.7 728.3L815.2 723.9Z"/>
<path class="c503" d="M812.4 733.9L819.5 733.1L815.2 723.9L808.0 725.0Z"/>
<path class="c504" d="M805.3 731.9L812.4 733.9L808.0 725.0L801.0 723.3Z"/>
<path class="c500" d="M796.4 728.0L805.3 731.9L801.0 723.3L792.1 719.6Z"/>
<path class="c458" d="M789.5 717.9L796.4 728.0L792.1 719.6L785.2 708.9Z"/>
<path class="c453" d="M782.5 707.3L789.5 717.9L785.2 708.9L778.3 697.9Z"/>
<path class="c404" d="M775.6 690.6L782.5 707.3L778.3 697.9L771.4 680.1Z"/>
<path class="c57" d="M768.7 672.9L775.6 690.6L771.4 680.1L764.5 661.4Z"/>
<path class="c261" d="M761.7 662.0L768.7 672.9L764.5 661.4L757.5 650.2Z"/>
<path class="c160" d="M754.7 646.8L761.7 662.0L757.5 650.2L750.6 635.1Z"/>
<path class="c403" d="M747.7 628.6L754.7 646.8L750.6 635.1L743.6 616.6Z"/>
<path class="c198" d="M740.7 611.5L747.7 628.6L743.6 616.6L736.6 599.4Z"/>
<path class="c193" d="M735.4 601.8L740.7 611.5L736.6 599.4L731.3 589.7Z"/>
<path class="c161" d="M732.9 651.8L735.4 601.8L731.3 589.7L728.8 641.3Z"/>
<path class="c197" d="M730.4 701.4L732.9 651.8L728.8 641.3L726.3 692.5Z"/>
<path class="c453" d="M727.9 750.7L730.4 701.4L726.3 692.5L723.8 743.4Z"/>
<path class="c507" d="M719.0 741.3L727.9 750.7L723.8 743.4L714.9 733.3Z"/>
<path class="c482" d="M708.3 731.0L719.0 741.3L714.9 733.3L704.2 722.9Z"/>
<path class="c458" d="M695.6 724.8L708.3 731.0L704.2 722.9L691.7 716.6Z"/>
<path class="c458" d="M682.9 732.0L695.6 724.8L691.7 716.6L678.9 723.5Z"/>
<path class="c478" d="M671.9 737.9L682.9 732.0L678.9 723.5L668.0 728.9Z"/>
<path class="c500" d="M662.7 743.4L671.9 737.9L668.0 728.9L658.9 734.1Z"/>
<path class="c504" d="M651.8 745.2L662.7 743.4L658.9 734.1L648.0 735.8Z"/>
<path class="c489" d="M642.7 741.6L651.8 745.2L648.0 735.8L638.9 732.2Z"/>
<path class="c479" d="M635.4 739.1L642.7 741.6L638.9 732.2L631.6 729.8Z"/>
<path class="c479" d="M633.5 738.8L635.4 739.1L631.6 729.8L629.8 729.7Z"/>
<path class="c484" d="M631.7 738.6L633.5 738.8L629.8 729.7L628.0 729.5Z"/>
<path class="c484" d="M629.9 738.8L631.7 738.6L628.0 729.5L626.1 730.0Z"/>
<path class="c479" d="M628.0 739.1L629.9 738.8L626.1 730.0L624.3 730.5Z"/>
<path class="c484" d="M626.2 737.7L628.0 739.1L624.3 730.5L622.5 729.3Z"/>
<path class="c478" d="M624.4 736.6L626.2 737.7L622.5 729.3L620.7 728.4Z"/>
<path class="c472" d="M622.6 735.7L624.4 736.6L620.7 728.4L618.8 727.7Z"/>
<path class="c472" d="M620.7 735.1L622.6 735.7L618.8 727.7L617.0 727.4Z"/>
<path class="c448" d="M606.1 721.1L620.7 735.1L617.0 727.4L602.4 713.1Z"/>
<path class="c418" d="M591.4 706.2L606.1 721.1L602.4 713.1L587.8 698.7Z"/>
<path class="c232" d="M576.7 694.1L591.4 706.2L587.8 698.7L573.1 686.8Z"/>
<path class="c294" d="M563.6 716.4L576.7 694.1L573.1 686.8L560.1 709.3Z"/>
<path class="c434" d="M554.3 734.4L563.6 716.4L560.1 709.3L550.9 727.6Z"/>
<path class="c465" d="M545.1 752.5L554.3 734.4L550.9 727.6L541.6 746.0Z"/>
<path class="c504" d="M530.2 749.7L545.1 752.5L541.6 746.0L526.8 743.6Z"/>
<path class="c479" d="M515.3 744.4L530.2 749.7L526.8 743.6L512.0 738.5Z"/>
<path class="c461" d="M498.5 739.3L515.3 744.4L512.0 738.5L495.2 733.5Z"/>
<path class="c447" d="M481.7 736.2L498.5 739.3L495.2 733.5L478.5 730.4Z"/>
<path class="c452" d="M466.7 735.7L481.7 736.2L478.5 730.4L463.5 729.8Z"/>
<path class="c452" d="M449.8 738.4L466.7 735.7L463.5 729.8L446.7 732.3Z"/>
<path class="c447" d="M430.9 744.2L449.8 738.4L446.7 732.3L427.9 737.9Z"/>
<path class="c458" d="M414.0 750.7L430.9 744.2L427.9 737.9L411.0 744.4Z"/>
<path class="c484" d="M393.3 759.6L414.0 750.7L411.0 744.4L390.4 753.4Z"/>
<path class="c508" d="M383.8 762.1L393.3 759.6L390.4 753.4L381.0 756.0Z"/>
<path class="c508" d="M372.4 762.0L383.8 762.1L381.0 756.0L369.6 755.8Z"/>
<path class="c508" d="M361.0 764.2L372.4 762.0L369.6 755.8L358.2 758.0Z"/>
<path class="c451" d="M343.6 746.2L361.0 764.2L358.2 758.0L340.9 739.8Z"/>
<path class="c418" d="M326.0 723.4L343.6 746.2L340.9 739.8L323.4 716.7Z"/>
<path class="c408" d="M312.8 737.4L326.0 723.4L323.4 716.7L310.2 730.9Z"/>
<path class="c440" d="M300.0 774.5L312.8 737.4L310.2 730.9L297.4 768.5Z"/>
<path class="c482" d="M282.4 761.4L300.0 774.5L297.4 768.5L280.0 755.3Z"/>
<path class="c478" d="M270.9 764.7L282.4 761.4L280.0 755.3L268.5 758.7Z"/>
<path class="c500" d="M253.7 774.9L270.9 764.7L268.5 758.7L251.4 768.7Z"/>
<path class="c487" d="M238.1 768.1L253.7 774.9L251.4 768.7L235.8 762.1Z"/>
<path class="c63" d="M936.9 694.1L948.4 659.6L943.6 651.9L932.0 687.5Z"/>
<path class="c449" d="M927.8 703.8L936.9 694.1L932.0 687.5L922.9 697.4Z"/>
<path class="c448" d="M917.1 707.4L927.8 703.8L922.9 697.4L912.3 700.5Z"/>
<path class="c452" d="M908.2 708.9L917.1 707.4L912.3 700.5L903.5 701.3Z"/>
<path class="c452" d="M899.3 710.3L908.2 708.9L903.5 701.3L894.7 702.0Z"/>
<path class="c452" d="M890.5 710.6L899.3 710.3L894.7 702.0L885.8 701.4Z"/>
<path class="c447" d="M881.3 721.9L890.5 710.6L885.8 701.4L876.7 713.3Z"/>
<path class="c484" d="M875.8 730.0L881.3 721.9L876.7 713.3L871.2 721.7Z"/>
<path class="c508" d="M870.4 731.9L875.8 730.0L871.2 721.7L865.9 723.6Z"/>
<path class="c509" d="M865.1 733.8L870.4 731.9L865.9 723.6L860.5 725.4Z"/>
<path class="c503" d="M859.7 735.7L865.1 733.8L860.5 725.4L855.2 727.3Z"/>
<path class="c510" d="M852.5 740.6L859.7 735.7L855.2 727.3L848.0 732.1Z"/>
<path class="c511" d="M847.0 745.0L852.5 740.6L848.0 732.1L842.5 736.5Z"/>
<path class="c512" d="M841.7 746.3L847.0 745.0L842.5 736.5L837.2 737.9Z"/>
<path class="c512" d="M834.6 745.9L841.7 746.3L837.2 737.9L830.1 737.6Z"/>
<path class="c506" d="M824.0 741.6L834.6 745.9L830.1 737.6L819.5 733.1Z"/>
<path class="c507" d="M816.8 742.0L824.0 741.6L819.5 733.1L812.4 733.9Z"/>
<path class="c510" d="M809.7 739.8L816.8 742.0L812.4 733.9L805.3 731.9Z"/>
<path class="c504" d="M800.8 735.7L809.7 739.8L805.3 731.9L796.4 728.0Z"/>
<path class="c478" d="M793.8 726.2L800.8 735.7L796.4 728.0L789.5 717.9Z"/>
<path class="c452" d="M786.8 716.4L793.8 726.2L789.5 717.9L782.5 707.3Z"/>
<path class="c415" d="M779.9 700.8L786.8 716.4L782.5 707.3L775.6 690.6Z"/>
<path class="c164" d="M772.9 684.3L779.9 700.8L775.6 690.6L768.7 672.9Z"/>
<path class="c62" d="M765.9 673.7L772.9 684.3L768.7 672.9L761.7 662.0Z"/>
<path class="c195" d="M758.9 658.4L765.9 673.7L761.7 662.0L754.7 646.8Z"/>
<path class="c226" d="M751.9 640.6L758.9 658.4L754.7 646.8L747.7 628.6Z"/>
<path class="c359" d="M744.9 623.8L751.9 640.6L747.7 628.6L740.7 611.5Z"/>
<path class="c114" d="M739.5 613.9L744.9 623.8L740.7 611.5L735.4 601.8Z"/>
<path class="c293" d="M737.0 662.1L739.5 613.9L735.4 601.8L732.9 651.8Z"/>
<path class="c260" d="M734.5 709.9L737.0 662.1L732.9 651.8L730.4 701.4Z"/>
<path class="c452" d="M732.0 757.4L734.5 709.9L730.4 701.4L727.9 750.7Z"/>
<path class="c511" d="M723.1 748.6L732.0 757.4L727.9 750.7L719.0 741.3Z"/>
<path class="c489" d="M712.3 738.4L723.1 748.6L719.0 741.3L708.3 731.0Z"/>
<path class="c472" d="M699.7 732.3L712.3 738.4L708.3 731.0L695.6 724.8Z"/>
<path class="c472" d="M686.8 739.8L699.7 732.3L695.6 724.8L682.9 732.0Z"/>
<path class="c500" d="M675.8 746.1L686.8 739.8L682.9 732.0L671.9 737.9Z"/>
<path class="c509" d="M666.6 751.9L675.8 746.1L671.9 737.9L662.7 743.4Z"/>
<path class="c510" d="M655.6 753.7L666.6 751.9L662.7 743.4L651.8 745.2Z"/>
<path class="c503" d="M646.5 750.1L655.6 753.7L651.8 745.2L642.7 741.6Z"/>
<path class="c508" d="M639.2 747.5L646.5 750.1L642.7 741.6L635.4 739.1Z"/>
<path class="c489" d="M637.3 747.2L639.2 747.5L635.4 739.1L633.5 738.8Z"/>
<path class="c489" d="M635.5 746.8L637.3 747.2L633.5 738.8L631.7 738.6Z"/>
<path class="c489" d="M633.7 746.8L635.5 746.8L631.7 738.6L629.9 738.8Z"/>
<path class="c489" d="M631.8 746.9L633.7 746.8L629.9 738.8L628.0 739.1Z"/>
<path class="c500" d="M630.0 745.4L631.8 746.9L628.0 739.1L626.2 737.7Z"/>
<path class="c482" d="M628.2 744.2L630.0 745.4L626.2 737.7L624.4 736.6Z"/>
<path class="c479" d="M626.3 743.1L628.2 744.2L624.4 736.6L622.6 735.7Z"/>
<path class="c484" d="M624.5 742.4L626.3 743.1L622.6 735.7L620.7 735.1Z"/>
<path class="c459" d="M609.8 728.8L624.5 742.4L620.7 735.1L606.1 721.1Z"/>
<path class="c425" d="M595.1 713.6L609.8 728.8L606.1 721.1L591.4 706.2Z"/>
<path class="c319" d="M580.3 701.4L595.1 713.6L591.4 706.2L576.7 694.1Z"/>
<path class="c362" d="M567.2 723.6L580.3 701.4L576.7 694.1L563.6 716.4Z"/>
<path class="c439" d="M557.9 741.1L567.2 723.6L563.6 716.4L554.3 734.4Z"/>
<path class="c478" d="M548.5 758.9L557.9 741.1L554.3 734.4L545.1 752.5Z"/>
<path class="c509" d="M533.6 755.6L548.5 758.9L545.1 752.5L530.2 749.7Z"/>
<path class="c482" d="M518.7 750.2L533.6 755.6L530.2 749.7L515.3 744.4Z"/>
<path class="c465" d="M501.8 745.0L518.7 750.2L515.3 744.4L498.5 739.3Z"/>
<path class="c467" d="M484.9 741.9L501.8 745.0L498.5 739.3L481.7 736.2Z"/>
<path class="c459" d="M469.8 741.5L484.9 741.9L481.7 736.2L466.7 735.7Z"/>
<path class="c459" d="M452.9 744.4L469.8 741.5L466.7 735.7L449.8 738.4Z"/>
<path class="c467" d="M434.0 750.3L452.9 744.4L449.8 738.4L430.9 744.2Z"/>
<path class="c461" d="M417.0 756.8L434.0 750.3L430.9 744.2L414.0 750.7Z"/>
<path class="c479" d="M396.2 765.6L417.0 756.8L414.0 750.7L393.3 759.6Z"/>
<path class="c504" d="M386.7 768.0L396.2 765.6L393.3 759.6L383.8 762.1Z"/>
<path class="c504" d="M375.2 768.0L386.7 768.0L383.8 762.1L372.4 762.0Z"/>
<path class="c504" d="M363.8 770.3L375.2 768.0L372.4 762.0L361.0 764.2Z"/>
<path class="c480" d="M346.3 752.6L363.8 770.3L361.0 764.2L343.6 746.2Z"/>
<path class="c425" d="M328.7 730.2L346.3 752.6L343.6 746.2L326.0 723.4Z"/>
<path class="c416" d="M315.4 743.8L328.7 730.2L326.0 723.4L312.8 737.4Z"/>
<path class="c452" d="M302.5 780.3L315.4 743.8L312.8 737.4L300.0 774.5Z"/>
<path class="c500" d="M284.9 767.5L302.5 780.3L300.0 774.5L282.4 761.4Z"/>
<path class="c479" d="M273.3 770.7L284.9 767.5L282.4 761.4L270.9 764.7Z"/>
<path class="c489" d="M256.1 780.8L273.3 770.7L270.9 764.7L253.7 774.9Z"/>
<path class="c489" d="M240.4 774.1L256.1 780.8L253.7 774.9L238.1 768.1Z"/>
<path class="c64" d="M941.8 700.6L953.4 667.3L948.4 659.6L936.9 694.1Z"/>
<path class="c450" d="M932.6 710.0L941.8 700.6L936.9 694.1L927.8 703.8Z"/>
<path class="c452" d="M921.9 714.1L932.6 710.0L927.8 703.8L917.1 707.4Z"/>
<path class="c447" d="M913.0 716.3L921.9 714.1L917.1 707.4L908.2 708.9Z"/>
<path class="c467" d="M904.1 718.4L913.0 716.3L908.2 708.9L899.3 710.3Z"/>
<path class="c466" d="M895.2 719.4L904.1 718.4L899.3 710.3L890.5 710.6Z"/>
<path class="c480" d="M886.0 729.9L895.2 719.4L890.5 710.6L881.3 721.9Z"/>
<path class="c487" d="M880.5 737.3L886.0 729.9L881.3 721.9L875.8 730.0Z"/>
<path class="c503" d="M875.1 739.3L880.5 737.3L875.8 730.0L870.4 731.9Z"/>
<path class="c510" d="M869.7 741.2L875.1 739.3L870.4 731.9L865.1 733.8Z"/>
<path class="c507" d="M864.3 743.2L869.7 741.2L865.1 733.8L859.7 735.7Z"/>
<path class="c511" d="M857.1 748.1L864.3 743.2L859.7 735.7L852.5 740.6Z"/>
<path class="c512" d="M851.6 752.6L857.1 748.1L852.5 740.6L847.0 745.0Z"/>
<path class="c513" d="M846.2 753.8L851.6 752.6L847.0 745.0L841.7 746.3Z"/>
<path class="c513" d="M839.1 753.4L846.2 753.8L841.7 746.3L834.6 745.9Z"/>
<path class="c514" d="M828.4 749.4L839.1 753.4L834.6 745.9L824.0 741.6Z"/>
<path class="c515" d="M821.3 749.5L828.4 749.4L824.0 741.6L816.8 742.0Z"/>
<path class="c511" d="M814.1 747.1L821.3 749.5L816.8 742.0L809.7 739.8Z"/>
<path class="c505" d="M805.2 742.8L814.1 747.1L809.7 739.8L800.8 735.7Z"/>
<path class="c482" d="M798.2 734.1L805.2 742.8L800.8 735.7L793.8 726.2Z"/>
<path class="c451" d="M791.1 725.1L798.2 734.1L793.8 726.2L786.8 716.4Z"/>
<path class="c431" d="M784.2 710.8L791.1 725.1L786.8 716.4L779.9 700.8Z"/>
<path class="c362" d="M777.2 695.5L784.2 710.8L779.9 700.8L772.9 684.3Z"/>
<path class="c63" d="M770.1 685.3L777.2 695.5L772.9 684.3L765.9 673.7Z"/>
<path class="c52" d="M763.1 670.1L770.1 685.3L765.9 673.7L758.9 658.4Z"/>
<path class="c58" d="M756.1 652.7L763.1 670.1L758.9 658.4L751.9 640.6Z"/>
<path class="c390" d="M749.0 636.1L756.1 652.7L751.9 640.6L744.9 623.8Z"/>
<path class="c262" d="M743.7 626.2L749.0 636.1L744.9 623.8L739.5 613.9Z"/>
<path class="c400" d="M741.2 672.2L743.7 626.2L739.5 613.9L737.0 662.1Z"/>
<path class="c156" d="M738.7 718.0L741.2 672.2L737.0 662.1L734.5 709.9Z"/>
<path class="c447" d="M736.2 763.5L738.7 718.0L734.5 709.9L732.0 757.4Z"/>
<path class="c514" d="M727.2 755.3L736.2 763.5L732.0 757.4L723.1 748.6Z"/>
<path class="c509" d="M716.4 745.2L727.2 755.3L723.1 748.6L712.3 738.4Z"/>
<path class="c484" d="M703.7 739.2L716.4 745.2L712.3 738.4L699.7 732.3Z"/>
<path class="c484" d="M690.8 747.0L703.7 739.2L699.7 732.3L686.8 739.8Z"/>
<path class="c508" d="M679.8 753.5L690.8 747.0L686.8 739.8L675.8 746.1Z"/>
<path class="c510" d="M670.5 759.6L679.8 753.5L675.8 746.1L666.6 751.9Z"/>
<path class="c511" d="M659.5 761.4L670.5 759.6L666.6 751.9L655.6 753.7Z"/>
<path class="c507" d="M650.3 757.8L659.5 761.4L655.6 753.7L646.5 750.1Z"/>
<path class="c503" d="M643.0 755.2L650.3 757.8L646.5 750.1L639.2 747.5Z"/>
<path class="c501" d="M641.2 754.7L643.0 755.2L639.2 747.5L637.3 747.2Z"/>
<path class="c509" d="M639.3 754.3L641.2 754.7L637.3 747.2L635.5 746.8Z"/>
<path class="c509" d="M637.5 754.1L639.3 754.3L635.5 746.8L633.7 746.8Z"/>
<path class="c504" d="M635.6 754.0L637.5 754.1L633.7 746.8L631.8 746.9Z"/>
<path class="c508" d="M633.8 752.5L635.6 754.0L631.8 746.9L630.0 745.4Z"/>
<path class="c489" d="M632.0 751.2L633.8 752.5L630.0 745.4L628.2 744.2Z"/>
<path class="c487" d="M630.1 750.1L632.0 751.2L628.2 744.2L626.3 743.1Z"/>
<path class="c482" d="M628.3 749.3L630.1 750.1L626.3 743.1L624.5 742.4Z"/>
<path class="c466" d="M613.5 736.3L628.3 749.3L624.5 742.4L609.8 728.8Z"/>
<path class="c426" d="M598.8 720.9L613.5 736.3L609.8 728.8L595.1 713.6Z"/>
<path class="c391" d="M583.9 708.7L598.8 720.9L595.1 713.6L580.3 701.4Z"/>
<path class="c407" d="M570.8 730.7L583.9 708.7L580.3 701.4L567.2 723.6Z"/>
<path class="c444" d="M561.4 747.7L570.8 730.7L567.2 723.6L557.9 741.1Z"/>
<path class="c484" d="M552.0 765.1L561.4 747.7L557.9 741.1L548.5 758.9Z"/>
<path class="c503" d="M537.1 761.4L552.0 765.1L548.5 758.9L533.6 755.6Z"/>
<path class="c500" d="M522.1 755.8L537.1 761.4L533.6 755.6L518.7 750.2Z"/>
<path class="c472" d="M505.2 750.5L522.1 755.8L518.7 750.2L501.8 745.0Z"/>
<path class="c451" d="M488.2 747.5L505.2 750.5L501.8 745.0L484.9 741.9Z"/>
<path class="c447" d="M473.1 747.1L488.2 747.5L484.9 741.9L469.8 741.5Z"/>
<path class="c447" d="M456.0 750.2L473.1 747.1L469.8 741.5L452.9 744.4Z"/>
<path class="c451" d="M437.1 756.2L456.0 750.2L452.9 744.4L434.0 750.3Z"/>
<path class="c472" d="M420.0 762.7L437.1 756.2L434.0 750.3L417.0 756.8Z"/>
<path class="c482" d="M399.1 771.3L420.0 762.7L417.0 756.8L396.2 765.6Z"/>
<path class="c509" d="M389.6 773.6L399.1 771.3L396.2 765.6L386.7 768.0Z"/>
<path class="c501" d="M378.1 774.0L389.6 773.6L386.7 768.0L375.2 768.0Z"/>
<path class="c501" d="M366.6 776.1L378.1 774.0L375.2 768.0L363.8 770.3Z"/>
<path class="c465" d="M349.1 758.8L366.6 776.1L363.8 770.3L346.3 752.6Z"/>
<path class="c427" d="M331.4 737.0L349.1 758.8L346.3 752.6L328.7 730.2Z"/>
<path class="c415" d="M318.0 750.2L331.4 737.0L328.7 730.2L315.4 743.8Z"/>
<path class="c491" d="M305.1 786.0L318.0 750.2L315.4 743.8L302.5 780.3Z"/>
<path class="c489" d="M287.4 773.5L305.1 786.0L302.5 780.3L284.9 767.5Z"/>
<path class="c482" d="M275.8 776.7L287.4 773.5L284.9 767.5L273.3 770.7Z"/>
<path class="c508" d="M258.5 786.7L275.8 776.7L273.3 770.7L256.1 780.8Z"/>
<path class="c508" d="M242.7 780.0L258.5 786.7L256.1 780.8L240.4 774.1Z"/>
<path class="c201" d="M946.7 707.0L958.3 675.2L953.4 667.3L941.8 700.6Z"/>
<path class="c453" d="M937.6 716.2L946.7 707.0L941.8 700.6L932.6 710.0Z"/>
<path class="c447" d="M926.8 720.6L937.6 716.2L932.6 710.0L921.9 714.1Z"/>
<path class="c451" d="M917.8 723.5L926.8 720.6L921.9 714.1L913.0 716.3Z"/>
<path class="c480" d="M908.8 726.2L917.8 723.5L913.0 716.3L904.1 718.4Z"/>
<path class="c465" d="M899.9 727.9L908.8 726.2L904.1 718.4L895.2 719.4Z"/>
<path class="c478" d="M890.7 737.4L899.9 727.9L895.2 719.4L886.0 729.9Z"/>
<path class="c504" d="M885.2 744.0L890.7 737.4L886.0 729.9L880.5 737.3Z"/>
<path class="c507" d="M879.8 745.9L885.2 744.0L880.5 737.3L875.1 739.3Z"/>
<path class="c506" d="M874.4 747.9L879.8 745.9L875.1 739.3L869.7 741.2Z"/>
<path class="c511" d="M869.0 749.9L874.4 747.9L869.7 741.2L864.3 743.2Z"/>
<path class="c514" d="M861.7 754.9L869.0 749.9L864.3 743.2L857.1 748.1Z"/>
<path class="c516" d="M856.2 759.4L861.7 754.9L857.1 748.1L851.6 752.6Z"/>
<path class="c517" d="M850.8 760.6L856.2 759.4L851.6 752.6L846.2 753.8Z"/>
<path class="c517" d="M843.6 760.1L850.8 760.6L846.2 753.8L839.1 753.4Z"/>
<path class="c518" d="M832.9 756.5L843.6 760.1L839.1 753.4L828.4 749.4Z"/>
<path class="c519" d="M825.8 756.5L832.9 756.5L828.4 749.4L821.3 749.5Z"/>
<path class="c514" d="M818.6 754.0L825.8 756.5L821.3 749.5L814.1 747.1Z"/>
<path class="c507" d="M809.7 749.5L818.6 754.0L814.1 747.1L805.2 742.8Z"/>
<path class="c508" d="M802.6 741.7L809.7 749.5L805.2 742.8L798.2 734.1Z"/>
<path class="c465" d="M795.5 733.6L802.6 741.7L798.2 734.1L791.1 725.1Z"/>
<path class="c453" d="M788.5 720.7L795.5 733.6L791.1 725.1L784.2 710.8Z"/>
<path class="c408" d="M781.5 706.7L788.5 720.7L784.2 710.8L777.2 695.5Z"/>
<path class="c201" d="M774.4 696.9L781.5 706.7L777.2 695.5L770.1 685.3Z"/>
<path class="c62" d="M767.3 681.7L774.4 696.9L770.1 685.3L763.1 670.1Z"/>
<path class="c53" d="M760.3 664.8L767.3 681.7L763.1 670.1L756.1 652.7Z"/>
<path class="c417" d="M753.2 648.5L760.3 664.8L756.1 652.7L749.0 636.1Z"/>
<path class="c377" d="M747.9 638.5L753.2 648.5L749.0 636.1L743.7 626.2Z"/>
<path class="c406" d="M745.4 682.2L747.9 638.5L743.7 626.2L741.2 672.2Z"/>
<path class="c63" d="M742.9 725.7L745.4 682.2L741.2 672.2L738.7 718.0Z"/>
<path class="c458" d="M740.4 769.0L742.9 725.7L738.7 718.0L736.2 763.5Z"/>
<path class="c519" d="M731.4 761.6L740.4 769.0L736.2 763.5L727.2 755.3Z"/>
<path class="c503" d="M720.6 751.5L731.4 761.6L727.2 755.3L716.4 745.2Z"/>
<path class="c482" d="M707.8 745.5L720.6 751.5L716.4 745.2L703.7 739.2Z"/>
<path class="c482" d="M694.9 753.5L707.8 745.5L703.7 739.2L690.8 747.0Z"/>
<path class="c501" d="M683.8 760.3L694.9 753.5L690.8 747.0L679.8 753.5Z"/>
<path class="c506" d="M674.5 766.6L683.8 760.3L679.8 753.5L670.5 759.6Z"/>
<path class="c514" d="M663.4 768.5L674.5 766.6L670.5 759.6L659.5 761.4Z"/>
<path class="c511" d="M654.2 764.9L663.4 768.5L659.5 761.4L650.3 757.8Z"/>
<path class="c507" d="M646.9 762.2L654.2 764.9L650.3 757.8L643.0 755.2Z"/>
<path class="c510" d="M645.0 761.7L646.9 762.2L643.0 755.2L641.2 754.7Z"/>
<path class="c505" d="M643.2 761.2L645.0 761.7L641.2 754.7L639.3 754.3Z"/>
<path class="c505" d="M641.3 760.9L643.2 761.2L639.3 754.3L637.5 754.1Z"/>
<path class="c503" d="M639.5 760.6L641.3 760.9L637.5 754.1L635.6 754.0Z"/>
<path class="c501" d="M637.6 759.2L639.5 760.6L635.6 754.0L633.8 752.5Z"/>
<path class="c504" d="M635.8 757.9L637.6 759.2L633.8 752.5L632.0 751.2Z"/>
<path class="c508" d="M633.9 756.7L635.8 757.9L632.0 751.2L630.1 750.1Z"/>
<path class="c489" d="M632.1 755.8L633.9 756.7L630.1 750.1L628.3 749.3Z"/>
<path class="c480" d="M617.3 743.6L632.1 755.8L628.3 749.3L613.5 736.3Z"/>
<path class="c434" d="M602.5 728.2L617.3 743.6L613.5 736.3L598.8 720.9Z"/>
<path class="c392" d="M587.6 716.0L602.5 728.2L598.8 720.9L583.9 708.7Z"/>
<path class="c413" d="M574.4 737.7L587.6 716.0L583.9 708.7L570.8 730.7Z"/>
<path class="c440" d="M565.0 754.3L574.4 737.7L570.8 730.7L561.4 747.7Z"/>
<path class="c482" d="M555.6 771.3L565.0 754.3L561.4 747.7L552.0 765.1Z"/>
<path class="c505" d="M540.6 767.0L555.6 771.3L552.0 765.1L537.1 761.4Z"/>
<path class="c489" d="M525.5 761.2L540.6 767.0L537.1 761.4L522.1 755.8Z"/>
<path class="c472" d="M508.5 755.9L525.5 761.2L522.1 755.8L505.2 750.5Z"/>
<path class="c458" d="M491.5 752.9L508.5 755.9L505.2 750.5L488.2 747.5Z"/>
<path class="c467" d="M476.3 752.7L491.5 752.9L488.2 747.5L473.1 747.1Z"/>
<path class="c467" d="M459.2 755.8L476.3 752.7L473.1 747.1L456.0 750.2Z"/>
<path class="c458" d="M440.2 762.0L459.2 755.8L456.0 750.2L437.1 756.2Z"/>
<path class="c478" d="M423.0 768.5L440.2 762.0L437.1 756.2L420.0 762.7Z"/>
<path class="c500" d="M402.0 776.9L423.0 768.5L420.0 762.7L399.1 771.3Z"/>
<path class="c503" d="M392.5 779.2L402.0 776.9L399.1 771.3L389.6 773.6Z"/>
<path class="c503" d="M380.9 779.8L392.5 779.2L389.6 773.6L378.1 774.0Z"/>
<path class="c503" d="M369.4 781.7L380.9 779.8L378.1 774.0L366.6 776.1Z"/>
<path class="c472" d="M351.8 765.0L369.4 781.7L366.6 776.1L349.1 758.8Z"/>
<path class="c426" d="M334.1 743.7L351.8 765.0L349.1 758.8L331.4 737.0Z"/>
<path class="c427" d="M320.7 756.6L334.1 743.7L331.4 737.0L318.0 750.2Z"/>
<path class="c467" d="M307.6 791.5L320.7 756.6L318.0 750.2L305.1 786.0Z"/>
<path class="c508" d="M289.9 779.5L307.6 791.5L305.1 786.0L287.4 773.5Z"/>
<path class="c500" d="M278.3 782.7L289.9 779.5L287.4 773.5L275.8 776.7Z"/>
<path class="c504" d="M260.9 792.4L278.3 782.7L275.8 776.7L258.5 786.7Z"/>
<path class="c504" d="M245.0 785.9L260.9 792.4L258.5 786.7L242.7 780.0Z"/>
<path class="c319" d="M951.7 713.3L963.3 683.0L958.3 675.2L946.7 707.0Z"/>
<path class="c444" d="M942.5 722.2L951.7 713.3L946.7 707.0L937.6 716.2Z"/>
<path class="c466" d="M931.7 727.1L942.5 722.2L937.6 716.2L926.8 720.6Z"/>
<path class="c461" d="M922.7 730.5L931.7 727.1L926.8 720.6L917.8 723.5Z"/>
<path class="c472" d="M913.7 733.9L922.7 730.5L917.8 723.5L908.8 726.2Z"/>
<path class="c484" d="M904.7 736.2L913.7 733.9L908.8 726.2L899.9 727.9Z"/>
<path class="c482" d="M895.5 744.5L904.7 736.2L899.9 727.9L890.7 737.4Z"/>
<path class="c503" d="M890.0 750.1L895.5 744.5L890.7 737.4L885.2 744.0Z"/>
<path class="c506" d="M884.5 752.1L890.0 750.1L885.2 744.0L879.8 745.9Z"/>
<path class="c520" d="M879.1 754.1L884.5 752.1L879.8 745.9L874.4 747.9Z"/>
<path class="c514" d="M873.7 756.1L879.1 754.1L874.4 747.9L869.0 749.9Z"/>
<path class="c519" d="M866.4 761.2L873.7 756.1L869.0 749.9L861.7 754.9Z"/>
<path class="c521" d="M860.9 765.7L866.4 761.2L861.7 754.9L856.2 759.4Z"/>
<path class="c522" d="M855.4 766.9L860.9 765.7L856.2 759.4L850.8 760.6Z"/>
<path class="c523" d="M848.3 766.4L855.4 766.9L850.8 760.6L843.6 760.1Z"/>
<path class="c524" d="M837.5 763.4L848.3 766.4L843.6 760.1L832.9 756.5Z"/>
<path class="c516" d="M830.3 763.1L837.5 763.4L832.9 756.5L825.8 756.5Z"/>
<path class="c519" d="M823.1 760.4L830.3 763.1L825.8 756.5L818.6 754.0Z"/>
<path class="c511" d="M814.2 755.9L823.1 760.4L818.6 754.0L809.7 749.5Z"/>
<path class="c509" d="M807.1 748.9L814.2 755.9L809.7 749.5L802.6 741.7Z"/>
<path class="c484" d="M799.9 741.8L807.1 748.9L802.6 741.7L795.5 733.6Z"/>
<path class="c452" d="M792.9 730.3L799.9 741.8L795.5 733.6L788.5 720.7Z"/>
<path class="c427" d="M785.8 717.8L792.9 730.3L788.5 720.7L781.5 706.7Z"/>
<path class="c381" d="M778.7 708.5L785.8 717.8L781.5 706.7L774.4 696.9Z"/>
<path class="c63" d="M771.6 693.4L778.7 708.5L774.4 696.9L767.3 681.7Z"/>
<path class="c197" d="M764.5 676.9L771.6 693.4L767.3 681.7L760.3 664.8Z"/>
<path class="c162" d="M757.4 661.0L764.5 676.9L760.3 664.8L753.2 648.5Z"/>
<path class="c406" d="M752.1 650.9L757.4 661.0L753.2 648.5L747.9 638.5Z"/>
<path class="c421" d="M749.6 692.2L752.1 650.9L747.9 638.5L745.4 682.2Z"/>
<path class="c164" d="M747.1 733.3L749.6 692.2L745.4 682.2L742.9 725.7Z"/>
<path class="c465" d="M744.7 774.2L747.1 733.3L742.9 725.7L740.4 769.0Z"/>
<path class="c518" d="M735.6 767.5L744.7 774.2L740.4 769.0L731.4 761.6Z"/>
<path class="c510" d="M724.7 757.5L735.6 767.5L731.4 761.6L720.6 751.5Z"/>
<path class="c487" d="M712.0 751.6L724.7 757.5L720.6 751.5L707.8 745.5Z"/>
<path class="c487" d="M699.0 759.8L712.0 751.6L707.8 745.5L694.9 753.5Z"/>
<path class="c505" d="M687.8 766.8L699.0 759.8L694.9 753.5L683.8 760.3Z"/>
<path class="c520" d="M678.5 773.2L687.8 766.8L683.8 760.3L674.5 766.6Z"/>
<path class="c525" d="M667.4 775.1L678.5 773.2L674.5 766.6L663.4 768.5Z"/>
<path class="c514" d="M658.2 771.6L667.4 775.1L663.4 768.5L654.2 764.9Z"/>
<path class="c506" d="M650.8 768.8L658.2 771.6L654.2 764.9L646.9 762.2Z"/>
<path class="c507" d="M648.9 768.2L650.8 768.8L646.9 762.2L645.0 761.7Z"/>
<path class="c507" d="M647.1 767.7L648.9 768.2L645.0 761.7L643.2 761.2Z"/>
<path class="c510" d="M645.2 767.3L647.1 767.7L643.2 761.2L641.3 760.9Z"/>
<path class="c510" d="M643.3 766.8L645.2 767.3L641.3 760.9L639.5 760.6Z"/>
<path class="c505" d="M641.5 765.5L643.3 766.8L639.5 760.6L637.6 759.2Z"/>
<path class="c503" d="M639.6 764.2L641.5 765.5L637.6 759.2L635.8 757.9Z"/>
<path class="c509" d="M637.8 763.1L639.6 764.2L635.8 757.9L633.9 756.7Z"/>
<path class="c504" d="M635.9 762.1L637.8 763.1L633.9 756.7L632.1 755.8Z"/>
<path class="c472" d="M621.1 750.9L635.9 762.1L632.1 755.8L617.3 743.6Z"/>
<path class="c439" d="M606.2 735.5L621.1 750.9L617.3 743.6L602.5 728.2Z"/>
<path class="c408" d="M591.3 723.3L606.2 735.5L602.5 728.2L587.6 716.0Z"/>
<path class="c416" d="M578.0 744.8L591.3 723.3L587.6 716.0L574.4 737.7Z"/>
<path class="c459" d="M568.6 761.0L578.0 744.8L574.4 737.7L565.0 754.3Z"/>
<path class="c487" d="M559.1 777.4L568.6 761.0L565.0 754.3L555.6 771.3Z"/>
<path class="c510" d="M544.1 772.6L559.1 777.4L555.6 771.3L540.6 767.0Z"/>
<path class="c489" d="M529.0 766.6L544.1 772.6L540.6 767.0L525.5 761.2Z"/>
<path class="c478" d="M511.9 761.2L529.0 766.6L525.5 761.2L508.5 755.9Z"/>
<path class="c458" d="M494.8 758.3L511.9 761.2L508.5 755.9L491.5 752.9Z"/>
<path class="c451" d="M479.6 758.1L494.8 758.3L491.5 752.9L476.3 752.7Z"/>
<path class="c451" d="M462.4 761.4L479.6 758.1L476.3 752.7L459.2 755.8Z"/>
<path class="c480" d="M443.3 767.7L462.4 761.4L459.2 755.8L440.2 762.0Z"/>
<path class="c478" d="M426.1 774.3L443.3 767.7L440.2 762.0L423.0 768.5Z"/>
<path class="c489" d="M405.0 782.5L426.1 774.3L423.0 768.5L402.0 776.9Z"/>
<path class="c503" d="M395.4 784.6L405.0 782.5L402.0 776.9L392.5 779.2Z"/>
<path class="c505" d="M383.8 785.6L395.4 784.6L392.5 779.2L380.9 779.8Z"/>
<path class="c505" d="M372.2 787.3L383.8 785.6L380.9 779.8L369.4 781.7Z"/>
<path class="c478" d="M354.6 771.2L372.2 787.3L369.4 781.7L351.8 765.0Z"/>
<path class="c449" d="M336.8 750.5L354.6 771.2L351.8 765.0L334.1 743.7Z"/>
<path class="c446" d="M323.3 763.0L336.8 750.5L334.1 743.7L320.7 756.6Z"/>
<path class="c451" d="M310.2 797.0L323.3 763.0L320.7 756.6L307.6 791.5Z"/>
<path class="c504" d="M292.4 785.5L310.2 797.0L307.6 791.5L289.9 779.5Z"/>
<path class="c489" d="M280.7 788.7L292.4 785.5L289.9 779.5L278.3 782.7Z"/>
<path class="c504" d="M263.3 798.0L280.7 788.7L278.3 782.7L260.9 792.4Z"/>
<path class="c501" d="M247.4 791.8L263.3 798.0L260.9 792.4L245.0 785.9Z"/>
<path class="c381" d="M956.7 719.7L968.3 691.0L963.3 683.0L951.7 713.3Z"/>
<path class="c440" d="M947.5 728.3L956.7 719.7L951.7 713.3L942.5 722.2Z"/>
<path class="c458" d="M936.7 733.5L947.5 728.3L942.5 722.2L931.7 727.1Z"/>
<path class="c472" d="M927.6 737.5L936.7 733.5L931.7 727.1L922.7 730.5Z"/>
<path class="c484" d="M918.5 741.5L927.6 737.5L922.7 730.5L913.7 733.9Z"/>
<path class="c482" d="M909.5 744.4L918.5 741.5L913.7 733.9L904.7 736.2Z"/>
<path class="c508" d="M900.3 751.3L909.5 744.4L904.7 736.2L895.5 744.5Z"/>
<path class="c510" d="M894.8 756.0L900.3 751.3L895.5 744.5L890.0 750.1Z"/>
<path class="c520" d="M889.3 758.0L894.8 756.0L890.0 750.1L884.5 752.1Z"/>
<path class="c514" d="M883.9 760.1L889.3 758.0L884.5 752.1L879.1 754.1Z"/>
<path class="c512" d="M878.4 762.1L883.9 760.1L879.1 754.1L873.7 756.1Z"/>
<path class="c518" d="M871.1 767.2L878.4 762.1L873.7 756.1L866.4 761.2Z"/>
<path class="c526" d="M865.6 771.7L871.1 767.2L866.4 761.2L860.9 765.7Z"/>
<path class="c527" d="M860.1 772.9L865.6 771.7L860.9 765.7L855.4 766.9Z"/>
<path class="c528" d="M852.9 772.3L860.1 772.9L855.4 766.9L848.3 766.4Z"/>
<path class="c526" d="M842.1 769.9L852.9 772.3L848.3 766.4L837.5 763.4Z"/>
<path class="c521" d="M834.9 769.5L842.1 769.9L837.5 763.4L830.3 763.1Z"/>
<path class="c518" d="M827.7 766.7L834.9 769.5L830.3 763.1L823.1 760.4Z"/>
<path class="c515" d="M818.7 762.0L827.7 766.7L823.1 760.4L814.2 755.9Z"/>
<path class="c505" d="M811.5 756.1L818.7 762.0L814.2 755.9L807.1 748.9Z"/>
<path class="c500" d="M804.4 750.0L811.5 756.1L807.1 748.9L799.9 741.8Z"/>
<path class="c451" d="M797.3 740.0L804.4 750.0L799.9 741.8L792.9 730.3Z"/>
<path class="c450" d="M790.2 729.0L797.3 740.0L792.9 730.3L785.8 717.8Z"/>
<path class="c418" d="M783.0 720.1L790.2 729.0L785.8 717.8L778.7 708.5Z"/>
<path class="c201" d="M775.9 705.1L783.0 720.1L778.7 708.5L771.6 693.4Z"/>
<path class="c405" d="M768.8 689.2L775.9 705.1L771.6 693.4L764.5 676.9Z"/>
<path class="c196" d="M761.7 673.6L768.8 689.2L764.5 676.9L757.4 661.0Z"/>
<path class="c61" d="M756.3 663.4L761.7 673.6L757.4 661.0L752.1 650.9Z"/>
<path class="c160" d="M753.9 702.2L756.3 663.4L752.1 650.9L749.6 692.2Z"/>
<path class="c319" d="M751.4 740.8L753.9 702.2L749.6 692.2L747.1 733.3Z"/>
<path class="c478" d="M749.0 779.1L751.4 740.8L747.1 733.3L744.7 774.2Z"/>
<path class="c513" d="M739.9 773.3L749.0 779.1L744.7 774.2L735.6 767.5Z"/>
<path class="c507" d="M729.0 763.3L739.9 773.3L735.6 767.5L724.7 757.5Z"/>
<path class="c508" d="M716.1 757.4L729.0 763.3L724.7 757.5L712.0 751.6Z"/>
<path class="c508" d="M703.1 765.8L716.1 757.4L712.0 751.6L699.0 759.8Z"/>
<path class="c510" d="M691.9 772.9L703.1 765.8L699.0 759.8L687.8 766.8Z"/>
<path class="c514" d="M682.5 779.6L691.9 772.9L687.8 766.8L678.5 773.2Z"/>
<path class="c516" d="M671.4 781.5L682.5 779.6L678.5 773.2L667.4 775.1Z"/>
<path class="c519" d="M662.1 777.9L671.4 781.5L667.4 775.1L658.2 771.6Z"/>
<path class="c520" d="M654.7 775.2L662.1 777.9L658.2 771.6L650.8 768.8Z"/>
<path class="c511" d="M652.8 774.5L654.7 775.2L650.8 768.8L648.9 768.2Z"/>
<path class="c506" d="M651.0 773.9L652.8 774.5L648.9 768.2L647.1 767.7Z"/>
<path class="c506" d="M649.1 773.4L651.0 773.9L647.1 767.7L645.2 767.3Z"/>
<path class="c507" d="M647.3 772.9L649.1 773.4L645.2 767.3L643.3 766.8Z"/>
<path class="c510" d="M645.4 771.6L647.3 772.9L643.3 766.8L641.5 765.5Z"/>
<path class="c505" d="M643.5 770.4L645.4 771.6L641.5 765.5L639.6 764.2Z"/>
<path class="c503" d="M641.7 769.3L643.5 770.4L639.6 764.2L637.8 763.1Z"/>
<path class="c501" d="M639.8 768.3L641.7 769.3L637.8 763.1L635.9 762.1Z"/>
<path class="c484" d="M624.9 758.1L639.8 768.3L635.9 762.1L621.1 750.9Z"/>
<path class="c444" d="M610.0 742.8L624.9 758.1L621.1 750.9L606.2 735.5Z"/>
<path class="c418" d="M595.0 730.7L610.0 742.8L606.2 735.5L591.3 723.3Z"/>
<path class="c425" d="M581.7 751.9L595.0 730.7L591.3 723.3L578.0 744.8Z"/>
<path class="c467" d="M572.2 767.6L581.7 751.9L578.0 744.8L568.6 761.0Z"/>
<path class="c508" d="M562.7 783.5L572.2 767.6L568.6 761.0L559.1 777.4Z"/>
<path class="c507" d="M547.6 778.2L562.7 783.5L559.1 777.4L544.1 772.6Z"/>
<path class="c508" d="M532.4 772.0L547.6 778.2L544.1 772.6L529.0 766.6Z"/>
<path class="c484" d="M515.3 766.5L532.4 772.0L529.0 766.6L511.9 761.2Z"/>
<path class="c480" d="M498.1 763.6L515.3 766.5L511.9 761.2L494.8 758.3Z"/>
<path class="c451" d="M482.9 763.5L498.1 763.6L494.8 758.3L479.6 758.1Z"/>
<path class="c451" d="M465.6 767.0L482.9 763.5L479.6 758.1L462.4 761.4Z"/>
<path class="c461" d="M446.4 773.4L465.6 767.0L462.4 761.4L443.3 767.7Z"/>
<path class="c484" d="M429.2 780.0L446.4 773.4L443.3 767.7L426.1 774.3Z"/>
<path class="c508" d="M408.0 787.9L429.2 780.0L426.1 774.3L405.0 782.5Z"/>
<path class="c505" d="M398.3 790.0L408.0 787.9L405.0 782.5L395.4 784.6Z"/>
<path class="c510" d="M386.7 791.4L398.3 790.0L395.4 784.6L383.8 785.6Z"/>
<path class="c510" d="M375.1 792.8L386.7 791.4L383.8 785.6L372.2 787.3Z"/>
<path class="c484" d="M357.4 777.4L375.1 792.8L372.2 787.3L354.6 771.2Z"/>
<path class="c445" d="M339.6 757.4L357.4 777.4L354.6 771.2L336.8 750.5Z"/>
<path class="c431" d="M326.0 769.4L339.6 757.4L336.8 750.5L323.3 763.0Z"/>
<path class="c458" d="M312.8 802.4L326.0 769.4L323.3 763.0L310.2 797.0Z"/>
<path class="c504" d="M295.0 791.6L312.8 802.4L310.2 797.0L292.4 785.5Z"/>
<path class="c489" d="M283.3 794.7L295.0 791.6L292.4 785.5L280.7 788.7Z"/>
<path class="c501" d="M265.7 803.6L283.3 794.7L280.7 788.7L263.3 798.0Z"/>
<path class="c503" d="M249.8 797.8L265.7 803.6L263.3 798.0L247.4 791.8Z"/>
<path class="c392" d="M961.8 726.1L973.4 699.0L968.3 691.0L956.7 719.7Z"/>
<path class="c459" d="M952.6 734.3L961.8 726.1L956.7 719.7L947.5 728.3Z"/>
<path class="c461" d="M941.6 739.9L952.6 734.3L947.5 728.3L936.7 733.5Z"/>
<path class="c484" d="M932.5 744.6L941.6 739.9L936.7 733.5L927.6 737.5Z"/>
<path class="c500" d="M923.4 749.0L932.5 744.6L927.6 737.5L918.5 741.5Z"/>
<path class="c508" d="M914.3 752.6L923.4 749.0L918.5 741.5L909.5 744.4Z"/>
<path class="c503" d="M905.1 758.1L914.3 752.6L909.5 744.4L900.3 751.3Z"/>
<path class="c506" d="M899.6 761.7L905.1 758.1L900.3 751.3L894.8 756.0Z"/>
<path class="c514" d="M894.2 763.8L899.6 761.7L894.8 756.0L889.3 758.0Z"/>
<path class="c512" d="M888.7 765.8L894.2 763.8L889.3 758.0L883.9 760.1Z"/>
<path class="c525" d="M883.2 767.9L888.7 765.8L883.9 760.1L878.4 762.1Z"/>
<path class="c524" d="M875.9 773.1L883.2 767.9L878.4 762.1L871.1 767.2Z"/>
<path class="c523" d="M870.3 777.6L875.9 773.1L871.1 767.2L865.6 771.7Z"/>
<path class="c529" d="M864.9 778.8L870.3 777.6L865.6 771.7L860.1 772.9Z"/>
<path class="c529" d="M857.6 778.1L864.9 778.8L860.1 772.9L852.9 772.3Z"/>
<path class="c522" d="M846.8 776.4L857.6 778.1L852.9 772.3L842.1 769.9Z"/>
<path class="c526" d="M839.5 775.8L846.8 776.4L842.1 769.9L834.9 769.5Z"/>
<path class="c524" d="M832.3 772.9L839.5 775.8L834.9 769.5L827.7 766.7Z"/>
<path class="c512" d="M823.3 768.1L832.3 772.9L827.7 766.7L818.7 762.0Z"/>
<path class="c507" d="M816.1 763.1L823.3 768.1L818.7 762.0L811.5 756.1Z"/>
<path class="c508" d="M808.9 758.1L816.1 763.1L811.5 756.1L804.4 750.0Z"/>
<path class="c472" d="M801.7 749.6L808.9 758.1L804.4 750.0L797.3 740.0Z"/>
<path class="c440" d="M794.5 740.2L801.7 749.6L797.3 740.0L790.2 729.0Z"/>
<path class="c426" d="M787.3 731.7L794.5 740.2L790.2 729.0L783.0 720.1Z"/>
<path class="c381" d="M780.2 716.8L787.3 731.7L783.0 720.1L775.9 705.1Z"/>
<path class="c57" d="M773.1 701.5L780.2 716.8L775.9 705.1L768.8 689.2Z"/>
<path class="c360" d="M766.0 686.3L773.1 701.5L768.8 689.2L761.7 673.6Z"/>
<path class="c160" d="M760.6 675.9L766.0 686.3L761.7 673.6L756.3 663.4Z"/>
<path class="c195" d="M758.1 712.1L760.6 675.9L756.3 663.4L753.9 702.2Z"/>
<path class="c407" d="M755.7 748.2L758.1 712.1L753.9 702.2L751.4 740.8Z"/>
<path class="c479" d="M753.3 784.0L755.7 748.2L751.4 740.8L749.0 779.1Z"/>
<path class="c524" d="M744.2 778.9L753.3 784.0L749.0 779.1L739.9 773.3Z"/>
<path class="c506" d="M733.2 769.0L744.2 778.9L739.9 773.3L729.0 763.3Z"/>
<path class="c504" d="M720.3 763.1L733.2 769.0L729.0 763.3L716.1 757.4Z"/>
<path class="c504" d="M707.2 771.6L720.3 763.1L716.1 757.4L703.1 765.8Z"/>
<path class="c507" d="M696.0 779.0L707.2 771.6L703.1 765.8L691.9 772.9Z"/>
<path class="c512" d="M686.6 785.8L696.0 779.0L691.9 772.9L682.5 779.6Z"/>
<path class="c524" d="M675.4 787.7L686.6 785.8L682.5 779.6L671.4 781.5Z"/>
<path class="c518" d="M666.1 784.2L675.4 787.7L671.4 781.5L662.1 777.9Z"/>
<path class="c514" d="M658.7 781.4L666.1 784.2L662.1 777.9L654.7 775.2Z"/>
<path class="c520" d="M656.8 780.7L658.7 781.4L654.7 775.2L652.8 774.5Z"/>
<path class="c511" d="M654.9 780.0L656.8 780.7L652.8 774.5L651.0 773.9Z"/>
<path class="c511" d="M653.1 779.4L654.9 780.0L651.0 773.9L649.1 773.4Z"/>
<path class="c506" d="M651.2 778.8L653.1 779.4L649.1 773.4L647.3 772.9Z"/>
<path class="c507" d="M649.3 777.7L651.2 778.8L647.3 772.9L645.4 771.6Z"/>
<path class="c510" d="M647.5 776.6L649.3 777.7L645.4 771.6L643.5 770.4Z"/>
<path class="c505" d="M645.6 775.5L647.5 776.6L643.5 770.4L641.7 769.3Z"/>
<path class="c503" d="M643.7 774.5L645.6 775.5L641.7 769.3L639.8 768.3Z"/>
<path class="c479" d="M628.8 765.3L643.7 774.5L639.8 768.3L624.9 758.1Z"/>
<path class="c490" d="M613.8 750.2L628.8 765.3L624.9 758.1L610.0 742.8Z"/>
<path class="c425" d="M598.7 738.2L613.8 750.2L610.0 742.8L595.0 730.7Z"/>
<path class="c446" d="M585.4 759.1L598.7 738.2L595.0 730.7L581.7 751.9Z"/>
<path class="c458" d="M575.9 774.3L585.4 759.1L581.7 751.9L572.2 767.6Z"/>
<path class="c504" d="M566.4 789.6L575.9 774.3L572.2 767.6L562.7 783.5Z"/>
<path class="c507" d="M551.2 783.7L566.4 789.6L562.7 783.5L547.6 778.2Z"/>
<path class="c504" d="M536.0 777.4L551.2 783.7L547.6 778.2L532.4 772.0Z"/>
<path class="c484" d="M518.8 771.8L536.0 777.4L532.4 772.0L515.3 766.5Z"/>
<path class="c461" d="M501.5 768.9L518.8 771.8L515.3 766.5L498.1 763.6Z"/>
<path class="c458" d="M486.2 768.9L501.5 768.9L498.1 763.6L482.9 763.5Z"/>
<path class="c458" d="M468.9 772.6L486.2 768.9L482.9 763.5L465.6 767.0Z"/>
<path class="c465" d="M449.6 779.0L468.9 772.6L465.6 767.0L446.4 773.4Z"/>
<path class="c479" d="M432.3 785.7L449.6 779.0L446.4 773.4L429.2 780.0Z"/>
<path class="c508" d="M411.0 793.4L432.3 785.7L429.2 780.0L408.0 787.9Z"/>
<path class="c505" d="M401.3 795.4L411.0 793.4L408.0 787.9L398.3 790.0Z"/>
<path class="c510" d="M389.7 797.1L401.3 795.4L398.3 790.0L386.7 791.4Z"/>
<path class="c510" d="M378.0 798.4L389.7 797.1L386.7 791.4L375.1 792.8Z"/>
<path class="c479" d="M360.2 783.6L378.0 798.4L375.1 792.8L357.4 777.4Z"/>
<path class="c439" d="M342.3 764.3L360.2 783.6L357.4 777.4L339.6 757.4Z"/>
<path class="c434" d="M328.7 775.8L342.3 764.3L339.6 757.4L326.0 769.4Z"/>
<path class="c480" d="M315.5 807.8L328.7 775.8L326.0 769.4L312.8 802.4Z"/>
<path class="c501" d="M297.6 797.6L315.5 807.8L312.8 802.4L295.0 791.6Z"/>
<path class="c508" d="M285.8 800.7L297.6 797.6L295.0 791.6L283.3 794.7Z"/>
<path class="c503" d="M268.1 809.2L285.8 800.7L283.3 794.7L265.7 803.6Z"/>
<path class="c503" d="M252.2 803.7L268.1 809.2L265.7 803.6L249.8 797.8Z"/>
<path class="c416" d="M966.9 732.5L978.5 707.0L973.4 699.0L961.8 726.1Z"/>
<path class="c447" d="M957.7 740.4L966.9 732.5L961.8 726.1L952.6 734.3Z"/>
<path class="c472" d="M946.7 746.3L957.7 740.4L952.6 734.3L941.6 739.9Z"/>
<path class="c479" d="M937.5 751.6L946.7 746.3L941.6 739.9L932.5 744.6Z"/>
<path class="c508" d="M928.3 756.6L937.5 751.6L932.5 744.6L923.4 749.0Z"/>
<path class="c503" d="M919.2 760.8L928.3 756.6L923.4 749.0L914.3 752.6Z"/>
<path class="c510" d="M910.0 764.9L919.2 760.8L914.3 752.6L905.1 758.1Z"/>
<path class="c520" d="M904.5 767.3L910.0 764.9L905.1 758.1L899.6 761.7Z"/>
<path class="c512" d="M899.1 769.4L904.5 767.3L899.6 761.7L894.2 763.8Z"/>
<path class="c525" d="M893.6 771.5L899.1 769.4L894.2 763.8L888.7 765.8Z"/>
<path class="c518" d="M888.1 773.6L893.6 771.5L888.7 765.8L883.2 767.9Z"/>
<path class="c521" d="M880.7 778.8L888.1 773.6L883.2 767.9L875.9 773.1Z"/>
<path class="c528" d="M875.1 783.3L880.7 778.8L875.9 773.1L870.3 777.6Z"/>
<path class="c530" d="M869.6 784.5L875.1 783.3L870.3 777.6L864.9 778.8Z"/>
<path class="c530" d="M862.4 783.8L869.6 784.5L864.9 778.8L857.6 778.1Z"/>
<path class="c527" d="M851.5 782.8L862.4 783.8L857.6 778.1L846.8 776.4Z"/>
<path class="c522" d="M844.2 782.1L851.5 782.8L846.8 776.4L839.5 775.8Z"/>
<path class="c531" d="M836.9 779.0L844.2 782.1L839.5 775.8L832.3 772.9Z"/>
<path class="c519" d="M827.9 774.1L836.9 779.0L832.3 772.9L823.3 768.1Z"/>
<path class="c506" d="M820.6 770.2L827.9 774.1L823.3 768.1L816.1 763.1Z"/>
<path class="c503" d="M813.4 766.2L820.6 770.2L816.1 763.1L808.9 758.1Z"/>
<path class="c482" d="M806.2 759.3L813.4 766.2L808.9 758.1L801.7 749.6Z"/>
<path class="c451" d="M799.0 751.4L806.2 759.3L801.7 749.6L794.5 740.2Z"/>
<path class="c444" d="M791.7 743.4L799.0 751.4L794.5 740.2L787.3 731.7Z"/>
<path class="c418" d="M784.6 728.7L791.7 743.4L787.3 731.7L780.2 716.8Z"/>
<path class="c414" d="M777.5 713.9L784.6 728.7L780.2 716.8L773.1 701.5Z"/>
<path class="c405" d="M770.3 699.0L777.5 713.9L773.1 701.5L766.0 686.3Z"/>
<path class="c106" d="M764.9 688.6L770.3 699.0L766.0 686.3L760.6 675.9Z"/>
<path class="c261" d="M762.5 722.2L764.9 688.6L760.6 675.9L758.1 712.1Z"/>
<path class="c408" d="M760.1 755.6L762.5 722.2L758.1 712.1L755.7 748.2Z"/>
<path class="c482" d="M757.7 788.8L760.1 755.6L755.7 748.2L753.3 784.0Z"/>
<path class="c521" d="M748.5 784.6L757.7 788.8L753.3 784.0L744.2 778.9Z"/>
<path class="c511" d="M737.5 774.7L748.5 784.6L744.2 778.9L733.2 769.0Z"/>
<path class="c504" d="M724.6 768.8L737.5 774.7L733.2 769.0L720.3 763.1Z"/>
<path class="c504" d="M711.4 777.5L724.6 768.8L720.3 763.1L707.2 771.6Z"/>
<path class="c506" d="M700.1 785.0L711.4 777.5L707.2 771.6L696.0 779.0Z"/>
<path class="c518" d="M690.7 791.9L700.1 785.0L696.0 779.0L686.6 785.8Z"/>
<path class="c517" d="M679.5 793.9L690.7 791.9L686.6 785.8L675.4 787.7Z"/>
<path class="c524" d="M670.1 790.4L679.5 793.9L675.4 787.7L666.1 784.2Z"/>
<path class="c512" d="M662.7 787.5L670.1 790.4L666.1 784.2L658.7 781.4Z"/>
<path class="c514" d="M660.8 786.8L662.7 787.5L658.7 781.4L656.8 780.7Z"/>
<path class="c514" d="M658.9 786.1L660.8 786.8L656.8 780.7L654.9 780.0Z"/>
<path class="c520" d="M657.0 785.4L658.9 786.1L654.9 780.0L653.1 779.4Z"/>
<path class="c511" d="M655.2 784.7L657.0 785.4L653.1 779.4L651.2 778.8Z"/>
<path class="c506" d="M653.3 783.7L655.2 784.7L651.2 778.8L649.3 777.7Z"/>
<path class="c507" d="M651.4 782.7L653.3 783.7L649.3 777.7L647.5 776.6Z"/>
<path class="c510" d="M649.6 781.7L651.4 782.7L647.5 776.6L645.6 775.5Z"/>
<path class="c510" d="M647.7 780.7L649.6 781.7L645.6 775.5L643.7 774.5Z"/>
<path class="c487" d="M632.7 772.6L647.7 780.7L643.7 774.5L628.8 765.3Z"/>
<path class="c447" d="M617.6 757.6L632.7 772.6L628.8 765.3L613.8 750.2Z"/>
<path class="c426" d="M602.5 745.6L617.6 757.6L613.8 750.2L598.7 738.2Z"/>
<path class="c431" d="M589.1 766.3L602.5 745.6L598.7 738.2L585.4 759.1Z"/>
<path class="c461" d="M579.6 781.0L589.1 766.3L585.4 759.1L575.9 774.3Z"/>
<path class="c503" d="M570.0 795.7L579.6 781.0L575.9 774.3L566.4 789.6Z"/>
<path class="c506" d="M554.8 789.3L570.0 795.7L566.4 789.6L551.2 783.7Z"/>
<path class="c504" d="M539.5 782.8L554.8 789.3L551.2 783.7L536.0 777.4Z"/>
<path class="c479" d="M522.2 777.2L539.5 782.8L536.0 777.4L518.8 771.8Z"/>
<path class="c465" d="M504.9 774.3L522.2 777.2L518.8 771.8L501.5 768.9Z"/>
<path class="c458" d="M489.5 774.4L504.9 774.3L501.5 768.9L486.2 768.9Z"/>
<path class="c458" d="M472.1 778.2L489.5 774.4L486.2 768.9L468.9 772.6Z"/>
<path class="c472" d="M452.8 784.8L472.1 778.2L468.9 772.6L449.6 779.0Z"/>
<path class="c482" d="M435.4 791.4L452.8 784.8L449.6 779.0L432.3 785.7Z"/>
<path class="c504" d="M414.1 798.9L435.4 791.4L432.3 785.7L411.0 793.4Z"/>
<path class="c510" d="M404.3 800.8L414.1 798.9L411.0 793.4L401.3 795.4Z"/>
<path class="c507" d="M392.6 803.0L404.3 800.8L401.3 795.4L389.7 797.1Z"/>
<path class="c507" d="M380.9 803.9L392.6 803.0L389.7 797.1L378.0 798.4Z"/>
<path class="c482" d="M363.1 789.8L380.9 803.9L378.0 798.4L360.2 783.6Z"/>
<path class="c444" d="M345.1 771.2L363.1 789.8L360.2 783.6L342.3 764.3Z"/>
<path class="c439" d="M331.5 782.3L345.1 771.2L342.3 764.3L328.7 775.8Z"/>
<path class="c465" d="M318.1 813.2L331.5 782.3L328.7 775.8L315.5 807.8Z"/>
<path class="c503" d="M300.2 803.7L318.1 813.2L315.5 807.8L297.6 797.6Z"/>
<path class="c504" d="M288.3 806.7L300.2 803.7L297.6 797.6L285.8 800.7Z"/>
<path class="c505" d="M270.6 814.9L288.3 806.7L285.8 800.7L268.1 809.2Z"/>
<path class="c505" d="M254.6 809.8L270.6 814.9L268.1 809.2L252.2 803.7Z"/>
<line class="k" x1="131.1" y1="641.7" x2="143.1" y2="641.7"/>
<line class="k" x1="127.7" y1="522.7" x2="139.7" y2="522.7"/>
<line class="k" x1="124.2" y1="401.6" x2="136.2" y2="401.6"/>
<line class="k" x1="120.7" y1="278.3" x2="132.7" y2="278.3"/>
<line class="k" x1="117.1" y1="152.9" x2="129.1" y2="152.9"/>
<line class="k" x1="113.5" y1="25.2" x2="125.5" y2="25.2"/>
<line class="k" x1="229.0" y1="863.5" x2="242.0" y2="863.5"/>
<line class="k" x1="212.6" y1="826.6" x2="225.6" y2="826.6"/>
<line class="k" x1="197.1" y1="792.0" x2="210.1" y2="792.0"/>
<line class="k" x1="182.5" y1="759.2" x2="195.5" y2="759.2"/>
<line class="k" x1="168.7" y1="728.3" x2="181.7" y2="728.3"/>
<line class="k" x1="155.7" y1="699.0" x2="168.7" y2="699.0"/>
<line class="k" x1="143.3" y1="671.3" x2="156.3" y2="671.3"/>
<line class="k" x1="303.1" y1="858.4" x2="306.0" y2="864.3"/>
<line class="k" x1="361.9" y1="853.4" x2="365.1" y2="859.3"/>
<line class="k" x1="420.3" y1="848.6" x2="423.8" y2="854.4"/>
<line class="k" x1="478.2" y1="843.7" x2="481.9" y2="849.5"/>
<line class="k" x1="535.6" y1="838.9" x2="539.6" y2="844.7"/>
<line class="k" x1="592.6" y1="834.2" x2="596.9" y2="839.9"/>
<line class="k" x1="649.1" y1="829.5" x2="653.6" y2="835.1"/>
<line class="k" x1="705.2" y1="824.8" x2="709.9" y2="830.4"/>
<line class="k" x1="760.8" y1="820.2" x2="765.8" y2="825.7"/>
<line class="k" x1="816.0" y1="815.5" x2="821.2" y2="821.1"/>
<line class="k" x1="870.7" y1="811.0" x2="876.2" y2="816.5"/>
<line class="k" x1="925.0" y1="806.4" x2="930.7" y2="811.9"/>
<line class="k" x1="978.9" y1="801.9" x2="984.9" y2="807.3"/>
<text class="t" x="120.6" y="650.5" text-anchor="end">0</text>
<text class="t" x="117.2" y="531.5" text-anchor="end">10</text>
<text class="t" x="113.7" y="410.4" text-anchor="end">20</text>
<text class="t" x="110.2" y="287.1" text-anchor="end">30</text>
<text class="t" x="106.6" y="161.7" text-anchor="end">40</text>
<text class="t" x="103.0" y="34.0" text-anchor="end">50</text>
<text class="t" x="217.0" y="872.3" text-anchor="end">460</text>
<text class="t" x="200.6" y="835.4" text-anchor="end">510</text>
<text class="t" x="185.1" y="800.8" text-anchor="end">560</text>
<text class="t" x="170.5" y="768.0" text-anchor="end">610</text>
<text class="t" x="156.7" y="737.1" text-anchor="end">660</text>
<text class="t" x="143.7" y="707.8" text-anchor="end">710</text>
<text class="t" x="131.3" y="680.1" text-anchor="end">760</text>
<text class="t" x="304.5" y="886.7">310</text>
<text class="t" x="363.6" y="881.7">340</text>
<text class="t" x="422.3" y="876.9">5</text>
<text class="t" x="480.5" y="872.0">35</text>
<text class="t" x="538.2" y="867.2">65</text>
<text class="t" x="595.5" y="862.5">95</text>
<text class="t" x="652.3" y="857.8">125</text>
<text class="t" x="708.7" y="853.1">155</text>
<text class="t" x="764.6" y="848.5">185</text>
<text class="t" x="820.1" y="843.8">215</text>
<text class="t" x="875.1" y="839.3">245</text>
<text class="t" x="929.7" y="834.7">275</text>
<text class="t" x="983.9" y="830.2">305</text>
<text class="T" transform="matrix(0,-0.417,0.448,0,66.7,475.2)">% Reflectance</text>
<text class="T" transform="matrix(0.431,-0.0298,0.0276,0.399,514.4,949.9)">Day of Year</text>
<text class="T" transform="matrix(0.1745,0.3887,-0.3742,0.1667,4.4,621.3)">Waveband (nm)</text>
</svg>
</body></html>
